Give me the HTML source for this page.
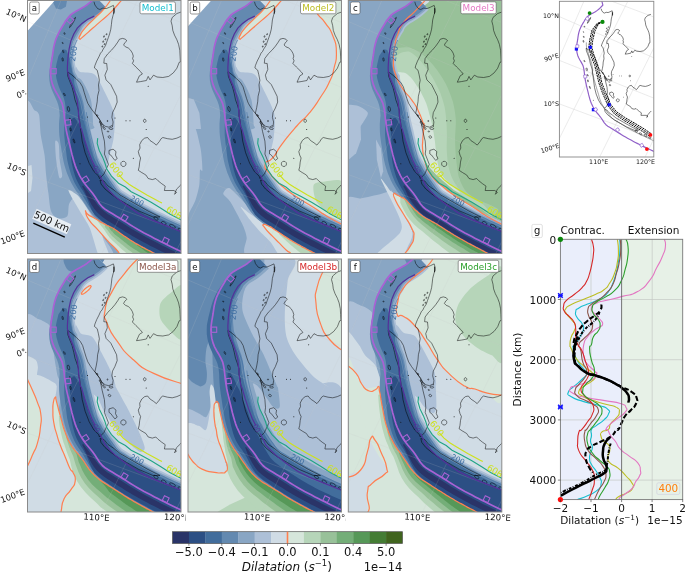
<!DOCTYPE html><html><head><meta charset="utf-8"><title>Dilatation models</title>
<style>html,body{margin:0;padding:0;background:#fff}svg{display:block}text{font-family:"DejaVu Sans","Liberation Sans",sans-serif}</style></head><body>
<svg width="685" height="573" viewBox="0 0 685 573">
<rect width="685" height="573" fill="#fff"/>
<defs><clipPath id="pc"><rect x="0" y="0" width="153.5" height="253.0"/></clipPath></defs>
<g transform="translate(27.5 0.5)"><g clip-path="url(#pc)">
<path d="M-2.0 -2.0 L155.5 -2.0 L155.5 255.0 L-2.0 255.0Z" fill="#d0dce5"/>
<path d="M48.2 67.4 C48.3 63.4 50.1 70.6 52.7 71.5 C55.2 72.4 63.9 71.1 67.4 74.2 C70.9 77.3 76.1 89.4 78.7 94.5 C81.3 99.7 85.5 108.2 86.6 112.6 C87.8 117.1 87.2 125.9 87.3 127.6 C87.4 129.3 87.5 124.0 87.3 125.5 C87.1 127.0 86.6 135.2 85.9 139.1 C85.3 143.0 83.1 151.1 82.1 154.9 C81.1 158.7 80.1 166.2 78.7 167.4 C77.3 168.6 73.4 166.5 71.9 164.0 C70.4 161.4 69.5 153.2 67.4 148.1 C65.3 143.1 58.2 132.5 56.1 126.2 C54.0 120.0 52.6 109.2 51.5 101.3 C50.5 93.5 48.0 71.4 48.2 67.4Z" fill="#adc0d7"/>
<path d="M-115.8 -187.3 L-117.2 -186.0 L-110.4 -192.5 L-103.5 -198.4 L-93.9 -205.9 L-84.1 -212.6 L-82.0 -214.0 L-91.4 -208.2 L-110.3 -195.1 L-134.5 -174.8 L-157.9 -150.3 L-174.4 -129.0 L-184.4 -113.8 L-192.6 -99.9 L-199.5 -87.0 L-207.1 -71.1 L-215.2 -51.2 L-222.5 -29.0 L-227.4 -9.6 L-230.1 3.8 L-231.3 11.2 L-232.7 19.4 L-234.3 31.6 L-235.9 47.7 L-236.8 70.7 L-235.1 102.4 L-229.7 135.5 L-221.8 164.5 L-211.5 191.6 L-202.8 209.9 L-199.8 215.5 L-203.5 207.8 L-210.6 190.4 L-217.1 168.7 L-220.3 153.7 L-221.1 148.5 L-220.8 150.8 L-219.8 158.4 L-218.4 168.1 L-216.3 179.8 L-214.4 189.0 L-212.9 195.4 L-211.5 201.4 L-210.4 206.1 L-209.1 211.6 L-207.2 219.2 L-205.0 227.2 L-201.6 239.0 L-196.3 254.4 L-191.3 267.4 L-185.4 280.9 L-177.0 297.7 L-169.5 311.0 L-161.0 324.4 L-149.6 340.5 L-143.8 347.9 L-143.5 348.3 L-142.9 349.1 L-144.0 347.6 L-140.4 352.7 L-126.6 370.4 L-107.5 391.1 L-86.1 410.3 L-62.8 427.5 L-49.3 435.9 L-46.8 437.5 L-44.3 439.0 L-41.7 440.6 L-39.2 442.2 L-34.7 445.0 L-28.1 449.0 L-21.5 452.9 L-14.9 456.7 L-8.1 460.5 L-2.3 463.7 L2.6 466.2 L7.4 468.7 L12.3 471.2 L17.5 473.8 L22.1 476.1 L26.0 478.1 L30.0 480.0 L34.6 482.2 L39.5 484.6 L44.3 486.8 L48.4 488.7 L51.4 490.1 L54.5 491.5 L165.3 245.3 L163.7 244.6 L162.0 243.8 L158.6 242.2 L155.1 240.6 L151.6 238.9 L148.1 237.2 L144.6 235.5 L141.3 233.9 L138.0 232.3 L134.8 230.6 L131.5 229.0 L128.2 227.2 L124.8 225.4 L121.4 223.6 L118.0 221.7 L114.6 219.8 L111.2 217.7 L107.8 215.7 L104.4 213.5 L100.8 211.3 L97.3 209.1 L93.7 206.9 L90.2 204.7 L87.0 202.9 L84.5 201.0 L82.2 198.9 L80.0 196.6 L77.9 193.8 L75.5 190.3 L72.8 186.7 L70.3 183.3 L67.8 180.2 L65.6 177.5 L63.9 175.1 L62.4 172.6 L60.9 170.1 L59.6 167.5 L58.4 164.6 L57.2 161.6 L56.1 158.5 L55.1 154.9 L54.1 151.1 L53.1 147.2 L52.1 143.1 L51.2 139.1 L50.3 135.2 L49.5 131.6 L48.7 128.0 L48.1 124.6 L47.6 121.0 L47.1 117.3 L46.6 113.2 L46.0 108.9 L45.1 104.3 L43.6 99.5 L41.8 95.1 L39.8 91.0 L37.8 87.4 L36.1 83.9 L34.8 80.6 L33.9 77.2 L33.4 74.0 L33.2 70.7 L33.4 67.1 L33.8 63.6 L34.2 60.0 L34.9 56.2 L35.5 52.4 L36.2 48.9 L37.0 45.6 L38.2 42.2 L39.6 38.7 L41.2 35.3 L43.0 32.0 L44.7 29.0 L46.5 26.4 L48.0 24.3 L49.7 22.5 L51.6 20.9 L54.3 19.1 L57.6 17.1 L61.4 14.9 L65.1 12.3 L68.8 9.4 L72.1 6.5 L73.7 4.9 L75.1 3.6Z" fill="#89a6c4"/>
<path d="M23.9 -1.6 L39.8 -1.6 L38.4 6.3 L33.4 9.0 L28.5 8.1Z" fill="#6389b0"/>
<path d="M-1.8 109.0 C-0.6 89.3 5.3 109.3 7.1 110.0 C8.8 110.7 10.7 111.2 11.6 114.5 C12.4 117.8 12.6 129.3 13.3 134.7 C14.1 140.0 16.4 149.8 17.1 154.8 C17.8 159.8 17.9 167.4 18.4 172.4 C18.9 177.5 20.2 187.5 20.9 192.6 C21.6 197.6 22.2 206.8 23.4 210.2 C24.6 213.5 27.5 217.0 29.7 217.7 C31.9 218.5 38.2 217.7 39.8 215.7 C41.4 213.8 40.4 205.7 41.8 203.1 C43.1 200.5 46.8 194.7 49.8 196.3 C52.9 197.9 61.6 210.0 64.9 215.2 C68.3 220.4 72.7 229.6 75.0 235.3 C77.4 241.1 92.8 255.0 82.6 258.0 C72.3 261.0 9.5 277.9 -1.8 258.0 C-13.0 238.1 -2.9 128.7 -1.8 109.0Z" fill="#adc0d7"/>
<path d="M27.7 141.0 C28.0 138.8 30.6 141.0 31.2 143.5 C31.8 146.0 31.8 155.6 32.2 159.8 C32.7 164.0 34.8 172.7 34.7 174.9 C34.7 177.2 32.5 179.0 31.7 177.0 C30.9 174.9 29.2 164.6 28.7 159.8 C28.2 155.0 27.4 143.1 27.7 141.0Z" fill="#adc0d7"/>
<path d="M0.5 165.4 L4.0 164.4 L5.0 177.5 L3.5 190.5 L0.5 192.6Z" fill="#d0dce5"/>
<path d="M41.0 189.5 C41.5 188.8 47.5 192.3 49.8 194.6 C52.2 196.8 56.6 203.3 58.6 206.4 C60.7 209.5 63.6 214.7 65.4 217.7 C67.3 220.8 71.0 226.0 72.5 229.1 C73.9 232.1 74.9 236.5 76.3 240.4 C77.6 244.2 83.1 255.7 82.6 258.0 C82.1 260.4 75.2 262.0 72.5 258.0 C69.8 254.0 64.9 233.8 62.4 227.8 C59.9 221.8 55.8 216.4 53.6 212.7 C51.4 209.0 47.7 203.2 46.1 200.1 C44.4 197.0 40.5 190.3 41.0 189.5Z" fill="#d0dce5"/>
<path d="M71.5 0.0 L70.2 1.4 L68.8 2.8 L65.6 5.6 L62.2 8.2 L58.7 10.6 L55.0 12.8 L51.6 14.9 L48.6 16.9 L46.3 18.9 L44.2 21.0 L42.4 23.5 L40.5 26.3 L38.6 29.5 L36.8 33.0 L35.0 36.6 L33.5 40.4 L32.2 44.2 L31.3 47.9 L30.6 51.5 L30.0 55.4 L29.3 59.2 L28.8 63.0 L28.4 66.8 L28.2 70.7 L28.4 74.5 L29.0 78.3 L30.1 82.2 L31.5 85.9 L33.3 89.6 L35.3 93.3 L37.3 97.2 L38.9 101.2 L40.2 105.5 L41.0 109.7 L41.6 113.8 L42.1 117.9 L42.6 121.7 L43.2 125.4 L43.8 129.0 L44.6 132.6 L45.4 136.3 L46.3 140.2 L47.3 144.3 L48.3 148.4 L49.3 152.4 L50.3 156.3 L51.4 159.9 L52.5 163.3 L53.8 166.5 L55.1 169.6 L56.5 172.4 L58.1 175.2 L59.8 177.9 L61.6 180.5 L63.9 183.3 L66.3 186.4 L68.8 189.7 L71.4 193.2 L73.8 196.7 L76.2 199.8 L78.7 202.5 L81.4 204.9 L84.3 207.0 L87.6 209.0 L91.1 211.2 L94.6 213.3 L98.2 215.5 L101.7 217.7 L105.2 219.9 L108.7 222.0 L112.1 224.1 L115.6 226.1 L119.0 228.0 L122.5 229.8 L125.9 231.6 L129.2 233.4 L132.5 235.1 L135.8 236.7 L139.1 238.3 L142.4 240.0 L145.9 241.7 L149.4 243.4 L153.0 245.1 L156.4 246.7 L159.9 248.3 L161.6 249.1 L163.2 249.8 L172.3 229.7 L170.8 229.0 L169.2 228.3 L165.8 226.7 L162.4 225.2 L158.9 223.7 L155.4 222.1 L151.9 220.6 L148.5 219.1 L145.3 217.6 L142.2 216.2 L138.9 214.7 L135.6 213.1 L132.2 211.5 L128.9 209.9 L125.6 208.2 L122.4 206.5 L119.1 204.7 L115.8 202.9 L112.3 200.8 L108.6 198.7 L104.9 196.6 L101.4 194.3 L97.8 192.1 L95.3 190.5 L94.0 189.4 L92.8 188.2 L91.7 186.8 L90.3 184.7 L88.1 181.3 L85.2 177.3 L82.8 173.6 L80.4 170.2 L78.6 167.7 L77.6 166.0 L76.7 164.1 L75.4 162.3 L74.4 160.6 L73.2 158.5 L72.1 156.1 L71.1 153.8 L70.1 150.8 L69.1 147.2 L68.2 143.5 L67.3 139.5 L66.3 135.5 L65.5 131.8 L64.7 128.2 L63.9 125.1 L63.2 122.1 L62.5 118.9 L61.8 115.4 L61.1 111.3 L60.3 106.4 L59.2 100.8 L57.4 94.6 L55.1 89.0 L53.4 84.0 L52.1 80.1 L51.6 77.2 L51.6 75.1 L50.5 73.6 L49.7 72.3 L49.0 70.7 L48.5 68.2 L47.8 65.2 L47.2 61.9 L46.8 58.2 L46.4 54.4 L46.8 51.3 L47.2 48.5 L47.9 45.7 L48.8 42.8 L50.1 39.8 L51.6 36.8 L53.0 34.2 L54.4 31.9 L55.4 30.5 L55.8 29.1 L56.6 27.6 L58.5 25.6 L61.3 23.2 L65.2 20.9 L69.5 18.2 L73.6 15.2 L77.3 12.1 L79.1 10.3 L80.4 8.9Z" fill="#adc0d7"/>
<path d="M71.5 0.0 L70.2 1.4 L68.8 2.8 L65.6 5.6 L62.2 8.2 L58.7 10.6 L55.0 12.8 L51.6 14.9 L48.6 16.9 L46.3 18.9 L44.2 21.0 L42.4 23.5 L40.5 26.3 L38.6 29.5 L36.8 33.0 L35.0 36.6 L33.5 40.4 L32.2 44.2 L31.3 47.9 L30.6 51.5 L30.0 55.4 L29.3 59.2 L28.8 63.0 L28.4 66.8 L28.2 70.7 L28.4 74.5 L29.0 78.3 L30.1 82.2 L31.5 85.9 L33.3 89.6 L35.3 93.3 L37.3 97.2 L38.9 101.2 L40.2 105.5 L41.0 109.7 L41.6 113.8 L42.1 117.9 L42.6 121.7 L43.2 125.4 L43.8 129.0 L44.6 132.6 L45.4 136.3 L46.3 140.2 L47.3 144.3 L48.3 148.4 L49.3 152.4 L50.3 156.3 L51.4 159.9 L52.5 163.3 L53.8 166.5 L55.1 169.6 L56.5 172.4 L58.1 175.2 L59.8 177.9 L61.6 180.5 L63.9 183.3 L66.3 186.4 L68.8 189.7 L71.4 193.2 L73.8 196.7 L76.2 199.8 L78.7 202.5 L81.4 204.9 L84.3 207.0 L87.6 209.0 L91.1 211.2 L94.6 213.3 L98.2 215.5 L101.7 217.7 L105.2 219.9 L108.7 222.0 L112.1 224.1 L115.6 226.1 L119.0 228.0 L122.5 229.8 L125.9 231.6 L129.2 233.4 L132.5 235.1 L135.8 236.7 L139.1 238.3 L142.4 240.0 L145.9 241.7 L149.4 243.4 L153.0 245.1 L156.4 246.7 L159.9 248.3 L161.6 249.1 L163.2 249.8 L171.5 231.3 L170.0 230.6 L168.4 229.9 L165.0 228.3 L161.6 226.8 L158.1 225.3 L154.6 223.8 L151.1 222.2 L147.7 220.7 L144.5 219.2 L141.4 217.8 L138.1 216.3 L134.8 214.7 L131.4 213.1 L128.0 211.4 L124.8 209.8 L121.5 208.1 L118.2 206.3 L114.8 204.4 L111.3 202.4 L107.6 200.3 L104.0 198.2 L100.4 195.9 L96.9 193.6 L94.3 192.0 L92.9 190.8 L91.6 189.5 L90.3 187.9 L88.8 185.8 L86.6 182.3 L83.8 178.4 L81.4 174.7 L79.0 171.3 L77.2 168.8 L76.1 167.0 L75.1 165.1 L73.8 163.1 L72.7 161.4 L71.6 159.1 L70.4 156.8 L69.4 154.3 L68.3 151.3 L67.4 147.7 L66.5 143.9 L65.5 139.9 L64.6 135.9 L63.7 132.2 L62.9 128.6 L62.1 125.4 L61.4 122.4 L60.7 119.2 L60.0 115.6 L59.3 111.5 L58.6 106.7 L57.5 101.2 L55.7 95.2 L53.4 89.8 L51.8 84.8 L50.5 80.9 L49.9 77.9 L49.8 75.7 L48.8 74.0 L47.9 72.5 L47.2 70.7 L46.7 68.1 L46.1 65.0 L45.5 61.7 L45.1 57.9 L44.7 54.1 L45.0 50.9 L45.5 48.0 L46.2 45.1 L47.2 42.0 L48.5 39.0 L50.0 35.9 L51.5 33.2 L52.9 30.9 L54.0 29.3 L54.6 27.8 L55.6 26.2 L57.5 24.1 L60.4 21.6 L64.3 19.4 L68.4 16.8 L72.4 13.8 L76.1 10.8 L77.8 9.0 L79.2 7.7Z" fill="#89a6c4"/>
<path d="M33.9 77.2 C32.4 78.1 34.5 79.7 34.8 80.6 C35.1 81.5 35.7 83.0 36.1 83.9 C36.5 84.8 37.3 86.4 37.8 87.4 C38.3 88.3 39.2 90.0 39.8 91.0 C40.3 92.1 41.3 94.0 41.8 95.1 C42.3 96.2 43.2 98.3 43.6 99.5 C44.1 100.8 44.8 103.0 45.1 104.3 C45.4 105.5 45.7 107.7 46.0 108.9 C46.2 110.0 46.4 112.1 46.6 113.2 C46.7 114.3 46.9 116.2 47.1 117.3 C47.2 118.3 47.4 120.0 47.6 121.0 C47.7 122.0 47.9 123.7 48.1 124.6 C48.2 125.5 48.5 127.1 48.7 128.0 C48.9 129.0 47.1 131.6 49.5 131.6 C51.8 131.5 63.9 128.8 66.1 127.9 C68.2 127.0 65.8 125.5 65.7 124.7 C65.6 123.9 65.6 122.6 65.5 121.7 C65.5 120.9 65.4 119.4 65.4 118.5 C65.3 117.6 65.2 116.0 65.2 115.0 C65.1 114.0 65.0 112.0 64.9 110.8 C64.8 109.5 64.6 107.2 64.4 105.7 C64.3 104.3 63.9 101.4 63.5 99.7 C63.1 98.1 61.9 94.9 61.3 93.2 C60.6 91.6 59.3 88.8 58.6 87.4 C57.9 86.0 56.6 83.7 55.9 82.6 C55.3 81.5 54.5 79.9 53.8 79.2 C53.2 78.5 51.8 77.8 51.1 77.4 C50.4 77.0 49.4 76.4 48.8 76.0 C48.2 75.6 48.6 74.3 46.6 74.4 C44.6 74.6 35.5 76.4 33.9 77.2Z" fill="#89a6c4"/>
<path d="M68.0 -3.5 L66.7 -2.2 L65.4 -0.9 L62.4 1.7 L59.2 4.2 L56.0 6.4 L52.5 8.5 L48.9 10.7 L45.6 12.9 L42.8 15.2 L40.4 17.8 L38.3 20.6 L36.2 23.7 L34.2 27.1 L32.3 30.7 L30.4 34.6 L28.8 38.7 L27.4 42.8 L26.4 46.8 L25.7 50.6 L24.8 54.5 L24.0 58.4 L23.2 62.3 L22.6 66.4 L21.9 70.7 L21.6 75.2 L21.9 79.9 L22.7 84.6 L24.2 89.1 L26.1 93.3 L27.9 97.2 L29.5 100.7 L30.7 104.2 L31.5 107.6 L31.9 111.2 L32.2 115.1 L31.8 119.2 L31.5 123.3 L31.5 127.3 L31.6 131.4 L31.9 135.4 L32.4 139.3 L33.0 143.4 L33.7 147.5 L34.3 151.8 L35.1 156.1 L35.9 160.3 L36.9 164.5 L38.1 168.6 L39.4 172.4 L40.9 176.1 L42.6 179.9 L44.4 183.4 L46.3 186.8 L48.6 190.4 L50.9 193.5 L53.0 196.6 L55.2 199.9 L57.4 203.2 L59.7 207.0 L62.6 211.2 L66.1 215.3 L69.9 219.0 L74.1 222.3 L78.0 224.9 L81.3 227.2 L84.7 229.5 L88.1 231.7 L91.5 233.9 L95.1 236.2 L98.7 238.5 L102.4 240.7 L106.1 242.9 L109.7 245.0 L113.3 246.9 L116.8 248.9 L120.3 250.7 L123.7 252.5 L127.0 254.3 L130.4 256.0 L133.8 257.7 L137.2 259.5 L140.8 261.3 L144.4 263.1 L148.0 264.8 L151.5 266.5 L153.3 267.3 L155.0 268.1 L170.8 233.0 L169.3 232.3 L167.7 231.5 L164.3 230.0 L160.8 228.5 L157.3 226.9 L153.8 225.4 L150.3 223.8 L146.9 222.3 L143.7 220.8 L140.5 219.4 L137.3 217.8 L133.9 216.3 L130.5 214.7 L127.2 213.0 L123.9 211.3 L120.6 209.6 L117.2 207.8 L113.9 205.9 L110.4 203.9 L106.7 201.8 L103.0 199.7 L99.5 197.4 L95.9 195.1 L93.3 193.5 L91.8 192.2 L90.3 190.8 L88.9 189.1 L87.4 186.8 L85.1 183.4 L82.4 179.4 L79.9 175.8 L77.6 172.4 L75.7 169.8 L74.6 168.0 L73.6 166.0 L72.2 164.0 L71.1 162.1 L69.9 159.8 L68.7 157.4 L67.7 154.9 L66.6 151.8 L65.6 148.1 L64.7 144.4 L63.8 140.3 L62.8 136.3 L62.0 132.6 L61.2 129.0 L60.3 125.8 L59.6 122.7 L59.0 119.4 L58.2 115.9 L57.5 111.8 L56.8 107.0 L55.7 101.6 L54.0 95.8 L51.8 90.5 L50.2 85.6 L48.9 81.7 L48.3 78.7 L48.1 76.2 L47.0 74.3 L46.1 72.7 L45.4 70.7 L45.0 68.0 L44.3 64.8 L43.7 61.4 L43.3 57.6 L42.9 53.8 L43.3 50.5 L43.8 47.5 L44.5 44.5 L45.5 41.3 L46.9 38.1 L48.4 35.0 L50.0 32.2 L51.5 29.9 L52.6 28.1 L53.3 26.5 L54.5 24.7 L56.5 22.6 L59.4 20.1 L63.3 17.9 L67.4 15.3 L71.3 12.4 L74.9 9.4 L76.6 7.7 L77.9 6.4Z" fill="#6389b0"/>
<path d="M35.6 48.8 L33.2 52.0 L30.9 55.5 L30.0 59.3 L29.1 63.0 L28.4 66.8 L28.2 70.7 L28.4 74.5 L29.0 78.3 L30.1 82.2 L31.3 86.0 L32.9 89.9 L34.7 93.7 L36.3 97.6 L37.4 101.8 L38.0 106.0 L38.2 110.2 L38.2 114.3 L37.5 118.5 L36.9 122.5 L36.7 126.4 L36.7 130.4 L36.7 134.3 L37.1 138.2 L37.5 142.3 L38.0 146.5 L38.6 150.8 L39.1 155.0 L39.7 159.2 L40.6 163.3 L41.6 167.3 L42.7 171.0 L43.9 174.7 L45.4 178.4 L46.9 181.9 L48.7 185.2 L50.9 188.7 L53.1 191.8 L55.1 195.0 L57.2 198.4 L59.3 201.9 L61.5 205.7 L64.3 209.9 L67.5 213.9 L71.1 217.5 L75.1 220.9 L78.9 223.5 L82.2 225.8 L85.5 228.2 L88.9 230.4 L92.3 232.6 L95.9 234.9 L99.5 237.2 L103.2 239.4 L106.8 241.6 L110.4 243.6 L114.0 245.6 L117.5 247.5 L121.0 249.4 L124.3 251.2 L127.7 252.9 L131.0 254.7 L134.4 256.4 L137.9 258.2 L141.5 260.0 L145.1 261.7 L148.6 263.5 L152.1 265.1 L153.9 265.9 L155.6 266.7 L170.0 234.8 L168.4 234.1 L166.8 233.3 L163.4 231.8 L160.0 230.3 L156.5 228.7 L152.9 227.2 L149.5 225.6 L146.1 224.1 L142.8 222.6 L139.6 221.2 L136.4 219.6 L133.0 218.1 L129.6 216.4 L126.2 214.8 L122.9 213.1 L119.5 211.3 L116.2 209.5 L112.8 207.6 L109.3 205.6 L105.6 203.5 L102.0 201.4 L98.4 199.1 L94.9 196.9 L92.2 195.1 L90.5 193.7 L88.9 192.2 L87.4 190.4 L85.8 188.0 L83.5 184.5 L80.8 180.6 L78.4 177.1 L76.0 173.7 L74.1 171.1 L73.0 169.1 L71.9 167.0 L70.4 165.0 L69.2 163.0 L68.0 160.6 L66.7 158.1 L65.6 155.5 L64.5 152.3 L63.5 148.7 L62.5 144.9 L61.5 140.9 L60.5 136.9 L59.6 133.1 L58.7 129.5 L57.8 126.3 L57.0 123.1 L56.2 119.8 L55.4 116.2 L54.5 112.1 L53.7 107.6 L52.6 102.4 L50.8 97.0 L48.6 92.0 L47.6 87.0 L46.8 82.8 L46.6 79.4 L47.0 76.6 L45.9 74.6 L45.1 72.8 L44.5 70.7 L44.2 67.9 L43.2 64.7 L42.4 61.2 L41.8 57.4 L40.4 53.3 L39.0 49.6Z" fill="#426d9c"/>
<path d="M58.2 210.9 C58.4 211.7 59.8 216.9 61.5 219.4 C63.2 221.9 68.4 227.1 70.9 229.9 C73.4 232.7 77.9 237.9 80.2 240.4 C82.5 242.9 86.8 246.8 88.4 248.5 C90.0 250.2 91.2 252.2 91.9 253.2 C92.6 254.2 85.0 254.2 93.5 256.0 C102.0 257.8 147.6 265.4 155.6 266.7 C163.7 268.0 154.4 266.1 153.9 265.9 C153.4 265.7 152.8 265.4 152.1 265.1 C151.4 264.8 149.6 263.9 148.6 263.5 C147.7 263.0 146.0 262.3 145.0 261.8 C144.1 261.3 142.4 260.5 141.4 260.0 C140.4 259.6 138.8 258.8 137.8 258.3 C136.9 257.8 135.2 257.0 134.3 256.6 C133.4 256.1 131.8 255.4 130.9 254.9 C130.0 254.5 128.4 253.7 127.5 253.2 C126.6 252.8 125.1 252.0 124.2 251.5 C123.3 251.1 121.7 250.2 120.8 249.8 C119.8 249.3 118.2 248.4 117.3 247.9 C116.4 247.5 114.7 246.6 113.8 246.1 C112.8 245.6 111.1 244.7 110.2 244.1 C109.2 243.6 107.5 242.6 106.6 242.0 C105.6 241.4 103.9 240.3 103.0 239.7 C102.0 239.1 100.4 238.0 99.4 237.3 C98.5 236.7 96.8 235.5 95.9 234.9 C95.0 234.3 93.3 233.1 92.4 232.5 C91.5 231.8 90.0 230.7 89.1 230.1 C88.2 229.5 86.7 228.3 85.7 227.8 C84.8 227.2 83.0 226.5 82.1 226.0 C81.1 225.5 79.5 224.7 78.4 224.2 C77.4 223.7 75.4 222.8 74.2 222.1 C73.1 221.5 71.0 220.0 69.7 219.2 C68.4 218.5 66.1 217.3 64.8 216.6 C63.5 215.8 60.7 214.3 59.9 213.5 C59.0 212.8 58.0 210.1 58.2 210.9Z" fill="#d6e6db"/>
<path d="M69.4 219.6 C69.8 220.3 71.9 223.2 72.7 224.3 C73.6 225.5 75.2 227.3 75.9 228.3 C76.7 229.3 77.8 231.0 78.4 231.9 C79.1 232.9 80.2 234.6 80.9 235.6 C81.6 236.5 82.9 238.0 83.7 238.8 C84.5 239.6 85.9 240.9 86.7 241.6 C87.5 242.4 89.0 243.8 89.8 244.6 C90.7 245.4 92.3 246.9 93.2 247.7 C94.1 248.5 95.7 249.8 96.6 250.6 C97.5 251.4 99.1 252.8 100.0 253.6 C100.9 254.3 102.6 255.5 103.6 256.2 C104.5 256.9 106.2 257.9 107.1 258.6 C108.1 259.2 109.6 260.2 110.6 260.8 C111.5 261.4 113.0 262.4 113.9 263.0 C114.8 263.5 116.3 264.6 117.2 265.2 C118.1 265.8 119.6 266.8 120.5 267.3 C121.4 267.9 122.9 268.9 123.8 269.5 C124.6 270.0 126.1 271.0 127.0 271.6 C127.9 272.1 129.4 273.1 130.3 273.7 C131.2 274.3 132.8 275.3 133.8 275.9 C134.7 276.5 136.4 277.5 137.3 278.1 C138.3 278.7 139.9 279.7 140.8 280.2 C141.7 280.7 143.6 281.5 144.3 281.9 C145.0 282.2 145.7 282.5 146.2 282.8 C146.7 283.0 146.8 285.7 148.0 283.6 C149.3 281.4 154.8 269.1 155.6 266.7 C156.4 264.4 154.4 266.1 153.9 265.9 C153.4 265.7 152.8 265.4 152.1 265.1 C151.4 264.8 149.6 263.9 148.6 263.5 C147.7 263.0 146.0 262.3 145.0 261.8 C144.1 261.3 142.4 260.5 141.4 260.0 C140.4 259.6 138.8 258.8 137.8 258.3 C136.9 257.8 135.2 257.0 134.3 256.6 C133.4 256.1 131.8 255.4 130.9 254.9 C130.0 254.5 128.4 253.7 127.5 253.2 C126.6 252.8 125.1 252.0 124.2 251.5 C123.3 251.1 121.7 250.2 120.8 249.8 C119.8 249.3 118.2 248.4 117.3 247.9 C116.4 247.5 114.7 246.6 113.8 246.1 C112.8 245.6 111.1 244.7 110.2 244.1 C109.2 243.6 107.5 242.6 106.6 242.0 C105.6 241.4 103.9 240.3 103.0 239.7 C102.0 239.1 100.4 238.0 99.4 237.3 C98.5 236.7 96.8 235.5 95.9 234.9 C95.0 234.3 93.3 233.1 92.4 232.5 C91.5 231.8 90.0 230.7 89.1 230.1 C88.2 229.5 86.7 228.3 85.7 227.8 C84.8 227.2 83.0 226.5 82.1 226.0 C81.1 225.5 79.5 224.7 78.4 224.2 C77.4 223.7 75.4 222.8 74.2 222.1 C73.1 221.5 70.3 219.6 69.7 219.2 C69.1 218.9 69.0 219.0 69.4 219.6Z" fill="#b6d5b9"/>
<path d="M77.3 226.0 C77.5 226.7 79.2 228.6 79.9 229.5 C80.6 230.5 81.8 232.2 82.5 233.0 C83.2 233.9 84.5 235.4 85.3 236.2 C86.1 236.9 87.6 238.1 88.4 238.9 C89.3 239.6 90.8 241.0 91.7 241.7 C92.5 242.5 94.2 243.8 95.1 244.6 C96.0 245.3 97.6 246.7 98.5 247.4 C99.4 248.1 101.0 249.4 101.9 250.1 C102.9 250.8 104.5 252.0 105.5 252.7 C106.4 253.3 108.1 254.3 109.1 254.9 C110.0 255.5 111.6 256.5 112.5 257.1 C113.4 257.6 115.0 258.6 115.9 259.2 C116.8 259.7 118.3 260.7 119.2 261.3 C120.1 261.9 121.6 262.8 122.5 263.4 C123.4 263.9 124.9 264.9 125.8 265.4 C126.6 265.9 128.1 266.9 129.0 267.4 C129.9 268.0 131.5 268.9 132.4 269.5 C133.3 270.0 134.9 271.0 135.9 271.6 C136.8 272.1 138.5 273.1 139.4 273.7 C140.4 274.2 142.0 275.2 142.9 275.7 C143.8 276.2 145.7 277.0 146.4 277.3 C147.1 277.7 147.8 278.0 148.3 278.2 C148.8 278.4 149.1 280.6 150.1 279.0 C151.1 277.5 155.1 268.5 155.6 266.7 C156.1 265.0 154.4 266.1 153.9 265.9 C153.4 265.7 152.8 265.4 152.1 265.1 C151.4 264.8 149.6 263.9 148.6 263.5 C147.7 263.0 146.0 262.3 145.0 261.8 C144.1 261.3 142.4 260.5 141.4 260.0 C140.4 259.6 138.8 258.8 137.8 258.3 C136.9 257.8 135.2 257.0 134.3 256.6 C133.4 256.1 131.8 255.4 130.9 254.9 C130.0 254.5 128.4 253.7 127.5 253.2 C126.6 252.8 125.1 252.0 124.2 251.5 C123.3 251.1 121.7 250.2 120.8 249.8 C119.8 249.3 118.2 248.4 117.3 247.9 C116.4 247.5 114.7 246.6 113.8 246.1 C112.8 245.6 111.1 244.7 110.2 244.1 C109.2 243.6 107.5 242.6 106.6 242.0 C105.6 241.4 103.9 240.3 103.0 239.7 C102.0 239.1 100.4 238.0 99.4 237.3 C98.5 236.7 96.8 235.5 95.9 234.9 C95.0 234.3 93.3 233.1 92.4 232.5 C91.5 231.8 90.0 230.7 89.1 230.1 C88.2 229.5 86.7 228.3 85.7 227.8 C84.8 227.2 83.0 226.5 82.1 226.0 C81.1 225.5 79.0 224.2 78.4 224.2 C77.8 224.2 77.1 225.3 77.3 226.0Z" fill="#98c199"/>
<path d="M81.5 227.0 C81.7 227.6 83.3 229.6 84.1 230.5 C84.8 231.4 86.1 232.8 86.9 233.5 C87.8 234.3 89.3 235.4 90.1 236.1 C91.0 236.8 92.6 238.1 93.5 238.8 C94.4 239.5 96.0 240.8 96.9 241.5 C97.8 242.2 99.5 243.5 100.4 244.2 C101.3 244.9 102.9 246.1 103.9 246.7 C104.8 247.4 106.5 248.5 107.4 249.1 C108.4 249.7 110.1 250.7 111.0 251.3 C111.9 251.9 113.5 252.8 114.4 253.4 C115.4 253.9 116.9 254.9 117.8 255.4 C118.7 255.9 120.3 256.9 121.2 257.4 C122.1 257.9 123.6 258.9 124.5 259.4 C125.3 259.9 126.9 260.8 127.8 261.3 C128.6 261.8 130.2 262.7 131.1 263.3 C132.0 263.8 133.5 264.7 134.4 265.2 C135.4 265.7 137.0 266.7 138.0 267.2 C138.9 267.8 140.6 268.7 141.5 269.2 C142.5 269.8 144.1 270.7 145.0 271.2 C145.9 271.7 147.8 272.5 148.5 272.8 C149.2 273.1 149.9 273.4 150.4 273.7 C150.8 273.9 151.4 275.4 152.1 274.5 C152.8 273.5 155.4 267.8 155.6 266.7 C155.9 265.6 154.4 266.1 153.9 265.9 C153.4 265.7 152.8 265.4 152.1 265.1 C151.4 264.8 149.6 263.9 148.6 263.5 C147.7 263.0 146.0 262.3 145.0 261.8 C144.1 261.3 142.4 260.5 141.4 260.0 C140.4 259.6 138.8 258.8 137.8 258.3 C136.9 257.8 135.2 257.0 134.3 256.6 C133.4 256.1 131.8 255.4 130.9 254.9 C130.0 254.5 128.4 253.7 127.5 253.2 C126.6 252.8 125.1 252.0 124.2 251.5 C123.3 251.1 121.7 250.2 120.8 249.8 C119.8 249.3 118.2 248.4 117.3 247.9 C116.4 247.5 114.7 246.6 113.8 246.1 C112.8 245.6 111.1 244.7 110.2 244.1 C109.2 243.6 107.5 242.6 106.6 242.0 C105.6 241.4 103.9 240.3 103.0 239.7 C102.0 239.1 100.4 238.0 99.4 237.3 C98.5 236.7 96.8 235.5 95.9 234.9 C95.0 234.3 93.3 233.1 92.4 232.5 C91.5 231.8 90.0 230.7 89.1 230.1 C88.2 229.5 86.7 228.3 85.7 227.8 C84.8 227.2 82.6 226.1 82.1 226.0 C81.5 225.9 81.2 226.4 81.5 227.0Z" fill="#74ae78"/>
<path d="M109.7 244.9 C110.1 245.3 112.2 246.7 113.1 247.3 C114.0 248.0 115.5 249.1 116.4 249.7 C117.2 250.3 118.7 251.5 119.6 252.0 C120.5 252.6 122.0 253.5 122.9 254.0 C123.8 254.5 125.3 255.5 126.2 256.0 C127.1 256.5 128.6 257.4 129.5 257.9 C130.3 258.4 131.9 259.3 132.8 259.8 C133.7 260.3 135.2 261.2 136.2 261.7 C137.1 262.2 138.7 263.1 139.7 263.7 C140.6 264.2 142.3 265.1 143.2 265.6 C144.2 266.2 145.8 267.1 146.7 267.6 C147.6 268.0 149.5 268.9 150.2 269.2 C150.9 269.5 151.5 269.8 152.0 270.0 C152.5 270.2 153.3 271.3 153.8 270.8 C154.3 270.4 155.6 267.4 155.6 266.7 C155.6 266.1 154.4 266.1 153.9 265.9 C153.4 265.7 152.8 265.4 152.1 265.1 C151.4 264.8 149.6 263.9 148.6 263.5 C147.7 263.0 146.0 262.3 145.0 261.8 C144.1 261.3 142.4 260.5 141.4 260.0 C140.4 259.6 138.8 258.8 137.8 258.3 C136.9 257.8 135.2 257.0 134.3 256.6 C133.4 256.1 131.8 255.4 130.9 254.9 C130.0 254.5 128.4 253.7 127.5 253.2 C126.6 252.8 125.1 252.0 124.2 251.5 C123.3 251.1 121.7 250.2 120.8 249.8 C119.8 249.3 118.2 248.4 117.3 247.9 C116.4 247.5 114.7 246.6 113.8 246.1 C112.8 245.6 110.7 244.3 110.2 244.1 C109.6 244.0 109.4 244.5 109.7 244.9Z" fill="#569858"/>
<path d="M45.1 117.5 L43.6 121.6 L42.8 125.4 L42.5 129.3 L42.6 133.0 L42.8 136.9 L43.0 141.0 L43.1 145.3 L43.2 149.6 L43.4 153.9 L43.6 158.2 L44.2 162.2 L45.0 166.1 L45.9 169.7 L46.9 173.3 L48.1 176.9 L49.5 180.3 L51.2 183.6 L53.1 187.0 L55.2 190.1 L57.2 193.4 L59.2 196.9 L60.7 200.8 L62.3 205.1 L64.4 209.7 L67.1 214.2 L70.9 217.8 L74.9 221.0 L78.8 223.6 L82.2 225.8 L85.6 228.0 L89.0 230.2 L92.5 232.4 L96.0 234.7 L99.7 236.9 L103.3 239.1 L107.0 241.2 L110.6 243.3 L114.2 245.2 L117.7 247.1 L121.2 248.9 L124.6 250.7 L128.0 252.4 L131.3 254.0 L134.7 255.7 L138.2 257.4 L141.8 259.2 L145.5 260.9 L149.0 262.6 L152.5 264.2 L154.3 265.0 L156.0 265.8 L168.6 238.0 L167.0 237.3 L165.3 236.5 L161.9 234.9 L158.5 233.4 L154.9 231.9 L151.4 230.3 L147.9 228.8 L144.5 227.2 L141.3 225.8 L138.0 224.3 L134.7 222.7 L131.4 221.1 L128.0 219.5 L124.5 217.8 L121.2 216.1 L117.8 214.4 L114.4 212.5 L111.0 210.6 L107.4 208.6 L103.8 206.5 L100.1 204.4 L96.6 202.1 L93.1 199.9 L90.2 198.2 L88.2 196.6 L86.3 194.8 L84.5 192.8 L82.6 190.3 L80.3 186.8 L77.6 183.0 L75.3 179.4 L73.1 176.0 L71.2 173.3 L70.0 171.1 L68.8 168.8 L67.4 166.6 L66.1 164.5 L64.8 161.9 L63.5 159.3 L62.3 156.5 L61.2 153.3 L60.0 149.6 L58.9 145.8 L57.8 141.8 L56.6 137.8 L55.5 134.0 L54.3 130.5 L53.3 127.2 L51.8 124.0 L49.8 120.7 L47.1 117.3Z" fill="#2c4f84"/>
<path d="M54.6 185.8 L56.4 189.2 L58.0 192.8 L59.6 196.6 L61.8 200.1 L63.9 203.9 L66.5 207.9 L69.6 211.7 L73.1 215.1 L77.0 218.0 L80.7 220.4 L84.1 222.6 L87.6 224.8 L91.0 227.0 L94.5 229.1 L98.1 231.4 L101.7 233.6 L105.3 235.7 L108.9 237.8 L112.5 239.8 L116.1 241.7 L119.6 243.6 L123.0 245.4 L126.4 247.1 L129.8 248.8 L133.1 250.5 L136.5 252.1 L140.0 253.8 L143.6 255.6 L147.2 257.3 L150.7 259.0 L154.2 260.6 L156.0 261.4 L157.7 262.2 L159.9 257.1 L158.3 256.4 L156.5 255.6 L153.1 254.0 L149.5 252.3 L146.0 250.6 L142.4 248.8 L139.0 247.1 L135.6 245.4 L132.3 243.8 L129.0 242.1 L125.6 240.3 L122.2 238.6 L118.8 236.7 L115.3 234.8 L111.7 232.8 L108.2 230.8 L104.7 228.7 L101.1 226.5 L97.6 224.2 L94.1 222.0 L90.6 219.8 L87.1 217.7 L83.6 215.6 L80.0 213.4 L76.6 210.8 L73.4 207.9 L70.4 204.7 L67.7 201.1 L65.3 197.6 L62.8 194.2 L60.4 191.0 L58.0 187.9 L55.7 185.0Z" fill="#2a3468"/>
<path d="M83.7 -1.2 C81.2 0.1 78.6 6.0 76.4 8.6 C74.3 11.1 69.7 15.3 67.4 17.6 C65.0 20.0 60.7 24.1 58.8 26.2 C56.9 28.3 54.3 31.8 53.4 33.4 C52.5 35.1 51.6 38.1 52.0 38.4 C52.4 38.7 54.3 37.1 56.1 35.7 C57.8 34.3 62.7 29.9 65.1 27.8 C67.5 25.7 71.8 22.0 74.2 19.9 C76.6 17.8 81.1 14.0 83.2 11.9 C85.3 9.9 88.4 6.2 90.0 4.5 C91.6 2.7 95.8 -0.4 95.0 -1.2 C94.2 -1.9 86.2 -2.5 83.7 -1.2Z" fill="#d6e6db"/>
<path d="M0.0 0.0 L27.3 0.0 L0.0 30.5Z" fill="#fff"/>
<g stroke="#c8c8c8" stroke-width="0.5" opacity="0.32"><line x1="0.0" y1="21.0" x2="153.5" y2="87.0"/><line x1="0.0" y1="97.0" x2="153.5" y2="158.0"/><line x1="0.0" y1="174.0" x2="153.5" y2="231.0"/><line x1="96.0" y1="-0.5" x2="153.5" y2="22.0"/><line x1="0.0" y1="79.5" x2="33.7" y2="-0.5"/><line x1="0.0" y1="224.5" x2="110.2" y2="-0.5"/><line x1="74.2" y1="253.0" x2="153.5" y2="94.0"/><line x1="147.5" y1="253.0" x2="153.5" y2="241.0"/></g>
<path d="M93.5 256.0 C93.0 255.1 93.6 255.7 91.9 253.2 C90.2 250.7 92.3 252.8 88.4 248.5 C84.5 244.2 86.0 246.6 80.2 240.4 C74.4 234.2 77.1 236.9 70.9 229.9 C64.7 222.9 65.7 225.7 61.5 219.4 C57.3 213.1 58.7 212.9 58.2 210.9 C57.7 208.9 57.7 211.7 59.9 213.5 C62.1 215.4 61.5 214.7 64.8 216.6 C68.1 218.5 66.6 217.4 69.7 219.2 C72.8 221.1 71.3 220.5 74.2 222.1 C77.1 223.8 75.8 222.9 78.4 224.2 C81.0 225.5 79.6 224.8 82.1 226.0 C84.5 227.2 83.4 226.4 85.7 227.8 C88.1 229.2 86.8 228.6 89.1 230.1 C91.3 231.7 90.2 230.9 92.4 232.5 C94.7 234.1 93.6 233.3 95.9 234.9 C98.2 236.5 97.1 235.7 99.4 237.3 C101.8 238.9 100.6 238.1 103.0 239.7 C105.4 241.2 104.2 240.5 106.6 242.0 C108.9 243.5 107.8 242.8 110.2 244.1 C112.6 245.5 111.4 244.8 113.8 246.1 C116.2 247.3 115.0 246.7 117.3 247.9 C119.6 249.2 118.5 248.6 120.8 249.8 C123.1 250.9 121.9 250.4 124.2 251.5 C126.4 252.7 125.3 252.1 127.5 253.2 C129.8 254.4 128.7 253.8 130.9 254.9 C133.2 256.0 132.0 255.5 134.3 256.6 C136.6 257.7 135.5 257.1 137.8 258.3 C140.2 259.5 139.0 258.9 141.4 260.0 C143.8 261.2 142.6 260.6 145.0 261.8 C147.4 262.9 146.3 262.4 148.6 263.5 C151.0 264.6 150.3 264.3 152.1 265.1 C153.9 265.9 152.7 265.4 153.9 265.9 C155.1 266.5 155.0 266.5 155.6 266.7" fill="none" stroke="#ff7f50" stroke-width="1.2" stroke-linejoin="round"/>
<path d="M83.7 -1.2 C81.3 2.1 81.9 2.3 76.4 8.6 C71.0 14.8 73.3 11.7 67.4 17.6 C61.5 23.5 63.5 20.9 58.8 26.2 C54.1 31.5 55.6 29.4 53.4 33.4 C51.1 37.5 51.1 37.7 52.0 38.4 C52.9 39.2 51.7 39.3 56.1 35.7 C60.4 32.2 59.1 33.1 65.1 27.8 C71.2 22.5 68.1 25.1 74.2 19.9 C80.2 14.6 77.9 17.1 83.2 11.9 C88.5 6.8 86.1 8.9 90.0 4.5 C93.9 0.1 93.3 0.7 95.0 -1.2" fill="none" stroke="#ff7f50" stroke-width="1.2" stroke-linejoin="round"/>
<path d="M49.5 39.5 L48.1 42.4 L46.9 45.4 L46.0 48.1 L45.4 51.0 L44.8 54.1 L44.2 57.8 L43.6 61.4 L43.2 64.7 L42.9 67.8 L42.7 70.7 L42.7 73.0 L43.0 75.2 L43.6 77.7 L44.5 80.3 L45.9 83.2 L47.8 86.8 L50.0 91.3 L52.2 96.5 L54.0 102.1 L55.1 107.3 L55.8 112.0 L56.4 116.1 L57.0 119.7 L57.5 123.1 L58.1 126.2 L58.9 129.5 L59.8 133.1 L60.7 136.8 L61.7 140.8 L62.7 144.8 L63.7 148.6 L64.8 152.3 L65.5 155.5 L66.3 158.3 L67.2 161.0 L68.1 163.5 L69.0 165.7 L70.1 168.0 L71.3 170.2 L72.5 172.3 L74.4 174.9 L76.8 178.3 L79.2 181.8 L82.0 185.6 L84.5 189.0 L86.3 191.3 L88.1 193.0 L89.9 194.5 L91.7 195.8 L94.6 197.4 L98.2 199.5 L101.8 201.7 L105.4 203.8 L109.0 206.0 L112.5 208.1 L115.8 210.1 L119.2 212.0 L122.5 213.8 L125.8 215.6 L129.1 217.3 L132.5 219.0 L135.8 220.7 L139.1 222.2 L142.3 223.8 L145.5 225.3 L148.9 226.8 L152.3 228.4 L155.8 230.0 L159.3 231.6 L162.8 233.1 L166.2 234.7" fill="none" stroke="#3f6fa3" stroke-width="0.6"/><path d="M58.8 111.6 L59.4 115.7 L59.9 119.3 L60.5 122.6 L61.1 125.6 L61.8 128.9 L62.7 132.4 L63.6 136.1 L64.6 140.1 L65.6 144.1 L66.6 147.9 L67.7 151.5 L68.4 154.6 L69.1 157.2 L69.9 159.8 L70.8 162.3 L71.6 164.3 L72.7 166.5 L73.8 168.6 L74.9 170.5 L76.8 173.0 L79.2 176.5 L81.6 180.0 L84.5 183.8 L86.9 187.2 L88.6 189.3 L90.2 190.9 L91.8 192.2 L93.4 193.3 L96.1 194.9 L99.7 197.0 L103.4 199.1 L107.0 201.3 L110.6 203.5 L114.1 205.6 L117.4 207.5 L120.7 209.4 L124.0 211.2 L127.2 212.9 L130.5 214.7 L133.9 216.4 L137.2 218.0 L140.4 219.6 L143.6 221.1 L146.8 222.6 L150.2 224.1 L153.7 225.7 L157.1 227.3 L160.6 228.9 L164.1 230.4 L167.5 232.0" fill="none" stroke="#3f6fa3" stroke-width="0.5"/><g fill="none" stroke="#000" stroke-width="0.5" stroke-linejoin="round"><path d="M66.5 1.3 L67.4 4.5 L70.1 8.1 L72.4 9.0 L75.3 7.6 L78.7 8.1 L82.1 6.7 L85.9 4.9 L86.9 8.6 L86.2 13.1 L86.2 7.7 L86.8 11.2 L85.6 14.7 L84.4 19.4 L83.9 24.1 L83.3 28.7 L82.1 33.4 L80.9 36.9 L79.2 41.6 L78.0 45.1 L75.7 48.6 L74.5 51.0 L73.0 52.7 L71.5 56.1 L69.2 60.6 L67.4 65.1 L66.9 67.4 L69.7 69.7 L70.8 74.2 L71.9 79.8 L71.0 84.4 L71.5 90.0 L70.1 95.7 L69.7 101.3 L68.7 107.0 L67.4 112.6 L69.7 116.0 L72.4 119.4 L74.2 122.8 L77.6 125.8 L81.4 126.7 L84.4 125.1 L85.0 126.2 L85.6 121.5 L84.4 116.8 L85.0 112.1 L87.4 107.5 L89.7 101.6 L89.1 95.8 L86.2 89.9 L83.3 84.1 L78.6 79.4 L77.4 74.7 L79.8 68.9 L79.2 63.0 L76.3 62.7 L76.8 58.0 L80.3 53.3 L83.9 49.8 L87.4 45.7 L90.3 41.6 L92.0 38.7 L95.0 37.9 L97.9 38.7 L99.3 40.4 L97.3 42.2 L96.1 44.5 L97.9 46.3 L100.8 47.5 L103.2 49.8 L104.9 52.7 L105.8 55.6 L105.1 58.0 L106.1 60.3 L104.9 63.0 L108.4 66.5 L113.1 71.2 L114.9 73.5 L111.9 75.3 L109.0 81.7 L113.1 81.1 L118.9 80.0 L120.7 75.9 L122.5 79.4 L126.0 74.7 L129.5 76.5 L135.3 77.0 L141.2 75.9 L145.8 72.4 L149.4 67.7 L151.7 61.8 L152.9 61.5 L152.6 55.6 L152.3 49.8 L151.1 43.9 L149.4 39.3 L147.0 34.6 L145.3 29.9 L144.7 25.2 L143.5 20.6 L144.7 17.0 L149.4 13.0 L154.5 11.2"/><path d="M39.9 71.2 L40.4 75.9 L42.2 80.6 L44.5 86.4 L46.3 93.4 L47.5 99.3 L49.2 103.9 L51.0 109.8 L51.0 115.6 L52.1 120.3 L53.0 127.7 L54.7 140.6 L57.6 152.2 L61.7 162.8 L66.4 171.0 L71.1 175.6 L72.0 178.0 L72.5 177.5 L76.4 173.5 L78.1 169.8 L81.0 163.9 L78.5 157.5 L76.9 153.5 L77.5 148.7 L76.9 140.6 L74.6 131.2 L72.3 119.5 L69.7 115.6 L66.2 111.5 L63.2 107.5 L60.3 102.8 L58.6 98.1 L56.8 92.2 L55.1 86.4 L52.7 82.3 L48.6 78.2 L43.9 74.1 L39.9 71.2"/><path d="M81.5 149.9 L85.6 148.7 L88.5 151.1 L88.0 154.6 L89.7 158.1 L87.4 159.9 L85.0 156.9 L83.3 154.6 L81.5 153.4 L81.5 149.9"/><path d="M98.5 163.4 L98.2 164.7 L97.2 165.7 L95.9 166.0 L94.6 165.7 L93.6 164.7 L93.3 163.4 L93.6 162.1 L94.6 161.1 L95.9 160.8 L97.2 161.1 L98.2 162.1 L98.5 163.4"/><path d="M154.5 135.3 L149.4 137.6 L144.7 138.8 L140.0 138.2 L135.3 137.0 L133.6 138.2 L131.8 141.1 L128.9 144.6 L126.0 142.3 L122.5 140.0 L120.1 137.0 L117.2 137.6 L114.3 140.0 L112.2 144.1 L112.5 147.6 L110.8 151.1 L111.7 154.6 L113.1 157.5 L112.2 161.6 L111.7 166.3 L110.8 169.8 L114.3 172.1 L118.4 174.5 L120.7 178.0 L124.8 179.1 L128.3 178.0 L130.6 180.3 L134.2 183.2 L137.7 185.6 L136.9 190.0 L146.5 190.0 L149.0 191.9 L147.1 193.8 L149.0 188.7 L152.9 184.9 L155.0 182.3"/><path d="M72.5 179.5 L76.5 180.5 L80.5 185.5 L86.5 189.5 L92.5 194.5 L99.5 198.5 L106.5 202.5 L113.5 206.5 L120.5 210.5 L126.5 213.5 L132.5 216.5 L125.5 216.5 L118.5 213.5 L111.5 210.5 L104.5 206.5 L97.5 202.5 L90.5 198.5 L83.5 193.5 L77.5 188.5 L73.5 183.5 L72.5 179.5"/><path d="M130.6 219.2 L130.0 219.6 L129.0 219.6 L127.9 219.1 L126.9 218.4 L126.4 217.6 L126.4 216.8 L127.0 216.4 L128.0 216.4 L129.1 216.9 L130.1 217.6 L130.6 218.4 L130.6 219.2"/><path d="M138.6 223.9 L137.9 224.4 L136.9 224.4 L135.6 223.9 L134.6 223.1 L134.0 222.2 L134.0 221.5 L134.7 221.0 L135.7 221.0 L137.0 221.5 L138.0 222.3 L138.6 223.2 L138.6 223.9"/><path d="M147.8 227.3 L147.1 227.7 L145.8 227.6 L144.3 227.0 L143.0 226.1 L142.2 225.1 L142.2 224.3 L142.9 223.9 L144.2 224.0 L145.7 224.6 L147.0 225.5 L147.8 226.5 L147.8 227.3"/><path d="M154.4 230.4 L153.9 230.7 L153.0 230.7 L151.9 230.4 L151.0 229.7 L150.5 228.9 L150.6 228.2 L151.1 227.9 L152.0 227.9 L153.1 228.2 L154.0 228.9 L154.5 229.7 L154.4 230.4"/><path d="M37.6 95.4 L37.3 95.4 L36.8 94.9 L36.4 94.3 L36.1 93.5 L36.0 92.9 L36.2 92.6 L36.5 92.6 L37.0 93.1 L37.4 93.7 L37.7 94.5 L37.8 95.1 L37.6 95.4"/><path d="M41.6 111.0 L41.0 110.8 L40.4 110.0 L39.9 108.7 L39.8 107.4 L40.0 106.4 L40.4 106.0 L41.0 106.2 L41.6 107.0 L42.1 108.3 L42.2 109.6 L42.0 110.6 L41.6 111.0"/><path d="M43.4 120.6 L43.0 120.5 L42.6 120.0 L42.2 119.3 L42.0 118.5 L42.0 117.9 L42.2 117.6 L42.6 117.7 L43.0 118.2 L43.4 118.9 L43.6 119.7 L43.6 120.3 L43.4 120.6"/><path d="M43.5 130.6 L43.1 130.5 L42.7 129.9 L42.4 129.1 L42.3 128.2 L42.3 127.5 L42.5 127.2 L42.9 127.3 L43.3 127.9 L43.6 128.7 L43.7 129.6 L43.7 130.3 L43.5 130.6"/><path d="M47.2 142.6 L46.8 142.4 L46.4 141.7 L45.9 140.7 L45.7 139.6 L45.6 138.8 L45.8 138.4 L46.2 138.6 L46.6 139.3 L47.1 140.3 L47.3 141.4 L47.4 142.2 L47.2 142.6"/><path d="M48.0 16.8 L47.9 17.7 L47.0 19.7 L45.6 22.3 L44.0 24.9 L42.7 26.7 L42.0 27.2 L42.1 26.3 L43.0 24.3 L44.4 21.7 L46.0 19.1 L47.3 17.3 L48.0 16.8"/><path d="M37.5 33.8 L37.3 33.9 L36.9 33.7 L36.6 33.3 L36.4 32.8 L36.3 32.4 L36.5 32.2 L36.7 32.1 L37.1 32.3 L37.4 32.7 L37.6 33.2 L37.7 33.6 L37.5 33.8"/><path d="M35.6 43.1 L35.4 43.1 L35.1 43.0 L34.9 42.7 L34.7 42.4 L34.7 42.1 L34.8 41.9 L35.0 41.9 L35.3 42.0 L35.5 42.3 L35.7 42.6 L35.7 42.9 L35.6 43.1"/><path d="M36.1 52.3 L35.8 52.2 L35.5 51.8 L35.2 51.1 L35.1 50.4 L35.1 49.9 L35.3 49.7 L35.6 49.8 L35.9 50.2 L36.2 50.9 L36.3 51.6 L36.3 52.1 L36.1 52.3"/><path d="M35.5 60.8 L35.2 60.6 L34.8 60.0 L34.6 59.1 L34.5 58.2 L34.6 57.5 L34.9 57.2 L35.2 57.4 L35.6 58.0 L35.8 58.9 L35.9 59.8 L35.8 60.5 L35.5 60.8"/><path d="M118.5 120.3 L118.3 121.1 L117.8 121.7 L117.2 121.9 L116.5 121.7 L116.1 121.1 L115.9 120.3 L116.1 119.5 L116.5 118.9 L117.2 118.7 L117.8 118.9 L118.3 119.5 L118.5 120.3"/><path d="M74.0 123.6 L73.5 123.6 L73.0 123.4 L72.4 122.8 L72.0 122.1 L71.8 121.5 L72.0 121.0 L72.5 121.0 L73.0 121.2 L73.6 121.8 L74.0 122.5 L74.2 123.1 L74.0 123.6"/><path d="M75.7 126.3 L75.3 126.4 L74.7 126.2 L74.1 125.7 L73.7 125.0 L73.6 124.4 L73.9 123.9 L74.3 123.8 L74.9 124.0 L75.5 124.5 L75.9 125.2 L76.0 125.8 L75.7 126.3"/><path d="M77.7 128.8 L77.3 128.9 L76.7 128.8 L76.1 128.4 L75.7 127.8 L75.6 127.2 L75.7 126.8 L76.1 126.7 L76.7 126.8 L77.3 127.2 L77.7 127.8 L77.8 128.4 L77.7 128.8"/><path d="M85.4 128.3 L85.1 128.7 L84.4 129.0 L83.4 129.0 L82.5 128.8 L81.8 128.4 L81.6 127.9 L81.9 127.5 L82.6 127.2 L83.6 127.2 L84.5 127.4 L85.2 127.8 L85.4 128.3"/><path d="M83.2 137.2 L82.8 137.6 L82.2 137.7 L81.5 137.5 L80.9 137.0 L80.7 136.4 L80.8 135.8 L81.2 135.4 L81.8 135.3 L82.5 135.5 L83.1 136.0 L83.3 136.6 L83.2 137.2"/><path d="M70.3 115.7 L69.9 115.8 L69.6 115.7 L69.2 115.4 L69.0 115.0 L69.0 114.6 L69.1 114.3 L69.5 114.2 L69.8 114.3 L70.2 114.6 L70.4 115.0 L70.4 115.4 L70.3 115.7"/><path d="M76.8 35.2 L77.0 35.4 L77.0 35.7 L76.9 36.2 L76.7 36.6 L76.4 36.8 L76.2 36.8 L76.0 36.6 L76.0 36.3 L76.1 35.8 L76.3 35.4 L76.6 35.2 L76.8 35.2"/><path d="M78.3 38.1 L78.4 38.2 L78.5 38.6 L78.4 38.9 L78.2 39.3 L77.9 39.5 L77.7 39.5 L77.6 39.4 L77.5 39.0 L77.6 38.7 L77.8 38.3 L78.1 38.1 L78.3 38.1"/><path d="M76.0 40.3 L76.2 40.5 L76.2 40.8 L76.1 41.3 L75.9 41.7 L75.6 41.9 L75.4 41.9 L75.2 41.7 L75.2 41.4 L75.3 40.9 L75.5 40.5 L75.8 40.3 L76.0 40.3"/><path d="M77.4 43.0 L77.5 43.2 L77.5 43.5 L77.5 43.8 L77.3 44.2 L77.1 44.3 L76.8 44.4 L76.7 44.2 L76.7 43.9 L76.7 43.6 L76.9 43.2 L77.1 43.1 L77.4 43.0"/><path d="M79.4 33.1 L79.5 33.3 L79.5 33.6 L79.5 33.9 L79.3 34.3 L79.1 34.4 L78.8 34.5 L78.7 34.3 L78.7 34.0 L78.7 33.7 L78.9 33.3 L79.1 33.2 L79.4 33.1"/><path d="M75.1 45.3 L75.2 45.5 L75.2 45.8 L75.2 46.1 L75.0 46.5 L74.8 46.6 L74.5 46.7 L74.4 46.5 L74.4 46.2 L74.4 45.9 L74.6 45.5 L74.8 45.4 L75.1 45.3"/><path d="M81.3 131.2 L81.1 131.4 L80.8 131.5 L80.4 131.5 L80.0 131.3 L79.8 131.0 L79.7 130.8 L79.9 130.6 L80.2 130.5 L80.6 130.5 L81.0 130.7 L81.2 131.0 L81.3 131.2"/><path d="M80.6 120.5 L80.5 120.8 L80.3 120.9 L80.0 121.0 L79.7 120.9 L79.5 120.8 L79.4 120.5 L79.5 120.2 L79.7 120.1 L80.0 120.0 L80.3 120.1 L80.5 120.2 L80.6 120.5"/></g><g fill="#111"><circle cx="120.7" cy="85.8" r="0.5"/><circle cx="98.5" cy="120.3" r="0.5"/><circle cx="102.5" cy="120.3" r="0.5"/><circle cx="105.8" cy="157.7" r="0.5"/><circle cx="118.7" cy="128.9" r="0.5"/><circle cx="52.5" cy="163.3" r="0.5"/><circle cx="60.0" cy="116.5" r="0.5"/><circle cx="87.5" cy="117.5" r="0.5"/></g><path d="M70.2 137.6 L69.7 142.9 L71.7 149.9 L75.2 156.9 L77.5 162.8 L79.3 168.6 L84.0 175.6 L91.0 182.7 L97.9 186.5 L103.7 191.2 L113.1 195.9 L123.6 201.7 L133.0 207.5 L142.3 213.4 L154.5 219.8" fill="none" stroke="#21a585" stroke-width="1.1"/><path d="M91.0 173.9 L95.7 179.1 L101.5 183.8 L105.9 186.6 L119.4 194.5 L131.9 201.3 L134.5 202.5" fill="none" stroke="#cde11d" stroke-width="1.2"/><path d="M150.0 213.8 L154.5 216.0" fill="none" stroke="#cde11d" stroke-width="1.2"/><path d="M66.8 15.6 L60.3 18.8 L54.5 22.9 L49.8 27.6 L46.3 33.4 L43.4 40.4 L41.6 48.6 L40.4 58.0 L39.9 66.2 L39.9 70.0 L41.6 77.0 L45.1 85.2 L48.0 93.4 L49.8 100.4 L50.6 108.6 L51.5 118.0 L52.7 126.2 L54.1 128.9 L57.1 139.4 L60.6 149.9 L64.1 159.3 L67.6 166.3" fill="none" stroke="#54309a" stroke-width="1.2"/><path d="M72.3 174.5 L78.0 186.5 L87.4 195.9 L97.9 204.0 L109.6 212.2 L121.3 218.1 L135.3 223.9 L154.5 231.5" fill="none" stroke="#54309a" stroke-width="1.2"/><text x="0" y="0" font-size="8.2" fill="#3f6fa3" transform="translate(48.6 53.5) rotate(-82)" text-anchor="middle">200</text><text x="0" y="0" font-size="7.5" fill="#3f6fa3" transform="translate(108.3 202.6) rotate(28)" text-anchor="middle">200</text><text x="0" y="0" font-size="6.5" fill="#54309a" transform="translate(66.8 170.3) rotate(60)" text-anchor="middle">00</text><text x="0" y="0" font-size="8.8" fill="#cde11d" transform="translate(86.2 171.2) rotate(52)" text-anchor="middle">600</text><text x="0" y="0" font-size="8.8" fill="#cde11d" transform="translate(145 214.6) rotate(32)" text-anchor="middle">600</text><path d="M69.5 -5.0 L68.0 -3.5 L65.2 -0.7 L62.6 1.9 L59.7 4.2 L56.2 6.6 L52.3 8.7 L48.6 10.7 L45.4 12.7 L42.5 15.0 L40.2 17.7 L38.1 20.5 L36.4 23.5 L34.4 26.8 L32.2 30.5 L30.2 34.6 L28.4 38.7 L27.2 42.8 L26.2 46.9 L25.6 50.8 L25.1 54.5 L24.5 58.2 L23.8 62.2 L23.2 66.5 L22.9 70.6 L23.2 74.9 L23.8 79.4 L25.0 83.9 L26.7 88.1 L28.8 92.0 L31.1 95.8 L33.0 99.3 L34.6 102.8 L35.5 106.5 L36.2 110.4 L36.7 114.5 L37.1 118.6 L37.6 122.5 L38.2 126.3 L38.8 129.9 L39.6 133.6 L40.5 137.4 L41.4 141.3 L42.4 145.3 L43.4 149.5 L44.4 153.8 L45.5 157.8 L46.6 161.6 L47.7 165.1 L49.0 168.5 L50.5 171.7 L52.0 174.9 L53.7 177.9 L55.5 180.7 L57.5 183.5 L59.7 186.3 L62.2 189.2 L64.9 192.5 L67.4 196.0 L69.8 199.7 L72.1 203.3 L74.9 206.5 L78.0 209.1 L81.5 211.2 L85.0 213.3 L88.5 215.4 L92.0 217.5 L95.5 219.7 L99.0 221.9 L102.6 224.2 L106.1 226.4 L109.6 228.5 L113.1 230.5 L116.6 232.4 L120.1 234.2 L123.6 236.1 L127.0 237.9 L130.3 239.6 L133.5 241.2 L136.8 242.8 L140.1 244.5 L143.6 246.2 L147.2 247.9 L150.9 249.7 L154.4 251.3 L157.8 252.9 L161.2 254.4 L162.8 255.2" fill="none" stroke="#a862d4" stroke-width="1.7" stroke-linejoin="round"/><g fill="none" stroke="#a862d4" stroke-width="1.1"><rect x="0.3" y="-2.6" width="5.2" height="5.2" transform="translate(40.4 17.8) rotate(40.3)"/><rect x="0.3" y="-2.6" width="5.2" height="5.2" transform="translate(23.2 70.7) rotate(-0.0)"/><rect x="0.3" y="-2.6" width="5.2" height="5.2" transform="translate(37.7 122.4) rotate(-8.0)"/><rect x="0.3" y="-2.6" width="5.2" height="5.2" transform="translate(55.6 180.7) rotate(-33.6)"/><rect x="0.3" y="-2.6" width="5.2" height="5.2" transform="translate(95.5 219.7) rotate(-58.1)"/><rect x="0.3" y="-2.6" width="5.2" height="5.2" transform="translate(136.9 242.8) rotate(-63.8)"/></g>
</g>
<rect x="0" y="0" width="153.5" height="253.0" fill="none" stroke="#8a8a8a" stroke-width="1"/>
<rect x="2.2" y="1.5" width="9.5" height="12" rx="1.6" fill="#fff" stroke="#444" stroke-width="0.55"/>
<text x="7" y="10.6" font-size="8.6" text-anchor="middle" fill="#111">a</text>
<rect x="112.5" y="1.3" width="35.4" height="12" rx="1.6" fill="#fff" stroke="#555" stroke-width="0.6"/>
<text x="130.3" y="10.5" font-size="8.8" text-anchor="middle" fill="#17becf">Model1</text>
</g>
<g transform="translate(188.0 0.5)"><g clip-path="url(#pc)">
<path d="M-2.0 -2.0 L155.5 -2.0 L155.5 255.0 L-2.0 255.0Z" fill="#d0dce5"/>
<path d="M125.7 -1.6 C121.7 0.5 126.5 7.6 128.0 10.8 C129.5 14.0 134.8 18.8 137.0 22.1 C139.3 25.4 143.5 31.8 145.0 35.7 C146.5 39.6 148.2 47.3 148.4 51.5 C148.5 55.8 147.0 63.5 146.1 67.4 C145.2 71.3 143.4 77.0 141.6 81.0 C139.8 84.9 135.2 92.6 132.5 96.8 C129.8 101.0 124.4 108.8 121.2 112.6 C118.0 116.5 112.4 121.4 108.8 125.5 C105.1 129.6 97.2 139.4 94.0 143.6 C90.9 147.8 87.3 154.5 85.0 157.2 C82.7 159.9 77.4 161.7 77.1 164.0 C76.8 166.2 80.5 171.3 82.7 174.2 C85.0 177.0 90.7 182.6 94.0 185.5 C97.4 188.3 103.4 192.8 107.6 195.7 C111.8 198.5 121.5 204.3 125.7 207.0 C129.9 209.7 135.4 213.7 139.3 216.0 C143.2 218.3 152.6 236.3 155.1 224.4 C157.7 212.5 158.1 157.1 158.5 126.5 C158.9 95.9 162.9 12.1 158.5 -5.0 C154.1 -22.1 129.8 -3.7 125.7 -1.6Z" fill="#d6e6db"/>
<path d="M125.7 184.3 C126.9 181.8 133.1 181.2 137.0 180.9 C141.0 180.6 152.7 177.3 155.1 182.1 C157.6 186.8 157.3 212.5 155.1 216.5 C153.0 220.4 142.9 213.7 139.3 211.5 C135.7 209.3 129.8 203.8 128.0 200.2 C126.2 196.6 124.5 186.9 125.7 184.3Z" fill="#b6d5b9"/>
<path d="M47.7 67.4 C47.8 63.4 49.6 70.6 52.2 71.5 C54.7 72.4 63.4 71.1 66.9 74.2 C70.4 77.3 75.6 89.4 78.2 94.5 C80.8 99.7 85.0 108.2 86.1 112.6 C87.3 117.1 86.7 125.9 86.8 127.6 C86.9 129.3 87.0 124.0 86.8 125.5 C86.6 127.0 86.1 135.2 85.4 139.1 C84.8 143.0 82.6 151.1 81.6 154.9 C80.6 158.7 79.6 166.2 78.2 167.4 C76.8 168.6 72.9 166.5 71.4 164.0 C69.9 161.4 69.0 153.2 66.9 148.1 C64.8 143.1 57.7 132.5 55.6 126.2 C53.5 120.0 52.1 109.2 51.0 101.3 C50.0 93.5 47.5 71.4 47.7 67.4Z" fill="#adc0d7"/>
<path d="M-115.8 -187.3 L-117.2 -186.0 L-110.4 -192.5 L-103.5 -198.4 L-93.9 -205.9 L-84.1 -212.6 L-82.0 -214.0 L-91.4 -208.2 L-110.3 -195.1 L-134.5 -174.8 L-157.9 -150.3 L-174.4 -129.0 L-184.4 -113.8 L-192.6 -99.9 L-199.5 -87.0 L-207.1 -71.1 L-215.2 -51.2 L-222.5 -29.0 L-227.4 -9.6 L-230.1 3.8 L-231.3 11.2 L-232.7 19.4 L-234.3 31.6 L-235.9 47.7 L-236.8 70.7 L-235.1 102.4 L-229.7 135.5 L-221.8 164.5 L-211.5 191.6 L-202.8 209.9 L-199.8 215.5 L-203.5 207.8 L-210.6 190.4 L-217.1 168.7 L-220.3 153.7 L-221.1 148.5 L-220.8 150.8 L-219.8 158.4 L-218.4 168.1 L-216.3 179.8 L-214.4 189.0 L-212.9 195.4 L-211.5 201.4 L-210.4 206.1 L-209.1 211.6 L-207.2 219.2 L-205.0 227.2 L-201.6 239.0 L-196.3 254.4 L-191.3 267.4 L-185.4 280.9 L-177.0 297.7 L-169.5 311.0 L-161.0 324.4 L-149.6 340.5 L-143.8 347.9 L-143.5 348.3 L-142.9 349.1 L-144.0 347.6 L-140.4 352.7 L-126.6 370.4 L-107.5 391.1 L-86.1 410.3 L-62.8 427.5 L-49.3 435.9 L-46.8 437.5 L-44.3 439.0 L-41.7 440.6 L-39.2 442.2 L-34.7 445.0 L-28.1 449.0 L-21.5 452.9 L-14.9 456.7 L-8.1 460.5 L-2.3 463.7 L2.6 466.2 L7.4 468.7 L12.3 471.2 L17.5 473.8 L22.1 476.1 L26.0 478.1 L30.0 480.0 L34.6 482.2 L39.5 484.6 L44.3 486.8 L48.4 488.7 L51.4 490.1 L54.5 491.5 L165.3 245.3 L163.7 244.6 L162.0 243.8 L158.6 242.2 L155.1 240.6 L151.6 238.9 L148.1 237.2 L144.6 235.5 L141.3 233.9 L138.0 232.3 L134.8 230.6 L131.5 229.0 L128.2 227.2 L124.8 225.4 L121.4 223.6 L118.0 221.7 L114.6 219.8 L111.2 217.7 L107.8 215.7 L104.4 213.5 L100.8 211.3 L97.3 209.1 L93.7 206.9 L90.2 204.7 L87.0 202.9 L84.5 201.0 L82.2 198.9 L80.0 196.6 L77.9 193.8 L75.5 190.3 L72.8 186.7 L70.3 183.3 L67.8 180.2 L65.6 177.5 L63.9 175.1 L62.4 172.6 L60.9 170.1 L59.6 167.5 L58.4 164.6 L57.2 161.6 L56.1 158.5 L55.1 154.9 L54.1 151.1 L53.1 147.2 L52.1 143.1 L51.2 139.1 L50.3 135.2 L49.5 131.6 L48.7 128.0 L48.1 124.6 L47.6 121.0 L47.1 117.3 L46.6 113.2 L46.0 108.9 L45.1 104.3 L43.6 99.5 L41.8 95.1 L39.8 91.0 L37.8 87.4 L36.1 83.9 L34.8 80.6 L33.9 77.2 L33.4 74.0 L33.2 70.7 L33.4 67.1 L33.8 63.6 L34.2 60.0 L34.9 56.2 L35.5 52.4 L36.2 48.9 L37.0 45.6 L38.2 42.2 L39.6 38.7 L41.2 35.3 L43.0 32.0 L44.7 29.0 L46.5 26.4 L48.0 24.3 L49.7 22.5 L51.6 20.9 L54.3 19.1 L57.6 17.1 L61.4 14.9 L65.1 12.3 L68.8 9.4 L72.1 6.5 L73.7 4.9 L75.1 3.6Z" fill="#89a6c4"/>
<path d="M-2.1 96.8 L5.8 99.1 L11.4 112.6 L13.0 128.5 L-2.1 128.5Z" fill="#adc0d7"/>
<path d="M-2.1 124.4 C-1.0 111.7 4.3 121.2 6.2 124.4 C8.2 127.5 11.5 142.1 12.6 148.1 C13.7 154.2 14.5 166.8 14.4 169.6 C14.3 172.5 12.4 167.5 12.0 169.5 C11.6 171.5 11.9 180.5 11.3 184.5 C10.7 188.5 8.8 196.0 7.5 199.6 C6.2 203.2 2.8 209.0 1.5 211.6 C0.2 214.2 -1.8 230.8 -2.3 219.1 C-2.7 207.5 -3.3 137.0 -2.1 124.4Z" fill="#adc0d7"/>
<path d="M35.3 193.6 C34.8 191.9 37.1 189.6 37.9 188.7 C38.7 187.9 40.2 187.1 41.4 187.5 C42.5 188.0 43.9 189.4 46.6 192.1 C49.3 194.7 56.8 202.5 61.7 207.1 C66.5 211.7 77.1 221.2 82.7 226.6 C88.3 232.1 101.0 243.9 103.8 247.7 C106.6 251.5 109.8 254.2 103.8 255.2 C97.7 256.2 64.7 257.6 58.7 255.2 C52.6 252.8 59.1 241.0 58.7 237.2 C58.2 233.4 56.8 229.7 55.6 226.6 C54.4 223.6 51.4 218.0 49.6 214.6 C47.8 211.2 44.0 203.9 42.1 201.1 C40.2 198.3 35.9 195.2 35.3 193.6Z" fill="#adc0d7"/>
<path d="M52.6 206.3 C52.6 205.5 58.9 211.0 61.7 213.1 C64.5 215.2 70.9 219.5 73.7 222.1 C76.5 224.7 79.9 229.4 82.7 232.7 C85.5 235.9 91.9 243.4 94.7 246.2 C97.5 249.0 104.2 252.6 103.8 253.7 C103.4 254.8 94.5 256.1 91.7 254.5 C88.9 252.9 85.5 245.0 82.7 241.7 C79.9 238.4 73.5 232.7 70.7 229.7 C67.9 226.6 64.1 222.2 61.7 219.1 C59.3 216.0 52.6 207.1 52.6 206.3Z" fill="#d0dce5"/>
<path d="M71.5 0.0 L70.2 1.4 L68.8 2.8 L65.6 5.6 L62.2 8.2 L58.7 10.6 L55.0 12.8 L51.6 14.9 L48.6 16.9 L46.3 18.9 L44.2 21.0 L42.4 23.5 L40.5 26.3 L38.6 29.5 L36.8 33.0 L35.0 36.6 L33.5 40.4 L32.2 44.2 L31.3 47.9 L30.6 51.5 L30.0 55.4 L29.3 59.2 L28.8 63.0 L28.4 66.8 L28.2 70.7 L28.4 74.5 L29.0 78.3 L30.1 82.2 L31.5 85.9 L33.3 89.6 L35.3 93.3 L37.3 97.2 L38.9 101.2 L40.2 105.5 L41.0 109.7 L41.6 113.8 L42.1 117.9 L42.6 121.7 L43.2 125.4 L43.8 129.0 L44.6 132.6 L45.4 136.3 L46.3 140.2 L47.3 144.3 L48.3 148.4 L49.3 152.4 L50.3 156.3 L51.4 159.9 L52.5 163.3 L53.8 166.5 L55.1 169.6 L56.5 172.4 L58.1 175.2 L59.8 177.9 L61.6 180.5 L63.9 183.3 L66.3 186.4 L68.8 189.7 L71.4 193.2 L73.8 196.7 L76.2 199.8 L78.7 202.5 L81.4 204.9 L84.3 207.0 L87.6 209.0 L91.1 211.2 L94.6 213.3 L98.2 215.5 L101.7 217.7 L105.2 219.9 L108.7 222.0 L112.1 224.1 L115.6 226.1 L119.0 228.0 L122.5 229.8 L125.9 231.6 L129.2 233.4 L132.5 235.1 L135.8 236.7 L139.1 238.3 L142.4 240.0 L145.9 241.7 L149.4 243.4 L153.0 245.1 L156.4 246.7 L159.9 248.3 L161.6 249.1 L163.2 249.8 L172.3 229.7 L170.8 229.0 L169.2 228.3 L165.8 226.7 L162.4 225.2 L158.9 223.7 L155.4 222.1 L151.9 220.6 L148.5 219.1 L145.3 217.6 L142.2 216.2 L138.9 214.7 L135.6 213.1 L132.2 211.5 L128.9 209.9 L125.6 208.2 L122.4 206.5 L119.1 204.7 L115.8 202.9 L112.3 200.8 L108.6 198.7 L104.9 196.6 L101.4 194.3 L97.8 192.1 L95.3 190.5 L94.0 189.4 L92.8 188.2 L91.7 186.8 L90.3 184.7 L88.1 181.3 L85.2 177.3 L82.8 173.6 L80.4 170.2 L78.6 167.7 L77.6 166.0 L76.7 164.1 L75.4 162.3 L74.4 160.6 L73.2 158.5 L72.1 156.1 L71.1 153.8 L70.1 150.8 L69.1 147.2 L68.2 143.5 L67.3 139.5 L66.3 135.5 L65.5 131.8 L64.7 128.2 L63.9 125.1 L63.2 122.1 L62.5 118.9 L61.8 115.4 L61.1 111.3 L60.3 106.4 L59.2 100.8 L57.4 94.6 L55.1 89.0 L53.4 84.0 L52.1 80.1 L51.6 77.2 L51.6 75.1 L50.5 73.6 L49.7 72.3 L49.0 70.7 L48.5 68.2 L47.8 65.2 L47.2 61.9 L46.8 58.2 L46.4 54.4 L46.8 51.3 L47.2 48.5 L47.9 45.7 L48.8 42.8 L50.1 39.8 L51.6 36.8 L53.0 34.2 L54.4 31.9 L55.4 30.5 L55.8 29.1 L56.6 27.6 L58.5 25.6 L61.3 23.2 L65.2 20.9 L69.5 18.2 L73.6 15.2 L77.3 12.1 L79.1 10.3 L80.4 8.9Z" fill="#adc0d7"/>
<path d="M71.5 0.0 L70.2 1.4 L68.8 2.8 L65.6 5.6 L62.2 8.2 L58.7 10.6 L55.0 12.8 L51.6 14.9 L48.6 16.9 L46.3 18.9 L44.2 21.0 L42.4 23.5 L40.5 26.3 L38.6 29.5 L36.8 33.0 L35.0 36.6 L33.5 40.4 L32.2 44.2 L31.3 47.9 L30.6 51.5 L30.0 55.4 L29.3 59.2 L28.8 63.0 L28.4 66.8 L28.2 70.7 L28.4 74.5 L29.0 78.3 L30.1 82.2 L31.5 85.9 L33.3 89.6 L35.3 93.3 L37.3 97.2 L38.9 101.2 L40.2 105.5 L41.0 109.7 L41.6 113.8 L42.1 117.9 L42.6 121.7 L43.2 125.4 L43.8 129.0 L44.6 132.6 L45.4 136.3 L46.3 140.2 L47.3 144.3 L48.3 148.4 L49.3 152.4 L50.3 156.3 L51.4 159.9 L52.5 163.3 L53.8 166.5 L55.1 169.6 L56.5 172.4 L58.1 175.2 L59.8 177.9 L61.6 180.5 L63.9 183.3 L66.3 186.4 L68.8 189.7 L71.4 193.2 L73.8 196.7 L76.2 199.8 L78.7 202.5 L81.4 204.9 L84.3 207.0 L87.6 209.0 L91.1 211.2 L94.6 213.3 L98.2 215.5 L101.7 217.7 L105.2 219.9 L108.7 222.0 L112.1 224.1 L115.6 226.1 L119.0 228.0 L122.5 229.8 L125.9 231.6 L129.2 233.4 L132.5 235.1 L135.8 236.7 L139.1 238.3 L142.4 240.0 L145.9 241.7 L149.4 243.4 L153.0 245.1 L156.4 246.7 L159.9 248.3 L161.6 249.1 L163.2 249.8 L171.5 231.3 L170.0 230.6 L168.4 229.9 L165.0 228.3 L161.6 226.8 L158.1 225.3 L154.6 223.8 L151.1 222.2 L147.7 220.7 L144.5 219.2 L141.4 217.8 L138.1 216.3 L134.8 214.7 L131.4 213.1 L128.0 211.4 L124.8 209.8 L121.5 208.1 L118.2 206.3 L114.8 204.4 L111.3 202.4 L107.6 200.3 L104.0 198.2 L100.4 195.9 L96.9 193.6 L94.3 192.0 L92.9 190.8 L91.6 189.5 L90.3 187.9 L88.8 185.8 L86.6 182.3 L83.8 178.4 L81.4 174.7 L79.0 171.3 L77.2 168.8 L76.1 167.0 L75.1 165.1 L73.8 163.1 L72.7 161.4 L71.6 159.1 L70.4 156.8 L69.4 154.3 L68.3 151.3 L67.4 147.7 L66.5 143.9 L65.5 139.9 L64.6 135.9 L63.7 132.2 L62.9 128.6 L62.1 125.4 L61.4 122.4 L60.7 119.2 L60.0 115.6 L59.3 111.5 L58.6 106.7 L57.5 101.2 L55.7 95.2 L53.4 89.8 L51.8 84.8 L50.5 80.9 L49.9 77.9 L49.8 75.7 L48.8 74.0 L47.9 72.5 L47.2 70.7 L46.7 68.1 L46.1 65.0 L45.5 61.7 L45.1 57.9 L44.7 54.1 L45.0 50.9 L45.5 48.0 L46.2 45.1 L47.2 42.0 L48.5 39.0 L50.0 35.9 L51.5 33.2 L52.9 30.9 L54.0 29.3 L54.6 27.8 L55.6 26.2 L57.5 24.1 L60.4 21.6 L64.3 19.4 L68.4 16.8 L72.4 13.8 L76.1 10.8 L77.8 9.0 L79.2 7.7Z" fill="#89a6c4"/>
<path d="M33.9 77.2 C32.4 78.1 34.5 79.7 34.8 80.6 C35.1 81.5 35.7 83.0 36.1 83.9 C36.5 84.8 37.3 86.4 37.8 87.4 C38.3 88.3 39.2 90.0 39.8 91.0 C40.3 92.1 41.3 94.0 41.8 95.1 C42.3 96.2 43.2 98.3 43.6 99.5 C44.1 100.8 44.8 103.0 45.1 104.3 C45.4 105.5 45.7 107.7 46.0 108.9 C46.2 110.0 46.4 112.1 46.6 113.2 C46.7 114.3 46.9 116.2 47.1 117.3 C47.2 118.3 47.4 120.0 47.6 121.0 C47.7 122.0 47.9 123.7 48.1 124.6 C48.2 125.5 48.5 127.1 48.7 128.0 C48.9 129.0 47.1 131.6 49.5 131.6 C51.8 131.5 63.9 128.8 66.1 127.9 C68.2 127.0 65.8 125.5 65.7 124.7 C65.6 123.9 65.6 122.6 65.5 121.7 C65.5 120.9 65.4 119.4 65.4 118.5 C65.3 117.6 65.2 116.0 65.2 115.0 C65.1 114.0 65.0 112.0 64.9 110.8 C64.8 109.5 64.6 107.2 64.4 105.7 C64.3 104.3 63.9 101.4 63.5 99.7 C63.1 98.1 61.9 94.9 61.3 93.2 C60.6 91.6 59.3 88.8 58.6 87.4 C57.9 86.0 56.6 83.7 55.9 82.6 C55.3 81.5 54.5 79.9 53.8 79.2 C53.2 78.5 51.8 77.8 51.1 77.4 C50.4 77.0 49.4 76.4 48.8 76.0 C48.2 75.6 48.6 74.3 46.6 74.4 C44.6 74.6 35.5 76.4 33.9 77.2Z" fill="#89a6c4"/>
<path d="M68.0 -3.5 L66.7 -2.2 L65.4 -0.9 L62.4 1.7 L59.2 4.2 L56.0 6.4 L52.5 8.5 L48.9 10.7 L45.6 12.9 L42.8 15.2 L40.4 17.8 L38.3 20.6 L36.2 23.7 L34.2 27.1 L32.3 30.7 L30.4 34.6 L28.8 38.7 L27.4 42.8 L26.4 46.8 L25.7 50.6 L24.8 54.5 L24.0 58.4 L23.2 62.3 L22.6 66.4 L21.9 70.7 L21.6 75.2 L21.9 79.9 L22.7 84.6 L24.2 89.1 L26.1 93.3 L27.9 97.2 L29.5 100.7 L30.7 104.2 L31.5 107.6 L31.9 111.2 L32.2 115.1 L31.8 119.2 L31.5 123.3 L31.5 127.3 L31.6 131.4 L31.9 135.4 L32.4 139.3 L33.0 143.4 L33.7 147.5 L34.3 151.8 L35.1 156.1 L35.9 160.3 L36.9 164.5 L38.1 168.6 L39.4 172.4 L40.9 176.1 L42.6 179.9 L44.4 183.4 L46.3 186.8 L48.6 190.4 L50.9 193.5 L53.0 196.6 L55.2 199.9 L57.4 203.2 L59.7 207.0 L62.6 211.2 L66.1 215.3 L69.9 219.0 L74.1 222.3 L78.0 224.9 L81.3 227.2 L84.7 229.5 L88.1 231.7 L91.5 233.9 L95.1 236.2 L98.7 238.5 L102.4 240.7 L106.1 242.9 L109.7 245.0 L113.3 246.9 L116.8 248.9 L120.3 250.7 L123.7 252.5 L127.0 254.3 L130.4 256.0 L133.8 257.7 L137.2 259.5 L140.8 261.3 L144.4 263.1 L148.0 264.8 L151.5 266.5 L153.3 267.3 L155.0 268.1 L170.8 233.0 L169.3 232.3 L167.7 231.5 L164.3 230.0 L160.8 228.5 L157.3 226.9 L153.8 225.4 L150.3 223.8 L146.9 222.3 L143.7 220.8 L140.5 219.4 L137.3 217.8 L133.9 216.3 L130.5 214.7 L127.2 213.0 L123.9 211.3 L120.6 209.6 L117.2 207.8 L113.9 205.9 L110.4 203.9 L106.7 201.8 L103.0 199.7 L99.5 197.4 L95.9 195.1 L93.3 193.5 L91.8 192.2 L90.3 190.8 L88.9 189.1 L87.4 186.8 L85.1 183.4 L82.4 179.4 L79.9 175.8 L77.6 172.4 L75.7 169.8 L74.6 168.0 L73.6 166.0 L72.2 164.0 L71.1 162.1 L69.9 159.8 L68.7 157.4 L67.7 154.9 L66.6 151.8 L65.6 148.1 L64.7 144.4 L63.8 140.3 L62.8 136.3 L62.0 132.6 L61.2 129.0 L60.3 125.8 L59.6 122.7 L59.0 119.4 L58.2 115.9 L57.5 111.8 L56.8 107.0 L55.7 101.6 L54.0 95.8 L51.8 90.5 L50.2 85.6 L48.9 81.7 L48.3 78.7 L48.1 76.2 L47.0 74.3 L46.1 72.7 L45.4 70.7 L45.0 68.0 L44.3 64.8 L43.7 61.4 L43.3 57.6 L42.9 53.8 L43.3 50.5 L43.8 47.5 L44.5 44.5 L45.5 41.3 L46.9 38.1 L48.4 35.0 L50.0 32.2 L51.5 29.9 L52.6 28.1 L53.3 26.5 L54.5 24.7 L56.5 22.6 L59.4 20.1 L63.3 17.9 L67.4 15.3 L71.3 12.4 L74.9 9.4 L76.6 7.7 L77.9 6.4Z" fill="#6389b0"/>
<path d="M35.6 48.8 L33.2 52.0 L30.9 55.5 L30.0 59.3 L29.1 63.0 L28.4 66.8 L28.2 70.7 L28.4 74.5 L29.0 78.3 L30.1 82.2 L31.3 86.0 L32.9 89.9 L34.7 93.7 L36.3 97.6 L37.4 101.8 L38.0 106.0 L38.2 110.2 L38.2 114.3 L37.5 118.5 L36.9 122.5 L36.7 126.4 L36.7 130.4 L36.7 134.3 L37.1 138.2 L37.5 142.3 L38.0 146.5 L38.6 150.8 L39.1 155.0 L39.7 159.2 L40.6 163.3 L41.6 167.3 L42.7 171.0 L43.9 174.7 L45.4 178.4 L46.9 181.9 L48.7 185.2 L50.9 188.7 L53.1 191.8 L55.1 195.0 L57.2 198.4 L59.3 201.9 L61.5 205.7 L64.3 209.9 L67.5 213.9 L71.1 217.5 L75.1 220.9 L78.9 223.5 L82.2 225.8 L85.5 228.2 L88.9 230.4 L92.3 232.6 L95.9 234.9 L99.5 237.2 L103.2 239.4 L106.8 241.6 L110.4 243.6 L114.0 245.6 L117.5 247.5 L121.0 249.4 L124.3 251.2 L127.7 252.9 L131.0 254.7 L134.4 256.4 L137.9 258.2 L141.5 260.0 L145.1 261.7 L148.6 263.5 L152.1 265.1 L153.9 265.9 L155.6 266.7 L170.0 234.8 L168.4 234.1 L166.8 233.3 L163.4 231.8 L160.0 230.3 L156.5 228.7 L152.9 227.2 L149.5 225.6 L146.1 224.1 L142.8 222.6 L139.6 221.2 L136.4 219.6 L133.0 218.1 L129.6 216.4 L126.2 214.8 L122.9 213.1 L119.5 211.3 L116.2 209.5 L112.8 207.6 L109.3 205.6 L105.6 203.5 L102.0 201.4 L98.4 199.1 L94.9 196.9 L92.2 195.1 L90.5 193.7 L88.9 192.2 L87.4 190.4 L85.8 188.0 L83.5 184.5 L80.8 180.6 L78.4 177.1 L76.0 173.7 L74.1 171.1 L73.0 169.1 L71.9 167.0 L70.4 165.0 L69.2 163.0 L68.0 160.6 L66.7 158.1 L65.6 155.5 L64.5 152.3 L63.5 148.7 L62.5 144.9 L61.5 140.9 L60.5 136.9 L59.6 133.1 L58.7 129.5 L57.8 126.3 L57.0 123.1 L56.2 119.8 L55.4 116.2 L54.5 112.1 L53.7 107.6 L52.6 102.4 L50.8 97.0 L48.6 92.0 L47.6 87.0 L46.8 82.8 L46.6 79.4 L47.0 76.6 L45.9 74.6 L45.1 72.8 L44.5 70.7 L44.2 67.9 L43.2 64.7 L42.4 61.2 L41.8 57.4 L40.4 53.3 L39.0 49.6Z" fill="#426d9c"/>
<path d="M75.6 224.0 C75.0 224.3 76.2 226.5 77.4 228.1 C78.6 229.7 82.5 233.8 84.4 235.7 C86.3 237.6 89.5 240.8 91.4 242.7 C93.3 244.6 96.9 248.4 98.4 249.7 C99.9 251.0 101.8 251.9 102.5 252.7 C103.2 253.5 96.9 254.1 104.0 256.0 C111.1 257.9 149.0 265.4 155.6 266.7 C162.3 268.0 154.4 266.1 153.9 265.9 C153.4 265.7 152.8 265.4 152.1 265.1 C151.4 264.8 149.6 263.9 148.6 263.5 C147.7 263.0 146.0 262.3 145.0 261.8 C144.1 261.3 142.4 260.5 141.4 260.0 C140.4 259.6 138.8 258.8 137.8 258.3 C136.9 257.8 135.2 257.0 134.3 256.6 C133.4 256.1 131.8 255.4 130.9 254.9 C130.0 254.5 128.4 253.7 127.5 253.2 C126.6 252.8 125.1 252.0 124.2 251.5 C123.3 251.1 121.7 250.2 120.8 249.8 C119.8 249.3 118.2 248.4 117.3 247.9 C116.4 247.5 114.7 246.6 113.8 246.1 C112.8 245.6 111.1 244.7 110.2 244.1 C109.2 243.6 107.5 242.6 106.5 242.0 C105.6 241.5 103.9 240.4 102.9 239.8 C102.0 239.2 100.3 238.2 99.3 237.5 C98.3 236.9 96.7 235.8 95.7 235.2 C94.8 234.6 93.1 233.5 92.2 232.8 C91.3 232.2 89.7 231.2 88.8 230.6 C87.9 230.0 86.3 228.9 85.4 228.3 C84.5 227.8 83.3 226.7 82.0 226.1 C80.7 225.6 76.2 223.7 75.6 224.0Z" fill="#d6e6db"/>
<path d="M91.4 234.1 C91.7 234.7 93.7 236.3 94.5 237.1 C95.4 237.9 96.9 239.2 97.8 240.0 C98.7 240.8 100.2 242.1 101.1 242.9 C102.0 243.7 103.5 245.0 104.4 245.7 C105.3 246.5 106.9 247.8 107.8 248.5 C108.6 249.3 110.2 250.5 111.0 251.3 C111.9 252.0 113.3 253.2 114.2 253.9 C115.0 254.6 116.4 255.8 117.3 256.5 C118.1 257.1 119.7 258.1 120.5 258.7 C121.4 259.3 122.9 260.3 123.7 260.9 C124.6 261.5 126.1 262.5 126.9 263.0 C127.8 263.6 129.3 264.6 130.1 265.2 C131.0 265.7 132.5 266.7 133.4 267.3 C134.3 267.9 135.9 268.9 136.8 269.5 C137.8 270.1 139.4 271.2 140.3 271.7 C141.3 272.3 142.8 273.4 143.7 273.9 C144.7 274.4 146.5 275.2 147.3 275.5 C148.0 275.9 148.6 276.2 149.1 276.4 C149.6 276.6 150.0 278.5 150.9 277.2 C151.8 275.9 155.2 268.2 155.6 266.7 C156.0 265.2 154.4 266.1 153.9 265.9 C153.4 265.7 152.8 265.4 152.1 265.1 C151.4 264.8 149.6 263.9 148.6 263.5 C147.7 263.0 146.0 262.3 145.0 261.8 C144.1 261.3 142.4 260.5 141.4 260.0 C140.4 259.6 138.8 258.8 137.8 258.3 C136.9 257.8 135.2 257.0 134.3 256.6 C133.4 256.1 131.8 255.4 130.9 254.9 C130.0 254.5 128.4 253.7 127.5 253.2 C126.6 252.8 125.1 252.0 124.2 251.5 C123.3 251.1 121.7 250.2 120.8 249.8 C119.8 249.3 118.2 248.4 117.3 247.9 C116.4 247.5 114.7 246.6 113.8 246.1 C112.8 245.6 111.1 244.7 110.2 244.1 C109.2 243.6 107.5 242.6 106.5 242.0 C105.6 241.5 103.9 240.4 102.9 239.8 C102.0 239.2 100.3 238.2 99.3 237.5 C98.3 236.9 96.7 235.8 95.7 235.2 C94.8 234.6 92.8 233.0 92.2 232.8 C91.6 232.7 91.1 233.6 91.4 234.1Z" fill="#b6d5b9"/>
<path d="M120.5 250.3 C120.9 250.6 122.8 251.9 123.7 252.5 C124.5 253.0 126.0 254.1 126.9 254.6 C127.7 255.2 129.2 256.2 130.0 256.7 C130.9 257.3 132.3 258.3 133.2 258.9 C134.1 259.4 135.6 260.4 136.5 261.0 C137.4 261.6 139.0 262.6 139.9 263.2 C140.8 263.8 142.4 264.8 143.3 265.4 C144.2 266.0 145.8 267.1 146.7 267.6 C147.6 268.1 149.5 268.9 150.2 269.2 C150.9 269.5 151.5 269.8 152.0 270.0 C152.5 270.2 153.3 271.3 153.8 270.8 C154.3 270.4 155.6 267.4 155.6 266.7 C155.6 266.1 154.4 266.1 153.9 265.9 C153.4 265.7 152.8 265.4 152.1 265.1 C151.4 264.8 149.6 263.9 148.6 263.5 C147.7 263.0 146.0 262.3 145.0 261.8 C144.1 261.3 142.4 260.5 141.4 260.0 C140.4 259.6 138.8 258.8 137.8 258.3 C136.9 257.8 135.2 257.0 134.3 256.6 C133.4 256.1 131.8 255.4 130.9 254.9 C130.0 254.5 128.4 253.7 127.5 253.2 C126.6 252.8 125.1 252.0 124.2 251.5 C123.3 251.1 121.3 249.9 120.8 249.8 C120.3 249.6 120.1 249.9 120.5 250.3Z" fill="#98c199"/>
<path d="M45.1 117.5 L43.6 121.6 L42.8 125.4 L42.5 129.3 L42.6 133.0 L42.8 136.9 L43.0 141.0 L43.1 145.3 L43.2 149.6 L43.4 153.9 L43.6 158.2 L44.2 162.2 L45.0 166.1 L45.9 169.7 L46.9 173.3 L48.1 176.9 L49.5 180.3 L51.2 183.6 L53.1 187.0 L55.2 190.1 L57.2 193.4 L59.2 196.9 L60.7 200.8 L62.3 205.1 L64.4 209.7 L67.1 214.2 L70.9 217.8 L74.9 221.0 L78.8 223.6 L82.2 225.8 L85.6 228.0 L89.0 230.2 L92.5 232.4 L96.0 234.7 L99.7 236.9 L103.3 239.1 L107.0 241.2 L110.6 243.3 L114.2 245.2 L117.7 247.1 L121.2 248.9 L124.6 250.7 L128.0 252.4 L131.3 254.0 L134.7 255.7 L138.2 257.4 L141.8 259.2 L145.5 260.9 L149.0 262.6 L152.5 264.2 L154.3 265.0 L156.0 265.8 L168.6 238.0 L167.0 237.3 L165.3 236.5 L161.9 234.9 L158.5 233.4 L154.9 231.9 L151.4 230.3 L147.9 228.8 L144.5 227.2 L141.3 225.8 L138.0 224.3 L134.7 222.7 L131.4 221.1 L128.0 219.5 L124.5 217.8 L121.2 216.1 L117.8 214.4 L114.4 212.5 L111.0 210.6 L107.4 208.6 L103.8 206.5 L100.1 204.4 L96.6 202.1 L93.1 199.9 L90.2 198.2 L88.2 196.6 L86.3 194.8 L84.5 192.8 L82.6 190.3 L80.3 186.8 L77.6 183.0 L75.3 179.4 L73.1 176.0 L71.2 173.3 L70.0 171.1 L68.8 168.8 L67.4 166.6 L66.1 164.5 L64.8 161.9 L63.5 159.3 L62.3 156.5 L61.2 153.3 L60.0 149.6 L58.9 145.8 L57.8 141.8 L56.6 137.8 L55.5 134.0 L54.3 130.5 L53.3 127.2 L51.8 124.0 L49.8 120.7 L47.1 117.3Z" fill="#2c4f84"/>
<path d="M54.6 185.8 L56.4 189.2 L58.0 192.8 L59.6 196.6 L61.8 200.1 L63.9 203.9 L66.5 207.9 L69.6 211.7 L73.1 215.1 L77.0 218.0 L80.7 220.4 L84.1 222.6 L87.6 224.8 L91.0 227.0 L94.5 229.1 L98.1 231.4 L101.7 233.6 L105.3 235.7 L108.9 237.8 L112.5 239.8 L116.1 241.7 L119.6 243.6 L123.0 245.4 L126.4 247.1 L129.8 248.8 L133.1 250.5 L136.5 252.1 L140.0 253.8 L143.6 255.6 L147.2 257.3 L150.7 259.0 L154.2 260.6 L156.0 261.4 L157.7 262.2 L159.9 257.1 L158.3 256.4 L156.5 255.6 L153.1 254.0 L149.5 252.3 L146.0 250.6 L142.4 248.8 L139.0 247.1 L135.6 245.4 L132.3 243.8 L129.0 242.1 L125.6 240.3 L122.2 238.6 L118.8 236.7 L115.3 234.8 L111.7 232.8 L108.2 230.8 L104.7 228.7 L101.1 226.5 L97.6 224.2 L94.1 222.0 L90.6 219.8 L87.1 217.7 L83.6 215.6 L80.0 213.4 L76.6 210.8 L73.4 207.9 L70.4 204.7 L67.7 201.1 L65.3 197.6 L62.8 194.2 L60.4 191.0 L58.0 187.9 L55.7 185.0Z" fill="#2a3468"/>
<path d="M83.2 -1.2 C80.7 0.1 78.1 6.0 75.9 8.6 C73.8 11.1 69.2 15.3 66.9 17.6 C64.5 20.0 60.2 24.1 58.3 26.2 C56.4 28.3 53.8 31.8 52.9 33.4 C52.0 35.1 51.1 38.1 51.5 38.4 C51.9 38.7 53.8 37.1 55.6 35.7 C57.3 34.3 62.2 29.9 64.6 27.8 C67.0 25.7 71.3 22.0 73.7 19.9 C76.1 17.8 80.6 14.0 82.7 11.9 C84.8 9.9 87.9 6.2 89.5 4.5 C91.1 2.7 95.3 -0.4 94.5 -1.2 C93.7 -1.9 85.7 -2.5 83.2 -1.2Z" fill="#d6e6db"/>
<path d="M0.0 0.0 L23.2 0.0 L0.0 25.8Z" fill="#fff"/>
<g stroke="#c8c8c8" stroke-width="0.5" opacity="0.32"><line x1="0.0" y1="21.0" x2="153.5" y2="87.0"/><line x1="0.0" y1="97.0" x2="153.5" y2="158.0"/><line x1="0.0" y1="174.0" x2="153.5" y2="231.0"/><line x1="96.0" y1="-0.5" x2="153.5" y2="22.0"/><line x1="0.0" y1="79.5" x2="33.7" y2="-0.5"/><line x1="0.0" y1="224.5" x2="110.2" y2="-0.5"/><line x1="74.2" y1="253.0" x2="153.5" y2="94.0"/><line x1="147.5" y1="253.0" x2="153.5" y2="241.0"/></g>
<path d="M125.7 -1.6 C126.5 2.5 124.2 2.9 128.0 10.8 C131.8 18.7 131.4 13.8 137.0 22.1 C142.7 30.4 141.2 25.9 145.0 35.7 C148.7 45.5 148.0 41.0 148.4 51.5 C148.7 62.1 148.4 57.6 146.1 67.4 C143.8 77.2 146.1 71.2 141.6 81.0 C137.0 90.8 139.3 86.2 132.5 96.8 C125.7 107.4 129.1 103.1 121.2 112.6 C113.3 122.2 117.8 115.2 108.8 125.5 C99.7 135.8 102.0 133.0 94.0 143.6 C86.1 154.2 90.6 150.4 85.0 157.2 C79.3 164.0 77.8 158.3 77.1 164.0 C76.3 169.6 77.1 167.0 82.7 174.2 C88.4 181.3 85.7 178.3 94.0 185.5 C102.3 192.6 97.1 188.5 107.6 195.7 C118.2 202.8 115.2 200.2 125.7 207.0 C136.3 213.8 129.5 210.2 139.3 216.0 C149.1 221.8 149.9 221.6 155.1 224.4" fill="none" stroke="#ff7f50" stroke-width="1.2" stroke-linejoin="round"/>
<path d="M104.0 256.0 C103.5 254.9 104.4 254.8 102.5 252.7 C100.6 250.6 102.1 253.0 98.4 249.7 C94.7 246.4 96.1 247.4 91.4 242.7 C86.7 238.0 89.1 240.6 84.4 235.7 C79.7 230.8 80.3 232.0 77.4 228.1 C74.5 224.2 74.1 224.7 75.6 224.0 C77.1 223.3 78.7 224.7 82.0 226.1 C85.2 227.6 83.1 226.9 85.4 228.3 C87.7 229.8 86.5 229.1 88.8 230.6 C91.1 232.1 89.9 231.3 92.2 232.8 C94.5 234.4 93.3 233.6 95.7 235.2 C98.1 236.8 96.9 236.0 99.3 237.5 C101.7 239.1 100.5 238.3 102.9 239.8 C105.3 241.3 104.1 240.6 106.5 242.0 C108.9 243.5 107.8 242.8 110.2 244.1 C112.6 245.5 111.4 244.8 113.8 246.1 C116.2 247.3 115.0 246.7 117.3 247.9 C119.6 249.2 118.5 248.6 120.8 249.8 C123.1 250.9 121.9 250.4 124.2 251.5 C126.4 252.7 125.3 252.1 127.5 253.2 C129.8 254.4 128.7 253.8 130.9 254.9 C133.2 256.0 132.0 255.5 134.3 256.6 C136.6 257.7 135.5 257.1 137.8 258.3 C140.2 259.5 139.0 258.9 141.4 260.0 C143.8 261.2 142.6 260.6 145.0 261.8 C147.4 262.9 146.3 262.4 148.6 263.5 C151.0 264.6 150.3 264.3 152.1 265.1 C153.9 265.9 152.7 265.4 153.9 265.9 C155.1 266.5 155.0 266.5 155.6 266.7" fill="none" stroke="#ff7f50" stroke-width="1.2" stroke-linejoin="round"/>
<path d="M83.2 -1.2 C80.8 2.1 81.4 2.3 75.9 8.6 C70.5 14.8 72.8 11.7 66.9 17.6 C61.0 23.5 63.0 20.9 58.3 26.2 C53.6 31.5 55.1 29.4 52.9 33.4 C50.6 37.5 50.6 37.7 51.5 38.4 C52.4 39.2 51.2 39.3 55.6 35.7 C59.9 32.2 58.6 33.1 64.6 27.8 C70.7 22.5 67.6 25.1 73.7 19.9 C79.7 14.6 77.4 17.1 82.7 11.9 C88.0 6.8 85.6 8.9 89.5 4.5 C93.4 0.1 92.8 0.7 94.5 -1.2" fill="none" stroke="#ff7f50" stroke-width="1.2" stroke-linejoin="round"/>
<path d="M49.5 39.5 L48.1 42.4 L46.9 45.4 L46.0 48.1 L45.4 51.0 L44.8 54.1 L44.2 57.8 L43.6 61.4 L43.2 64.7 L42.9 67.8 L42.7 70.7 L42.7 73.0 L43.0 75.2 L43.6 77.7 L44.5 80.3 L45.9 83.2 L47.8 86.8 L50.0 91.3 L52.2 96.5 L54.0 102.1 L55.1 107.3 L55.8 112.0 L56.4 116.1 L57.0 119.7 L57.5 123.1 L58.1 126.2 L58.9 129.5 L59.8 133.1 L60.7 136.8 L61.7 140.8 L62.7 144.8 L63.7 148.6 L64.8 152.3 L65.5 155.5 L66.3 158.3 L67.2 161.0 L68.1 163.5 L69.0 165.7 L70.1 168.0 L71.3 170.2 L72.5 172.3 L74.4 174.9 L76.8 178.3 L79.2 181.8 L82.0 185.6 L84.5 189.0 L86.3 191.3 L88.1 193.0 L89.9 194.5 L91.7 195.8 L94.6 197.4 L98.2 199.5 L101.8 201.7 L105.4 203.8 L109.0 206.0 L112.5 208.1 L115.8 210.1 L119.2 212.0 L122.5 213.8 L125.8 215.6 L129.1 217.3 L132.5 219.0 L135.8 220.7 L139.1 222.2 L142.3 223.8 L145.5 225.3 L148.9 226.8 L152.3 228.4 L155.8 230.0 L159.3 231.6 L162.8 233.1 L166.2 234.7" fill="none" stroke="#3f6fa3" stroke-width="0.6"/><path d="M58.8 111.6 L59.4 115.7 L59.9 119.3 L60.5 122.6 L61.1 125.6 L61.8 128.9 L62.7 132.4 L63.6 136.1 L64.6 140.1 L65.6 144.1 L66.6 147.9 L67.7 151.5 L68.4 154.6 L69.1 157.2 L69.9 159.8 L70.8 162.3 L71.6 164.3 L72.7 166.5 L73.8 168.6 L74.9 170.5 L76.8 173.0 L79.2 176.5 L81.6 180.0 L84.5 183.8 L86.9 187.2 L88.6 189.3 L90.2 190.9 L91.8 192.2 L93.4 193.3 L96.1 194.9 L99.7 197.0 L103.4 199.1 L107.0 201.3 L110.6 203.5 L114.1 205.6 L117.4 207.5 L120.7 209.4 L124.0 211.2 L127.2 212.9 L130.5 214.7 L133.9 216.4 L137.2 218.0 L140.4 219.6 L143.6 221.1 L146.8 222.6 L150.2 224.1 L153.7 225.7 L157.1 227.3 L160.6 228.9 L164.1 230.4 L167.5 232.0" fill="none" stroke="#3f6fa3" stroke-width="0.5"/><g fill="none" stroke="#000" stroke-width="0.5" stroke-linejoin="round"><path d="M66.5 1.3 L67.4 4.5 L70.1 8.1 L72.4 9.0 L75.3 7.6 L78.7 8.1 L82.1 6.7 L85.9 4.9 L86.9 8.6 L86.2 13.1 L86.2 7.7 L86.8 11.2 L85.6 14.7 L84.4 19.4 L83.9 24.1 L83.3 28.7 L82.1 33.4 L80.9 36.9 L79.2 41.6 L78.0 45.1 L75.7 48.6 L74.5 51.0 L73.0 52.7 L71.5 56.1 L69.2 60.6 L67.4 65.1 L66.9 67.4 L69.7 69.7 L70.8 74.2 L71.9 79.8 L71.0 84.4 L71.5 90.0 L70.1 95.7 L69.7 101.3 L68.7 107.0 L67.4 112.6 L69.7 116.0 L72.4 119.4 L74.2 122.8 L77.6 125.8 L81.4 126.7 L84.4 125.1 L85.0 126.2 L85.6 121.5 L84.4 116.8 L85.0 112.1 L87.4 107.5 L89.7 101.6 L89.1 95.8 L86.2 89.9 L83.3 84.1 L78.6 79.4 L77.4 74.7 L79.8 68.9 L79.2 63.0 L76.3 62.7 L76.8 58.0 L80.3 53.3 L83.9 49.8 L87.4 45.7 L90.3 41.6 L92.0 38.7 L95.0 37.9 L97.9 38.7 L99.3 40.4 L97.3 42.2 L96.1 44.5 L97.9 46.3 L100.8 47.5 L103.2 49.8 L104.9 52.7 L105.8 55.6 L105.1 58.0 L106.1 60.3 L104.9 63.0 L108.4 66.5 L113.1 71.2 L114.9 73.5 L111.9 75.3 L109.0 81.7 L113.1 81.1 L118.9 80.0 L120.7 75.9 L122.5 79.4 L126.0 74.7 L129.5 76.5 L135.3 77.0 L141.2 75.9 L145.8 72.4 L149.4 67.7 L151.7 61.8 L152.9 61.5 L152.6 55.6 L152.3 49.8 L151.1 43.9 L149.4 39.3 L147.0 34.6 L145.3 29.9 L144.7 25.2 L143.5 20.6 L144.7 17.0 L149.4 13.0 L154.5 11.2"/><path d="M39.9 71.2 L40.4 75.9 L42.2 80.6 L44.5 86.4 L46.3 93.4 L47.5 99.3 L49.2 103.9 L51.0 109.8 L51.0 115.6 L52.1 120.3 L53.0 127.7 L54.7 140.6 L57.6 152.2 L61.7 162.8 L66.4 171.0 L71.1 175.6 L72.0 178.0 L72.5 177.5 L76.4 173.5 L78.1 169.8 L81.0 163.9 L78.5 157.5 L76.9 153.5 L77.5 148.7 L76.9 140.6 L74.6 131.2 L72.3 119.5 L69.7 115.6 L66.2 111.5 L63.2 107.5 L60.3 102.8 L58.6 98.1 L56.8 92.2 L55.1 86.4 L52.7 82.3 L48.6 78.2 L43.9 74.1 L39.9 71.2"/><path d="M81.5 149.9 L85.6 148.7 L88.5 151.1 L88.0 154.6 L89.7 158.1 L87.4 159.9 L85.0 156.9 L83.3 154.6 L81.5 153.4 L81.5 149.9"/><path d="M98.5 163.4 L98.2 164.7 L97.2 165.7 L95.9 166.0 L94.6 165.7 L93.6 164.7 L93.3 163.4 L93.6 162.1 L94.6 161.1 L95.9 160.8 L97.2 161.1 L98.2 162.1 L98.5 163.4"/><path d="M154.5 135.3 L149.4 137.6 L144.7 138.8 L140.0 138.2 L135.3 137.0 L133.6 138.2 L131.8 141.1 L128.9 144.6 L126.0 142.3 L122.5 140.0 L120.1 137.0 L117.2 137.6 L114.3 140.0 L112.2 144.1 L112.5 147.6 L110.8 151.1 L111.7 154.6 L113.1 157.5 L112.2 161.6 L111.7 166.3 L110.8 169.8 L114.3 172.1 L118.4 174.5 L120.7 178.0 L124.8 179.1 L128.3 178.0 L130.6 180.3 L134.2 183.2 L137.7 185.6 L136.9 190.0 L146.5 190.0 L149.0 191.9 L147.1 193.8 L149.0 188.7 L152.9 184.9 L155.0 182.3"/><path d="M72.5 179.5 L76.5 180.5 L80.5 185.5 L86.5 189.5 L92.5 194.5 L99.5 198.5 L106.5 202.5 L113.5 206.5 L120.5 210.5 L126.5 213.5 L132.5 216.5 L125.5 216.5 L118.5 213.5 L111.5 210.5 L104.5 206.5 L97.5 202.5 L90.5 198.5 L83.5 193.5 L77.5 188.5 L73.5 183.5 L72.5 179.5"/><path d="M130.6 219.2 L130.0 219.6 L129.0 219.6 L127.9 219.1 L126.9 218.4 L126.4 217.6 L126.4 216.8 L127.0 216.4 L128.0 216.4 L129.1 216.9 L130.1 217.6 L130.6 218.4 L130.6 219.2"/><path d="M138.6 223.9 L137.9 224.4 L136.9 224.4 L135.6 223.9 L134.6 223.1 L134.0 222.2 L134.0 221.5 L134.7 221.0 L135.7 221.0 L137.0 221.5 L138.0 222.3 L138.6 223.2 L138.6 223.9"/><path d="M147.8 227.3 L147.1 227.7 L145.8 227.6 L144.3 227.0 L143.0 226.1 L142.2 225.1 L142.2 224.3 L142.9 223.9 L144.2 224.0 L145.7 224.6 L147.0 225.5 L147.8 226.5 L147.8 227.3"/><path d="M154.4 230.4 L153.9 230.7 L153.0 230.7 L151.9 230.4 L151.0 229.7 L150.5 228.9 L150.6 228.2 L151.1 227.9 L152.0 227.9 L153.1 228.2 L154.0 228.9 L154.5 229.7 L154.4 230.4"/><path d="M37.6 95.4 L37.3 95.4 L36.8 94.9 L36.4 94.3 L36.1 93.5 L36.0 92.9 L36.2 92.6 L36.5 92.6 L37.0 93.1 L37.4 93.7 L37.7 94.5 L37.8 95.1 L37.6 95.4"/><path d="M41.6 111.0 L41.0 110.8 L40.4 110.0 L39.9 108.7 L39.8 107.4 L40.0 106.4 L40.4 106.0 L41.0 106.2 L41.6 107.0 L42.1 108.3 L42.2 109.6 L42.0 110.6 L41.6 111.0"/><path d="M43.4 120.6 L43.0 120.5 L42.6 120.0 L42.2 119.3 L42.0 118.5 L42.0 117.9 L42.2 117.6 L42.6 117.7 L43.0 118.2 L43.4 118.9 L43.6 119.7 L43.6 120.3 L43.4 120.6"/><path d="M43.5 130.6 L43.1 130.5 L42.7 129.9 L42.4 129.1 L42.3 128.2 L42.3 127.5 L42.5 127.2 L42.9 127.3 L43.3 127.9 L43.6 128.7 L43.7 129.6 L43.7 130.3 L43.5 130.6"/><path d="M47.2 142.6 L46.8 142.4 L46.4 141.7 L45.9 140.7 L45.7 139.6 L45.6 138.8 L45.8 138.4 L46.2 138.6 L46.6 139.3 L47.1 140.3 L47.3 141.4 L47.4 142.2 L47.2 142.6"/><path d="M48.0 16.8 L47.9 17.7 L47.0 19.7 L45.6 22.3 L44.0 24.9 L42.7 26.7 L42.0 27.2 L42.1 26.3 L43.0 24.3 L44.4 21.7 L46.0 19.1 L47.3 17.3 L48.0 16.8"/><path d="M37.5 33.8 L37.3 33.9 L36.9 33.7 L36.6 33.3 L36.4 32.8 L36.3 32.4 L36.5 32.2 L36.7 32.1 L37.1 32.3 L37.4 32.7 L37.6 33.2 L37.7 33.6 L37.5 33.8"/><path d="M35.6 43.1 L35.4 43.1 L35.1 43.0 L34.9 42.7 L34.7 42.4 L34.7 42.1 L34.8 41.9 L35.0 41.9 L35.3 42.0 L35.5 42.3 L35.7 42.6 L35.7 42.9 L35.6 43.1"/><path d="M36.1 52.3 L35.8 52.2 L35.5 51.8 L35.2 51.1 L35.1 50.4 L35.1 49.9 L35.3 49.7 L35.6 49.8 L35.9 50.2 L36.2 50.9 L36.3 51.6 L36.3 52.1 L36.1 52.3"/><path d="M35.5 60.8 L35.2 60.6 L34.8 60.0 L34.6 59.1 L34.5 58.2 L34.6 57.5 L34.9 57.2 L35.2 57.4 L35.6 58.0 L35.8 58.9 L35.9 59.8 L35.8 60.5 L35.5 60.8"/><path d="M118.5 120.3 L118.3 121.1 L117.8 121.7 L117.2 121.9 L116.5 121.7 L116.1 121.1 L115.9 120.3 L116.1 119.5 L116.5 118.9 L117.2 118.7 L117.8 118.9 L118.3 119.5 L118.5 120.3"/><path d="M74.0 123.6 L73.5 123.6 L73.0 123.4 L72.4 122.8 L72.0 122.1 L71.8 121.5 L72.0 121.0 L72.5 121.0 L73.0 121.2 L73.6 121.8 L74.0 122.5 L74.2 123.1 L74.0 123.6"/><path d="M75.7 126.3 L75.3 126.4 L74.7 126.2 L74.1 125.7 L73.7 125.0 L73.6 124.4 L73.9 123.9 L74.3 123.8 L74.9 124.0 L75.5 124.5 L75.9 125.2 L76.0 125.8 L75.7 126.3"/><path d="M77.7 128.8 L77.3 128.9 L76.7 128.8 L76.1 128.4 L75.7 127.8 L75.6 127.2 L75.7 126.8 L76.1 126.7 L76.7 126.8 L77.3 127.2 L77.7 127.8 L77.8 128.4 L77.7 128.8"/><path d="M85.4 128.3 L85.1 128.7 L84.4 129.0 L83.4 129.0 L82.5 128.8 L81.8 128.4 L81.6 127.9 L81.9 127.5 L82.6 127.2 L83.6 127.2 L84.5 127.4 L85.2 127.8 L85.4 128.3"/><path d="M83.2 137.2 L82.8 137.6 L82.2 137.7 L81.5 137.5 L80.9 137.0 L80.7 136.4 L80.8 135.8 L81.2 135.4 L81.8 135.3 L82.5 135.5 L83.1 136.0 L83.3 136.6 L83.2 137.2"/><path d="M70.3 115.7 L69.9 115.8 L69.6 115.7 L69.2 115.4 L69.0 115.0 L69.0 114.6 L69.1 114.3 L69.5 114.2 L69.8 114.3 L70.2 114.6 L70.4 115.0 L70.4 115.4 L70.3 115.7"/><path d="M76.8 35.2 L77.0 35.4 L77.0 35.7 L76.9 36.2 L76.7 36.6 L76.4 36.8 L76.2 36.8 L76.0 36.6 L76.0 36.3 L76.1 35.8 L76.3 35.4 L76.6 35.2 L76.8 35.2"/><path d="M78.3 38.1 L78.4 38.2 L78.5 38.6 L78.4 38.9 L78.2 39.3 L77.9 39.5 L77.7 39.5 L77.6 39.4 L77.5 39.0 L77.6 38.7 L77.8 38.3 L78.1 38.1 L78.3 38.1"/><path d="M76.0 40.3 L76.2 40.5 L76.2 40.8 L76.1 41.3 L75.9 41.7 L75.6 41.9 L75.4 41.9 L75.2 41.7 L75.2 41.4 L75.3 40.9 L75.5 40.5 L75.8 40.3 L76.0 40.3"/><path d="M77.4 43.0 L77.5 43.2 L77.5 43.5 L77.5 43.8 L77.3 44.2 L77.1 44.3 L76.8 44.4 L76.7 44.2 L76.7 43.9 L76.7 43.6 L76.9 43.2 L77.1 43.1 L77.4 43.0"/><path d="M79.4 33.1 L79.5 33.3 L79.5 33.6 L79.5 33.9 L79.3 34.3 L79.1 34.4 L78.8 34.5 L78.7 34.3 L78.7 34.0 L78.7 33.7 L78.9 33.3 L79.1 33.2 L79.4 33.1"/><path d="M75.1 45.3 L75.2 45.5 L75.2 45.8 L75.2 46.1 L75.0 46.5 L74.8 46.6 L74.5 46.7 L74.4 46.5 L74.4 46.2 L74.4 45.9 L74.6 45.5 L74.8 45.4 L75.1 45.3"/><path d="M81.3 131.2 L81.1 131.4 L80.8 131.5 L80.4 131.5 L80.0 131.3 L79.8 131.0 L79.7 130.8 L79.9 130.6 L80.2 130.5 L80.6 130.5 L81.0 130.7 L81.2 131.0 L81.3 131.2"/><path d="M80.6 120.5 L80.5 120.8 L80.3 120.9 L80.0 121.0 L79.7 120.9 L79.5 120.8 L79.4 120.5 L79.5 120.2 L79.7 120.1 L80.0 120.0 L80.3 120.1 L80.5 120.2 L80.6 120.5"/></g><g fill="#111"><circle cx="120.7" cy="85.8" r="0.5"/><circle cx="98.5" cy="120.3" r="0.5"/><circle cx="102.5" cy="120.3" r="0.5"/><circle cx="105.8" cy="157.7" r="0.5"/><circle cx="118.7" cy="128.9" r="0.5"/><circle cx="52.5" cy="163.3" r="0.5"/><circle cx="60.0" cy="116.5" r="0.5"/><circle cx="87.5" cy="117.5" r="0.5"/></g><path d="M70.2 137.6 L69.7 142.9 L71.7 149.9 L75.2 156.9 L77.5 162.8 L79.3 168.6 L84.0 175.6 L91.0 182.7 L97.9 186.5 L103.7 191.2 L113.1 195.9 L123.6 201.7 L133.0 207.5 L142.3 213.4 L154.5 219.8" fill="none" stroke="#21a585" stroke-width="1.1"/><path d="M91.0 173.9 L95.7 179.1 L101.5 183.8 L105.9 186.6 L119.4 194.5 L131.9 201.3 L134.5 202.5" fill="none" stroke="#cde11d" stroke-width="1.2"/><path d="M150.0 213.8 L154.5 216.0" fill="none" stroke="#cde11d" stroke-width="1.2"/><path d="M66.8 15.6 L60.3 18.8 L54.5 22.9 L49.8 27.6 L46.3 33.4 L43.4 40.4 L41.6 48.6 L40.4 58.0 L39.9 66.2 L39.9 70.0 L41.6 77.0 L45.1 85.2 L48.0 93.4 L49.8 100.4 L50.6 108.6 L51.5 118.0 L52.7 126.2 L54.1 128.9 L57.1 139.4 L60.6 149.9 L64.1 159.3 L67.6 166.3" fill="none" stroke="#54309a" stroke-width="1.2"/><path d="M72.3 174.5 L78.0 186.5 L87.4 195.9 L97.9 204.0 L109.6 212.2 L121.3 218.1 L135.3 223.9 L154.5 231.5" fill="none" stroke="#54309a" stroke-width="1.2"/><text x="0" y="0" font-size="8.2" fill="#3f6fa3" transform="translate(48.6 53.5) rotate(-82)" text-anchor="middle">200</text><text x="0" y="0" font-size="7.5" fill="#3f6fa3" transform="translate(108.3 202.6) rotate(28)" text-anchor="middle">200</text><text x="0" y="0" font-size="6.5" fill="#54309a" transform="translate(66.8 170.3) rotate(60)" text-anchor="middle">00</text><text x="0" y="0" font-size="8.8" fill="#cde11d" transform="translate(86.2 171.2) rotate(52)" text-anchor="middle">600</text><text x="0" y="0" font-size="8.8" fill="#cde11d" transform="translate(145 214.6) rotate(32)" text-anchor="middle">600</text><path d="M69.5 -5.0 L68.0 -3.5 L65.2 -0.7 L62.6 1.9 L59.7 4.2 L56.2 6.6 L52.3 8.7 L48.6 10.7 L45.4 12.7 L42.5 15.0 L40.2 17.7 L38.1 20.5 L36.4 23.5 L34.4 26.8 L32.2 30.5 L30.2 34.6 L28.4 38.7 L27.2 42.8 L26.2 46.9 L25.6 50.8 L25.1 54.5 L24.5 58.2 L23.8 62.2 L23.2 66.5 L22.9 70.6 L23.2 74.9 L23.8 79.4 L25.0 83.9 L26.7 88.1 L28.8 92.0 L31.1 95.8 L33.0 99.3 L34.6 102.8 L35.5 106.5 L36.2 110.4 L36.7 114.5 L37.1 118.6 L37.6 122.5 L38.2 126.3 L38.8 129.9 L39.6 133.6 L40.5 137.4 L41.4 141.3 L42.4 145.3 L43.4 149.5 L44.4 153.8 L45.5 157.8 L46.6 161.6 L47.7 165.1 L49.0 168.5 L50.5 171.7 L52.0 174.9 L53.7 177.9 L55.5 180.7 L57.5 183.5 L59.7 186.3 L62.2 189.2 L64.9 192.5 L67.4 196.0 L69.8 199.7 L72.1 203.3 L74.9 206.5 L78.0 209.1 L81.5 211.2 L85.0 213.3 L88.5 215.4 L92.0 217.5 L95.5 219.7 L99.0 221.9 L102.6 224.2 L106.1 226.4 L109.6 228.5 L113.1 230.5 L116.6 232.4 L120.1 234.2 L123.6 236.1 L127.0 237.9 L130.3 239.6 L133.5 241.2 L136.8 242.8 L140.1 244.5 L143.6 246.2 L147.2 247.9 L150.9 249.7 L154.4 251.3 L157.8 252.9 L161.2 254.4 L162.8 255.2" fill="none" stroke="#a862d4" stroke-width="1.7" stroke-linejoin="round"/><g fill="none" stroke="#a862d4" stroke-width="1.1"><rect x="0.3" y="-2.6" width="5.2" height="5.2" transform="translate(40.4 17.8) rotate(40.3)"/><rect x="0.3" y="-2.6" width="5.2" height="5.2" transform="translate(23.2 70.7) rotate(-0.0)"/><rect x="0.3" y="-2.6" width="5.2" height="5.2" transform="translate(37.7 122.4) rotate(-8.0)"/><rect x="0.3" y="-2.6" width="5.2" height="5.2" transform="translate(55.6 180.7) rotate(-33.6)"/><rect x="0.3" y="-2.6" width="5.2" height="5.2" transform="translate(95.5 219.7) rotate(-58.1)"/><rect x="0.3" y="-2.6" width="5.2" height="5.2" transform="translate(136.9 242.8) rotate(-63.8)"/></g>
</g>
<rect x="0" y="0" width="153.5" height="253.0" fill="none" stroke="#8a8a8a" stroke-width="1"/>
<rect x="2.2" y="1.5" width="9.5" height="12" rx="1.6" fill="#fff" stroke="#444" stroke-width="0.55"/>
<text x="7" y="10.6" font-size="8.6" text-anchor="middle" fill="#111">b</text>
<rect x="112.5" y="1.3" width="35.4" height="12" rx="1.6" fill="#fff" stroke="#555" stroke-width="0.6"/>
<text x="130.3" y="10.5" font-size="8.8" text-anchor="middle" fill="#bcbd22">Model2</text>
</g>
<g transform="translate(348.3 0.5)"><g clip-path="url(#pc)">
<path d="M-2.0 -2.0 L155.5 -2.0 L155.5 255.0 L-2.0 255.0Z" fill="#98c199"/>
<path d="M44.0 50.0 C44.6 50.4 45.5 48.2 47.7 47.8 C49.9 47.4 57.1 46.2 60.5 46.9 C63.9 47.6 70.0 50.7 73.4 53.3 C76.8 55.9 83.0 62.3 86.2 66.2 C89.4 70.1 94.8 78.1 97.2 82.7 C99.6 87.3 103.1 96.2 104.5 101.0 C105.9 105.8 107.2 114.0 107.5 119.0 C107.8 124.0 106.8 133.5 106.8 138.7 C106.8 143.9 107.3 152.8 107.8 157.9 C108.3 163.0 109.4 172.7 110.7 177.1 C112.0 181.5 115.2 187.8 117.4 190.6 C119.6 193.4 124.2 196.5 127.0 198.2 C129.8 199.9 135.4 201.6 138.5 203.0 C141.6 204.4 149.3 207.3 150.0 209.0 C150.7 210.7 146.8 216.9 143.5 216.0 C140.3 215.1 130.6 206.1 125.4 202.4 C120.3 198.8 109.9 192.5 105.1 188.9 C100.2 185.2 92.8 178.9 89.2 175.3 C85.6 171.7 80.0 165.9 77.9 161.7 C75.8 157.5 74.0 148.2 73.4 143.6 C72.8 139.1 75.8 134.1 73.4 127.6 C71.0 121.0 59.2 102.6 55.3 94.5 C51.4 86.5 45.6 74.0 44.0 67.4 C42.3 60.8 42.8 47.1 42.8 44.8 C42.8 42.4 43.4 49.6 44.0 50.0Z" fill="#a7cba9"/>
<path d="M46.0 56.0 C47.3 57.0 50.4 53.1 52.3 52.4 C54.2 51.7 58.4 50.6 60.5 51.1 C62.6 51.6 65.8 54.2 67.9 56.1 C70.0 58.0 73.9 62.4 76.1 65.2 C78.3 68.0 82.3 73.7 84.4 77.2 C86.5 80.7 90.1 87.9 91.7 91.8 C93.3 95.7 95.4 102.6 96.3 106.5 C97.2 110.4 97.8 117.4 98.1 121.1 C98.4 124.8 98.5 130.6 98.6 134.5 C98.7 138.4 98.3 145.9 98.5 150.0 C98.7 154.1 99.3 161.3 100.0 165.0 C100.7 168.7 102.5 174.8 104.0 178.0 C105.5 181.2 108.9 186.6 111.0 189.0 C113.1 191.4 116.8 194.0 120.0 196.0 C123.2 198.0 131.9 201.3 135.0 204.0 C138.1 206.7 144.8 216.2 143.5 216.0 C142.3 215.8 130.6 206.1 125.4 202.4 C120.3 198.8 109.9 192.5 105.1 188.9 C100.2 185.2 92.8 178.9 89.2 175.3 C85.6 171.7 80.0 165.9 77.9 161.7 C75.8 157.5 74.0 148.2 73.4 143.6 C72.8 139.1 75.8 134.1 73.4 127.6 C71.0 121.0 59.2 102.6 55.3 94.5 C51.4 86.5 45.6 74.0 44.0 67.4 C42.3 60.8 42.6 46.3 42.8 44.8 C43.1 43.2 44.7 55.0 46.0 56.0Z" fill="#b6d5b9"/>
<path d="M46.0 72.0 C46.8 75.6 47.1 71.6 48.6 71.7 C50.1 71.8 54.8 71.6 56.9 72.6 C59.0 73.6 62.3 76.7 64.2 79.0 C66.1 81.3 69.7 86.8 71.5 90.0 C73.3 93.2 76.6 99.4 77.9 102.8 C79.2 106.2 80.8 112.6 81.6 115.6 C82.4 118.6 83.3 121.7 84.0 125.0 C84.7 128.3 85.9 135.6 86.5 140.0 C87.1 144.4 87.9 153.7 88.6 158.0 C89.3 162.3 90.5 168.8 92.0 172.0 C93.5 175.2 97.3 179.3 100.0 182.0 C102.7 184.7 111.3 191.1 112.0 192.0 C112.7 192.9 108.1 191.1 105.1 188.9 C102.0 186.6 92.8 178.9 89.2 175.3 C85.6 171.7 80.0 165.9 77.9 161.7 C75.8 157.5 74.0 148.2 73.4 143.6 C72.8 139.1 75.8 134.1 73.4 127.6 C71.0 121.0 59.2 102.6 55.3 94.5 C51.4 86.5 45.6 74.0 44.0 67.4 C42.3 60.8 42.6 44.1 42.8 44.8 C43.1 45.4 45.2 68.4 46.0 72.0Z" fill="#d6e6db"/>
<path d="M78.4 -1.6 C87.9 0.5 69.7 7.6 66.6 10.8 C63.5 14.0 57.5 19.1 55.3 22.1 C53.0 25.1 50.8 30.4 49.6 33.4 C48.5 36.5 47.3 41.1 46.7 44.8 C46.1 48.4 45.0 56.7 45.1 60.6 C45.2 64.5 46.1 70.6 47.4 74.2 C48.6 77.8 52.0 84.4 54.1 87.8 C56.3 91.1 61.1 96.1 63.2 99.1 C65.3 102.1 68.5 107.4 70.0 110.4 C71.5 113.4 73.8 119.7 74.5 121.7 C75.3 123.7 75.6 123.2 75.6 125.5 C75.6 127.8 74.7 135.8 74.5 139.1 C74.4 142.4 74.2 147.4 74.5 150.4 C74.8 153.4 75.7 158.5 76.8 161.7 C77.8 164.9 80.2 171.0 82.4 174.2 C84.7 177.3 90.4 182.6 93.7 185.5 C97.1 188.3 103.1 192.8 107.3 195.7 C111.5 198.5 121.2 204.3 125.4 207.0 C129.6 209.7 135.1 213.7 139.0 216.0 C142.9 218.3 152.2 218.8 154.8 224.4 C157.4 230.0 179.8 253.5 158.5 258.0 C137.2 262.5 16.8 293.1 -5.0 258.0 C-26.8 222.9 -16.1 29.6 -5.0 -5.0 C6.1 -39.6 68.8 -3.7 78.4 -1.6Z" fill="#d0dce5"/>
<path d="M-115.8 -187.3 L-117.2 -186.0 L-110.4 -192.5 L-103.5 -198.4 L-93.9 -205.9 L-84.1 -212.6 L-82.0 -214.0 L-91.4 -208.2 L-110.3 -195.1 L-134.5 -174.8 L-157.9 -150.3 L-174.4 -129.0 L-184.4 -113.8 L-192.6 -99.9 L-199.5 -87.0 L-207.1 -71.1 L-215.2 -51.2 L-222.5 -29.0 L-227.4 -9.6 L-230.1 3.8 L-231.3 11.2 L-232.7 19.4 L-234.3 31.6 L-235.9 47.7 L-236.8 70.7 L-235.1 102.4 L-229.7 135.5 L-221.8 164.5 L-211.5 191.6 L-202.8 209.9 L-199.8 215.5 L-203.5 207.8 L-210.6 190.4 L-217.1 168.7 L-220.3 153.7 L-221.1 148.5 L-220.8 150.8 L-219.8 158.4 L-218.4 168.1 L-216.3 179.8 L-214.4 189.0 L-212.9 195.4 L-211.5 201.4 L-210.4 206.1 L-209.1 211.6 L-207.2 219.2 L-205.0 227.2 L-201.6 239.0 L-196.3 254.4 L-191.3 267.4 L-185.4 280.9 L-177.0 297.7 L-169.5 311.0 L-161.0 324.4 L-149.6 340.5 L-143.8 347.9 L-143.5 348.3 L-142.9 349.1 L-144.0 347.6 L-140.4 352.7 L-126.6 370.4 L-107.5 391.1 L-86.1 410.3 L-62.8 427.5 L-49.3 435.9 L-46.8 437.5 L-44.3 439.0 L-41.7 440.6 L-39.2 442.2 L-34.7 445.0 L-28.1 449.0 L-21.5 452.9 L-14.9 456.7 L-8.1 460.5 L-2.3 463.7 L2.6 466.2 L7.4 468.7 L12.3 471.2 L17.5 473.8 L22.1 476.1 L26.0 478.1 L30.0 480.0 L34.6 482.2 L39.5 484.6 L44.3 486.8 L48.4 488.7 L51.4 490.1 L54.5 491.5 L165.3 245.3 L163.7 244.6 L162.0 243.8 L158.6 242.2 L155.1 240.6 L151.6 238.9 L148.1 237.2 L144.6 235.5 L141.3 233.9 L138.0 232.3 L134.8 230.6 L131.5 229.0 L128.2 227.2 L124.8 225.4 L121.4 223.6 L118.0 221.7 L114.6 219.8 L111.2 217.7 L107.8 215.7 L104.4 213.5 L100.8 211.3 L97.3 209.1 L93.7 206.9 L90.2 204.7 L87.0 202.9 L84.5 201.0 L82.2 198.9 L80.0 196.6 L77.9 193.8 L75.5 190.3 L72.8 186.7 L70.3 183.3 L67.8 180.2 L65.6 177.5 L63.9 175.1 L62.4 172.6 L60.9 170.1 L59.6 167.5 L58.4 164.6 L57.2 161.6 L56.1 158.5 L55.1 154.9 L54.1 151.1 L53.1 147.2 L52.1 143.1 L51.2 139.1 L50.3 135.2 L49.5 131.6 L48.7 128.0 L48.1 124.6 L47.6 121.0 L47.1 117.3 L46.6 113.2 L46.0 108.9 L45.1 104.3 L43.6 99.5 L41.8 95.1 L39.8 91.0 L37.8 87.4 L36.1 83.9 L34.8 80.6 L33.9 77.2 L33.4 74.0 L33.2 70.7 L33.4 67.1 L33.8 63.6 L34.2 60.0 L34.9 56.2 L35.5 52.4 L36.2 48.9 L37.0 45.6 L38.2 42.2 L39.6 38.7 L41.2 35.3 L43.0 32.0 L44.7 29.0 L46.5 26.4 L48.0 24.3 L49.7 22.5 L51.6 20.9 L54.3 19.1 L57.6 17.1 L61.4 14.9 L65.1 12.3 L68.8 9.4 L72.1 6.5 L73.7 4.9 L75.1 3.6Z" fill="#89a6c4"/>
<path d="M-2.4 105.9 C-0.8 102.8 7.1 104.6 10.0 105.4 C12.9 106.3 18.9 110.0 19.5 112.2 C20.2 114.4 16.4 119.5 15.0 121.7 C13.6 123.9 11.2 127.6 8.9 128.5 C6.6 129.4 -0.9 131.5 -2.4 128.5 C-3.9 125.5 -4.1 108.9 -2.4 105.9Z" fill="#adc0d7"/>
<path d="M-2.4 125.5 L12.3 125.5 L12.7 139.1 L7.8 152.7 L-2.4 161.7Z" fill="#adc0d7"/>
<path d="M27.7 139.1 L32.6 148.1 L34.9 170.8 L32.6 177.5 L28.6 159.4Z" fill="#adc0d7"/>
<path d="M-2.4 200.2 C-0.5 192.6 7.6 198.8 12.3 197.9 C17.0 197.0 28.7 194.3 32.6 193.4 C36.6 192.5 40.0 191.1 41.7 191.1 C43.4 191.1 42.1 187.7 45.1 193.4 C48.1 199.1 63.0 226.0 64.3 234.1 C65.7 242.3 64.2 251.8 55.3 254.5 C46.4 257.2 5.3 261.7 -2.4 254.5 C-10.1 247.2 -4.4 207.7 -2.4 200.2Z" fill="#adc0d7"/>
<path d="M32.6 178.7 C31.4 175.2 40.0 188.0 41.7 190.0 C43.4 192.0 43.7 190.2 45.5 193.4 C47.4 196.6 52.8 208.6 55.3 213.8 C57.8 218.9 63.7 227.6 64.3 231.9 C64.9 236.1 61.3 242.4 59.8 245.4 C58.3 248.5 57.2 253.3 53.0 254.5 C48.8 255.7 28.3 257.5 28.1 254.5 C28.0 251.5 48.9 237.0 51.9 231.9 C54.9 226.7 53.3 223.1 50.7 216.0 C48.2 208.9 33.9 182.1 32.6 178.7Z" fill="#d0dce5"/>
<path d="M71.5 0.0 L70.2 1.4 L68.8 2.8 L65.6 5.6 L62.2 8.2 L58.7 10.6 L55.0 12.8 L51.6 14.9 L48.6 16.9 L46.3 18.9 L44.2 21.0 L42.4 23.5 L40.5 26.3 L38.6 29.5 L36.8 33.0 L35.0 36.6 L33.5 40.4 L32.2 44.2 L31.3 47.9 L30.6 51.5 L30.0 55.4 L29.3 59.2 L28.8 63.0 L28.4 66.8 L28.2 70.7 L28.4 74.5 L29.0 78.3 L30.1 82.2 L31.5 85.9 L33.3 89.6 L35.3 93.3 L37.3 97.2 L38.9 101.2 L40.2 105.5 L41.0 109.7 L41.6 113.8 L42.1 117.9 L42.6 121.7 L43.2 125.4 L43.8 129.0 L44.6 132.6 L45.4 136.3 L46.3 140.2 L47.3 144.3 L48.3 148.4 L49.3 152.4 L50.3 156.3 L51.4 159.9 L52.5 163.3 L53.8 166.5 L55.1 169.6 L56.5 172.4 L58.1 175.2 L59.8 177.9 L61.6 180.5 L63.9 183.3 L66.3 186.4 L68.8 189.7 L71.4 193.2 L73.8 196.7 L76.2 199.8 L78.7 202.5 L81.4 204.9 L84.3 207.0 L87.6 209.0 L91.1 211.2 L94.6 213.3 L98.2 215.5 L101.7 217.7 L105.2 219.9 L108.7 222.0 L112.1 224.1 L115.6 226.1 L119.0 228.0 L122.5 229.8 L125.9 231.6 L129.2 233.4 L132.5 235.1 L135.8 236.7 L139.1 238.3 L142.4 240.0 L145.9 241.7 L149.4 243.4 L153.0 245.1 L156.4 246.7 L159.9 248.3 L161.6 249.1 L163.2 249.8 L172.3 229.7 L170.8 229.0 L169.2 228.3 L165.8 226.7 L162.4 225.2 L158.9 223.7 L155.4 222.1 L151.9 220.6 L148.5 219.1 L145.3 217.6 L142.2 216.2 L138.9 214.7 L135.6 213.1 L132.2 211.5 L128.9 209.9 L125.6 208.2 L122.4 206.5 L119.1 204.7 L115.8 202.9 L112.3 200.8 L108.6 198.7 L104.9 196.6 L101.4 194.3 L97.8 192.1 L95.3 190.5 L94.0 189.4 L92.8 188.2 L91.7 186.8 L90.3 184.7 L88.1 181.3 L85.2 177.3 L82.8 173.6 L80.4 170.2 L78.6 167.7 L77.6 166.0 L76.7 164.1 L75.4 162.3 L74.4 160.6 L73.2 158.5 L72.1 156.1 L71.1 153.8 L70.1 150.8 L69.1 147.2 L68.2 143.5 L67.3 139.5 L66.3 135.5 L65.5 131.8 L64.7 128.2 L63.9 125.1 L63.2 122.1 L62.5 118.9 L61.8 115.4 L61.1 111.3 L60.3 106.4 L59.2 100.8 L57.4 94.6 L55.1 89.0 L53.4 84.0 L52.1 80.1 L51.6 77.2 L51.6 75.1 L50.5 73.6 L49.7 72.3 L49.0 70.7 L48.5 68.2 L47.8 65.2 L47.2 61.9 L46.8 58.2 L46.4 54.4 L46.8 51.3 L47.2 48.5 L47.9 45.7 L48.8 42.8 L50.1 39.8 L51.6 36.8 L53.0 34.2 L54.4 31.9 L55.4 30.5 L55.8 29.1 L56.6 27.6 L58.5 25.6 L61.3 23.2 L65.2 20.9 L69.5 18.2 L73.6 15.2 L77.3 12.1 L79.1 10.3 L80.4 8.9Z" fill="#adc0d7"/>
<path d="M71.5 0.0 L70.2 1.4 L68.8 2.8 L65.6 5.6 L62.2 8.2 L58.7 10.6 L55.0 12.8 L51.6 14.9 L48.6 16.9 L46.3 18.9 L44.2 21.0 L42.4 23.5 L40.5 26.3 L38.6 29.5 L36.8 33.0 L35.0 36.6 L33.5 40.4 L32.2 44.2 L31.3 47.9 L30.6 51.5 L30.0 55.4 L29.3 59.2 L28.8 63.0 L28.4 66.8 L28.2 70.7 L28.4 74.5 L29.0 78.3 L30.1 82.2 L31.5 85.9 L33.3 89.6 L35.3 93.3 L37.3 97.2 L38.9 101.2 L40.2 105.5 L41.0 109.7 L41.6 113.8 L42.1 117.9 L42.6 121.7 L43.2 125.4 L43.8 129.0 L44.6 132.6 L45.4 136.3 L46.3 140.2 L47.3 144.3 L48.3 148.4 L49.3 152.4 L50.3 156.3 L51.4 159.9 L52.5 163.3 L53.8 166.5 L55.1 169.6 L56.5 172.4 L58.1 175.2 L59.8 177.9 L61.6 180.5 L63.9 183.3 L66.3 186.4 L68.8 189.7 L71.4 193.2 L73.8 196.7 L76.2 199.8 L78.7 202.5 L81.4 204.9 L84.3 207.0 L87.6 209.0 L91.1 211.2 L94.6 213.3 L98.2 215.5 L101.7 217.7 L105.2 219.9 L108.7 222.0 L112.1 224.1 L115.6 226.1 L119.0 228.0 L122.5 229.8 L125.9 231.6 L129.2 233.4 L132.5 235.1 L135.8 236.7 L139.1 238.3 L142.4 240.0 L145.9 241.7 L149.4 243.4 L153.0 245.1 L156.4 246.7 L159.9 248.3 L161.6 249.1 L163.2 249.8 L171.5 231.3 L170.0 230.6 L168.4 229.9 L165.0 228.3 L161.6 226.8 L158.1 225.3 L154.6 223.8 L151.1 222.2 L147.7 220.7 L144.5 219.2 L141.4 217.8 L138.1 216.3 L134.8 214.7 L131.4 213.1 L128.0 211.4 L124.8 209.8 L121.5 208.1 L118.2 206.3 L114.8 204.4 L111.3 202.4 L107.6 200.3 L104.0 198.2 L100.4 195.9 L96.9 193.6 L94.3 192.0 L92.9 190.8 L91.6 189.5 L90.3 187.9 L88.8 185.8 L86.6 182.3 L83.8 178.4 L81.4 174.7 L79.0 171.3 L77.2 168.8 L76.1 167.0 L75.1 165.1 L73.8 163.1 L72.7 161.4 L71.6 159.1 L70.4 156.8 L69.4 154.3 L68.3 151.3 L67.4 147.7 L66.5 143.9 L65.5 139.9 L64.6 135.9 L63.7 132.2 L62.9 128.6 L62.1 125.4 L61.4 122.4 L60.7 119.2 L60.0 115.6 L59.3 111.5 L58.6 106.7 L57.5 101.2 L55.7 95.2 L53.4 89.8 L51.8 84.8 L50.5 80.9 L49.9 77.9 L49.8 75.7 L48.8 74.0 L47.9 72.5 L47.2 70.7 L46.7 68.1 L46.1 65.0 L45.5 61.7 L45.1 57.9 L44.7 54.1 L45.0 50.9 L45.5 48.0 L46.2 45.1 L47.2 42.0 L48.5 39.0 L50.0 35.9 L51.5 33.2 L52.9 30.9 L54.0 29.3 L54.6 27.8 L55.6 26.2 L57.5 24.1 L60.4 21.6 L64.3 19.4 L68.4 16.8 L72.4 13.8 L76.1 10.8 L77.8 9.0 L79.2 7.7Z" fill="#89a6c4"/>
<path d="M68.0 -3.5 L66.7 -2.2 L65.4 -0.9 L62.4 1.7 L59.2 4.2 L56.0 6.4 L52.5 8.5 L48.9 10.7 L45.6 12.9 L42.8 15.2 L40.4 17.8 L38.3 20.6 L36.2 23.7 L34.2 27.1 L32.3 30.7 L30.4 34.6 L28.8 38.7 L27.4 42.8 L26.4 46.8 L25.7 50.6 L24.8 54.5 L24.0 58.4 L23.2 62.3 L22.6 66.4 L21.9 70.7 L21.6 75.2 L21.9 79.9 L22.7 84.6 L24.2 89.1 L26.1 93.3 L27.9 97.2 L29.5 100.7 L30.7 104.2 L31.5 107.6 L31.9 111.2 L32.2 115.1 L31.8 119.2 L31.5 123.3 L31.5 127.3 L31.6 131.4 L31.9 135.4 L32.4 139.3 L33.0 143.4 L33.7 147.5 L34.3 151.8 L35.1 156.1 L35.9 160.3 L36.9 164.5 L38.1 168.6 L39.4 172.4 L40.9 176.1 L42.6 179.9 L44.4 183.4 L46.3 186.8 L48.6 190.4 L50.9 193.5 L53.0 196.6 L55.2 199.9 L57.4 203.2 L59.7 207.0 L62.6 211.2 L66.1 215.3 L69.9 219.0 L74.1 222.3 L78.0 224.9 L81.3 227.2 L84.7 229.5 L88.1 231.7 L91.5 233.9 L95.1 236.2 L98.7 238.5 L102.4 240.7 L106.1 242.9 L109.7 245.0 L113.3 246.9 L116.8 248.9 L120.3 250.7 L123.7 252.5 L127.0 254.3 L130.4 256.0 L133.8 257.7 L137.2 259.5 L140.8 261.3 L144.4 263.1 L148.0 264.8 L151.5 266.5 L153.3 267.3 L155.0 268.1 L170.8 233.0 L169.3 232.3 L167.7 231.5 L164.3 230.0 L160.8 228.5 L157.3 226.9 L153.8 225.4 L150.3 223.8 L146.9 222.3 L143.7 220.8 L140.5 219.4 L137.3 217.8 L133.9 216.3 L130.5 214.7 L127.2 213.0 L123.9 211.3 L120.6 209.6 L117.2 207.8 L113.9 205.9 L110.4 203.9 L106.7 201.8 L103.0 199.7 L99.5 197.4 L95.9 195.1 L93.3 193.5 L91.8 192.2 L90.3 190.8 L88.9 189.1 L87.4 186.8 L85.1 183.4 L82.4 179.4 L79.9 175.8 L77.6 172.4 L75.7 169.8 L74.6 168.0 L73.6 166.0 L72.2 164.0 L71.1 162.1 L69.9 159.8 L68.7 157.4 L67.7 154.9 L66.6 151.8 L65.6 148.1 L64.7 144.4 L63.8 140.3 L62.8 136.3 L62.0 132.6 L61.2 129.0 L60.3 125.8 L59.6 122.7 L59.0 119.4 L58.2 115.9 L57.5 111.8 L56.8 107.0 L55.7 101.6 L54.0 95.8 L51.8 90.5 L50.2 85.6 L48.9 81.7 L48.3 78.7 L48.1 76.2 L47.0 74.3 L46.1 72.7 L45.4 70.7 L45.0 68.0 L44.3 64.8 L43.7 61.4 L43.3 57.6 L42.9 53.8 L43.3 50.5 L43.8 47.5 L44.5 44.5 L45.5 41.3 L46.9 38.1 L48.4 35.0 L50.0 32.2 L51.5 29.9 L52.6 28.1 L53.3 26.5 L54.5 24.7 L56.5 22.6 L59.4 20.1 L63.3 17.9 L67.4 15.3 L71.3 12.4 L74.9 9.4 L76.6 7.7 L77.9 6.4Z" fill="#6389b0"/>
<path d="M35.6 48.8 L33.2 52.0 L30.9 55.5 L30.0 59.3 L29.1 63.0 L28.4 66.8 L28.2 70.7 L28.4 74.5 L29.0 78.3 L30.1 82.2 L31.3 86.0 L32.9 89.9 L34.7 93.7 L36.3 97.6 L37.4 101.8 L38.0 106.0 L38.2 110.2 L38.2 114.3 L37.5 118.5 L36.9 122.5 L36.7 126.4 L36.7 130.4 L36.7 134.3 L37.1 138.2 L37.5 142.3 L38.0 146.5 L38.6 150.8 L39.1 155.0 L39.7 159.2 L40.6 163.3 L41.6 167.3 L42.7 171.0 L43.9 174.7 L45.4 178.4 L46.9 181.9 L48.7 185.2 L50.9 188.7 L53.1 191.8 L55.1 195.0 L57.2 198.4 L59.3 201.9 L61.5 205.7 L64.3 209.9 L67.5 213.9 L71.1 217.5 L75.1 220.9 L78.9 223.5 L82.2 225.8 L85.5 228.2 L88.9 230.4 L92.3 232.6 L95.9 234.9 L99.5 237.2 L103.2 239.4 L106.8 241.6 L110.4 243.6 L114.0 245.6 L117.5 247.5 L121.0 249.4 L124.3 251.2 L127.7 252.9 L131.0 254.7 L134.4 256.4 L137.9 258.2 L141.5 260.0 L145.1 261.7 L148.6 263.5 L152.1 265.1 L153.9 265.9 L155.6 266.7 L170.0 234.8 L168.4 234.1 L166.8 233.3 L163.4 231.8 L160.0 230.3 L156.5 228.7 L152.9 227.2 L149.5 225.6 L146.1 224.1 L142.8 222.6 L139.6 221.2 L136.4 219.6 L133.0 218.1 L129.6 216.4 L126.2 214.8 L122.9 213.1 L119.5 211.3 L116.2 209.5 L112.8 207.6 L109.3 205.6 L105.6 203.5 L102.0 201.4 L98.4 199.1 L94.9 196.9 L92.2 195.1 L90.5 193.7 L88.9 192.2 L87.4 190.4 L85.8 188.0 L83.5 184.5 L80.8 180.6 L78.4 177.1 L76.0 173.7 L74.1 171.1 L73.0 169.1 L71.9 167.0 L70.4 165.0 L69.2 163.0 L68.0 160.6 L66.7 158.1 L65.6 155.5 L64.5 152.3 L63.5 148.7 L62.5 144.9 L61.5 140.9 L60.5 136.9 L59.6 133.1 L58.7 129.5 L57.8 126.3 L57.0 123.1 L56.2 119.8 L55.4 116.2 L54.5 112.1 L53.7 107.6 L52.6 102.4 L50.8 97.0 L48.6 92.0 L47.6 87.0 L46.8 82.8 L46.6 79.4 L47.0 76.6 L45.9 74.6 L45.1 72.8 L44.5 70.7 L44.2 67.9 L43.2 64.7 L42.4 61.2 L41.8 57.4 L40.4 53.3 L39.0 49.6Z" fill="#426d9c"/>
<path d="M55.3 254.5 C55.5 252.8 60.7 247.9 62.1 245.4 C63.4 243.0 65.3 238.8 65.5 236.4 C65.6 234.0 64.6 230.4 63.2 227.3 C61.8 224.3 57.4 217.4 55.3 213.8 C53.2 210.1 48.7 202.9 47.4 200.2 C46.1 197.5 45.3 194.1 45.5 193.4 C45.8 192.7 48.3 194.4 49.3 194.8 C50.3 195.3 52.0 196.1 53.0 196.7 C54.0 197.2 55.9 198.0 56.8 198.7 C57.7 199.4 58.9 200.8 59.6 201.6 C60.4 202.5 61.7 204.0 62.5 204.9 C63.4 205.9 64.9 207.6 65.9 208.5 C66.8 209.4 68.6 210.9 69.6 211.7 C70.6 212.6 72.3 214.1 73.3 214.8 C74.3 215.6 76.2 216.9 77.3 217.5 C78.3 218.2 80.2 219.1 81.2 219.6 C82.2 220.2 83.8 221.1 84.8 221.6 C85.7 222.1 87.4 223.0 88.3 223.5 C89.3 224.1 90.9 225.1 91.8 225.7 C92.7 226.3 94.3 227.4 95.3 228.0 C96.2 228.6 97.8 229.6 98.8 230.2 C99.7 230.8 101.4 231.9 102.4 232.5 C103.3 233.1 105.0 234.1 105.9 234.7 C106.9 235.2 108.6 236.2 109.5 236.8 C110.5 237.3 112.1 238.3 113.1 238.8 C114.0 239.3 115.7 240.3 116.6 240.8 C117.6 241.3 119.2 242.2 120.1 242.7 C121.0 243.2 122.6 244.0 123.5 244.5 C124.4 245.0 126.0 245.8 126.8 246.3 C127.7 246.8 129.3 247.6 130.1 248.0 C131.0 248.5 132.6 249.3 133.5 249.7 C134.4 250.2 135.9 251.0 136.8 251.5 C137.7 251.9 139.4 252.7 140.3 253.2 C141.2 253.7 142.9 254.5 143.8 255.0 C144.8 255.5 146.5 256.3 147.4 256.8 C148.4 257.2 150.0 258.1 150.9 258.5 C151.9 258.9 153.7 259.8 154.4 260.1 C155.1 260.4 155.7 260.7 156.2 260.9 C156.6 261.1 157.6 262.1 157.9 261.7 C158.2 261.3 171.6 258.5 158.5 258.0 C145.4 257.5 73.8 258.5 60.0 258.0 C46.2 257.5 55.0 256.2 55.3 254.5Z" fill="#d6e6db"/>
<path d="M52.0 197.4 L52.0 202.3 L53.7 205.9 L55.7 209.9 L58.4 214.8 L61.8 219.6 L65.8 224.0 L70.3 228.0 L74.3 231.1 L77.4 233.7 L80.5 236.3 L83.6 238.9 L86.8 241.4 L90.2 244.1 L93.7 246.9 L97.2 249.6 L100.8 252.2 L104.4 254.7 L107.9 257.2 L111.2 259.5 L114.5 261.8 L117.8 263.9 L121.2 266.0 L124.4 268.1 L127.7 270.1 L131.1 272.1 L134.6 274.3 L138.1 276.4 L141.6 278.4 L145.2 280.1 L147.0 280.9 L148.9 281.8 L157.9 261.7 L156.2 260.9 L154.4 260.1 L150.9 258.5 L147.4 256.8 L143.8 255.0 L140.3 253.2 L136.8 251.5 L133.5 249.7 L130.1 248.0 L126.8 246.3 L123.5 244.5 L120.1 242.7 L116.6 240.8 L113.1 238.8 L109.5 236.8 L105.9 234.7 L102.4 232.5 L98.8 230.2 L95.3 228.0 L91.8 225.7 L88.3 223.5 L84.8 221.6 L81.2 219.6 L77.3 217.5 L73.3 214.8 L69.6 211.7 L65.9 208.5 L62.5 204.9 L59.6 201.6 L56.8 198.7 L53.0 196.7Z" fill="#b6d5b9"/>
<path d="M56.0 199.3 L57.8 202.9 L59.7 207.0 L62.2 211.5 L65.4 216.0 L69.0 220.1 L73.1 223.8 L76.8 226.8 L80.0 229.4 L83.1 232.1 L86.4 234.4 L89.7 236.8 L93.1 239.4 L96.7 241.9 L100.3 244.4 L103.8 246.8 L107.4 249.1 L111.0 251.4 L114.4 253.5 L117.7 255.6 L121.1 257.6 L124.4 259.5 L127.7 261.5 L131.0 263.4 L134.4 265.3 L137.9 267.3 L141.5 269.3 L145.0 271.2 L148.5 272.8 L150.4 273.7 L152.1 274.5 L157.9 261.7 L156.2 260.9 L154.4 260.1 L150.9 258.5 L147.4 256.8 L143.8 255.0 L140.3 253.2 L136.8 251.5 L133.5 249.7 L130.1 248.0 L126.8 246.3 L123.5 244.5 L120.1 242.7 L116.6 240.8 L113.1 238.8 L109.5 236.8 L105.9 234.7 L102.4 232.5 L98.8 230.2 L95.3 228.0 L91.8 225.7 L88.3 223.5 L84.8 221.6 L81.2 219.6 L77.3 217.5 L73.3 214.8 L69.6 211.7 L65.9 208.5 L62.5 204.9 L59.6 201.6 L56.8 198.7Z" fill="#98c199"/>
<path d="M62.1 205.2 C62.4 205.9 63.8 208.5 64.5 209.6 C65.2 210.8 66.6 212.8 67.5 213.9 C68.3 215.0 70.0 216.7 71.0 217.6 C72.0 218.6 73.9 220.2 75.0 221.0 C76.0 221.8 77.8 223.1 78.7 223.7 C79.6 224.4 81.1 225.5 81.9 226.2 C82.8 226.8 84.3 228.0 85.2 228.6 C86.1 229.3 87.7 230.3 88.6 231.0 C89.5 231.6 91.0 232.7 91.9 233.3 C92.8 233.9 94.4 235.1 95.4 235.7 C96.3 236.4 98.0 237.5 99.0 238.1 C99.9 238.8 101.6 239.9 102.5 240.5 C103.5 241.1 105.2 242.2 106.1 242.8 C107.1 243.4 108.7 244.4 109.7 245.0 C110.6 245.6 112.3 246.6 113.2 247.1 C114.2 247.7 115.8 248.6 116.7 249.2 C117.6 249.7 119.1 250.6 120.0 251.2 C120.9 251.7 122.5 252.5 123.4 253.0 C124.3 253.5 125.9 254.4 126.7 254.8 C127.6 255.3 129.2 256.2 130.1 256.6 C131.0 257.1 132.5 257.9 133.4 258.4 C134.3 258.9 135.9 259.7 136.9 260.2 C137.8 260.7 139.5 261.6 140.4 262.1 C141.4 262.6 143.1 263.5 144.0 263.9 C145.0 264.4 146.6 265.3 147.6 265.7 C148.5 266.2 150.3 267.0 151.0 267.4 C151.7 267.7 152.4 268.0 152.8 268.2 C153.3 268.4 153.9 269.9 154.6 269.0 C155.3 268.1 157.7 262.8 157.9 261.7 C158.1 260.6 156.6 261.1 156.2 260.9 C155.7 260.7 155.1 260.4 154.4 260.1 C153.7 259.8 151.9 258.9 150.9 258.5 C150.0 258.1 148.4 257.2 147.4 256.8 C146.5 256.3 144.8 255.5 143.8 255.0 C142.9 254.5 141.2 253.7 140.3 253.2 C139.4 252.7 137.7 251.9 136.8 251.5 C135.9 251.0 134.4 250.2 133.5 249.7 C132.6 249.3 131.0 248.5 130.1 248.0 C129.3 247.6 127.7 246.8 126.8 246.3 C126.0 245.8 124.4 245.0 123.5 244.5 C122.6 244.0 121.0 243.2 120.1 242.7 C119.2 242.2 117.6 241.3 116.6 240.8 C115.7 240.3 114.0 239.3 113.1 238.8 C112.1 238.3 110.5 237.3 109.5 236.8 C108.6 236.2 106.9 235.2 105.9 234.7 C105.0 234.1 103.3 233.1 102.4 232.5 C101.4 231.9 99.7 230.8 98.8 230.2 C97.8 229.6 96.2 228.6 95.3 228.0 C94.3 227.4 92.7 226.3 91.8 225.7 C90.9 225.1 89.3 224.1 88.3 223.5 C87.4 223.0 85.7 222.1 84.8 221.6 C83.8 221.1 82.2 220.2 81.2 219.6 C80.2 219.1 78.3 218.2 77.3 217.5 C76.2 216.9 74.3 215.6 73.3 214.8 C72.3 214.1 70.6 212.6 69.6 211.7 C68.6 210.9 66.8 209.4 65.9 208.5 C64.9 207.6 63.0 205.4 62.5 204.9 C62.0 204.5 61.9 204.6 62.1 205.2Z" fill="#74ae78"/>
<path d="M80.7 220.4 C81.1 220.9 83.0 222.3 83.9 223.0 C84.7 223.7 86.2 225.0 87.0 225.7 C87.9 226.3 89.5 227.4 90.4 228.0 C91.3 228.6 92.9 229.7 93.8 230.3 C94.7 231.0 96.3 232.1 97.2 232.7 C98.2 233.4 99.8 234.5 100.8 235.1 C101.7 235.8 103.3 236.9 104.3 237.5 C105.2 238.1 106.9 239.1 107.8 239.7 C108.8 240.3 110.4 241.4 111.4 241.9 C112.3 242.5 114.0 243.5 114.9 244.0 C115.8 244.6 117.4 245.5 118.3 246.1 C119.2 246.6 120.8 247.5 121.6 248.0 C122.5 248.5 124.1 249.4 125.0 249.8 C125.9 250.3 127.5 251.1 128.4 251.6 C129.2 252.1 130.8 252.9 131.7 253.3 C132.6 253.8 134.2 254.6 135.1 255.0 C136.0 255.5 137.6 256.3 138.5 256.8 C139.5 257.3 141.1 258.1 142.1 258.6 C143.1 259.1 144.8 259.9 145.7 260.4 C146.7 260.9 148.3 261.7 149.2 262.1 C150.2 262.6 152.0 263.4 152.7 263.7 C153.4 264.1 154.0 264.4 154.5 264.6 C155.0 264.8 155.8 265.7 156.2 265.3 C156.7 265.0 157.9 262.3 157.9 261.7 C157.9 261.1 156.6 261.1 156.2 260.9 C155.7 260.7 155.1 260.4 154.4 260.1 C153.7 259.8 151.9 258.9 150.9 258.5 C150.0 258.1 148.4 257.2 147.4 256.8 C146.5 256.3 144.8 255.5 143.8 255.0 C142.9 254.5 141.2 253.7 140.3 253.2 C139.4 252.7 137.7 251.9 136.8 251.5 C135.9 251.0 134.4 250.2 133.5 249.7 C132.6 249.3 131.0 248.5 130.1 248.0 C129.3 247.6 127.7 246.8 126.8 246.3 C126.0 245.8 124.4 245.0 123.5 244.5 C122.6 244.0 121.0 243.2 120.1 242.7 C119.2 242.2 117.6 241.3 116.6 240.8 C115.7 240.3 114.0 239.3 113.1 238.8 C112.1 238.3 110.5 237.3 109.5 236.8 C108.6 236.2 106.9 235.2 105.9 234.7 C105.0 234.1 103.3 233.1 102.4 232.5 C101.4 231.9 99.7 230.8 98.8 230.2 C97.8 229.6 96.2 228.6 95.3 228.0 C94.3 227.4 92.7 226.3 91.8 225.7 C90.9 225.1 89.3 224.1 88.3 223.5 C87.4 223.0 85.7 222.1 84.8 221.6 C83.8 221.1 81.7 219.8 81.2 219.6 C80.6 219.5 80.4 220.0 80.7 220.4Z" fill="#569858"/>
<path d="M45.1 117.5 L43.6 121.6 L42.8 125.4 L42.5 129.3 L42.6 133.0 L42.8 136.9 L43.0 141.0 L43.1 145.3 L43.2 149.6 L43.4 153.9 L43.6 158.2 L44.2 162.2 L45.0 166.1 L45.9 169.7 L46.9 173.3 L48.1 176.9 L49.5 180.3 L51.0 183.7 L52.9 187.2 L54.9 190.4 L56.6 193.9 L58.4 197.5 L61.1 200.6 L63.7 204.1 L66.8 207.7 L70.3 211.0 L73.9 214.1 L77.7 216.9 L81.5 219.0 L85.1 221.1 L88.6 223.1 L92.1 225.3 L95.5 227.5 L99.1 229.8 L102.6 232.1 L106.2 234.2 L109.7 236.3 L113.3 238.4 L116.9 240.3 L120.3 242.2 L123.7 244.0 L127.1 245.8 L130.4 247.6 L133.7 249.3 L137.1 251.0 L140.5 252.8 L144.1 254.5 L147.6 256.3 L151.2 258.0 L154.6 259.7 L156.4 260.5 L158.1 261.2 L168.6 238.0 L167.0 237.3 L165.3 236.5 L161.9 234.9 L158.5 233.4 L154.9 231.9 L151.4 230.3 L147.9 228.8 L144.5 227.2 L141.3 225.8 L138.0 224.3 L134.7 222.7 L131.4 221.1 L128.0 219.5 L124.5 217.8 L121.2 216.1 L117.8 214.4 L114.4 212.5 L111.0 210.6 L107.4 208.6 L103.8 206.5 L100.1 204.4 L96.6 202.1 L93.1 199.9 L90.2 198.2 L88.2 196.6 L86.3 194.8 L84.5 192.8 L82.6 190.3 L80.3 186.8 L77.6 183.0 L75.3 179.4 L73.1 176.0 L71.2 173.3 L70.0 171.1 L68.8 168.8 L67.4 166.6 L66.1 164.5 L64.8 161.9 L63.5 159.3 L62.3 156.5 L61.2 153.3 L60.0 149.6 L58.9 145.8 L57.8 141.8 L56.6 137.8 L55.5 134.0 L54.3 130.5 L53.3 127.2 L51.8 124.0 L49.8 120.7 L47.1 117.3Z" fill="#2c4f84"/>
<path d="M55.0 185.5 L56.8 188.9 L58.4 192.5 L60.0 196.3 L62.4 199.7 L64.7 203.3 L67.5 207.1 L70.6 210.7 L74.2 213.7 L78.0 216.4 L81.8 218.6 L85.3 220.6 L88.9 222.7 L92.3 224.9 L95.8 227.1 L99.3 229.4 L102.9 231.6 L106.4 233.8 L110.0 235.9 L113.6 237.9 L117.1 239.9 L120.5 241.8 L123.9 243.6 L127.3 245.4 L130.6 247.1 L133.9 248.8 L137.3 250.6 L140.7 252.3 L144.3 254.1 L147.8 255.9 L151.4 257.6 L154.8 259.2 L156.6 260.0 L158.3 260.8 L160.1 256.7 L158.5 255.9 L156.7 255.1 L153.3 253.5 L149.8 251.8 L146.2 250.1 L142.6 248.4 L139.2 246.7 L135.8 245.0 L132.5 243.3 L129.2 241.6 L125.9 239.9 L122.5 238.1 L119.0 236.3 L115.5 234.4 L112.0 232.4 L108.5 230.3 L104.9 228.2 L101.4 226.0 L97.9 223.8 L94.4 221.6 L90.9 219.4 L87.4 217.3 L83.9 215.1 L80.3 213.0 L76.9 210.4 L73.7 207.5 L70.8 204.3 L68.1 200.9 L65.7 197.3 L63.2 193.9 L60.7 190.7 L58.4 187.6 L56.1 184.7Z" fill="#2a3468"/>
<g stroke="#c8c8c8" stroke-width="0.5" opacity="0.32"><line x1="0.0" y1="21.0" x2="153.5" y2="87.0"/><line x1="0.0" y1="97.0" x2="153.5" y2="158.0"/><line x1="0.0" y1="174.0" x2="153.5" y2="231.0"/><line x1="96.0" y1="-0.5" x2="153.5" y2="22.0"/><line x1="0.0" y1="79.5" x2="33.7" y2="-0.5"/><line x1="0.0" y1="224.5" x2="110.2" y2="-0.5"/><line x1="74.2" y1="253.0" x2="153.5" y2="94.0"/><line x1="147.5" y1="253.0" x2="153.5" y2="241.0"/></g>
<path d="M78.4 -1.6 C74.4 2.5 74.3 2.9 66.6 10.8 C58.9 18.7 60.9 14.6 55.3 22.1 C49.6 29.7 52.5 25.9 49.6 33.4 C46.8 41.0 48.2 35.7 46.7 44.8 C45.2 53.8 44.9 50.8 45.1 60.6 C45.3 70.4 44.3 65.1 47.4 74.2 C50.4 83.2 48.9 79.5 54.1 87.8 C59.4 96.1 57.9 91.5 63.2 99.1 C68.5 106.6 66.2 102.8 70.0 110.4 C73.8 117.9 72.6 116.7 74.5 121.7 C76.4 126.7 75.6 119.7 75.6 125.5 C75.6 131.3 74.9 130.8 74.5 139.1 C74.1 147.4 73.8 142.8 74.5 150.4 C75.3 157.9 74.1 153.8 76.8 161.7 C79.4 169.6 76.8 166.2 82.4 174.2 C88.1 182.1 85.4 178.3 93.7 185.5 C102.0 192.6 96.8 188.5 107.3 195.7 C117.9 202.8 114.9 200.2 125.4 207.0 C136.0 213.8 129.2 210.2 139.0 216.0 C148.8 221.8 149.6 221.6 154.8 224.4" fill="none" stroke="#ff7f50" stroke-width="1.2" stroke-linejoin="round"/>
<path d="M55.3 254.5 C57.5 251.5 58.7 251.5 62.1 245.4 C65.5 239.4 65.1 242.4 65.5 236.4 C65.8 230.4 66.6 234.9 63.2 227.3 C59.8 219.8 60.6 222.8 55.3 213.8 C50.0 204.7 50.6 207.0 47.4 200.2 C44.1 193.4 44.9 195.2 45.5 193.4 C46.2 191.6 46.8 193.8 49.3 194.8 C51.8 195.9 50.5 195.4 53.0 196.7 C55.5 197.9 54.6 197.0 56.8 198.7 C59.0 200.4 57.7 199.5 59.6 201.6 C61.5 203.7 60.4 202.7 62.5 204.9 C64.6 207.2 63.5 206.2 65.9 208.5 C68.2 210.8 67.1 209.6 69.6 211.7 C72.0 213.9 70.7 212.9 73.3 214.8 C75.9 216.8 74.7 215.9 77.3 217.5 C79.9 219.1 78.7 218.3 81.2 219.6 C83.7 221.0 82.4 220.3 84.8 221.6 C87.1 222.9 86.0 222.1 88.3 223.5 C90.7 224.9 89.5 224.3 91.8 225.7 C94.1 227.2 92.9 226.5 95.3 228.0 C97.6 229.5 96.4 228.7 98.8 230.2 C101.2 231.7 100.0 231.0 102.4 232.5 C104.7 234.0 103.6 233.2 105.9 234.7 C108.3 236.1 107.1 235.4 109.5 236.8 C111.9 238.2 110.7 237.5 113.1 238.8 C115.4 240.1 114.3 239.5 116.6 240.8 C119.0 242.1 117.8 241.4 120.1 242.7 C122.4 243.9 121.2 243.3 123.5 244.5 C125.7 245.7 124.6 245.1 126.8 246.3 C129.1 247.5 127.9 246.9 130.1 248.0 C132.4 249.2 131.2 248.6 133.5 249.7 C135.7 250.9 134.6 250.3 136.8 251.5 C139.1 252.6 138.0 252.0 140.3 253.2 C142.6 254.4 141.5 253.8 143.8 255.0 C146.2 256.2 145.1 255.6 147.4 256.8 C149.8 257.9 148.6 257.4 150.9 258.5 C153.3 259.6 152.7 259.3 154.4 260.1 C156.2 260.9 155.0 260.4 156.2 260.9 C157.3 261.5 157.3 261.4 157.9 261.7" fill="none" stroke="#ff7f50" stroke-width="1.2" stroke-linejoin="round"/>
<path d="M49.5 39.5 L48.1 42.4 L46.9 45.4 L46.0 48.1 L45.4 51.0 L44.8 54.1 L44.2 57.8 L43.6 61.4 L43.2 64.7 L42.9 67.8 L42.7 70.7 L42.7 73.0 L43.0 75.2 L43.6 77.7 L44.5 80.3 L45.9 83.2 L47.8 86.8 L50.0 91.3 L52.2 96.5 L54.0 102.1 L55.1 107.3 L55.8 112.0 L56.4 116.1 L57.0 119.7 L57.5 123.1 L58.1 126.2 L58.9 129.5 L59.8 133.1 L60.7 136.8 L61.7 140.8 L62.7 144.8 L63.7 148.6 L64.8 152.3 L65.5 155.5 L66.3 158.3 L67.2 161.0 L68.1 163.5 L69.0 165.7 L70.1 168.0 L71.3 170.2 L72.5 172.3 L74.4 174.9 L76.8 178.3 L79.2 181.8 L82.0 185.6 L84.5 189.0 L86.3 191.3 L88.1 193.0 L89.9 194.5 L91.7 195.8 L94.6 197.4 L98.2 199.5 L101.8 201.7 L105.4 203.8 L109.0 206.0 L112.5 208.1 L115.8 210.1 L119.2 212.0 L122.5 213.8 L125.8 215.6 L129.1 217.3 L132.5 219.0 L135.8 220.7 L139.1 222.2 L142.3 223.8 L145.5 225.3 L148.9 226.8 L152.3 228.4 L155.8 230.0 L159.3 231.6 L162.8 233.1 L166.2 234.7" fill="none" stroke="#3f6fa3" stroke-width="0.6"/><path d="M58.8 111.6 L59.4 115.7 L59.9 119.3 L60.5 122.6 L61.1 125.6 L61.8 128.9 L62.7 132.4 L63.6 136.1 L64.6 140.1 L65.6 144.1 L66.6 147.9 L67.7 151.5 L68.4 154.6 L69.1 157.2 L69.9 159.8 L70.8 162.3 L71.6 164.3 L72.7 166.5 L73.8 168.6 L74.9 170.5 L76.8 173.0 L79.2 176.5 L81.6 180.0 L84.5 183.8 L86.9 187.2 L88.6 189.3 L90.2 190.9 L91.8 192.2 L93.4 193.3 L96.1 194.9 L99.7 197.0 L103.4 199.1 L107.0 201.3 L110.6 203.5 L114.1 205.6 L117.4 207.5 L120.7 209.4 L124.0 211.2 L127.2 212.9 L130.5 214.7 L133.9 216.4 L137.2 218.0 L140.4 219.6 L143.6 221.1 L146.8 222.6 L150.2 224.1 L153.7 225.7 L157.1 227.3 L160.6 228.9 L164.1 230.4 L167.5 232.0" fill="none" stroke="#3f6fa3" stroke-width="0.5"/><g fill="none" stroke="#000" stroke-width="0.5" stroke-linejoin="round"><path d="M66.5 1.3 L67.4 4.5 L70.1 8.1 L72.4 9.0 L75.3 7.6 L78.7 8.1 L82.1 6.7 L85.9 4.9 L86.9 8.6 L86.2 13.1 L86.2 7.7 L86.8 11.2 L85.6 14.7 L84.4 19.4 L83.9 24.1 L83.3 28.7 L82.1 33.4 L80.9 36.9 L79.2 41.6 L78.0 45.1 L75.7 48.6 L74.5 51.0 L73.0 52.7 L71.5 56.1 L69.2 60.6 L67.4 65.1 L66.9 67.4 L69.7 69.7 L70.8 74.2 L71.9 79.8 L71.0 84.4 L71.5 90.0 L70.1 95.7 L69.7 101.3 L68.7 107.0 L67.4 112.6 L69.7 116.0 L72.4 119.4 L74.2 122.8 L77.6 125.8 L81.4 126.7 L84.4 125.1 L85.0 126.2 L85.6 121.5 L84.4 116.8 L85.0 112.1 L87.4 107.5 L89.7 101.6 L89.1 95.8 L86.2 89.9 L83.3 84.1 L78.6 79.4 L77.4 74.7 L79.8 68.9 L79.2 63.0 L76.3 62.7 L76.8 58.0 L80.3 53.3 L83.9 49.8 L87.4 45.7 L90.3 41.6 L92.0 38.7 L95.0 37.9 L97.9 38.7 L99.3 40.4 L97.3 42.2 L96.1 44.5 L97.9 46.3 L100.8 47.5 L103.2 49.8 L104.9 52.7 L105.8 55.6 L105.1 58.0 L106.1 60.3 L104.9 63.0 L108.4 66.5 L113.1 71.2 L114.9 73.5 L111.9 75.3 L109.0 81.7 L113.1 81.1 L118.9 80.0 L120.7 75.9 L122.5 79.4 L126.0 74.7 L129.5 76.5 L135.3 77.0 L141.2 75.9 L145.8 72.4 L149.4 67.7 L151.7 61.8 L152.9 61.5 L152.6 55.6 L152.3 49.8 L151.1 43.9 L149.4 39.3 L147.0 34.6 L145.3 29.9 L144.7 25.2 L143.5 20.6 L144.7 17.0 L149.4 13.0 L154.5 11.2"/><path d="M39.9 71.2 L40.4 75.9 L42.2 80.6 L44.5 86.4 L46.3 93.4 L47.5 99.3 L49.2 103.9 L51.0 109.8 L51.0 115.6 L52.1 120.3 L53.0 127.7 L54.7 140.6 L57.6 152.2 L61.7 162.8 L66.4 171.0 L71.1 175.6 L72.0 178.0 L72.5 177.5 L76.4 173.5 L78.1 169.8 L81.0 163.9 L78.5 157.5 L76.9 153.5 L77.5 148.7 L76.9 140.6 L74.6 131.2 L72.3 119.5 L69.7 115.6 L66.2 111.5 L63.2 107.5 L60.3 102.8 L58.6 98.1 L56.8 92.2 L55.1 86.4 L52.7 82.3 L48.6 78.2 L43.9 74.1 L39.9 71.2"/><path d="M81.5 149.9 L85.6 148.7 L88.5 151.1 L88.0 154.6 L89.7 158.1 L87.4 159.9 L85.0 156.9 L83.3 154.6 L81.5 153.4 L81.5 149.9"/><path d="M98.5 163.4 L98.2 164.7 L97.2 165.7 L95.9 166.0 L94.6 165.7 L93.6 164.7 L93.3 163.4 L93.6 162.1 L94.6 161.1 L95.9 160.8 L97.2 161.1 L98.2 162.1 L98.5 163.4"/><path d="M154.5 135.3 L149.4 137.6 L144.7 138.8 L140.0 138.2 L135.3 137.0 L133.6 138.2 L131.8 141.1 L128.9 144.6 L126.0 142.3 L122.5 140.0 L120.1 137.0 L117.2 137.6 L114.3 140.0 L112.2 144.1 L112.5 147.6 L110.8 151.1 L111.7 154.6 L113.1 157.5 L112.2 161.6 L111.7 166.3 L110.8 169.8 L114.3 172.1 L118.4 174.5 L120.7 178.0 L124.8 179.1 L128.3 178.0 L130.6 180.3 L134.2 183.2 L137.7 185.6 L136.9 190.0 L146.5 190.0 L149.0 191.9 L147.1 193.8 L149.0 188.7 L152.9 184.9 L155.0 182.3"/><path d="M72.5 179.5 L76.5 180.5 L80.5 185.5 L86.5 189.5 L92.5 194.5 L99.5 198.5 L106.5 202.5 L113.5 206.5 L120.5 210.5 L126.5 213.5 L132.5 216.5 L125.5 216.5 L118.5 213.5 L111.5 210.5 L104.5 206.5 L97.5 202.5 L90.5 198.5 L83.5 193.5 L77.5 188.5 L73.5 183.5 L72.5 179.5"/><path d="M130.6 219.2 L130.0 219.6 L129.0 219.6 L127.9 219.1 L126.9 218.4 L126.4 217.6 L126.4 216.8 L127.0 216.4 L128.0 216.4 L129.1 216.9 L130.1 217.6 L130.6 218.4 L130.6 219.2"/><path d="M138.6 223.9 L137.9 224.4 L136.9 224.4 L135.6 223.9 L134.6 223.1 L134.0 222.2 L134.0 221.5 L134.7 221.0 L135.7 221.0 L137.0 221.5 L138.0 222.3 L138.6 223.2 L138.6 223.9"/><path d="M147.8 227.3 L147.1 227.7 L145.8 227.6 L144.3 227.0 L143.0 226.1 L142.2 225.1 L142.2 224.3 L142.9 223.9 L144.2 224.0 L145.7 224.6 L147.0 225.5 L147.8 226.5 L147.8 227.3"/><path d="M154.4 230.4 L153.9 230.7 L153.0 230.7 L151.9 230.4 L151.0 229.7 L150.5 228.9 L150.6 228.2 L151.1 227.9 L152.0 227.9 L153.1 228.2 L154.0 228.9 L154.5 229.7 L154.4 230.4"/><path d="M37.6 95.4 L37.3 95.4 L36.8 94.9 L36.4 94.3 L36.1 93.5 L36.0 92.9 L36.2 92.6 L36.5 92.6 L37.0 93.1 L37.4 93.7 L37.7 94.5 L37.8 95.1 L37.6 95.4"/><path d="M41.6 111.0 L41.0 110.8 L40.4 110.0 L39.9 108.7 L39.8 107.4 L40.0 106.4 L40.4 106.0 L41.0 106.2 L41.6 107.0 L42.1 108.3 L42.2 109.6 L42.0 110.6 L41.6 111.0"/><path d="M43.4 120.6 L43.0 120.5 L42.6 120.0 L42.2 119.3 L42.0 118.5 L42.0 117.9 L42.2 117.6 L42.6 117.7 L43.0 118.2 L43.4 118.9 L43.6 119.7 L43.6 120.3 L43.4 120.6"/><path d="M43.5 130.6 L43.1 130.5 L42.7 129.9 L42.4 129.1 L42.3 128.2 L42.3 127.5 L42.5 127.2 L42.9 127.3 L43.3 127.9 L43.6 128.7 L43.7 129.6 L43.7 130.3 L43.5 130.6"/><path d="M47.2 142.6 L46.8 142.4 L46.4 141.7 L45.9 140.7 L45.7 139.6 L45.6 138.8 L45.8 138.4 L46.2 138.6 L46.6 139.3 L47.1 140.3 L47.3 141.4 L47.4 142.2 L47.2 142.6"/><path d="M48.0 16.8 L47.9 17.7 L47.0 19.7 L45.6 22.3 L44.0 24.9 L42.7 26.7 L42.0 27.2 L42.1 26.3 L43.0 24.3 L44.4 21.7 L46.0 19.1 L47.3 17.3 L48.0 16.8"/><path d="M37.5 33.8 L37.3 33.9 L36.9 33.7 L36.6 33.3 L36.4 32.8 L36.3 32.4 L36.5 32.2 L36.7 32.1 L37.1 32.3 L37.4 32.7 L37.6 33.2 L37.7 33.6 L37.5 33.8"/><path d="M35.6 43.1 L35.4 43.1 L35.1 43.0 L34.9 42.7 L34.7 42.4 L34.7 42.1 L34.8 41.9 L35.0 41.9 L35.3 42.0 L35.5 42.3 L35.7 42.6 L35.7 42.9 L35.6 43.1"/><path d="M36.1 52.3 L35.8 52.2 L35.5 51.8 L35.2 51.1 L35.1 50.4 L35.1 49.9 L35.3 49.7 L35.6 49.8 L35.9 50.2 L36.2 50.9 L36.3 51.6 L36.3 52.1 L36.1 52.3"/><path d="M35.5 60.8 L35.2 60.6 L34.8 60.0 L34.6 59.1 L34.5 58.2 L34.6 57.5 L34.9 57.2 L35.2 57.4 L35.6 58.0 L35.8 58.9 L35.9 59.8 L35.8 60.5 L35.5 60.8"/><path d="M118.5 120.3 L118.3 121.1 L117.8 121.7 L117.2 121.9 L116.5 121.7 L116.1 121.1 L115.9 120.3 L116.1 119.5 L116.5 118.9 L117.2 118.7 L117.8 118.9 L118.3 119.5 L118.5 120.3"/><path d="M74.0 123.6 L73.5 123.6 L73.0 123.4 L72.4 122.8 L72.0 122.1 L71.8 121.5 L72.0 121.0 L72.5 121.0 L73.0 121.2 L73.6 121.8 L74.0 122.5 L74.2 123.1 L74.0 123.6"/><path d="M75.7 126.3 L75.3 126.4 L74.7 126.2 L74.1 125.7 L73.7 125.0 L73.6 124.4 L73.9 123.9 L74.3 123.8 L74.9 124.0 L75.5 124.5 L75.9 125.2 L76.0 125.8 L75.7 126.3"/><path d="M77.7 128.8 L77.3 128.9 L76.7 128.8 L76.1 128.4 L75.7 127.8 L75.6 127.2 L75.7 126.8 L76.1 126.7 L76.7 126.8 L77.3 127.2 L77.7 127.8 L77.8 128.4 L77.7 128.8"/><path d="M85.4 128.3 L85.1 128.7 L84.4 129.0 L83.4 129.0 L82.5 128.8 L81.8 128.4 L81.6 127.9 L81.9 127.5 L82.6 127.2 L83.6 127.2 L84.5 127.4 L85.2 127.8 L85.4 128.3"/><path d="M83.2 137.2 L82.8 137.6 L82.2 137.7 L81.5 137.5 L80.9 137.0 L80.7 136.4 L80.8 135.8 L81.2 135.4 L81.8 135.3 L82.5 135.5 L83.1 136.0 L83.3 136.6 L83.2 137.2"/><path d="M70.3 115.7 L69.9 115.8 L69.6 115.7 L69.2 115.4 L69.0 115.0 L69.0 114.6 L69.1 114.3 L69.5 114.2 L69.8 114.3 L70.2 114.6 L70.4 115.0 L70.4 115.4 L70.3 115.7"/><path d="M76.8 35.2 L77.0 35.4 L77.0 35.7 L76.9 36.2 L76.7 36.6 L76.4 36.8 L76.2 36.8 L76.0 36.6 L76.0 36.3 L76.1 35.8 L76.3 35.4 L76.6 35.2 L76.8 35.2"/><path d="M78.3 38.1 L78.4 38.2 L78.5 38.6 L78.4 38.9 L78.2 39.3 L77.9 39.5 L77.7 39.5 L77.6 39.4 L77.5 39.0 L77.6 38.7 L77.8 38.3 L78.1 38.1 L78.3 38.1"/><path d="M76.0 40.3 L76.2 40.5 L76.2 40.8 L76.1 41.3 L75.9 41.7 L75.6 41.9 L75.4 41.9 L75.2 41.7 L75.2 41.4 L75.3 40.9 L75.5 40.5 L75.8 40.3 L76.0 40.3"/><path d="M77.4 43.0 L77.5 43.2 L77.5 43.5 L77.5 43.8 L77.3 44.2 L77.1 44.3 L76.8 44.4 L76.7 44.2 L76.7 43.9 L76.7 43.6 L76.9 43.2 L77.1 43.1 L77.4 43.0"/><path d="M79.4 33.1 L79.5 33.3 L79.5 33.6 L79.5 33.9 L79.3 34.3 L79.1 34.4 L78.8 34.5 L78.7 34.3 L78.7 34.0 L78.7 33.7 L78.9 33.3 L79.1 33.2 L79.4 33.1"/><path d="M75.1 45.3 L75.2 45.5 L75.2 45.8 L75.2 46.1 L75.0 46.5 L74.8 46.6 L74.5 46.7 L74.4 46.5 L74.4 46.2 L74.4 45.9 L74.6 45.5 L74.8 45.4 L75.1 45.3"/><path d="M81.3 131.2 L81.1 131.4 L80.8 131.5 L80.4 131.5 L80.0 131.3 L79.8 131.0 L79.7 130.8 L79.9 130.6 L80.2 130.5 L80.6 130.5 L81.0 130.7 L81.2 131.0 L81.3 131.2"/><path d="M80.6 120.5 L80.5 120.8 L80.3 120.9 L80.0 121.0 L79.7 120.9 L79.5 120.8 L79.4 120.5 L79.5 120.2 L79.7 120.1 L80.0 120.0 L80.3 120.1 L80.5 120.2 L80.6 120.5"/></g><g fill="#111"><circle cx="120.7" cy="85.8" r="0.5"/><circle cx="98.5" cy="120.3" r="0.5"/><circle cx="102.5" cy="120.3" r="0.5"/><circle cx="105.8" cy="157.7" r="0.5"/><circle cx="118.7" cy="128.9" r="0.5"/><circle cx="52.5" cy="163.3" r="0.5"/><circle cx="60.0" cy="116.5" r="0.5"/><circle cx="87.5" cy="117.5" r="0.5"/></g><path d="M70.2 137.6 L69.7 142.9 L71.7 149.9 L75.2 156.9 L77.5 162.8 L79.3 168.6 L84.0 175.6 L91.0 182.7 L97.9 186.5 L103.7 191.2 L113.1 195.9 L123.6 201.7 L133.0 207.5 L142.3 213.4 L154.5 219.8" fill="none" stroke="#21a585" stroke-width="1.1"/><path d="M91.0 173.9 L95.7 179.1 L101.5 183.8 L105.9 186.6 L119.4 194.5 L131.9 201.3 L134.5 202.5" fill="none" stroke="#cde11d" stroke-width="1.2"/><path d="M150.0 213.8 L154.5 216.0" fill="none" stroke="#cde11d" stroke-width="1.2"/><path d="M66.8 15.6 L60.3 18.8 L54.5 22.9 L49.8 27.6 L46.3 33.4 L43.4 40.4 L41.6 48.6 L40.4 58.0 L39.9 66.2 L39.9 70.0 L41.6 77.0 L45.1 85.2 L48.0 93.4 L49.8 100.4 L50.6 108.6 L51.5 118.0 L52.7 126.2 L54.1 128.9 L57.1 139.4 L60.6 149.9 L64.1 159.3 L67.6 166.3" fill="none" stroke="#54309a" stroke-width="1.2"/><path d="M72.3 174.5 L78.0 186.5 L87.4 195.9 L97.9 204.0 L109.6 212.2 L121.3 218.1 L135.3 223.9 L154.5 231.5" fill="none" stroke="#54309a" stroke-width="1.2"/><text x="0" y="0" font-size="8.2" fill="#3f6fa3" transform="translate(48.6 53.5) rotate(-82)" text-anchor="middle">200</text><text x="0" y="0" font-size="7.5" fill="#3f6fa3" transform="translate(108.3 202.6) rotate(28)" text-anchor="middle">200</text><text x="0" y="0" font-size="6.5" fill="#54309a" transform="translate(66.8 170.3) rotate(60)" text-anchor="middle">00</text><text x="0" y="0" font-size="8.8" fill="#cde11d" transform="translate(86.2 171.2) rotate(52)" text-anchor="middle">600</text><text x="0" y="0" font-size="8.8" fill="#cde11d" transform="translate(145 214.6) rotate(32)" text-anchor="middle">600</text><path d="M69.5 -5.0 L68.0 -3.5 L65.2 -0.7 L62.6 1.9 L59.7 4.2 L56.2 6.6 L52.3 8.7 L48.6 10.7 L45.4 12.7 L42.5 15.0 L40.2 17.7 L38.1 20.5 L36.4 23.5 L34.4 26.8 L32.2 30.5 L30.2 34.6 L28.4 38.7 L27.2 42.8 L26.2 46.9 L25.6 50.8 L25.1 54.5 L24.5 58.2 L23.8 62.2 L23.2 66.5 L22.9 70.6 L23.2 74.9 L23.8 79.4 L25.0 83.9 L26.7 88.1 L28.8 92.0 L31.1 95.8 L33.0 99.3 L34.6 102.8 L35.5 106.5 L36.2 110.4 L36.7 114.5 L37.1 118.6 L37.6 122.5 L38.2 126.3 L38.8 129.9 L39.6 133.6 L40.5 137.4 L41.4 141.3 L42.4 145.3 L43.4 149.5 L44.4 153.8 L45.5 157.8 L46.6 161.6 L47.7 165.1 L49.0 168.5 L50.5 171.7 L52.0 174.9 L53.7 177.9 L55.5 180.7 L57.5 183.5 L59.7 186.3 L62.2 189.2 L64.9 192.5 L67.4 196.0 L69.8 199.7 L72.1 203.3 L74.9 206.5 L78.0 209.1 L81.5 211.2 L85.0 213.3 L88.5 215.4 L92.0 217.5 L95.5 219.7 L99.0 221.9 L102.6 224.2 L106.1 226.4 L109.6 228.5 L113.1 230.5 L116.6 232.4 L120.1 234.2 L123.6 236.1 L127.0 237.9 L130.3 239.6 L133.5 241.2 L136.8 242.8 L140.1 244.5 L143.6 246.2 L147.2 247.9 L150.9 249.7 L154.4 251.3 L157.8 252.9 L161.2 254.4 L162.8 255.2" fill="none" stroke="#a862d4" stroke-width="1.7" stroke-linejoin="round"/><g fill="none" stroke="#a862d4" stroke-width="1.1"><rect x="0.3" y="-2.6" width="5.2" height="5.2" transform="translate(40.4 17.8) rotate(40.3)"/><rect x="0.3" y="-2.6" width="5.2" height="5.2" transform="translate(23.2 70.7) rotate(-0.0)"/><rect x="0.3" y="-2.6" width="5.2" height="5.2" transform="translate(37.7 122.4) rotate(-8.0)"/><rect x="0.3" y="-2.6" width="5.2" height="5.2" transform="translate(55.6 180.7) rotate(-33.6)"/><rect x="0.3" y="-2.6" width="5.2" height="5.2" transform="translate(95.5 219.7) rotate(-58.1)"/><rect x="0.3" y="-2.6" width="5.2" height="5.2" transform="translate(136.9 242.8) rotate(-63.8)"/></g>
</g>
<rect x="0" y="0" width="153.5" height="253.0" fill="none" stroke="#8a8a8a" stroke-width="1"/>
<rect x="2.2" y="1.5" width="9.5" height="12" rx="1.6" fill="#fff" stroke="#444" stroke-width="0.55"/>
<text x="7" y="10.6" font-size="8.6" text-anchor="middle" fill="#111">c</text>
<rect x="112.5" y="1.3" width="35.4" height="12" rx="1.6" fill="#fff" stroke="#555" stroke-width="0.6"/>
<text x="130.3" y="10.5" font-size="8.8" text-anchor="middle" fill="#e377c2">Model3</text>
</g>
<g transform="translate(27.5 259.0)"><g clip-path="url(#pc)">
<path d="M-2.0 -2.0 L155.5 -2.0 L155.5 255.0 L-2.0 255.0Z" fill="#d0dce5"/>
<path d="M112.0 -2.1 C103.7 0.5 100.5 10.2 96.8 14.8 C93.1 19.5 86.9 28.1 84.4 32.9 C81.8 37.8 78.2 46.8 77.6 51.0 C77.0 55.3 78.2 60.4 79.8 64.6 C81.5 68.8 86.5 77.9 90.0 82.7 C93.5 87.6 101.0 96.6 105.9 100.8 C110.7 105.1 119.6 111.2 126.2 114.4 C132.9 117.6 151.3 123.4 155.6 125.0 C159.9 126.7 158.1 143.8 158.5 126.5 C158.9 109.2 164.7 12.2 158.5 -5.0 C152.3 -22.2 120.2 -4.8 112.0 -2.1Z" fill="#d6e6db"/>
<path d="M144.3 32.9 C147.3 30.8 154.1 21.9 155.6 28.0 C157.2 34.1 157.2 72.6 155.6 78.7 C154.1 84.8 147.3 76.2 144.3 73.7 C141.3 71.2 134.5 64.0 133.0 60.1 C131.5 56.2 131.5 47.9 133.0 44.3 C134.5 40.6 141.3 35.1 144.3 32.9Z" fill="#b6d5b9"/>
<path d="M48.2 66.9 C48.5 63.4 51.5 73.3 53.8 74.8 C56.1 76.3 62.4 75.6 65.1 78.2 C67.8 80.8 71.8 89.5 74.2 94.0 C76.6 98.6 81.4 107.7 83.2 112.1 C85.1 116.6 87.8 125.4 88.2 127.1 C88.7 128.8 85.2 122.3 86.6 125.0 C88.1 127.7 95.9 141.6 99.1 147.6 C102.2 153.7 108.0 164.8 110.4 170.3 C112.8 175.7 116.9 185.3 117.2 188.4 C117.5 191.4 114.5 193.2 112.6 192.9 C110.8 192.6 106.0 188.2 103.6 186.1 C101.2 184.0 97.0 179.8 94.5 177.0 C92.1 174.3 87.9 169.1 85.5 165.7 C83.1 162.4 78.6 155.8 76.4 152.2 C74.3 148.5 72.4 142.1 69.7 138.6 C66.9 135.1 58.5 130.8 56.1 125.7 C53.7 120.7 52.6 108.7 51.5 100.8 C50.5 93.0 47.9 70.4 48.2 66.9Z" fill="#adc0d7"/>
<path d="M-115.8 -187.3 L-117.2 -186.0 L-110.4 -192.5 L-103.5 -198.4 L-93.9 -205.9 L-84.1 -212.6 L-82.0 -214.0 L-91.4 -208.2 L-110.3 -195.1 L-134.5 -174.8 L-157.9 -150.3 L-174.4 -129.0 L-184.4 -113.8 L-192.6 -99.9 L-199.5 -87.0 L-207.1 -71.1 L-215.2 -51.2 L-222.5 -29.0 L-227.4 -9.6 L-230.1 3.8 L-231.3 11.2 L-232.7 19.4 L-234.3 31.6 L-235.9 47.7 L-236.8 70.7 L-235.1 102.4 L-229.7 135.5 L-221.8 164.5 L-211.5 191.6 L-202.8 209.9 L-199.8 215.5 L-203.5 207.8 L-210.6 190.4 L-217.1 168.7 L-220.3 153.7 L-221.1 148.5 L-220.8 150.8 L-219.8 158.4 L-218.4 168.1 L-216.3 179.8 L-214.4 189.0 L-212.9 195.4 L-211.5 201.4 L-210.4 206.1 L-209.1 211.6 L-207.2 219.2 L-205.0 227.2 L-201.6 239.0 L-196.3 254.4 L-191.3 267.4 L-185.4 280.9 L-177.0 297.7 L-169.5 311.0 L-161.0 324.4 L-149.6 340.5 L-143.8 347.9 L-143.5 348.3 L-142.9 349.1 L-144.0 347.6 L-140.4 352.7 L-126.6 370.4 L-107.5 391.1 L-86.1 410.3 L-62.8 427.5 L-49.3 435.9 L-46.8 437.5 L-44.3 439.0 L-41.7 440.6 L-39.2 442.2 L-34.7 445.0 L-28.1 449.0 L-21.5 452.9 L-14.9 456.7 L-8.1 460.5 L-2.3 463.7 L2.6 466.2 L7.4 468.7 L12.3 471.2 L17.5 473.8 L22.1 476.1 L26.0 478.1 L30.0 480.0 L34.6 482.2 L39.5 484.6 L44.3 486.8 L48.4 488.7 L51.4 490.1 L54.5 491.5 L165.3 245.3 L163.7 244.6 L162.0 243.8 L158.6 242.2 L155.1 240.6 L151.6 238.9 L148.1 237.2 L144.6 235.5 L141.3 233.9 L138.0 232.3 L134.8 230.6 L131.5 229.0 L128.2 227.2 L124.8 225.4 L121.4 223.6 L118.0 221.7 L114.6 219.8 L111.2 217.7 L107.8 215.7 L104.4 213.5 L100.8 211.3 L97.3 209.1 L93.7 206.9 L90.2 204.7 L87.0 202.9 L84.5 201.0 L82.2 198.9 L80.0 196.6 L77.9 193.8 L75.5 190.3 L72.8 186.7 L70.3 183.3 L67.8 180.2 L65.6 177.5 L63.9 175.1 L62.4 172.6 L60.9 170.1 L59.6 167.5 L58.4 164.6 L57.2 161.6 L56.1 158.5 L55.1 154.9 L54.1 151.1 L53.1 147.2 L52.1 143.1 L51.2 139.1 L50.3 135.2 L49.5 131.6 L48.7 128.0 L48.1 124.6 L47.6 121.0 L47.1 117.3 L46.6 113.2 L46.0 108.9 L45.1 104.3 L43.6 99.5 L41.8 95.1 L39.8 91.0 L37.8 87.4 L36.1 83.9 L34.8 80.6 L33.9 77.2 L33.4 74.0 L33.2 70.7 L33.4 67.1 L33.8 63.6 L34.2 60.0 L34.9 56.2 L35.5 52.4 L36.2 48.9 L37.0 45.6 L38.2 42.2 L39.6 38.7 L41.2 35.3 L43.0 32.0 L44.7 29.0 L46.5 26.4 L48.0 24.3 L49.7 22.5 L51.6 20.9 L54.3 19.1 L57.6 17.1 L61.4 14.9 L65.1 12.3 L68.8 9.4 L72.1 6.5 L73.7 4.9 L75.1 3.6Z" fill="#89a6c4"/>
<path d="M38.0 -2.1 C42.7 -3.8 70.7 -3.2 75.3 -2.1 C79.9 -1.1 74.3 4.4 72.4 5.8 C70.5 7.1 64.3 7.1 61.1 8.1 C57.8 9.0 51.0 12.7 48.2 13.0 C45.3 13.3 41.1 12.3 39.8 10.3 C38.4 8.3 33.2 -0.5 38.0 -2.1Z" fill="#6389b0"/>
<path d="M-1.6 59.0 C0.0 49.9 7.6 59.1 10.8 60.1 C14.0 61.1 20.3 64.3 22.1 66.4 C24.0 68.5 24.3 72.3 24.8 75.9 C25.4 79.6 25.5 88.6 26.2 94.0 C26.9 99.5 29.1 112.1 30.0 116.7 C31.0 121.2 37.7 126.5 33.4 128.0 C29.2 129.5 3.0 137.2 -1.6 128.0 C-6.3 118.8 -3.3 68.0 -1.6 59.0Z" fill="#adc0d7"/>
<path d="M-1.6 123.9 L35.7 123.9 L33.4 138.6 L31.2 149.9 L-1.6 152.2Z" fill="#adc0d7"/>
<path d="M-1.6 98.6 C-0.3 94.9 6.5 99.6 8.1 100.8 C9.7 102.1 10.2 106.0 10.4 108.1 C10.6 110.2 9.0 114.9 9.7 116.7 C10.4 118.5 13.2 120.1 15.8 121.7 C18.4 123.2 31.2 127.1 28.9 128.0 C26.6 128.8 2.4 131.9 -1.6 128.0 C-5.7 124.1 -2.9 102.2 -1.6 98.6Z" fill="#d0dce5"/>
<path d="M-1.6 123.9 C2.2 106.4 23.2 122.1 27.1 123.9 C31.1 125.7 28.1 134.3 28.0 137.4 C27.9 140.6 26.1 143.9 26.2 147.6 C26.3 151.4 27.4 161.2 28.5 165.7 C29.5 170.3 32.1 177.0 33.9 181.6 C35.6 186.1 39.8 195.2 41.6 199.7 C43.4 204.2 46.6 212.2 47.5 215.5 C48.4 218.8 48.7 221.9 48.4 224.6 C48.0 227.3 46.1 231.8 44.8 235.9 C43.4 240.0 44.2 252.6 38.0 255.1 C31.8 257.7 3.6 272.6 -1.6 255.1 C-6.9 237.6 -5.5 141.4 -1.6 123.9Z" fill="#d0dce5"/>
<path d="M-2.0 116.0 C-0.9 108.2 -0.5 119.4 0.5 121.5 C1.5 123.6 4.0 129.2 5.3 132.1 C6.6 135.0 8.9 140.5 10.0 143.6 C11.1 146.7 12.9 151.8 13.3 155.1 C13.7 158.4 13.3 164.7 12.9 168.5 C12.5 172.3 11.0 180.2 10.0 183.8 C9.0 187.4 6.6 192.4 5.3 195.3 C4.0 198.2 1.5 203.9 0.5 205.9 C-0.5 207.9 -0.9 213.5 -2.0 210.0 C-3.1 206.5 -8.0 192.5 -8.0 180.0 C-8.0 167.5 -3.1 123.8 -2.0 116.0Z" fill="#d6e6db"/>
<path d="M71.5 0.0 L70.2 1.4 L68.8 2.8 L65.6 5.6 L62.2 8.2 L58.7 10.6 L55.0 12.8 L51.6 14.9 L48.6 16.9 L46.3 18.9 L44.2 21.0 L42.4 23.5 L40.5 26.3 L38.6 29.5 L36.8 33.0 L35.0 36.6 L33.5 40.4 L32.2 44.2 L31.3 47.9 L30.6 51.5 L30.0 55.4 L29.3 59.2 L28.8 63.0 L28.4 66.8 L28.2 70.7 L28.4 74.5 L29.0 78.3 L30.1 82.2 L31.5 85.9 L33.3 89.6 L35.3 93.3 L37.3 97.2 L38.9 101.2 L40.2 105.5 L41.0 109.7 L41.6 113.8 L42.1 117.9 L42.6 121.7 L43.2 125.4 L43.8 129.0 L44.6 132.6 L45.4 136.3 L46.3 140.2 L47.3 144.3 L48.3 148.4 L49.3 152.4 L50.3 156.3 L51.4 159.9 L52.5 163.3 L53.8 166.5 L55.1 169.6 L56.5 172.4 L58.1 175.2 L59.8 177.9 L61.6 180.5 L63.9 183.3 L66.3 186.4 L68.8 189.7 L71.4 193.2 L73.8 196.7 L76.2 199.8 L78.7 202.5 L81.4 204.9 L84.3 207.0 L87.6 209.0 L91.1 211.2 L94.6 213.3 L98.2 215.5 L101.7 217.7 L105.2 219.9 L108.7 222.0 L112.1 224.1 L115.6 226.1 L119.0 228.0 L122.5 229.8 L125.9 231.6 L129.2 233.4 L132.5 235.1 L135.8 236.7 L139.1 238.3 L142.4 240.0 L145.9 241.7 L149.4 243.4 L153.0 245.1 L156.4 246.7 L159.9 248.3 L161.6 249.1 L163.2 249.8 L172.3 229.7 L170.8 229.0 L169.2 228.3 L165.8 226.7 L162.4 225.2 L158.9 223.7 L155.4 222.1 L151.9 220.6 L148.5 219.1 L145.3 217.6 L142.2 216.2 L138.9 214.7 L135.6 213.1 L132.2 211.5 L128.9 209.9 L125.6 208.2 L122.4 206.5 L119.1 204.7 L115.8 202.9 L112.3 200.8 L108.6 198.7 L104.9 196.6 L101.4 194.3 L97.8 192.1 L95.3 190.5 L94.0 189.4 L92.8 188.2 L91.7 186.8 L90.3 184.7 L88.1 181.3 L85.2 177.3 L82.8 173.6 L80.4 170.2 L78.6 167.7 L77.6 166.0 L76.7 164.1 L75.4 162.3 L74.4 160.6 L73.2 158.5 L72.1 156.1 L71.1 153.8 L70.1 150.8 L69.1 147.2 L68.2 143.5 L67.3 139.5 L66.3 135.5 L65.5 131.8 L64.7 128.2 L63.9 125.1 L63.2 122.1 L62.5 118.9 L61.8 115.4 L61.1 111.3 L60.3 106.4 L59.2 100.8 L57.4 94.6 L55.1 89.0 L53.4 84.0 L52.1 80.1 L51.6 77.2 L51.6 75.1 L50.5 73.6 L49.7 72.3 L49.0 70.7 L48.5 68.2 L47.8 65.2 L47.2 61.9 L46.8 58.2 L46.4 54.4 L46.8 51.3 L47.2 48.5 L47.9 45.7 L48.8 42.8 L50.1 39.8 L51.6 36.8 L53.0 34.2 L54.4 31.9 L55.4 30.5 L55.8 29.1 L56.6 27.6 L58.5 25.6 L61.3 23.2 L65.2 20.9 L69.5 18.2 L73.6 15.2 L77.3 12.1 L79.1 10.3 L80.4 8.9Z" fill="#adc0d7"/>
<path d="M71.5 0.0 L70.2 1.4 L68.8 2.8 L65.6 5.6 L62.2 8.2 L58.7 10.6 L55.0 12.8 L51.6 14.9 L48.6 16.9 L46.3 18.9 L44.2 21.0 L42.4 23.5 L40.5 26.3 L38.6 29.5 L36.8 33.0 L35.0 36.6 L33.5 40.4 L32.2 44.2 L31.3 47.9 L30.6 51.5 L30.0 55.4 L29.3 59.2 L28.8 63.0 L28.4 66.8 L28.2 70.7 L28.4 74.5 L29.0 78.3 L30.1 82.2 L31.5 85.9 L33.3 89.6 L35.3 93.3 L37.3 97.2 L38.9 101.2 L40.2 105.5 L41.0 109.7 L41.6 113.8 L42.1 117.9 L42.6 121.7 L43.2 125.4 L43.8 129.0 L44.6 132.6 L45.4 136.3 L46.3 140.2 L47.3 144.3 L48.3 148.4 L49.3 152.4 L50.3 156.3 L51.4 159.9 L52.5 163.3 L53.8 166.5 L55.1 169.6 L56.5 172.4 L58.1 175.2 L59.8 177.9 L61.6 180.5 L63.9 183.3 L66.3 186.4 L68.8 189.7 L71.4 193.2 L73.8 196.7 L76.2 199.8 L78.7 202.5 L81.4 204.9 L84.3 207.0 L87.6 209.0 L91.1 211.2 L94.6 213.3 L98.2 215.5 L101.7 217.7 L105.2 219.9 L108.7 222.0 L112.1 224.1 L115.6 226.1 L119.0 228.0 L122.5 229.8 L125.9 231.6 L129.2 233.4 L132.5 235.1 L135.8 236.7 L139.1 238.3 L142.4 240.0 L145.9 241.7 L149.4 243.4 L153.0 245.1 L156.4 246.7 L159.9 248.3 L161.6 249.1 L163.2 249.8 L171.5 231.3 L170.0 230.6 L168.4 229.9 L165.0 228.3 L161.6 226.8 L158.1 225.3 L154.6 223.8 L151.1 222.2 L147.7 220.7 L144.5 219.2 L141.4 217.8 L138.1 216.3 L134.8 214.7 L131.4 213.1 L128.0 211.4 L124.8 209.8 L121.5 208.1 L118.2 206.3 L114.8 204.4 L111.3 202.4 L107.6 200.3 L104.0 198.2 L100.4 195.9 L96.9 193.6 L94.3 192.0 L92.9 190.8 L91.6 189.5 L90.3 187.9 L88.8 185.8 L86.6 182.3 L83.8 178.4 L81.4 174.7 L79.0 171.3 L77.2 168.8 L76.1 167.0 L75.1 165.1 L73.8 163.1 L72.7 161.4 L71.6 159.1 L70.4 156.8 L69.4 154.3 L68.3 151.3 L67.4 147.7 L66.5 143.9 L65.5 139.9 L64.6 135.9 L63.7 132.2 L62.9 128.6 L62.1 125.4 L61.4 122.4 L60.7 119.2 L60.0 115.6 L59.3 111.5 L58.6 106.7 L57.5 101.2 L55.7 95.2 L53.4 89.8 L51.8 84.8 L50.5 80.9 L49.9 77.9 L49.8 75.7 L48.8 74.0 L47.9 72.5 L47.2 70.7 L46.7 68.1 L46.1 65.0 L45.5 61.7 L45.1 57.9 L44.7 54.1 L45.0 50.9 L45.5 48.0 L46.2 45.1 L47.2 42.0 L48.5 39.0 L50.0 35.9 L51.5 33.2 L52.9 30.9 L54.0 29.3 L54.6 27.8 L55.6 26.2 L57.5 24.1 L60.4 21.6 L64.3 19.4 L68.4 16.8 L72.4 13.8 L76.1 10.8 L77.8 9.0 L79.2 7.7Z" fill="#89a6c4"/>
<path d="M68.0 -3.5 L66.7 -2.2 L65.4 -0.9 L62.4 1.7 L59.2 4.2 L56.0 6.4 L52.5 8.5 L48.9 10.7 L45.6 12.9 L42.8 15.2 L40.4 17.8 L38.3 20.6 L36.2 23.7 L34.2 27.1 L32.3 30.7 L30.4 34.6 L28.8 38.7 L27.4 42.8 L26.4 46.8 L25.7 50.6 L24.8 54.5 L24.0 58.4 L23.2 62.3 L22.6 66.4 L21.9 70.7 L21.6 75.2 L21.9 79.9 L22.7 84.6 L24.2 89.1 L26.1 93.3 L27.9 97.2 L29.5 100.7 L30.7 104.2 L31.5 107.6 L31.9 111.2 L32.2 115.1 L31.8 119.2 L31.5 123.3 L31.5 127.3 L31.6 131.4 L31.9 135.4 L32.4 139.3 L33.0 143.4 L33.7 147.5 L34.3 151.8 L35.1 156.1 L35.9 160.3 L36.9 164.5 L38.1 168.6 L39.4 172.4 L40.9 176.1 L42.6 179.9 L44.4 183.4 L46.3 186.8 L48.6 190.4 L50.9 193.5 L53.0 196.6 L55.2 199.9 L57.4 203.2 L59.7 207.0 L62.6 211.2 L66.1 215.3 L69.9 219.0 L74.1 222.3 L78.0 224.9 L81.3 227.2 L84.7 229.5 L88.1 231.7 L91.5 233.9 L95.1 236.2 L98.7 238.5 L102.4 240.7 L106.1 242.9 L109.7 245.0 L113.3 246.9 L116.8 248.9 L120.3 250.7 L123.7 252.5 L127.0 254.3 L130.4 256.0 L133.8 257.7 L137.2 259.5 L140.8 261.3 L144.4 263.1 L148.0 264.8 L151.5 266.5 L153.3 267.3 L155.0 268.1 L170.8 233.0 L169.3 232.3 L167.7 231.5 L164.3 230.0 L160.8 228.5 L157.3 226.9 L153.8 225.4 L150.3 223.8 L146.9 222.3 L143.7 220.8 L140.5 219.4 L137.3 217.8 L133.9 216.3 L130.5 214.7 L127.2 213.0 L123.9 211.3 L120.6 209.6 L117.2 207.8 L113.9 205.9 L110.4 203.9 L106.7 201.8 L103.0 199.7 L99.5 197.4 L95.9 195.1 L93.3 193.5 L91.8 192.2 L90.3 190.8 L88.9 189.1 L87.4 186.8 L85.1 183.4 L82.4 179.4 L79.9 175.8 L77.6 172.4 L75.7 169.8 L74.6 168.0 L73.6 166.0 L72.2 164.0 L71.1 162.1 L69.9 159.8 L68.7 157.4 L67.7 154.9 L66.6 151.8 L65.6 148.1 L64.7 144.4 L63.8 140.3 L62.8 136.3 L62.0 132.6 L61.2 129.0 L60.3 125.8 L59.6 122.7 L59.0 119.4 L58.2 115.9 L57.5 111.8 L56.8 107.0 L55.7 101.6 L54.0 95.8 L51.8 90.5 L50.2 85.6 L48.9 81.7 L48.3 78.7 L48.1 76.2 L47.0 74.3 L46.1 72.7 L45.4 70.7 L45.0 68.0 L44.3 64.8 L43.7 61.4 L43.3 57.6 L42.9 53.8 L43.3 50.5 L43.8 47.5 L44.5 44.5 L45.5 41.3 L46.9 38.1 L48.4 35.0 L50.0 32.2 L51.5 29.9 L52.6 28.1 L53.3 26.5 L54.5 24.7 L56.5 22.6 L59.4 20.1 L63.3 17.9 L67.4 15.3 L71.3 12.4 L74.9 9.4 L76.6 7.7 L77.9 6.4Z" fill="#6389b0"/>
<path d="M35.6 48.8 L33.2 52.0 L30.9 55.5 L30.0 59.3 L29.1 63.0 L28.4 66.8 L28.2 70.7 L28.4 74.5 L29.0 78.3 L30.1 82.2 L31.3 86.0 L32.9 89.9 L34.7 93.7 L36.3 97.6 L37.4 101.8 L38.0 106.0 L38.2 110.2 L38.2 114.3 L37.5 118.5 L36.9 122.5 L36.7 126.4 L36.7 130.4 L36.7 134.3 L37.1 138.2 L37.5 142.3 L38.0 146.5 L38.6 150.8 L39.1 155.0 L39.7 159.2 L40.6 163.3 L41.6 167.3 L42.7 171.0 L43.9 174.7 L45.4 178.4 L46.9 181.9 L48.7 185.2 L50.9 188.7 L53.1 191.8 L55.1 195.0 L57.2 198.4 L59.3 201.9 L61.5 205.7 L64.3 209.9 L67.5 213.9 L71.1 217.5 L75.1 220.9 L78.9 223.5 L82.2 225.8 L85.5 228.2 L88.9 230.4 L92.3 232.6 L95.9 234.9 L99.5 237.2 L103.2 239.4 L106.8 241.6 L110.4 243.6 L114.0 245.6 L117.5 247.5 L121.0 249.4 L124.3 251.2 L127.7 252.9 L131.0 254.7 L134.4 256.4 L137.9 258.2 L141.5 260.0 L145.1 261.7 L148.6 263.5 L152.1 265.1 L153.9 265.9 L155.6 266.7 L170.0 234.8 L168.4 234.1 L166.8 233.3 L163.4 231.8 L160.0 230.3 L156.5 228.7 L152.9 227.2 L149.5 225.6 L146.1 224.1 L142.8 222.6 L139.6 221.2 L136.4 219.6 L133.0 218.1 L129.6 216.4 L126.2 214.8 L122.9 213.1 L119.5 211.3 L116.2 209.5 L112.8 207.6 L109.3 205.6 L105.6 203.5 L102.0 201.4 L98.4 199.1 L94.9 196.9 L92.2 195.1 L90.5 193.7 L88.9 192.2 L87.4 190.4 L85.8 188.0 L83.5 184.5 L80.8 180.6 L78.4 177.1 L76.0 173.7 L74.1 171.1 L73.0 169.1 L71.9 167.0 L70.4 165.0 L69.2 163.0 L68.0 160.6 L66.7 158.1 L65.6 155.5 L64.5 152.3 L63.5 148.7 L62.5 144.9 L61.5 140.9 L60.5 136.9 L59.6 133.1 L58.7 129.5 L57.8 126.3 L57.0 123.1 L56.2 119.8 L55.4 116.2 L54.5 112.1 L53.7 107.6 L52.6 102.4 L50.8 97.0 L48.6 92.0 L47.6 87.0 L46.8 82.8 L46.6 79.4 L47.0 76.6 L45.9 74.6 L45.1 72.8 L44.5 70.7 L44.2 67.9 L43.2 64.7 L42.4 61.2 L41.8 57.4 L40.4 53.3 L39.0 49.6Z" fill="#426d9c"/>
<path d="M33.4 256.0 L33.8 251.3 L36.7 239.6 L43.3 230.9 L47.7 222.1 L45.5 213.5 L42.6 209.7 L37.8 198.2 L33.0 186.7 L29.2 175.2 L26.3 163.7 L25.4 152.2 L26.0 142.6 L27.9 138.2 L28.4 140.2 L29.4 144.2 L30.5 148.3 L31.6 152.5 L32.7 156.7 L33.9 160.8 L35.0 165.1 L36.2 169.3 L37.6 173.1 L39.1 177.0 L40.8 180.9 L42.7 184.4 L44.8 187.8 L47.4 191.3 L50.0 194.3 L52.3 197.2 L54.8 200.2 L57.1 203.5 L59.5 207.2 L62.5 211.3 L66.1 215.3 L70.0 218.9 L74.2 222.2 L78.1 224.7 L81.5 226.9 L84.9 229.1 L88.4 231.3 L91.8 233.5 L95.4 235.8 L99.0 238.0 L102.7 240.3 L106.3 242.4 L110.0 244.5 L113.6 246.5 L117.1 248.4 L120.5 250.3 L123.9 252.1 L127.2 253.8 L130.6 255.6 L134.0 257.3 L137.4 259.1 L141.0 260.9 L144.6 262.6 L148.2 264.4 L151.7 266.0 L153.5 266.8 L155.2 267.6 L158.5 258.0 L30.0 258.0Z" fill="#d6e6db"/>
<path d="M31.4 157.0 L31.5 161.5 L32.0 166.0 L32.8 170.5 L33.7 174.8 L34.7 179.0 L36.0 183.4 L37.5 187.5 L38.8 191.8 L40.6 196.4 L42.3 200.4 L43.1 204.3 L44.0 208.3 L45.2 212.0 L46.8 216.4 L49.6 222.2 L53.4 228.1 L58.0 233.6 L63.2 238.7 L67.4 242.4 L70.3 245.3 L73.1 248.2 L76.4 250.6 L79.6 252.9 L83.1 255.5 L86.9 258.2 L90.7 260.8 L94.5 263.3 L98.3 265.8 L102.0 268.1 L105.5 270.3 L109.0 272.5 L112.5 274.4 L116.0 276.3 L119.5 278.2 L122.9 280.0 L126.4 281.8 L130.0 283.7 L133.8 285.6 L137.4 287.5 L140.9 289.1 L142.9 290.0 L144.8 290.9 L155.2 267.6 L153.5 266.8 L151.7 266.0 L148.2 264.4 L144.6 262.6 L141.0 260.9 L137.4 259.1 L134.0 257.3 L130.6 255.6 L127.2 253.8 L123.9 252.1 L120.5 250.3 L117.1 248.4 L113.6 246.5 L110.0 244.5 L106.3 242.4 L102.7 240.3 L99.0 238.0 L95.4 235.8 L91.8 233.5 L88.4 231.3 L84.9 229.1 L81.5 226.9 L78.1 224.7 L74.2 222.2 L70.0 218.9 L66.1 215.3 L62.5 211.3 L59.5 207.2 L57.1 203.5 L54.8 200.2 L52.3 197.2 L50.0 194.3 L47.4 191.3 L44.8 187.8 L42.7 184.4 L40.8 180.9 L39.1 177.0 L37.6 173.1 L36.2 169.3 L35.0 165.1 L33.9 160.8 L32.7 156.7Z" fill="#b6d5b9"/>
<path d="M37.6 173.1 L38.4 177.3 L39.6 181.5 L40.9 185.4 L42.3 189.5 L44.1 193.8 L45.8 197.6 L46.9 201.4 L48.0 205.3 L49.4 209.0 L51.0 213.3 L53.7 218.7 L57.3 224.2 L61.5 229.2 L66.4 233.9 L70.4 237.4 L73.4 240.3 L76.3 243.1 L79.5 245.5 L82.8 247.9 L86.3 250.4 L90.0 253.0 L93.7 255.6 L97.4 258.1 L101.2 260.5 L104.9 262.8 L108.3 265.0 L111.8 267.1 L115.2 269.1 L118.7 271.0 L122.1 272.8 L125.5 274.6 L129.0 276.4 L132.6 278.3 L136.3 280.2 L139.9 282.1 L143.5 283.7 L145.4 284.6 L147.2 285.4 L155.2 267.6 L153.5 266.8 L151.7 266.0 L148.2 264.4 L144.6 262.6 L141.0 260.9 L137.4 259.1 L134.0 257.3 L130.6 255.6 L127.2 253.8 L123.9 252.1 L120.5 250.3 L117.1 248.4 L113.6 246.5 L110.0 244.5 L106.3 242.4 L102.7 240.3 L99.0 238.0 L95.4 235.8 L91.8 233.5 L88.4 231.3 L84.9 229.1 L81.5 226.9 L78.1 224.7 L74.2 222.2 L70.0 218.9 L66.1 215.3 L62.5 211.3 L59.5 207.2 L57.1 203.5 L54.8 200.2 L52.3 197.2 L50.0 194.3 L47.4 191.3 L44.8 187.8 L42.7 184.4 L40.8 180.9 L39.1 177.0 L37.6 173.1Z" fill="#98c199"/>
<path d="M47.3 191.4 L49.0 195.1 L50.1 198.9 L51.2 202.9 L52.8 206.6 L54.5 210.8 L57.2 215.8 L60.6 220.8 L64.6 225.4 L69.2 229.7 L73.1 233.0 L76.1 235.7 L79.2 238.4 L82.4 240.8 L85.6 243.3 L89.1 245.9 L92.7 248.5 L96.3 251.1 L100.0 253.6 L103.7 256.0 L107.3 258.3 L110.7 260.5 L114.1 262.7 L117.5 264.6 L120.9 266.5 L124.3 268.3 L127.7 270.1 L131.2 271.9 L134.8 273.8 L138.5 275.7 L142.1 277.5 L145.6 279.2 L147.4 280.0 L149.3 280.8 L155.2 267.6 L153.5 266.8 L151.7 266.0 L148.2 264.4 L144.6 262.6 L141.0 260.9 L137.4 259.1 L134.0 257.3 L130.6 255.6 L127.2 253.8 L123.9 252.1 L120.5 250.3 L117.1 248.4 L113.6 246.5 L110.0 244.5 L106.3 242.4 L102.7 240.3 L99.0 238.0 L95.4 235.8 L91.8 233.5 L88.4 231.3 L84.9 229.1 L81.5 226.9 L78.1 224.7 L74.2 222.2 L70.0 218.9 L66.1 215.3 L62.5 211.3 L59.5 207.2 L57.1 203.5 L54.8 200.2 L52.3 197.2 L50.0 194.3 L47.4 191.3Z" fill="#74ae78"/>
<path d="M73.8 222.8 C74.1 223.4 76.2 225.6 77.0 226.5 C77.8 227.5 79.0 229.0 79.7 229.9 C80.4 230.8 81.5 232.6 82.3 233.3 C83.1 234.1 84.7 235.1 85.6 235.8 C86.4 236.4 87.9 237.5 88.8 238.2 C89.7 238.9 91.3 240.1 92.2 240.8 C93.2 241.5 94.9 242.7 95.8 243.4 C96.8 244.0 98.4 245.2 99.4 245.9 C100.3 246.5 102.0 247.7 103.0 248.3 C103.9 249.0 105.6 250.1 106.6 250.7 C107.5 251.4 109.2 252.4 110.1 253.0 C111.0 253.6 112.6 254.7 113.5 255.2 C114.4 255.8 115.9 256.8 116.8 257.4 C117.7 257.9 119.3 258.8 120.2 259.3 C121.1 259.8 122.7 260.6 123.6 261.1 C124.5 261.6 126.1 262.4 127.0 262.9 C127.9 263.4 129.4 264.2 130.4 264.7 C131.3 265.2 132.9 266.0 133.8 266.5 C134.7 267.0 136.4 267.9 137.4 268.4 C138.4 268.9 140.1 269.8 141.0 270.3 C142.0 270.8 143.6 271.6 144.6 272.1 C145.5 272.5 147.4 273.4 148.1 273.7 C148.8 274.0 149.5 274.3 149.9 274.6 C150.4 274.8 151.0 276.3 151.7 275.4 C152.4 274.4 155.0 268.8 155.2 267.6 C155.4 266.5 153.9 267.1 153.5 266.8 C153.0 266.6 152.4 266.3 151.7 266.0 C151.0 265.7 149.1 264.8 148.2 264.4 C147.3 263.9 145.6 263.1 144.6 262.6 C143.7 262.2 142.0 261.3 141.0 260.9 C140.1 260.4 138.4 259.5 137.4 259.1 C136.5 258.6 134.9 257.8 134.0 257.3 C133.1 256.8 131.5 256.0 130.6 255.6 C129.7 255.1 128.1 254.3 127.2 253.8 C126.3 253.4 124.8 252.6 123.9 252.1 C123.0 251.6 121.4 250.8 120.5 250.3 C119.6 249.8 118.0 248.9 117.1 248.4 C116.1 247.9 114.5 247.0 113.6 246.5 C112.6 246.0 110.9 245.1 110.0 244.5 C109.0 244.0 107.3 243.0 106.3 242.4 C105.3 241.9 103.6 240.9 102.7 240.3 C101.7 239.7 100.0 238.6 99.0 238.0 C98.0 237.4 96.3 236.4 95.4 235.8 C94.4 235.1 92.7 234.1 91.8 233.5 C90.9 232.9 89.3 231.8 88.4 231.3 C87.5 230.7 85.8 229.7 84.9 229.1 C84.0 228.5 82.4 227.5 81.5 226.9 C80.6 226.3 79.1 225.3 78.1 224.7 C77.2 224.1 74.8 222.4 74.2 222.2 C73.6 221.9 73.4 222.2 73.8 222.8Z" fill="#569858"/>
<path d="M45.1 117.5 L43.6 121.6 L42.8 125.4 L42.5 129.3 L42.6 133.0 L42.8 136.9 L43.0 141.0 L43.1 145.3 L43.2 149.6 L43.4 153.9 L43.6 158.2 L44.2 162.2 L45.0 166.1 L45.9 169.7 L46.9 173.3 L48.1 176.9 L49.5 180.3 L51.2 183.6 L53.1 187.0 L55.2 190.1 L57.2 193.4 L59.2 196.9 L60.7 200.8 L62.3 205.1 L64.4 209.7 L67.1 214.2 L70.9 217.8 L74.9 221.0 L78.8 223.6 L82.2 225.8 L85.6 228.0 L89.0 230.2 L92.5 232.4 L96.0 234.7 L99.7 236.9 L103.3 239.1 L107.0 241.2 L110.6 243.3 L114.2 245.2 L117.7 247.1 L121.2 248.9 L124.6 250.7 L128.0 252.4 L131.3 254.0 L134.7 255.7 L138.2 257.4 L141.8 259.2 L145.5 260.9 L149.0 262.6 L152.5 264.2 L154.3 265.0 L156.0 265.8 L168.6 238.0 L167.0 237.3 L165.3 236.5 L161.9 234.9 L158.5 233.4 L154.9 231.9 L151.4 230.3 L147.9 228.8 L144.5 227.2 L141.3 225.8 L138.0 224.3 L134.7 222.7 L131.4 221.1 L128.0 219.5 L124.5 217.8 L121.2 216.1 L117.8 214.4 L114.4 212.5 L111.0 210.6 L107.4 208.6 L103.8 206.5 L100.1 204.4 L96.6 202.1 L93.1 199.9 L90.2 198.2 L88.2 196.6 L86.3 194.8 L84.5 192.8 L82.6 190.3 L80.3 186.8 L77.6 183.0 L75.3 179.4 L73.1 176.0 L71.2 173.3 L70.0 171.1 L68.8 168.8 L67.4 166.6 L66.1 164.5 L64.8 161.9 L63.5 159.3 L62.3 156.5 L61.2 153.3 L60.0 149.6 L58.9 145.8 L57.8 141.8 L56.6 137.8 L55.5 134.0 L54.3 130.5 L53.3 127.2 L51.8 124.0 L49.8 120.7 L47.1 117.3Z" fill="#2c4f84"/>
<path d="M54.6 185.8 L56.4 189.2 L58.0 192.8 L59.6 196.6 L61.8 200.1 L63.9 203.9 L66.5 207.9 L69.6 211.7 L73.1 215.1 L77.0 218.0 L80.7 220.4 L84.1 222.6 L87.6 224.8 L91.0 227.0 L94.5 229.1 L98.1 231.4 L101.7 233.6 L105.3 235.7 L108.9 237.8 L112.5 239.8 L116.1 241.7 L119.6 243.6 L123.0 245.4 L126.4 247.1 L129.8 248.8 L133.1 250.5 L136.5 252.1 L140.0 253.8 L143.6 255.6 L147.2 257.3 L150.7 259.0 L154.2 260.6 L156.0 261.4 L157.7 262.2 L159.9 257.1 L158.3 256.4 L156.5 255.6 L153.1 254.0 L149.5 252.3 L146.0 250.6 L142.4 248.8 L139.0 247.1 L135.6 245.4 L132.3 243.8 L129.0 242.1 L125.6 240.3 L122.2 238.6 L118.8 236.7 L115.3 234.8 L111.7 232.8 L108.2 230.8 L104.7 228.7 L101.1 226.5 L97.6 224.2 L94.1 222.0 L90.6 219.8 L87.1 217.7 L83.6 215.6 L80.0 213.4 L76.6 210.8 L73.4 207.9 L70.4 204.7 L67.7 201.1 L65.3 197.6 L62.8 194.2 L60.4 191.0 L58.0 187.9 L55.7 185.0Z" fill="#2a3468"/>
<path d="M63.6 26.7 C63.6 26.8 63.7 27.0 63.7 27.2 C63.6 27.3 63.5 27.7 63.4 27.9 C63.3 28.1 63.1 28.5 62.9 28.8 C62.7 29.1 62.3 29.6 62.1 29.9 C61.8 30.1 61.3 30.7 61.0 31.0 C60.7 31.3 60.2 31.8 59.8 32.1 C59.5 32.4 58.9 32.9 58.6 33.1 C58.2 33.4 57.6 33.8 57.3 34.0 C57.0 34.2 56.4 34.6 56.2 34.7 C55.9 34.8 55.4 35.0 55.2 35.1 C55.0 35.2 54.6 35.3 54.5 35.3 C54.3 35.2 54.1 35.2 54.0 35.1 C54.0 35.0 53.9 34.8 53.9 34.6 C53.9 34.5 54.0 34.1 54.1 33.9 C54.2 33.7 54.5 33.3 54.7 33.0 C54.9 32.8 55.3 32.3 55.5 32.0 C55.8 31.7 56.2 31.1 56.5 30.8 C56.8 30.5 57.4 30.0 57.7 29.7 C58.1 29.4 58.7 28.9 59.0 28.7 C59.3 28.4 59.9 28.0 60.3 27.8 C60.6 27.6 61.1 27.3 61.4 27.1 C61.7 27.0 62.2 26.8 62.4 26.7 C62.6 26.6 63.0 26.6 63.1 26.6 C63.3 26.6 63.5 26.7 63.6 26.7 C63.6 26.8 63.5 26.7 63.6 26.7Z" fill="#d6e6db"/>
<g stroke="#c8c8c8" stroke-width="0.5" opacity="0.32"><line x1="0.0" y1="21.0" x2="153.5" y2="87.0"/><line x1="0.0" y1="97.0" x2="153.5" y2="158.0"/><line x1="0.0" y1="174.0" x2="153.5" y2="231.0"/><line x1="96.0" y1="-0.5" x2="153.5" y2="22.0"/><line x1="0.0" y1="79.5" x2="33.7" y2="-0.5"/><line x1="0.0" y1="224.5" x2="110.2" y2="-0.5"/><line x1="74.2" y1="253.0" x2="153.5" y2="94.0"/><line x1="147.5" y1="253.0" x2="153.5" y2="241.0"/></g>
<path d="M112.0 -2.1 C106.9 3.5 106.0 3.1 96.8 14.8 C87.6 26.5 90.8 20.9 84.4 32.9 C77.9 45.0 79.1 40.5 77.6 51.0 C76.1 61.6 75.7 54.1 79.8 64.6 C84.0 75.2 81.3 70.7 90.0 82.7 C98.7 94.8 93.8 90.3 105.9 100.8 C117.9 111.4 109.6 106.3 126.2 114.4 C142.8 122.5 145.8 121.5 155.6 125.0" fill="none" stroke="#ff7f50" stroke-width="1.2" stroke-linejoin="round"/>
<path d="M-2.0 116.0 C-1.2 117.8 -1.9 116.1 0.5 121.5 C2.9 126.9 2.1 124.7 5.3 132.1 C8.5 139.5 7.3 135.9 10.0 143.6 C12.7 151.3 12.3 146.8 13.3 155.1 C14.3 163.4 14.0 158.9 12.9 168.5 C11.8 178.1 12.5 174.9 10.0 183.8 C7.5 192.7 8.5 187.9 5.3 195.3 C2.1 202.7 2.9 201.0 0.5 205.9 C-1.9 210.8 -1.2 208.6 -2.0 210.0" fill="none" stroke="#ff7f50" stroke-width="1.2" stroke-linejoin="round"/>
<path d="M33.4 256.0 C33.5 254.4 32.7 256.8 33.8 251.3 C34.9 245.8 33.5 246.4 36.7 239.6 C39.9 232.8 39.6 236.7 43.3 230.9 C47.0 225.1 47.0 227.9 47.7 222.1 C48.4 216.3 47.2 217.6 45.5 213.5 C43.8 209.4 45.2 214.8 42.6 209.7 C40.0 204.6 41.0 205.9 37.8 198.2 C34.6 190.5 35.9 194.4 33.0 186.7 C30.1 179.0 31.4 182.9 29.2 175.2 C27.0 167.5 27.6 171.4 26.3 163.7 C25.0 156.0 25.5 159.2 25.4 152.2 C25.3 145.2 25.2 147.3 26.0 142.6 C26.8 137.9 27.1 139.0 27.9 138.2 C28.7 137.4 27.9 138.2 28.4 140.2 C28.9 142.2 28.7 141.5 29.4 144.2 C30.1 146.9 29.8 145.6 30.5 148.3 C31.2 151.1 30.8 149.7 31.6 152.5 C32.3 155.3 31.9 153.9 32.7 156.7 C33.5 159.5 33.2 158.0 33.9 160.8 C34.7 163.6 34.2 162.3 35.0 165.1 C35.8 167.9 35.4 166.6 36.2 169.3 C37.1 172.0 36.6 170.6 37.6 173.1 C38.5 175.7 38.0 174.4 39.1 177.0 C40.1 179.6 39.6 178.4 40.8 180.9 C42.0 183.3 41.3 182.1 42.7 184.4 C44.0 186.7 43.3 185.5 44.8 187.8 C46.4 190.1 45.7 189.1 47.4 191.3 C49.1 193.4 48.3 192.4 50.0 194.3 C51.6 196.3 50.7 195.2 52.3 197.2 C54.0 199.1 53.2 198.1 54.8 200.2 C56.4 202.3 55.5 201.1 57.1 203.5 C58.6 205.8 57.7 204.5 59.5 207.2 C61.3 209.8 60.3 208.6 62.5 211.3 C64.7 214.0 63.6 212.8 66.1 215.3 C68.5 217.9 67.2 216.6 70.0 218.9 C72.7 221.2 71.4 220.3 74.2 222.2 C76.9 224.1 75.7 223.1 78.1 224.7 C80.6 226.3 79.3 225.4 81.5 226.9 C83.8 228.3 82.7 227.6 84.9 229.1 C87.2 230.5 86.1 229.8 88.4 231.3 C90.7 232.7 89.5 232.0 91.8 233.5 C94.1 235.0 93.0 234.2 95.4 235.8 C97.8 237.3 96.6 236.5 99.0 238.0 C101.4 239.6 100.2 238.8 102.7 240.3 C105.1 241.7 103.9 241.0 106.3 242.4 C108.7 243.8 107.5 243.2 110.0 244.5 C112.4 245.9 111.2 245.2 113.6 246.5 C115.9 247.8 114.7 247.2 117.1 248.4 C119.4 249.7 118.2 249.0 120.5 250.3 C122.8 251.5 121.6 250.9 123.9 252.1 C126.1 253.3 125.0 252.7 127.2 253.8 C129.5 255.0 128.3 254.4 130.6 255.6 C132.8 256.7 131.7 256.1 134.0 257.3 C136.3 258.5 135.1 257.9 137.4 259.1 C139.8 260.2 138.6 259.7 141.0 260.9 C143.4 262.1 142.2 261.5 144.6 262.6 C147.0 263.8 145.8 263.3 148.2 264.4 C150.5 265.5 149.9 265.2 151.7 266.0 C153.4 266.8 152.3 266.3 153.5 266.8 C154.7 267.4 154.6 267.4 155.2 267.6" fill="none" stroke="#ff7f50" stroke-width="1.2" stroke-linejoin="round"/>
<path d="M63.6 26.7 C63.6 26.9 63.7 26.8 63.7 27.2 C63.6 27.6 63.7 27.3 63.4 27.9 C63.2 28.4 63.4 28.1 62.9 28.8 C62.4 29.5 62.7 29.1 62.1 29.9 C61.5 30.6 61.8 30.2 61.0 31.0 C60.3 31.7 60.7 31.4 59.8 32.1 C59.0 32.8 59.4 32.5 58.6 33.1 C57.7 33.8 58.1 33.5 57.3 34.0 C56.5 34.5 56.9 34.3 56.2 34.7 C55.5 35.1 55.8 34.9 55.2 35.1 C54.6 35.3 54.8 35.3 54.5 35.3 C54.1 35.2 54.2 35.3 54.0 35.1 C53.8 34.9 53.9 35.0 53.9 34.6 C54.0 34.3 53.9 34.5 54.1 33.9 C54.4 33.4 54.2 33.7 54.7 33.0 C55.1 32.4 54.9 32.7 55.5 32.0 C56.1 31.2 55.8 31.6 56.5 30.8 C57.3 30.1 56.9 30.4 57.7 29.7 C58.6 29.0 58.2 29.3 59.0 28.7 C59.9 28.0 59.5 28.3 60.3 27.8 C61.1 27.3 60.7 27.5 61.4 27.1 C62.1 26.7 61.8 26.9 62.4 26.7 C63.0 26.5 62.7 26.6 63.1 26.6 C63.5 26.6 63.4 26.7 63.6 26.7" fill="none" stroke="#ff7f50" stroke-width="1.2" stroke-linejoin="round"/>
<path d="M49.5 39.5 L48.1 42.4 L46.9 45.4 L46.0 48.1 L45.4 51.0 L44.8 54.1 L44.2 57.8 L43.6 61.4 L43.2 64.7 L42.9 67.8 L42.7 70.7 L42.7 73.0 L43.0 75.2 L43.6 77.7 L44.5 80.3 L45.9 83.2 L47.8 86.8 L50.0 91.3 L52.2 96.5 L54.0 102.1 L55.1 107.3 L55.8 112.0 L56.4 116.1 L57.0 119.7 L57.5 123.1 L58.1 126.2 L58.9 129.5 L59.8 133.1 L60.7 136.8 L61.7 140.8 L62.7 144.8 L63.7 148.6 L64.8 152.3 L65.5 155.5 L66.3 158.3 L67.2 161.0 L68.1 163.5 L69.0 165.7 L70.1 168.0 L71.3 170.2 L72.5 172.3 L74.4 174.9 L76.8 178.3 L79.2 181.8 L82.0 185.6 L84.5 189.0 L86.3 191.3 L88.1 193.0 L89.9 194.5 L91.7 195.8 L94.6 197.4 L98.2 199.5 L101.8 201.7 L105.4 203.8 L109.0 206.0 L112.5 208.1 L115.8 210.1 L119.2 212.0 L122.5 213.8 L125.8 215.6 L129.1 217.3 L132.5 219.0 L135.8 220.7 L139.1 222.2 L142.3 223.8 L145.5 225.3 L148.9 226.8 L152.3 228.4 L155.8 230.0 L159.3 231.6 L162.8 233.1 L166.2 234.7" fill="none" stroke="#3f6fa3" stroke-width="0.6"/><path d="M58.8 111.6 L59.4 115.7 L59.9 119.3 L60.5 122.6 L61.1 125.6 L61.8 128.9 L62.7 132.4 L63.6 136.1 L64.6 140.1 L65.6 144.1 L66.6 147.9 L67.7 151.5 L68.4 154.6 L69.1 157.2 L69.9 159.8 L70.8 162.3 L71.6 164.3 L72.7 166.5 L73.8 168.6 L74.9 170.5 L76.8 173.0 L79.2 176.5 L81.6 180.0 L84.5 183.8 L86.9 187.2 L88.6 189.3 L90.2 190.9 L91.8 192.2 L93.4 193.3 L96.1 194.9 L99.7 197.0 L103.4 199.1 L107.0 201.3 L110.6 203.5 L114.1 205.6 L117.4 207.5 L120.7 209.4 L124.0 211.2 L127.2 212.9 L130.5 214.7 L133.9 216.4 L137.2 218.0 L140.4 219.6 L143.6 221.1 L146.8 222.6 L150.2 224.1 L153.7 225.7 L157.1 227.3 L160.6 228.9 L164.1 230.4 L167.5 232.0" fill="none" stroke="#3f6fa3" stroke-width="0.5"/><g fill="none" stroke="#000" stroke-width="0.5" stroke-linejoin="round"><path d="M66.5 1.3 L67.4 4.5 L70.1 8.1 L72.4 9.0 L75.3 7.6 L78.7 8.1 L82.1 6.7 L85.9 4.9 L86.9 8.6 L86.2 13.1 L86.2 7.7 L86.8 11.2 L85.6 14.7 L84.4 19.4 L83.9 24.1 L83.3 28.7 L82.1 33.4 L80.9 36.9 L79.2 41.6 L78.0 45.1 L75.7 48.6 L74.5 51.0 L73.0 52.7 L71.5 56.1 L69.2 60.6 L67.4 65.1 L66.9 67.4 L69.7 69.7 L70.8 74.2 L71.9 79.8 L71.0 84.4 L71.5 90.0 L70.1 95.7 L69.7 101.3 L68.7 107.0 L67.4 112.6 L69.7 116.0 L72.4 119.4 L74.2 122.8 L77.6 125.8 L81.4 126.7 L84.4 125.1 L85.0 126.2 L85.6 121.5 L84.4 116.8 L85.0 112.1 L87.4 107.5 L89.7 101.6 L89.1 95.8 L86.2 89.9 L83.3 84.1 L78.6 79.4 L77.4 74.7 L79.8 68.9 L79.2 63.0 L76.3 62.7 L76.8 58.0 L80.3 53.3 L83.9 49.8 L87.4 45.7 L90.3 41.6 L92.0 38.7 L95.0 37.9 L97.9 38.7 L99.3 40.4 L97.3 42.2 L96.1 44.5 L97.9 46.3 L100.8 47.5 L103.2 49.8 L104.9 52.7 L105.8 55.6 L105.1 58.0 L106.1 60.3 L104.9 63.0 L108.4 66.5 L113.1 71.2 L114.9 73.5 L111.9 75.3 L109.0 81.7 L113.1 81.1 L118.9 80.0 L120.7 75.9 L122.5 79.4 L126.0 74.7 L129.5 76.5 L135.3 77.0 L141.2 75.9 L145.8 72.4 L149.4 67.7 L151.7 61.8 L152.9 61.5 L152.6 55.6 L152.3 49.8 L151.1 43.9 L149.4 39.3 L147.0 34.6 L145.3 29.9 L144.7 25.2 L143.5 20.6 L144.7 17.0 L149.4 13.0 L154.5 11.2"/><path d="M39.9 71.2 L40.4 75.9 L42.2 80.6 L44.5 86.4 L46.3 93.4 L47.5 99.3 L49.2 103.9 L51.0 109.8 L51.0 115.6 L52.1 120.3 L53.0 127.7 L54.7 140.6 L57.6 152.2 L61.7 162.8 L66.4 171.0 L71.1 175.6 L72.0 178.0 L72.5 177.5 L76.4 173.5 L78.1 169.8 L81.0 163.9 L78.5 157.5 L76.9 153.5 L77.5 148.7 L76.9 140.6 L74.6 131.2 L72.3 119.5 L69.7 115.6 L66.2 111.5 L63.2 107.5 L60.3 102.8 L58.6 98.1 L56.8 92.2 L55.1 86.4 L52.7 82.3 L48.6 78.2 L43.9 74.1 L39.9 71.2"/><path d="M81.5 149.9 L85.6 148.7 L88.5 151.1 L88.0 154.6 L89.7 158.1 L87.4 159.9 L85.0 156.9 L83.3 154.6 L81.5 153.4 L81.5 149.9"/><path d="M98.5 163.4 L98.2 164.7 L97.2 165.7 L95.9 166.0 L94.6 165.7 L93.6 164.7 L93.3 163.4 L93.6 162.1 L94.6 161.1 L95.9 160.8 L97.2 161.1 L98.2 162.1 L98.5 163.4"/><path d="M154.5 135.3 L149.4 137.6 L144.7 138.8 L140.0 138.2 L135.3 137.0 L133.6 138.2 L131.8 141.1 L128.9 144.6 L126.0 142.3 L122.5 140.0 L120.1 137.0 L117.2 137.6 L114.3 140.0 L112.2 144.1 L112.5 147.6 L110.8 151.1 L111.7 154.6 L113.1 157.5 L112.2 161.6 L111.7 166.3 L110.8 169.8 L114.3 172.1 L118.4 174.5 L120.7 178.0 L124.8 179.1 L128.3 178.0 L130.6 180.3 L134.2 183.2 L137.7 185.6 L136.9 190.0 L146.5 190.0 L149.0 191.9 L147.1 193.8 L149.0 188.7 L152.9 184.9 L155.0 182.3"/><path d="M72.5 179.5 L76.5 180.5 L80.5 185.5 L86.5 189.5 L92.5 194.5 L99.5 198.5 L106.5 202.5 L113.5 206.5 L120.5 210.5 L126.5 213.5 L132.5 216.5 L125.5 216.5 L118.5 213.5 L111.5 210.5 L104.5 206.5 L97.5 202.5 L90.5 198.5 L83.5 193.5 L77.5 188.5 L73.5 183.5 L72.5 179.5"/><path d="M130.6 219.2 L130.0 219.6 L129.0 219.6 L127.9 219.1 L126.9 218.4 L126.4 217.6 L126.4 216.8 L127.0 216.4 L128.0 216.4 L129.1 216.9 L130.1 217.6 L130.6 218.4 L130.6 219.2"/><path d="M138.6 223.9 L137.9 224.4 L136.9 224.4 L135.6 223.9 L134.6 223.1 L134.0 222.2 L134.0 221.5 L134.7 221.0 L135.7 221.0 L137.0 221.5 L138.0 222.3 L138.6 223.2 L138.6 223.9"/><path d="M147.8 227.3 L147.1 227.7 L145.8 227.6 L144.3 227.0 L143.0 226.1 L142.2 225.1 L142.2 224.3 L142.9 223.9 L144.2 224.0 L145.7 224.6 L147.0 225.5 L147.8 226.5 L147.8 227.3"/><path d="M154.4 230.4 L153.9 230.7 L153.0 230.7 L151.9 230.4 L151.0 229.7 L150.5 228.9 L150.6 228.2 L151.1 227.9 L152.0 227.9 L153.1 228.2 L154.0 228.9 L154.5 229.7 L154.4 230.4"/><path d="M37.6 95.4 L37.3 95.4 L36.8 94.9 L36.4 94.3 L36.1 93.5 L36.0 92.9 L36.2 92.6 L36.5 92.6 L37.0 93.1 L37.4 93.7 L37.7 94.5 L37.8 95.1 L37.6 95.4"/><path d="M41.6 111.0 L41.0 110.8 L40.4 110.0 L39.9 108.7 L39.8 107.4 L40.0 106.4 L40.4 106.0 L41.0 106.2 L41.6 107.0 L42.1 108.3 L42.2 109.6 L42.0 110.6 L41.6 111.0"/><path d="M43.4 120.6 L43.0 120.5 L42.6 120.0 L42.2 119.3 L42.0 118.5 L42.0 117.9 L42.2 117.6 L42.6 117.7 L43.0 118.2 L43.4 118.9 L43.6 119.7 L43.6 120.3 L43.4 120.6"/><path d="M43.5 130.6 L43.1 130.5 L42.7 129.9 L42.4 129.1 L42.3 128.2 L42.3 127.5 L42.5 127.2 L42.9 127.3 L43.3 127.9 L43.6 128.7 L43.7 129.6 L43.7 130.3 L43.5 130.6"/><path d="M47.2 142.6 L46.8 142.4 L46.4 141.7 L45.9 140.7 L45.7 139.6 L45.6 138.8 L45.8 138.4 L46.2 138.6 L46.6 139.3 L47.1 140.3 L47.3 141.4 L47.4 142.2 L47.2 142.6"/><path d="M48.0 16.8 L47.9 17.7 L47.0 19.7 L45.6 22.3 L44.0 24.9 L42.7 26.7 L42.0 27.2 L42.1 26.3 L43.0 24.3 L44.4 21.7 L46.0 19.1 L47.3 17.3 L48.0 16.8"/><path d="M37.5 33.8 L37.3 33.9 L36.9 33.7 L36.6 33.3 L36.4 32.8 L36.3 32.4 L36.5 32.2 L36.7 32.1 L37.1 32.3 L37.4 32.7 L37.6 33.2 L37.7 33.6 L37.5 33.8"/><path d="M35.6 43.1 L35.4 43.1 L35.1 43.0 L34.9 42.7 L34.7 42.4 L34.7 42.1 L34.8 41.9 L35.0 41.9 L35.3 42.0 L35.5 42.3 L35.7 42.6 L35.7 42.9 L35.6 43.1"/><path d="M36.1 52.3 L35.8 52.2 L35.5 51.8 L35.2 51.1 L35.1 50.4 L35.1 49.9 L35.3 49.7 L35.6 49.8 L35.9 50.2 L36.2 50.9 L36.3 51.6 L36.3 52.1 L36.1 52.3"/><path d="M35.5 60.8 L35.2 60.6 L34.8 60.0 L34.6 59.1 L34.5 58.2 L34.6 57.5 L34.9 57.2 L35.2 57.4 L35.6 58.0 L35.8 58.9 L35.9 59.8 L35.8 60.5 L35.5 60.8"/><path d="M118.5 120.3 L118.3 121.1 L117.8 121.7 L117.2 121.9 L116.5 121.7 L116.1 121.1 L115.9 120.3 L116.1 119.5 L116.5 118.9 L117.2 118.7 L117.8 118.9 L118.3 119.5 L118.5 120.3"/><path d="M74.0 123.6 L73.5 123.6 L73.0 123.4 L72.4 122.8 L72.0 122.1 L71.8 121.5 L72.0 121.0 L72.5 121.0 L73.0 121.2 L73.6 121.8 L74.0 122.5 L74.2 123.1 L74.0 123.6"/><path d="M75.7 126.3 L75.3 126.4 L74.7 126.2 L74.1 125.7 L73.7 125.0 L73.6 124.4 L73.9 123.9 L74.3 123.8 L74.9 124.0 L75.5 124.5 L75.9 125.2 L76.0 125.8 L75.7 126.3"/><path d="M77.7 128.8 L77.3 128.9 L76.7 128.8 L76.1 128.4 L75.7 127.8 L75.6 127.2 L75.7 126.8 L76.1 126.7 L76.7 126.8 L77.3 127.2 L77.7 127.8 L77.8 128.4 L77.7 128.8"/><path d="M85.4 128.3 L85.1 128.7 L84.4 129.0 L83.4 129.0 L82.5 128.8 L81.8 128.4 L81.6 127.9 L81.9 127.5 L82.6 127.2 L83.6 127.2 L84.5 127.4 L85.2 127.8 L85.4 128.3"/><path d="M83.2 137.2 L82.8 137.6 L82.2 137.7 L81.5 137.5 L80.9 137.0 L80.7 136.4 L80.8 135.8 L81.2 135.4 L81.8 135.3 L82.5 135.5 L83.1 136.0 L83.3 136.6 L83.2 137.2"/><path d="M70.3 115.7 L69.9 115.8 L69.6 115.7 L69.2 115.4 L69.0 115.0 L69.0 114.6 L69.1 114.3 L69.5 114.2 L69.8 114.3 L70.2 114.6 L70.4 115.0 L70.4 115.4 L70.3 115.7"/><path d="M76.8 35.2 L77.0 35.4 L77.0 35.7 L76.9 36.2 L76.7 36.6 L76.4 36.8 L76.2 36.8 L76.0 36.6 L76.0 36.3 L76.1 35.8 L76.3 35.4 L76.6 35.2 L76.8 35.2"/><path d="M78.3 38.1 L78.4 38.2 L78.5 38.6 L78.4 38.9 L78.2 39.3 L77.9 39.5 L77.7 39.5 L77.6 39.4 L77.5 39.0 L77.6 38.7 L77.8 38.3 L78.1 38.1 L78.3 38.1"/><path d="M76.0 40.3 L76.2 40.5 L76.2 40.8 L76.1 41.3 L75.9 41.7 L75.6 41.9 L75.4 41.9 L75.2 41.7 L75.2 41.4 L75.3 40.9 L75.5 40.5 L75.8 40.3 L76.0 40.3"/><path d="M77.4 43.0 L77.5 43.2 L77.5 43.5 L77.5 43.8 L77.3 44.2 L77.1 44.3 L76.8 44.4 L76.7 44.2 L76.7 43.9 L76.7 43.6 L76.9 43.2 L77.1 43.1 L77.4 43.0"/><path d="M79.4 33.1 L79.5 33.3 L79.5 33.6 L79.5 33.9 L79.3 34.3 L79.1 34.4 L78.8 34.5 L78.7 34.3 L78.7 34.0 L78.7 33.7 L78.9 33.3 L79.1 33.2 L79.4 33.1"/><path d="M75.1 45.3 L75.2 45.5 L75.2 45.8 L75.2 46.1 L75.0 46.5 L74.8 46.6 L74.5 46.7 L74.4 46.5 L74.4 46.2 L74.4 45.9 L74.6 45.5 L74.8 45.4 L75.1 45.3"/><path d="M81.3 131.2 L81.1 131.4 L80.8 131.5 L80.4 131.5 L80.0 131.3 L79.8 131.0 L79.7 130.8 L79.9 130.6 L80.2 130.5 L80.6 130.5 L81.0 130.7 L81.2 131.0 L81.3 131.2"/><path d="M80.6 120.5 L80.5 120.8 L80.3 120.9 L80.0 121.0 L79.7 120.9 L79.5 120.8 L79.4 120.5 L79.5 120.2 L79.7 120.1 L80.0 120.0 L80.3 120.1 L80.5 120.2 L80.6 120.5"/></g><g fill="#111"><circle cx="120.7" cy="85.8" r="0.5"/><circle cx="98.5" cy="120.3" r="0.5"/><circle cx="102.5" cy="120.3" r="0.5"/><circle cx="105.8" cy="157.7" r="0.5"/><circle cx="118.7" cy="128.9" r="0.5"/><circle cx="52.5" cy="163.3" r="0.5"/><circle cx="60.0" cy="116.5" r="0.5"/><circle cx="87.5" cy="117.5" r="0.5"/></g><path d="M70.2 137.6 L69.7 142.9 L71.7 149.9 L75.2 156.9 L77.5 162.8 L79.3 168.6 L84.0 175.6 L91.0 182.7 L97.9 186.5 L103.7 191.2 L113.1 195.9 L123.6 201.7 L133.0 207.5 L142.3 213.4 L154.5 219.8" fill="none" stroke="#21a585" stroke-width="1.1"/><path d="M91.0 173.9 L95.7 179.1 L101.5 183.8 L105.9 186.6 L119.4 194.5 L131.9 201.3 L134.5 202.5" fill="none" stroke="#cde11d" stroke-width="1.2"/><path d="M150.0 213.8 L154.5 216.0" fill="none" stroke="#cde11d" stroke-width="1.2"/><path d="M66.8 15.6 L60.3 18.8 L54.5 22.9 L49.8 27.6 L46.3 33.4 L43.4 40.4 L41.6 48.6 L40.4 58.0 L39.9 66.2 L39.9 70.0 L41.6 77.0 L45.1 85.2 L48.0 93.4 L49.8 100.4 L50.6 108.6 L51.5 118.0 L52.7 126.2 L54.1 128.9 L57.1 139.4 L60.6 149.9 L64.1 159.3 L67.6 166.3" fill="none" stroke="#54309a" stroke-width="1.2"/><path d="M72.3 174.5 L78.0 186.5 L87.4 195.9 L97.9 204.0 L109.6 212.2 L121.3 218.1 L135.3 223.9 L154.5 231.5" fill="none" stroke="#54309a" stroke-width="1.2"/><text x="0" y="0" font-size="8.2" fill="#3f6fa3" transform="translate(48.6 53.5) rotate(-82)" text-anchor="middle">200</text><text x="0" y="0" font-size="7.5" fill="#3f6fa3" transform="translate(108.3 202.6) rotate(28)" text-anchor="middle">200</text><text x="0" y="0" font-size="6.5" fill="#54309a" transform="translate(66.8 170.3) rotate(60)" text-anchor="middle">00</text><text x="0" y="0" font-size="8.8" fill="#cde11d" transform="translate(86.2 171.2) rotate(52)" text-anchor="middle">600</text><text x="0" y="0" font-size="8.8" fill="#cde11d" transform="translate(145 214.6) rotate(32)" text-anchor="middle">600</text><path d="M69.5 -5.0 L68.0 -3.5 L65.2 -0.7 L62.6 1.9 L59.7 4.2 L56.2 6.6 L52.3 8.7 L48.6 10.7 L45.4 12.7 L42.5 15.0 L40.2 17.7 L38.1 20.5 L36.4 23.5 L34.4 26.8 L32.2 30.5 L30.2 34.6 L28.4 38.7 L27.2 42.8 L26.2 46.9 L25.6 50.8 L25.1 54.5 L24.5 58.2 L23.8 62.2 L23.2 66.5 L22.9 70.6 L23.2 74.9 L23.8 79.4 L25.0 83.9 L26.7 88.1 L28.8 92.0 L31.1 95.8 L33.0 99.3 L34.6 102.8 L35.5 106.5 L36.2 110.4 L36.7 114.5 L37.1 118.6 L37.6 122.5 L38.2 126.3 L38.8 129.9 L39.6 133.6 L40.5 137.4 L41.4 141.3 L42.4 145.3 L43.4 149.5 L44.4 153.8 L45.5 157.8 L46.6 161.6 L47.7 165.1 L49.0 168.5 L50.5 171.7 L52.0 174.9 L53.7 177.9 L55.5 180.7 L57.5 183.5 L59.7 186.3 L62.2 189.2 L64.9 192.5 L67.4 196.0 L69.8 199.7 L72.1 203.3 L74.9 206.5 L78.0 209.1 L81.5 211.2 L85.0 213.3 L88.5 215.4 L92.0 217.5 L95.5 219.7 L99.0 221.9 L102.6 224.2 L106.1 226.4 L109.6 228.5 L113.1 230.5 L116.6 232.4 L120.1 234.2 L123.6 236.1 L127.0 237.9 L130.3 239.6 L133.5 241.2 L136.8 242.8 L140.1 244.5 L143.6 246.2 L147.2 247.9 L150.9 249.7 L154.4 251.3 L157.8 252.9 L161.2 254.4 L162.8 255.2" fill="none" stroke="#a862d4" stroke-width="1.7" stroke-linejoin="round"/><g fill="none" stroke="#a862d4" stroke-width="1.1"><rect x="0.3" y="-2.6" width="5.2" height="5.2" transform="translate(40.4 17.8) rotate(40.3)"/><rect x="0.3" y="-2.6" width="5.2" height="5.2" transform="translate(23.2 70.7) rotate(-0.0)"/><rect x="0.3" y="-2.6" width="5.2" height="5.2" transform="translate(37.7 122.4) rotate(-8.0)"/><rect x="0.3" y="-2.6" width="5.2" height="5.2" transform="translate(55.6 180.7) rotate(-33.6)"/><rect x="0.3" y="-2.6" width="5.2" height="5.2" transform="translate(95.5 219.7) rotate(-58.1)"/><rect x="0.3" y="-2.6" width="5.2" height="5.2" transform="translate(136.9 242.8) rotate(-63.8)"/></g>
</g>
<rect x="0" y="0" width="153.5" height="253.0" fill="none" stroke="#8a8a8a" stroke-width="1"/>
<rect x="2.2" y="1.5" width="9.5" height="12" rx="1.6" fill="#fff" stroke="#444" stroke-width="0.55"/>
<text x="7" y="10.6" font-size="8.6" text-anchor="middle" fill="#111">d</text>
<rect x="109.9" y="1.3" width="40.5" height="12" rx="1.6" fill="#fff" stroke="#555" stroke-width="0.6"/>
<text x="130.3" y="10.5" font-size="8.8" text-anchor="middle" fill="#8c564b">Model3a</text>
</g>
<g transform="translate(188.0 259.0)"><g clip-path="url(#pc)">
<path d="M-2.0 -2.0 L155.5 -2.0 L155.5 255.0 L-2.0 255.0Z" fill="#d0dce5"/>
<path d="M135.5 11.4 C134.0 14.2 130.1 24.0 129.1 28.4 C128.1 32.8 127.5 39.4 128.0 44.3 C128.4 49.1 130.7 59.8 132.5 64.6 C134.3 69.5 138.5 76.8 141.6 80.5 C144.6 84.1 152.9 87.0 155.1 92.2 C157.4 97.5 158.1 131.2 158.5 120.0 C158.9 108.8 161.0 22.9 158.5 8.0 C156.0 -6.9 143.1 7.5 140.0 8.0 C136.9 8.5 136.9 8.7 135.5 11.4Z" fill="#d6e6db"/>
<path d="M102.0 -2.1 C115.5 1.0 100.4 13.9 99.7 21.6 C99.0 29.3 96.9 48.0 96.8 55.6 C96.6 63.1 97.1 72.8 98.6 78.2 C100.0 83.6 104.2 91.2 107.6 96.3 C111.1 101.4 120.2 112.4 124.6 116.7 C129.0 120.9 139.1 127.0 140.4 128.0 C141.8 128.9 132.8 122.9 134.8 123.9 C136.7 124.8 152.4 117.7 155.1 135.2 C157.9 152.7 176.1 239.1 155.1 255.1 C134.2 271.1 18.8 289.4 -2.1 255.1 C-23.1 220.8 -16.0 32.2 -2.1 -2.1 C11.7 -36.4 88.4 -5.3 102.0 -2.1Z" fill="#adc0d7"/>
<path d="M75.9 -2.1 C77.0 -0.2 76.0 10.0 74.8 12.6 C73.6 15.1 69.3 14.7 66.9 17.1 C64.5 19.5 58.4 26.2 56.7 30.7 C55.0 35.2 53.5 45.3 54.4 51.0 C55.3 56.8 60.8 67.9 63.5 73.7 C66.2 79.4 72.2 88.9 74.8 94.0 C77.4 99.2 80.8 107.6 82.7 112.1 C84.7 116.7 88.6 126.3 89.5 128.0 C90.4 129.7 89.2 122.4 89.5 125.0 C89.8 127.6 92.4 144.6 91.8 147.6 C91.2 150.6 88.3 150.6 85.0 147.6 C81.7 144.6 72.3 127.7 66.9 125.0 C61.5 122.3 48.8 134.8 44.3 127.1 C39.7 119.3 32.9 80.9 32.9 66.9 C32.9 52.8 39.7 30.8 44.3 21.6 C48.8 12.4 62.7 1.0 66.9 -2.1 C71.1 -5.3 74.9 -4.1 75.9 -2.1Z" fill="#89a6c4"/>
<path d="M-115.8 -187.3 L-117.2 -186.0 L-110.4 -192.5 L-103.5 -198.4 L-93.9 -205.9 L-84.1 -212.6 L-82.0 -214.0 L-91.4 -208.2 L-110.3 -195.1 L-134.5 -174.8 L-157.9 -150.3 L-174.4 -129.0 L-184.4 -113.8 L-192.6 -99.9 L-199.5 -87.0 L-207.1 -71.1 L-215.2 -51.2 L-222.5 -29.0 L-227.4 -9.6 L-230.1 3.8 L-231.3 11.2 L-232.7 19.4 L-234.3 31.6 L-235.9 47.7 L-236.8 70.7 L-235.1 102.4 L-229.7 135.5 L-221.8 164.5 L-211.5 191.6 L-202.8 209.9 L-199.8 215.5 L-203.5 207.8 L-210.6 190.4 L-217.1 168.7 L-220.3 153.7 L-221.1 148.5 L-220.8 150.8 L-219.8 158.4 L-218.4 168.1 L-216.3 179.8 L-214.4 189.0 L-212.9 195.4 L-211.5 201.4 L-210.4 206.1 L-209.1 211.6 L-207.2 219.2 L-205.0 227.2 L-201.6 239.0 L-196.3 254.4 L-191.3 267.4 L-185.4 280.9 L-177.0 297.7 L-169.5 311.0 L-161.0 324.4 L-149.6 340.5 L-143.8 347.9 L-143.5 348.3 L-142.9 349.1 L-144.0 347.6 L-140.4 352.7 L-126.6 370.4 L-107.5 391.1 L-86.1 410.3 L-62.8 427.5 L-49.3 435.9 L-46.8 437.5 L-44.3 439.0 L-41.7 440.6 L-39.2 442.2 L-34.7 445.0 L-28.1 449.0 L-21.5 452.9 L-14.9 456.7 L-8.1 460.5 L-2.3 463.7 L2.6 466.2 L7.4 468.7 L12.3 471.2 L17.5 473.8 L22.1 476.1 L26.0 478.1 L30.0 480.0 L34.6 482.2 L39.5 484.6 L44.3 486.8 L48.4 488.7 L51.4 490.1 L54.5 491.5 L165.3 245.3 L163.7 244.6 L162.0 243.8 L158.6 242.2 L155.1 240.6 L151.6 238.9 L148.1 237.2 L144.6 235.5 L141.3 233.9 L138.0 232.3 L134.8 230.6 L131.5 229.0 L128.2 227.2 L124.8 225.4 L121.4 223.6 L118.0 221.7 L114.6 219.8 L111.2 217.7 L107.8 215.7 L104.4 213.5 L100.8 211.3 L97.3 209.1 L93.7 206.9 L90.2 204.7 L87.0 202.9 L84.5 201.0 L82.2 198.9 L80.0 196.6 L77.9 193.8 L75.5 190.3 L72.8 186.7 L70.3 183.3 L67.8 180.2 L65.6 177.5 L63.9 175.1 L62.4 172.6 L60.9 170.1 L59.6 167.5 L58.4 164.6 L57.2 161.6 L56.1 158.5 L55.1 154.9 L54.1 151.1 L53.1 147.2 L52.1 143.1 L51.2 139.1 L50.3 135.2 L49.5 131.6 L48.7 128.0 L48.1 124.6 L47.6 121.0 L47.1 117.3 L46.6 113.2 L46.0 108.9 L45.1 104.3 L43.6 99.5 L41.8 95.1 L39.8 91.0 L37.8 87.4 L36.1 83.9 L34.8 80.6 L33.9 77.2 L33.4 74.0 L33.2 70.7 L33.4 67.1 L33.8 63.6 L34.2 60.0 L34.9 56.2 L35.5 52.4 L36.2 48.9 L37.0 45.6 L38.2 42.2 L39.6 38.7 L41.2 35.3 L43.0 32.0 L44.7 29.0 L46.5 26.4 L48.0 24.3 L49.7 22.5 L51.6 20.9 L54.3 19.1 L57.6 17.1 L61.4 14.9 L65.1 12.3 L68.8 9.4 L72.1 6.5 L73.7 4.9 L75.1 3.6Z" fill="#6389b0"/>
<path d="M-2.0 119.8 C-1.1 116.1 2.8 122.6 4.8 123.6 C6.7 124.6 10.7 127.4 12.4 127.4 C14.2 127.5 16.9 125.8 17.8 124.0 C18.7 122.2 19.0 116.9 18.9 114.0 C18.9 111.2 17.5 105.6 17.4 102.5 C17.3 99.4 17.8 93.6 18.2 91.0 C18.6 88.4 19.8 84.4 20.5 83.3 C21.2 82.3 23.0 82.3 23.5 83.3 C24.1 84.4 24.1 87.4 24.3 91.0 C24.5 94.6 24.7 105.3 24.9 110.2 C25.1 115.0 25.5 122.8 25.9 127.4 C26.2 132.0 27.8 141.9 27.8 144.7 C27.8 147.5 27.1 146.7 25.9 148.5 C24.6 150.4 20.2 157.7 18.2 158.5 C16.1 159.3 13.2 155.7 10.5 154.7 C7.8 153.7 -0.3 155.5 -2.0 150.8 C-3.6 146.2 -2.9 123.4 -2.0 119.8Z" fill="#89a6c4"/>
<path d="M-2.0 150.5 C-0.3 148.0 7.8 153.3 10.5 154.3 C13.2 155.3 16.5 158.9 18.2 158.1 C19.8 157.4 22.1 149.0 23.0 148.5 C23.9 148.0 24.8 151.2 24.9 154.3 C25.0 157.4 27.5 169.1 23.9 171.6 C20.4 174.0 1.5 175.3 -2.0 172.5 C-5.4 169.7 -3.6 152.9 -2.0 150.5Z" fill="#adc0d7"/>
<path d="M-2.0 167.7 C-0.3 159.9 7.8 166.4 10.5 166.8 C13.2 167.1 16.6 173.0 18.2 170.6 C19.8 168.2 21.9 153.5 22.4 148.5 C22.9 143.6 21.6 136.3 21.6 133.2 C21.7 130.1 22.4 126.0 23.0 125.5 C23.5 125.0 25.2 126.8 25.9 129.4 C26.5 131.9 27.7 141.9 27.8 144.7 C27.8 147.5 26.1 147.9 26.0 150.5 C25.9 153.0 26.5 160.3 27.0 163.9 C27.5 167.5 28.7 173.7 29.7 177.3 C30.7 180.9 33.5 187.4 34.5 190.7 C35.5 194.1 36.6 197.6 37.4 202.2 C38.1 206.8 45.5 222.2 40.2 225.3 C35.0 228.3 3.7 232.9 -2.0 225.3 C-7.6 217.6 -3.6 175.5 -2.0 167.7Z" fill="#d0dce5"/>
<path d="M71.5 0.0 L70.2 1.4 L68.8 2.8 L65.6 5.6 L62.2 8.2 L58.7 10.6 L55.0 12.8 L51.6 14.9 L48.6 16.9 L46.3 18.9 L44.2 21.0 L42.4 23.5 L40.5 26.3 L38.6 29.5 L36.8 33.0 L35.0 36.6 L33.5 40.4 L32.2 44.2 L31.3 47.9 L30.6 51.5 L30.0 55.4 L29.3 59.2 L28.8 63.0 L28.4 66.8 L28.2 70.7 L28.4 74.5 L29.0 78.3 L30.1 82.2 L31.5 85.9 L33.3 89.6 L35.3 93.3 L37.3 97.2 L38.9 101.2 L40.2 105.5 L41.0 109.7 L41.6 113.8 L42.1 117.9 L42.6 121.7 L43.2 125.4 L43.8 129.0 L44.6 132.6 L45.4 136.3 L46.3 140.2 L47.3 144.3 L48.3 148.4 L49.3 152.4 L50.3 156.3 L51.4 159.9 L52.5 163.3 L53.8 166.5 L55.1 169.6 L56.5 172.4 L58.1 175.2 L59.8 177.9 L61.6 180.5 L63.9 183.3 L66.3 186.4 L68.8 189.7 L71.4 193.2 L73.8 196.7 L76.2 199.8 L78.7 202.5 L81.4 204.9 L84.3 207.0 L87.6 209.0 L91.1 211.2 L94.6 213.3 L98.2 215.5 L101.7 217.7 L105.2 219.9 L108.7 222.0 L112.1 224.1 L115.6 226.1 L119.0 228.0 L122.5 229.8 L125.9 231.6 L129.2 233.4 L132.5 235.1 L135.8 236.7 L139.1 238.3 L142.4 240.0 L145.9 241.7 L149.4 243.4 L153.0 245.1 L156.4 246.7 L159.9 248.3 L161.6 249.1 L163.2 249.8 L173.1 227.8 L171.6 227.1 L170.1 226.4 L166.7 224.8 L163.3 223.3 L159.8 221.8 L156.3 220.3 L152.8 218.7 L149.5 217.2 L146.3 215.7 L143.1 214.3 L139.9 212.8 L136.6 211.2 L133.3 209.5 L130.0 207.9 L126.8 206.2 L123.6 204.5 L120.3 202.7 L117.1 200.8 L113.6 198.7 L109.9 196.6 L106.3 194.4 L102.7 192.2 L99.0 190.0 L96.6 188.6 L95.4 187.7 L94.3 186.7 L93.2 185.5 L91.8 183.6 L89.5 180.3 L86.5 176.3 L84.3 172.5 L82.0 168.9 L80.4 166.3 L79.7 164.7 L78.9 162.8 L77.7 161.1 L76.7 159.5 L75.7 157.4 L74.6 155.2 L73.7 153.0 L72.7 150.1 L71.5 146.6 L70.3 143.0 L69.1 139.0 L67.9 135.1 L66.8 131.5 L65.8 128.0 L64.9 124.9 L64.1 122.0 L63.4 118.8 L62.5 115.3 L61.7 111.2 L60.4 106.4 L58.9 100.9 L56.5 94.9 L53.8 89.6 L52.1 84.6 L50.9 80.7 L50.3 77.8 L50.2 75.6 L49.4 73.8 L48.7 72.4 L48.3 70.7 L48.0 68.2 L47.7 65.2 L47.5 62.0 L47.5 58.3 L47.5 54.6 L47.9 51.5 L48.3 48.8 L48.9 46.1 L49.8 43.2 L51.1 40.3 L52.5 37.3 L54.0 34.7 L55.3 32.6 L56.2 31.2 L56.5 29.9 L57.3 28.5 L59.1 26.6 L61.9 24.1 L65.8 21.8 L70.0 18.9 L74.0 15.7 L77.7 12.5 L79.5 10.7 L80.9 9.4Z" fill="#89a6c4"/>
<path d="M66.6 -4.9 L65.2 -3.6 L64.0 -2.4 L61.2 0.2 L58.1 2.6 L54.9 4.7 L51.4 6.8 L47.8 9.0 L44.4 11.3 L41.5 13.8 L38.9 16.5 L36.7 19.4 L34.6 22.6 L32.5 26.1 L30.5 29.8 L28.6 33.8 L26.9 38.0 L25.5 42.2 L24.5 46.3 L23.7 50.3 L23.1 54.2 L22.4 58.1 L21.9 62.1 L21.4 66.3 L21.2 70.7 L21.4 75.3 L22.2 79.8 L23.4 84.3 L25.1 88.7 L27.1 92.8 L29.1 96.6 L30.9 100.1 L32.3 103.6 L33.4 107.1 L34.1 110.9 L34.7 114.8 L35.2 118.7 L35.7 122.7 L36.2 126.5 L36.9 130.3 L37.7 134.1 L38.6 137.9 L39.5 141.8 L40.5 145.9 L41.5 150.1 L42.5 154.1 L43.6 158.2 L44.7 162.0 L45.9 165.7 L47.3 169.1 L48.7 172.5 L50.3 175.7 L52.1 178.8 L53.9 181.8 L56.1 184.7 L58.4 187.6 L60.7 190.7 L63.2 193.9 L65.7 197.3 L68.2 200.8 L70.8 204.3 L73.8 207.5 L77.0 210.3 L80.4 212.9 L84.0 215.0 L87.5 217.1 L91.0 219.3 L94.5 221.4 L98.0 223.6 L101.5 225.9 L105.0 228.0 L108.6 230.1 L112.1 232.2 L115.6 234.1 L119.2 236.0 L122.6 237.8 L126.0 239.6 L129.4 241.3 L132.7 243.0 L136.0 244.6 L139.4 246.3 L142.8 248.0 L146.4 249.7 L150.0 251.4 L153.5 253.1 L156.9 254.7 L158.7 255.5 L160.3 256.2 L170.9 232.9 L169.3 232.2 L167.7 231.4 L164.3 229.9 L160.9 228.4 L157.4 226.9 L153.9 225.3 L150.4 223.7 L147.0 222.2 L143.8 220.8 L140.6 219.3 L137.3 217.8 L134.0 216.1 L130.6 214.5 L127.3 212.8 L124.0 211.1 L120.7 209.3 L117.4 207.5 L114.1 205.6 L110.6 203.5 L107.0 201.3 L103.3 199.2 L99.7 197.0 L96.2 194.8 L93.5 193.2 L91.9 192.0 L90.4 190.7 L88.9 189.1 L87.3 186.9 L84.9 183.5 L82.1 179.7 L79.8 175.9 L77.7 172.4 L75.9 169.7 L75.0 167.8 L74.1 165.7 L72.8 163.7 L71.7 161.9 L70.5 159.6 L69.3 157.1 L68.3 154.7 L67.3 151.6 L66.1 148.0 L64.9 144.3 L63.7 140.3 L62.5 136.4 L61.3 132.7 L60.3 129.2 L59.4 126.0 L58.6 122.9 L57.8 119.6 L57.0 116.0 L56.1 111.9 L55.7 107.2 L54.9 101.9 L53.4 96.1 L51.4 90.7 L49.8 85.8 L48.6 81.9 L47.9 78.8 L47.8 76.4 L46.8 74.4 L46.1 72.7 L45.7 70.7 L45.5 68.0 L45.2 64.9 L45.0 61.6 L45.0 57.9 L45.0 54.2 L45.3 51.0 L45.8 48.1 L46.5 45.2 L47.4 42.2 L48.8 39.1 L50.3 36.1 L51.8 33.4 L53.2 31.1 L54.2 29.5 L54.8 28.0 L55.7 26.4 L57.7 24.4 L60.5 21.9 L64.4 19.6 L68.4 16.8 L72.4 13.7 L75.9 10.6 L77.7 8.9 L79.0 7.5Z" fill="#6389b0"/>
<path d="M68.0 -3.5 L66.7 -2.2 L65.4 -0.9 L62.4 1.7 L59.2 4.2 L56.0 6.4 L52.5 8.5 L48.9 10.7 L45.6 12.9 L42.8 15.2 L40.4 17.8 L38.0 20.4 L35.7 23.3 L33.4 26.6 L31.0 30.1 L28.6 33.8 L26.6 37.9 L24.9 42.1 L23.6 46.1 L22.5 50.1 L21.5 53.9 L20.5 57.9 L19.7 61.9 L18.9 66.1 L18.7 70.7 L18.8 75.5 L19.6 80.4 L20.8 85.2 L22.5 89.8 L24.5 94.1 L26.5 97.9 L28.2 101.4 L29.4 104.6 L30.3 107.9 L30.8 111.4 L31.2 115.2 L31.3 119.2 L31.5 123.3 L31.8 127.2 L32.3 131.3 L32.8 135.2 L33.4 139.1 L34.0 143.1 L34.6 147.3 L35.3 151.6 L36.0 155.8 L36.8 160.0 L37.8 164.2 L38.9 168.3 L40.1 172.1 L41.5 175.9 L43.1 179.6 L44.8 183.1 L46.7 186.6 L49.0 190.1 L51.3 193.2 L53.4 196.3 L55.6 199.6 L57.9 202.9 L60.3 206.6 L63.3 210.7 L66.8 214.6 L70.6 218.2 L74.7 221.3 L78.6 223.8 L82.1 226.0 L85.5 228.2 L88.9 230.4 L92.3 232.6 L95.9 234.9 L99.5 237.2 L103.2 239.4 L106.8 241.6 L110.4 243.6 L114.0 245.6 L117.5 247.5 L121.0 249.4 L124.3 251.2 L127.7 252.9 L131.0 254.7 L134.4 256.4 L137.9 258.2 L141.5 260.0 L145.1 261.7 L148.6 263.5 L152.1 265.1 L153.9 265.9 L155.6 266.7 L169.8 235.2 L168.2 234.6 L166.6 233.8 L163.2 232.2 L159.8 230.7 L156.2 229.2 L152.7 227.6 L149.2 226.1 L145.8 224.5 L142.6 223.1 L139.4 221.6 L136.1 220.1 L132.8 218.4 L129.4 216.8 L126.0 215.1 L122.7 213.3 L119.4 211.6 L116.1 209.7 L112.7 207.8 L109.2 205.7 L105.6 203.5 L102.0 201.4 L98.4 199.2 L94.8 197.0 L92.0 195.4 L90.2 194.1 L88.5 192.5 L86.9 190.8 L85.2 188.5 L82.8 185.0 L80.0 181.2 L77.8 177.5 L75.6 174.0 L73.9 171.3 L72.8 169.2 L71.9 167.0 L70.5 164.9 L69.3 163.0 L68.1 160.6 L66.9 158.0 L65.8 155.4 L64.8 152.3 L63.5 148.7 L62.3 144.9 L61.1 141.0 L59.9 137.0 L58.8 133.3 L57.8 129.7 L56.8 126.5 L56.0 123.3 L55.2 119.9 L54.4 116.3 L53.5 112.3 L53.1 107.7 L52.3 102.5 L50.9 96.9 L49.1 91.8 L47.5 87.0 L46.3 83.1 L45.5 79.8 L45.3 77.2 L44.3 74.9 L43.5 72.9 L43.1 70.7 L42.9 67.8 L42.6 64.6 L42.4 61.2 L42.4 57.5 L42.4 53.7 L42.8 50.4 L43.3 47.4 L44.0 44.3 L45.1 41.1 L46.5 37.9 L48.0 34.8 L49.5 32.0 L51.0 29.6 L52.2 27.8 L53.0 26.1 L54.2 24.3 L56.3 22.2 L59.2 19.7 L63.0 17.4 L66.9 14.7 L70.7 11.7 L74.2 8.7 L75.9 7.0 L77.2 5.7Z" fill="#426d9c"/>
<path d="M-2.0 192.0 L0.4 196.0 L2.6 199.6 L7.6 205.4 L14.7 210.4 L24.8 213.2 L33.4 213.9 L37.6 212.8 L39.4 208.2 L36.9 199.6 L33.4 189.6 L29.8 179.6 L28.3 171.0 L26.8 163.9 L25.9 150.5 L27.4 143.7 L30.2 144.0 L31.1 148.2 L32.0 152.4 L32.9 156.6 L33.9 160.8 L35.0 165.1 L36.2 169.3 L37.6 173.1 L39.1 177.0 L40.8 180.9 L42.7 184.4 L44.7 187.9 L47.1 191.5 L49.4 194.7 L51.6 197.7 L53.8 201.0 L56.1 204.1 L58.6 207.8 L61.8 211.9 L65.5 215.9 L69.5 219.5 L73.8 222.7 L77.9 225.1 L81.3 227.2 L84.8 229.3 L88.2 231.5 L91.7 233.6 L95.3 235.9 L98.9 238.2 L102.6 240.4 L106.3 242.5 L109.9 244.5 L113.6 246.5 L117.1 248.4 L120.5 250.2 L124.0 251.9 L127.3 253.7 L130.7 255.3 L134.1 257.0 L137.6 258.7 L141.2 260.5 L144.8 262.2 L148.4 263.9 L151.9 265.6 L153.7 266.4 L155.4 267.2 L158.5 258.0 L-5.0 258.0Z" fill="#d6e6db"/>
<path d="M26.0 255.0 L42.0 245.4 L62.7 236.1 L90.0 255.0Z" fill="#b6d5b9"/>
<path d="M33.5 161.0 L33.7 165.5 L34.2 170.0 L34.8 174.3 L35.1 178.8 L35.8 183.5 L36.6 188.0 L37.3 192.8 L38.5 198.0 L39.6 202.5 L39.4 207.2 L39.2 211.9 L40.5 215.3 L42.3 219.7 L45.6 225.5 L49.9 231.7 L55.0 237.3 L60.6 242.5 L65.2 246.2 L68.1 248.9 L71.0 251.6 L74.2 254.1 L77.4 256.5 L80.8 259.2 L84.6 261.9 L88.4 264.7 L92.2 267.3 L96.1 269.9 L99.8 272.4 L103.3 274.7 L106.7 276.9 L110.2 279.0 L113.7 281.0 L117.1 283.0 L120.5 284.9 L123.9 286.9 L127.5 288.9 L131.2 290.9 L134.9 292.9 L138.4 294.6 L140.4 295.5 L142.3 296.3 L155.4 267.2 L153.7 266.4 L151.9 265.6 L148.4 263.9 L144.8 262.2 L141.2 260.5 L137.6 258.7 L134.1 257.0 L130.7 255.3 L127.3 253.7 L124.0 251.9 L120.5 250.2 L117.1 248.4 L113.6 246.5 L109.9 244.5 L106.3 242.5 L102.6 240.4 L98.9 238.2 L95.3 235.9 L91.7 233.6 L88.2 231.5 L84.8 229.3 L81.3 227.2 L77.9 225.1 L73.8 222.7 L69.5 219.5 L65.5 215.9 L61.8 211.9 L58.6 207.8 L56.1 204.1 L53.8 201.0 L51.6 197.7 L49.4 194.7 L47.1 191.5 L44.7 187.9 L42.7 184.4 L40.8 180.9 L39.1 177.0 L37.6 173.1 L36.2 169.3 L35.0 165.1 L33.9 160.8Z" fill="#b6d5b9"/>
<path d="M37.1 173.3 L37.4 177.8 L38.0 182.4 L38.8 186.7 L40.0 191.0 L41.7 195.6 L43.3 199.6 L44.0 203.6 L44.8 207.7 L46.4 211.1 L48.4 215.2 L51.5 220.6 L55.5 226.0 L60.2 231.0 L65.3 235.5 L69.6 238.8 L72.7 241.4 L75.8 244.0 L79.0 246.3 L82.2 248.7 L85.7 251.3 L89.5 253.9 L93.2 256.5 L97.0 259.0 L100.7 261.4 L104.4 263.7 L107.9 265.9 L111.3 268.0 L114.8 270.0 L118.3 271.8 L121.7 273.7 L125.1 275.5 L128.6 277.3 L132.2 279.2 L135.9 281.1 L139.5 283.0 L143.0 284.6 L145.0 285.5 L146.8 286.3 L155.4 267.2 L153.7 266.4 L151.9 265.6 L148.4 263.9 L144.8 262.2 L141.2 260.5 L137.6 258.7 L134.1 257.0 L130.7 255.3 L127.3 253.7 L124.0 251.9 L120.5 250.2 L117.1 248.4 L113.6 246.5 L109.9 244.5 L106.3 242.5 L102.6 240.4 L98.9 238.2 L95.3 235.9 L91.7 233.6 L88.2 231.5 L84.8 229.3 L81.3 227.2 L77.9 225.1 L73.8 222.7 L69.5 219.5 L65.5 215.9 L61.8 211.9 L58.6 207.8 L56.1 204.1 L53.8 201.0 L51.6 197.7 L49.4 194.7 L47.1 191.5 L44.7 187.9 L42.7 184.4 L40.8 180.9 L39.1 177.0 L37.6 173.1Z" fill="#98c199"/>
<path d="M40.1 181.2 L40.9 185.4 L42.3 189.5 L44.2 193.7 L46.0 197.4 L47.2 201.1 L48.4 205.0 L50.2 208.4 L52.3 212.4 L55.4 217.3 L59.2 222.2 L63.6 226.8 L68.4 230.9 L72.6 233.9 L75.7 236.4 L78.9 238.9 L82.2 241.2 L85.4 243.6 L88.9 246.2 L92.6 248.8 L96.2 251.3 L99.9 253.7 L103.6 256.1 L107.2 258.4 L110.7 260.6 L114.1 262.7 L117.5 264.6 L120.9 266.5 L124.3 268.3 L127.7 270.1 L131.2 271.9 L134.8 273.8 L138.5 275.7 L142.1 277.5 L145.6 279.2 L147.4 280.0 L149.3 280.8 L155.4 267.2 L153.7 266.4 L151.9 265.6 L148.4 263.9 L144.8 262.2 L141.2 260.5 L137.6 258.7 L134.1 257.0 L130.7 255.3 L127.3 253.7 L124.0 251.9 L120.5 250.2 L117.1 248.4 L113.6 246.5 L109.9 244.5 L106.3 242.5 L102.6 240.4 L98.9 238.2 L95.3 235.9 L91.7 233.6 L88.2 231.5 L84.8 229.3 L81.3 227.2 L77.9 225.1 L73.8 222.7 L69.5 219.5 L65.5 215.9 L61.8 211.9 L58.6 207.8 L56.1 204.1 L53.8 201.0 L51.6 197.7 L49.4 194.7 L47.1 191.5 L44.7 187.9 L42.7 184.4 L40.8 180.9Z" fill="#74ae78"/>
<path d="M49.4 194.8 L50.3 198.7 L51.4 202.8 L53.4 206.1 L55.6 210.0 L58.6 214.6 L62.3 219.1 L66.4 223.3 L70.9 227.0 L75.0 229.9 L78.3 232.2 L81.5 234.6 L84.9 236.9 L88.2 239.2 L91.7 241.7 L95.3 244.1 L99.0 246.5 L102.7 248.9 L106.3 251.1 L109.9 253.3 L113.4 255.4 L116.8 257.4 L120.2 259.3 L123.6 261.1 L127.0 262.9 L130.4 264.7 L133.8 266.5 L137.4 268.4 L141.0 270.3 L144.6 272.1 L148.1 273.7 L149.9 274.6 L151.7 275.4 L155.4 267.2 L153.7 266.4 L151.9 265.6 L148.4 263.9 L144.8 262.2 L141.2 260.5 L137.6 258.7 L134.1 257.0 L130.7 255.3 L127.3 253.7 L124.0 251.9 L120.5 250.2 L117.1 248.4 L113.6 246.5 L109.9 244.5 L106.3 242.5 L102.6 240.4 L98.9 238.2 L95.3 235.9 L91.7 233.6 L88.2 231.5 L84.8 229.3 L81.3 227.2 L77.9 225.1 L73.8 222.7 L69.5 219.5 L65.5 215.9 L61.8 211.9 L58.6 207.8 L56.1 204.1 L53.8 201.0 L51.6 197.7 L49.4 194.7Z" fill="#569858"/>
<path d="M39.6 114.1 L39.4 118.2 L39.1 122.2 L39.2 126.0 L39.4 129.9 L39.7 133.7 L39.9 137.6 L40.1 141.7 L40.5 145.9 L40.8 150.2 L41.2 154.5 L41.6 158.7 L42.3 162.8 L43.1 166.7 L44.1 170.5 L45.1 174.2 L46.4 177.9 L47.8 181.3 L49.6 184.6 L51.8 188.0 L54.1 191.0 L56.2 194.2 L58.4 197.5 L60.2 201.2 L62.1 205.2 L64.5 209.6 L67.5 213.9 L71.1 217.5 L75.1 220.9 L78.9 223.5 L82.2 225.8 L85.5 228.2 L88.9 230.4 L92.4 232.6 L95.9 234.8 L99.6 237.1 L103.2 239.3 L106.9 241.4 L110.5 243.5 L114.1 245.4 L117.6 247.3 L121.1 249.2 L124.5 250.9 L127.8 252.7 L131.2 254.4 L134.6 256.1 L138.1 257.8 L141.6 259.6 L145.3 261.3 L148.8 263.0 L152.3 264.6 L154.1 265.5 L155.8 266.3 L164.9 246.2 L163.2 245.5 L161.6 244.7 L158.1 243.1 L154.6 241.6 L151.0 240.0 L147.5 238.4 L144.0 236.9 L140.6 235.3 L137.2 233.8 L134.0 232.3 L130.6 230.7 L127.3 228.9 L123.9 227.1 L120.5 225.2 L117.1 223.3 L113.7 221.3 L110.4 219.2 L107.0 217.1 L103.5 214.8 L100.0 212.6 L96.5 210.3 L93.1 207.9 L89.8 205.4 L86.8 203.3 L84.5 201.1 L82.4 198.8 L80.6 196.1 L78.8 193.1 L76.7 189.4 L74.4 185.5 L72.5 181.6 L70.7 177.8 L69.1 174.9 L68.0 172.4 L67.1 169.8 L65.7 167.5 L64.5 165.2 L63.2 162.6 L62.1 159.8 L61.0 156.9 L60.0 153.6 L58.5 150.0 L57.0 146.2 L55.5 142.3 L54.1 138.4 L52.7 134.7 L51.4 131.1 L49.7 127.9 L48.1 124.6 L46.6 121.2 L44.6 117.6 L42.6 113.7Z" fill="#2c4f84"/>
<path d="M57.2 188.6 L58.6 192.3 L60.0 196.3 L62.1 199.9 L64.1 203.8 L66.6 207.8 L69.6 211.7 L73.1 215.1 L77.0 218.0 L80.7 220.4 L84.1 222.6 L87.6 224.8 L91.0 227.0 L94.5 229.1 L98.1 231.4 L101.7 233.6 L105.3 235.7 L108.9 237.8 L112.5 239.8 L116.1 241.7 L119.6 243.6 L123.0 245.4 L126.4 247.1 L129.8 248.8 L133.1 250.5 L136.5 252.1 L140.0 253.8 L143.6 255.6 L147.2 257.3 L150.7 259.0 L154.2 260.6 L156.0 261.4 L157.7 262.2 L159.9 257.1 L158.3 256.4 L156.5 255.6 L153.1 254.0 L149.5 252.3 L146.0 250.6 L142.4 248.8 L139.0 247.1 L135.6 245.4 L132.3 243.8 L129.0 242.1 L125.6 240.3 L122.2 238.6 L118.8 236.7 L115.3 234.8 L111.7 232.8 L108.2 230.8 L104.7 228.7 L101.1 226.5 L97.6 224.2 L94.1 222.0 L90.6 219.8 L87.1 217.7 L83.6 215.6 L80.0 213.4 L76.6 210.8 L73.4 207.9 L70.4 204.7 L67.7 201.1 L65.3 197.6 L62.8 194.2 L60.4 191.0 L58.0 187.9Z" fill="#2a3468"/>
<g stroke="#c8c8c8" stroke-width="0.5" opacity="0.32"><line x1="0.0" y1="21.0" x2="153.5" y2="87.0"/><line x1="0.0" y1="97.0" x2="153.5" y2="158.0"/><line x1="0.0" y1="174.0" x2="153.5" y2="231.0"/><line x1="96.0" y1="-0.5" x2="153.5" y2="22.0"/><line x1="0.0" y1="79.5" x2="33.7" y2="-0.5"/><line x1="0.0" y1="224.5" x2="110.2" y2="-0.5"/><line x1="74.2" y1="253.0" x2="153.5" y2="94.0"/><line x1="147.5" y1="253.0" x2="153.5" y2="241.0"/></g>
<path d="M135.5 11.4 C133.3 17.1 131.6 17.5 129.1 28.4 C126.6 39.4 126.9 32.2 128.0 44.3 C129.1 56.3 128.0 52.6 132.5 64.6 C137.0 76.7 134.0 71.3 141.6 80.5 C149.1 89.7 150.6 88.3 155.1 92.2" fill="none" stroke="#ff7f50" stroke-width="1.2" stroke-linejoin="round"/>
<path d="M-2.0 192.0 C-1.2 193.3 -1.1 193.5 0.4 196.0 C1.9 198.5 0.2 196.5 2.6 199.6 C5.0 202.7 3.6 201.8 7.6 205.4 C11.6 209.0 9.0 207.8 14.7 210.4 C20.4 213.0 18.6 212.0 24.8 213.2 C31.0 214.4 29.1 214.0 33.4 213.9 C37.7 213.8 35.6 214.7 37.6 212.8 C39.6 210.9 39.6 212.6 39.4 208.2 C39.2 203.8 38.9 205.8 36.9 199.6 C34.9 193.4 35.8 196.3 33.4 189.6 C31.0 182.9 31.5 185.8 29.8 179.6 C28.1 173.4 29.3 176.2 28.3 171.0 C27.3 165.8 27.6 170.7 26.8 163.9 C26.0 157.1 25.7 157.2 25.9 150.5 C26.1 143.8 26.0 145.9 27.4 143.7 C28.8 141.5 29.0 142.6 30.2 144.0 C31.5 145.5 30.5 145.4 31.1 148.2 C31.7 150.9 31.4 149.6 32.0 152.4 C32.6 155.2 32.3 153.8 32.9 156.6 C33.6 159.4 33.3 158.0 33.9 160.8 C34.6 163.6 34.2 162.3 35.0 165.1 C35.8 167.9 35.4 166.6 36.2 169.3 C37.1 172.0 36.6 170.6 37.6 173.1 C38.5 175.7 38.0 174.4 39.1 177.0 C40.1 179.6 39.6 178.4 40.8 180.9 C42.0 183.3 41.4 182.1 42.7 184.4 C43.9 186.8 43.2 185.5 44.7 187.9 C46.1 190.3 45.5 189.3 47.1 191.5 C48.7 193.8 48.0 192.6 49.4 194.7 C50.9 196.8 50.1 195.7 51.6 197.7 C53.0 199.8 52.3 198.8 53.8 201.0 C55.3 203.1 54.5 201.9 56.1 204.1 C57.8 206.4 56.7 205.2 58.6 207.8 C60.5 210.4 59.5 209.2 61.8 211.9 C64.1 214.6 62.9 213.3 65.5 215.9 C68.1 218.4 66.7 217.2 69.5 219.5 C72.3 221.7 71.1 220.8 73.8 222.7 C76.6 224.6 75.4 223.6 77.9 225.1 C80.4 226.6 79.0 225.8 81.3 227.2 C83.6 228.6 82.5 227.9 84.8 229.3 C87.1 230.7 85.9 230.0 88.2 231.5 C90.5 232.9 89.4 232.2 91.7 233.6 C94.0 235.1 92.8 234.4 95.3 235.9 C97.7 237.4 96.5 236.7 98.9 238.2 C101.4 239.6 100.2 238.9 102.6 240.4 C105.1 241.8 103.8 241.1 106.3 242.5 C108.7 243.9 107.5 243.2 109.9 244.5 C112.4 245.9 111.2 245.2 113.6 246.5 C115.9 247.8 114.8 247.1 117.1 248.4 C119.4 249.6 118.3 249.0 120.5 250.2 C122.8 251.4 121.7 250.8 124.0 251.9 C126.2 253.1 125.1 252.5 127.3 253.7 C129.6 254.8 128.4 254.2 130.7 255.3 C133.0 256.5 131.8 255.9 134.1 257.0 C136.4 258.2 135.2 257.6 137.6 258.7 C140.0 259.9 138.8 259.3 141.2 260.5 C143.6 261.7 142.4 261.1 144.8 262.2 C147.2 263.4 146.0 262.8 148.4 263.9 C150.8 265.0 150.1 264.7 151.9 265.6 C153.6 266.4 152.5 265.8 153.7 266.4 C154.9 266.9 154.8 266.9 155.4 267.2" fill="none" stroke="#ff7f50" stroke-width="1.2" stroke-linejoin="round"/>
<path d="M49.5 39.5 L48.1 42.4 L46.9 45.4 L46.0 48.1 L45.4 51.0 L44.8 54.1 L44.2 57.8 L43.6 61.4 L43.2 64.7 L42.9 67.8 L42.7 70.7 L42.7 73.0 L43.0 75.2 L43.6 77.7 L44.5 80.3 L45.9 83.2 L47.8 86.8 L50.0 91.3 L52.2 96.5 L54.0 102.1 L55.1 107.3 L55.8 112.0 L56.4 116.1 L57.0 119.7 L57.5 123.1 L58.1 126.2 L58.9 129.5 L59.8 133.1 L60.7 136.8 L61.7 140.8 L62.7 144.8 L63.7 148.6 L64.8 152.3 L65.5 155.5 L66.3 158.3 L67.2 161.0 L68.1 163.5 L69.0 165.7 L70.1 168.0 L71.3 170.2 L72.5 172.3 L74.4 174.9 L76.8 178.3 L79.2 181.8 L82.0 185.6 L84.5 189.0 L86.3 191.3 L88.1 193.0 L89.9 194.5 L91.7 195.8 L94.6 197.4 L98.2 199.5 L101.8 201.7 L105.4 203.8 L109.0 206.0 L112.5 208.1 L115.8 210.1 L119.2 212.0 L122.5 213.8 L125.8 215.6 L129.1 217.3 L132.5 219.0 L135.8 220.7 L139.1 222.2 L142.3 223.8 L145.5 225.3 L148.9 226.8 L152.3 228.4 L155.8 230.0 L159.3 231.6 L162.8 233.1 L166.2 234.7" fill="none" stroke="#3f6fa3" stroke-width="0.6"/><path d="M58.8 111.6 L59.4 115.7 L59.9 119.3 L60.5 122.6 L61.1 125.6 L61.8 128.9 L62.7 132.4 L63.6 136.1 L64.6 140.1 L65.6 144.1 L66.6 147.9 L67.7 151.5 L68.4 154.6 L69.1 157.2 L69.9 159.8 L70.8 162.3 L71.6 164.3 L72.7 166.5 L73.8 168.6 L74.9 170.5 L76.8 173.0 L79.2 176.5 L81.6 180.0 L84.5 183.8 L86.9 187.2 L88.6 189.3 L90.2 190.9 L91.8 192.2 L93.4 193.3 L96.1 194.9 L99.7 197.0 L103.4 199.1 L107.0 201.3 L110.6 203.5 L114.1 205.6 L117.4 207.5 L120.7 209.4 L124.0 211.2 L127.2 212.9 L130.5 214.7 L133.9 216.4 L137.2 218.0 L140.4 219.6 L143.6 221.1 L146.8 222.6 L150.2 224.1 L153.7 225.7 L157.1 227.3 L160.6 228.9 L164.1 230.4 L167.5 232.0" fill="none" stroke="#3f6fa3" stroke-width="0.5"/><g fill="none" stroke="#000" stroke-width="0.5" stroke-linejoin="round"><path d="M66.5 1.3 L67.4 4.5 L70.1 8.1 L72.4 9.0 L75.3 7.6 L78.7 8.1 L82.1 6.7 L85.9 4.9 L86.9 8.6 L86.2 13.1 L86.2 7.7 L86.8 11.2 L85.6 14.7 L84.4 19.4 L83.9 24.1 L83.3 28.7 L82.1 33.4 L80.9 36.9 L79.2 41.6 L78.0 45.1 L75.7 48.6 L74.5 51.0 L73.0 52.7 L71.5 56.1 L69.2 60.6 L67.4 65.1 L66.9 67.4 L69.7 69.7 L70.8 74.2 L71.9 79.8 L71.0 84.4 L71.5 90.0 L70.1 95.7 L69.7 101.3 L68.7 107.0 L67.4 112.6 L69.7 116.0 L72.4 119.4 L74.2 122.8 L77.6 125.8 L81.4 126.7 L84.4 125.1 L85.0 126.2 L85.6 121.5 L84.4 116.8 L85.0 112.1 L87.4 107.5 L89.7 101.6 L89.1 95.8 L86.2 89.9 L83.3 84.1 L78.6 79.4 L77.4 74.7 L79.8 68.9 L79.2 63.0 L76.3 62.7 L76.8 58.0 L80.3 53.3 L83.9 49.8 L87.4 45.7 L90.3 41.6 L92.0 38.7 L95.0 37.9 L97.9 38.7 L99.3 40.4 L97.3 42.2 L96.1 44.5 L97.9 46.3 L100.8 47.5 L103.2 49.8 L104.9 52.7 L105.8 55.6 L105.1 58.0 L106.1 60.3 L104.9 63.0 L108.4 66.5 L113.1 71.2 L114.9 73.5 L111.9 75.3 L109.0 81.7 L113.1 81.1 L118.9 80.0 L120.7 75.9 L122.5 79.4 L126.0 74.7 L129.5 76.5 L135.3 77.0 L141.2 75.9 L145.8 72.4 L149.4 67.7 L151.7 61.8 L152.9 61.5 L152.6 55.6 L152.3 49.8 L151.1 43.9 L149.4 39.3 L147.0 34.6 L145.3 29.9 L144.7 25.2 L143.5 20.6 L144.7 17.0 L149.4 13.0 L154.5 11.2"/><path d="M39.9 71.2 L40.4 75.9 L42.2 80.6 L44.5 86.4 L46.3 93.4 L47.5 99.3 L49.2 103.9 L51.0 109.8 L51.0 115.6 L52.1 120.3 L53.0 127.7 L54.7 140.6 L57.6 152.2 L61.7 162.8 L66.4 171.0 L71.1 175.6 L72.0 178.0 L72.5 177.5 L76.4 173.5 L78.1 169.8 L81.0 163.9 L78.5 157.5 L76.9 153.5 L77.5 148.7 L76.9 140.6 L74.6 131.2 L72.3 119.5 L69.7 115.6 L66.2 111.5 L63.2 107.5 L60.3 102.8 L58.6 98.1 L56.8 92.2 L55.1 86.4 L52.7 82.3 L48.6 78.2 L43.9 74.1 L39.9 71.2"/><path d="M81.5 149.9 L85.6 148.7 L88.5 151.1 L88.0 154.6 L89.7 158.1 L87.4 159.9 L85.0 156.9 L83.3 154.6 L81.5 153.4 L81.5 149.9"/><path d="M98.5 163.4 L98.2 164.7 L97.2 165.7 L95.9 166.0 L94.6 165.7 L93.6 164.7 L93.3 163.4 L93.6 162.1 L94.6 161.1 L95.9 160.8 L97.2 161.1 L98.2 162.1 L98.5 163.4"/><path d="M154.5 135.3 L149.4 137.6 L144.7 138.8 L140.0 138.2 L135.3 137.0 L133.6 138.2 L131.8 141.1 L128.9 144.6 L126.0 142.3 L122.5 140.0 L120.1 137.0 L117.2 137.6 L114.3 140.0 L112.2 144.1 L112.5 147.6 L110.8 151.1 L111.7 154.6 L113.1 157.5 L112.2 161.6 L111.7 166.3 L110.8 169.8 L114.3 172.1 L118.4 174.5 L120.7 178.0 L124.8 179.1 L128.3 178.0 L130.6 180.3 L134.2 183.2 L137.7 185.6 L136.9 190.0 L146.5 190.0 L149.0 191.9 L147.1 193.8 L149.0 188.7 L152.9 184.9 L155.0 182.3"/><path d="M72.5 179.5 L76.5 180.5 L80.5 185.5 L86.5 189.5 L92.5 194.5 L99.5 198.5 L106.5 202.5 L113.5 206.5 L120.5 210.5 L126.5 213.5 L132.5 216.5 L125.5 216.5 L118.5 213.5 L111.5 210.5 L104.5 206.5 L97.5 202.5 L90.5 198.5 L83.5 193.5 L77.5 188.5 L73.5 183.5 L72.5 179.5"/><path d="M130.6 219.2 L130.0 219.6 L129.0 219.6 L127.9 219.1 L126.9 218.4 L126.4 217.6 L126.4 216.8 L127.0 216.4 L128.0 216.4 L129.1 216.9 L130.1 217.6 L130.6 218.4 L130.6 219.2"/><path d="M138.6 223.9 L137.9 224.4 L136.9 224.4 L135.6 223.9 L134.6 223.1 L134.0 222.2 L134.0 221.5 L134.7 221.0 L135.7 221.0 L137.0 221.5 L138.0 222.3 L138.6 223.2 L138.6 223.9"/><path d="M147.8 227.3 L147.1 227.7 L145.8 227.6 L144.3 227.0 L143.0 226.1 L142.2 225.1 L142.2 224.3 L142.9 223.9 L144.2 224.0 L145.7 224.6 L147.0 225.5 L147.8 226.5 L147.8 227.3"/><path d="M154.4 230.4 L153.9 230.7 L153.0 230.7 L151.9 230.4 L151.0 229.7 L150.5 228.9 L150.6 228.2 L151.1 227.9 L152.0 227.9 L153.1 228.2 L154.0 228.9 L154.5 229.7 L154.4 230.4"/><path d="M37.6 95.4 L37.3 95.4 L36.8 94.9 L36.4 94.3 L36.1 93.5 L36.0 92.9 L36.2 92.6 L36.5 92.6 L37.0 93.1 L37.4 93.7 L37.7 94.5 L37.8 95.1 L37.6 95.4"/><path d="M41.6 111.0 L41.0 110.8 L40.4 110.0 L39.9 108.7 L39.8 107.4 L40.0 106.4 L40.4 106.0 L41.0 106.2 L41.6 107.0 L42.1 108.3 L42.2 109.6 L42.0 110.6 L41.6 111.0"/><path d="M43.4 120.6 L43.0 120.5 L42.6 120.0 L42.2 119.3 L42.0 118.5 L42.0 117.9 L42.2 117.6 L42.6 117.7 L43.0 118.2 L43.4 118.9 L43.6 119.7 L43.6 120.3 L43.4 120.6"/><path d="M43.5 130.6 L43.1 130.5 L42.7 129.9 L42.4 129.1 L42.3 128.2 L42.3 127.5 L42.5 127.2 L42.9 127.3 L43.3 127.9 L43.6 128.7 L43.7 129.6 L43.7 130.3 L43.5 130.6"/><path d="M47.2 142.6 L46.8 142.4 L46.4 141.7 L45.9 140.7 L45.7 139.6 L45.6 138.8 L45.8 138.4 L46.2 138.6 L46.6 139.3 L47.1 140.3 L47.3 141.4 L47.4 142.2 L47.2 142.6"/><path d="M48.0 16.8 L47.9 17.7 L47.0 19.7 L45.6 22.3 L44.0 24.9 L42.7 26.7 L42.0 27.2 L42.1 26.3 L43.0 24.3 L44.4 21.7 L46.0 19.1 L47.3 17.3 L48.0 16.8"/><path d="M37.5 33.8 L37.3 33.9 L36.9 33.7 L36.6 33.3 L36.4 32.8 L36.3 32.4 L36.5 32.2 L36.7 32.1 L37.1 32.3 L37.4 32.7 L37.6 33.2 L37.7 33.6 L37.5 33.8"/><path d="M35.6 43.1 L35.4 43.1 L35.1 43.0 L34.9 42.7 L34.7 42.4 L34.7 42.1 L34.8 41.9 L35.0 41.9 L35.3 42.0 L35.5 42.3 L35.7 42.6 L35.7 42.9 L35.6 43.1"/><path d="M36.1 52.3 L35.8 52.2 L35.5 51.8 L35.2 51.1 L35.1 50.4 L35.1 49.9 L35.3 49.7 L35.6 49.8 L35.9 50.2 L36.2 50.9 L36.3 51.6 L36.3 52.1 L36.1 52.3"/><path d="M35.5 60.8 L35.2 60.6 L34.8 60.0 L34.6 59.1 L34.5 58.2 L34.6 57.5 L34.9 57.2 L35.2 57.4 L35.6 58.0 L35.8 58.9 L35.9 59.8 L35.8 60.5 L35.5 60.8"/><path d="M118.5 120.3 L118.3 121.1 L117.8 121.7 L117.2 121.9 L116.5 121.7 L116.1 121.1 L115.9 120.3 L116.1 119.5 L116.5 118.9 L117.2 118.7 L117.8 118.9 L118.3 119.5 L118.5 120.3"/><path d="M74.0 123.6 L73.5 123.6 L73.0 123.4 L72.4 122.8 L72.0 122.1 L71.8 121.5 L72.0 121.0 L72.5 121.0 L73.0 121.2 L73.6 121.8 L74.0 122.5 L74.2 123.1 L74.0 123.6"/><path d="M75.7 126.3 L75.3 126.4 L74.7 126.2 L74.1 125.7 L73.7 125.0 L73.6 124.4 L73.9 123.9 L74.3 123.8 L74.9 124.0 L75.5 124.5 L75.9 125.2 L76.0 125.8 L75.7 126.3"/><path d="M77.7 128.8 L77.3 128.9 L76.7 128.8 L76.1 128.4 L75.7 127.8 L75.6 127.2 L75.7 126.8 L76.1 126.7 L76.7 126.8 L77.3 127.2 L77.7 127.8 L77.8 128.4 L77.7 128.8"/><path d="M85.4 128.3 L85.1 128.7 L84.4 129.0 L83.4 129.0 L82.5 128.8 L81.8 128.4 L81.6 127.9 L81.9 127.5 L82.6 127.2 L83.6 127.2 L84.5 127.4 L85.2 127.8 L85.4 128.3"/><path d="M83.2 137.2 L82.8 137.6 L82.2 137.7 L81.5 137.5 L80.9 137.0 L80.7 136.4 L80.8 135.8 L81.2 135.4 L81.8 135.3 L82.5 135.5 L83.1 136.0 L83.3 136.6 L83.2 137.2"/><path d="M70.3 115.7 L69.9 115.8 L69.6 115.7 L69.2 115.4 L69.0 115.0 L69.0 114.6 L69.1 114.3 L69.5 114.2 L69.8 114.3 L70.2 114.6 L70.4 115.0 L70.4 115.4 L70.3 115.7"/><path d="M76.8 35.2 L77.0 35.4 L77.0 35.7 L76.9 36.2 L76.7 36.6 L76.4 36.8 L76.2 36.8 L76.0 36.6 L76.0 36.3 L76.1 35.8 L76.3 35.4 L76.6 35.2 L76.8 35.2"/><path d="M78.3 38.1 L78.4 38.2 L78.5 38.6 L78.4 38.9 L78.2 39.3 L77.9 39.5 L77.7 39.5 L77.6 39.4 L77.5 39.0 L77.6 38.7 L77.8 38.3 L78.1 38.1 L78.3 38.1"/><path d="M76.0 40.3 L76.2 40.5 L76.2 40.8 L76.1 41.3 L75.9 41.7 L75.6 41.9 L75.4 41.9 L75.2 41.7 L75.2 41.4 L75.3 40.9 L75.5 40.5 L75.8 40.3 L76.0 40.3"/><path d="M77.4 43.0 L77.5 43.2 L77.5 43.5 L77.5 43.8 L77.3 44.2 L77.1 44.3 L76.8 44.4 L76.7 44.2 L76.7 43.9 L76.7 43.6 L76.9 43.2 L77.1 43.1 L77.4 43.0"/><path d="M79.4 33.1 L79.5 33.3 L79.5 33.6 L79.5 33.9 L79.3 34.3 L79.1 34.4 L78.8 34.5 L78.7 34.3 L78.7 34.0 L78.7 33.7 L78.9 33.3 L79.1 33.2 L79.4 33.1"/><path d="M75.1 45.3 L75.2 45.5 L75.2 45.8 L75.2 46.1 L75.0 46.5 L74.8 46.6 L74.5 46.7 L74.4 46.5 L74.4 46.2 L74.4 45.9 L74.6 45.5 L74.8 45.4 L75.1 45.3"/><path d="M81.3 131.2 L81.1 131.4 L80.8 131.5 L80.4 131.5 L80.0 131.3 L79.8 131.0 L79.7 130.8 L79.9 130.6 L80.2 130.5 L80.6 130.5 L81.0 130.7 L81.2 131.0 L81.3 131.2"/><path d="M80.6 120.5 L80.5 120.8 L80.3 120.9 L80.0 121.0 L79.7 120.9 L79.5 120.8 L79.4 120.5 L79.5 120.2 L79.7 120.1 L80.0 120.0 L80.3 120.1 L80.5 120.2 L80.6 120.5"/></g><g fill="#111"><circle cx="120.7" cy="85.8" r="0.5"/><circle cx="98.5" cy="120.3" r="0.5"/><circle cx="102.5" cy="120.3" r="0.5"/><circle cx="105.8" cy="157.7" r="0.5"/><circle cx="118.7" cy="128.9" r="0.5"/><circle cx="52.5" cy="163.3" r="0.5"/><circle cx="60.0" cy="116.5" r="0.5"/><circle cx="87.5" cy="117.5" r="0.5"/></g><path d="M70.2 137.6 L69.7 142.9 L71.7 149.9 L75.2 156.9 L77.5 162.8 L79.3 168.6 L84.0 175.6 L91.0 182.7 L97.9 186.5 L103.7 191.2 L113.1 195.9 L123.6 201.7 L133.0 207.5 L142.3 213.4 L154.5 219.8" fill="none" stroke="#21a585" stroke-width="1.1"/><path d="M91.0 173.9 L95.7 179.1 L101.5 183.8 L105.9 186.6 L119.4 194.5 L131.9 201.3 L134.5 202.5" fill="none" stroke="#cde11d" stroke-width="1.2"/><path d="M150.0 213.8 L154.5 216.0" fill="none" stroke="#cde11d" stroke-width="1.2"/><path d="M66.8 15.6 L60.3 18.8 L54.5 22.9 L49.8 27.6 L46.3 33.4 L43.4 40.4 L41.6 48.6 L40.4 58.0 L39.9 66.2 L39.9 70.0 L41.6 77.0 L45.1 85.2 L48.0 93.4 L49.8 100.4 L50.6 108.6 L51.5 118.0 L52.7 126.2 L54.1 128.9 L57.1 139.4 L60.6 149.9 L64.1 159.3 L67.6 166.3" fill="none" stroke="#54309a" stroke-width="1.2"/><path d="M72.3 174.5 L78.0 186.5 L87.4 195.9 L97.9 204.0 L109.6 212.2 L121.3 218.1 L135.3 223.9 L154.5 231.5" fill="none" stroke="#54309a" stroke-width="1.2"/><text x="0" y="0" font-size="8.2" fill="#3f6fa3" transform="translate(48.6 53.5) rotate(-82)" text-anchor="middle">200</text><text x="0" y="0" font-size="7.5" fill="#3f6fa3" transform="translate(108.3 202.6) rotate(28)" text-anchor="middle">200</text><text x="0" y="0" font-size="6.5" fill="#54309a" transform="translate(66.8 170.3) rotate(60)" text-anchor="middle">00</text><text x="0" y="0" font-size="8.8" fill="#cde11d" transform="translate(86.2 171.2) rotate(52)" text-anchor="middle">600</text><text x="0" y="0" font-size="8.8" fill="#cde11d" transform="translate(145 214.6) rotate(32)" text-anchor="middle">600</text><path d="M69.5 -5.0 L68.0 -3.5 L65.2 -0.7 L62.6 1.9 L59.7 4.2 L56.2 6.6 L52.3 8.7 L48.6 10.7 L45.4 12.7 L42.5 15.0 L40.2 17.7 L38.1 20.5 L36.4 23.5 L34.4 26.8 L32.2 30.5 L30.2 34.6 L28.4 38.7 L27.2 42.8 L26.2 46.9 L25.6 50.8 L25.1 54.5 L24.5 58.2 L23.8 62.2 L23.2 66.5 L22.9 70.6 L23.2 74.9 L23.8 79.4 L25.0 83.9 L26.7 88.1 L28.8 92.0 L31.1 95.8 L33.0 99.3 L34.6 102.8 L35.5 106.5 L36.2 110.4 L36.7 114.5 L37.1 118.6 L37.6 122.5 L38.2 126.3 L38.8 129.9 L39.6 133.6 L40.5 137.4 L41.4 141.3 L42.4 145.3 L43.4 149.5 L44.4 153.8 L45.5 157.8 L46.6 161.6 L47.7 165.1 L49.0 168.5 L50.5 171.7 L52.0 174.9 L53.7 177.9 L55.5 180.7 L57.5 183.5 L59.7 186.3 L62.2 189.2 L64.9 192.5 L67.4 196.0 L69.8 199.7 L72.1 203.3 L74.9 206.5 L78.0 209.1 L81.5 211.2 L85.0 213.3 L88.5 215.4 L92.0 217.5 L95.5 219.7 L99.0 221.9 L102.6 224.2 L106.1 226.4 L109.6 228.5 L113.1 230.5 L116.6 232.4 L120.1 234.2 L123.6 236.1 L127.0 237.9 L130.3 239.6 L133.5 241.2 L136.8 242.8 L140.1 244.5 L143.6 246.2 L147.2 247.9 L150.9 249.7 L154.4 251.3 L157.8 252.9 L161.2 254.4 L162.8 255.2" fill="none" stroke="#a862d4" stroke-width="1.7" stroke-linejoin="round"/><g fill="none" stroke="#a862d4" stroke-width="1.1"><rect x="0.3" y="-2.6" width="5.2" height="5.2" transform="translate(40.4 17.8) rotate(40.3)"/><rect x="0.3" y="-2.6" width="5.2" height="5.2" transform="translate(23.2 70.7) rotate(-0.0)"/><rect x="0.3" y="-2.6" width="5.2" height="5.2" transform="translate(37.7 122.4) rotate(-8.0)"/><rect x="0.3" y="-2.6" width="5.2" height="5.2" transform="translate(55.6 180.7) rotate(-33.6)"/><rect x="0.3" y="-2.6" width="5.2" height="5.2" transform="translate(95.5 219.7) rotate(-58.1)"/><rect x="0.3" y="-2.6" width="5.2" height="5.2" transform="translate(136.9 242.8) rotate(-63.8)"/></g>
</g>
<rect x="0" y="0" width="153.5" height="253.0" fill="none" stroke="#8a8a8a" stroke-width="1"/>
<rect x="2.2" y="1.5" width="9.5" height="12" rx="1.6" fill="#fff" stroke="#444" stroke-width="0.55"/>
<text x="7" y="10.6" font-size="8.6" text-anchor="middle" fill="#111">e</text>
<rect x="109.9" y="1.3" width="40.5" height="12" rx="1.6" fill="#fff" stroke="#555" stroke-width="0.6"/>
<text x="130.3" y="10.5" font-size="8.8" text-anchor="middle" fill="#d62728">Model3b</text>
</g>
<g transform="translate(348.3 259.0)"><g clip-path="url(#pc)">
<path d="M-2.0 -2.0 L155.5 -2.0 L155.5 255.0 L-2.0 255.0Z" fill="#d0dce5"/>
<path d="M85.8 -2.1 C75.1 -0.4 80.8 5.2 77.9 8.1 C75.0 10.9 67.5 16.3 64.3 19.4 C61.2 22.4 56.1 27.7 54.1 30.7 C52.2 33.7 50.3 38.7 49.6 42.0 C48.9 45.3 48.2 53.5 48.9 55.6 C49.7 57.6 52.9 55.9 55.3 57.4 C57.6 58.9 63.6 63.5 66.6 66.9 C69.6 70.3 74.9 78.2 77.9 82.7 C80.9 87.3 86.2 96.6 89.2 100.8 C92.2 105.1 96.9 110.9 100.5 114.4 C104.2 117.9 112.9 125.0 116.4 127.1 C119.8 129.2 123.5 129.0 126.6 130.0 C129.6 130.9 135.2 133.2 139.0 134.1 C142.8 134.9 152.2 154.9 154.8 136.3 C157.4 117.8 167.7 13.5 158.5 -5.0 C149.3 -23.5 96.6 -3.9 85.8 -2.1Z" fill="#d6e6db"/>
<path d="M154.8 11.4 C152.7 0.4 143.5 14.5 139.0 17.1 C134.5 19.7 124.8 26.8 120.9 30.7 C117.0 34.6 111.4 42.3 109.6 46.5 C107.8 50.7 106.4 58.1 107.3 62.4 C108.2 66.6 113.4 74.6 116.4 78.2 C119.4 81.8 126.3 87.1 130.0 89.5 C133.6 91.9 140.2 94.9 143.5 96.3 C146.8 97.7 153.3 111.0 154.8 99.7 C156.4 88.4 157.0 22.5 154.8 11.4Z" fill="#b6d5b9"/>
<path d="M47.4 66.9 C48.0 63.3 52.7 72.3 55.3 73.7 C57.8 75.0 63.7 74.4 66.6 77.1 C69.5 79.8 74.2 89.4 76.8 94.0 C79.3 98.7 84.3 107.7 85.8 112.1 C87.3 116.6 87.9 125.4 88.1 127.1 C88.3 128.8 87.4 122.3 87.4 125.0 C87.4 127.7 88.4 143.7 88.1 147.6 C87.7 151.6 86.4 154.4 84.7 154.4 C83.0 154.4 77.8 149.7 75.6 147.6 C73.5 145.5 71.6 141.5 68.9 138.6 C66.1 135.7 57.7 130.8 55.3 125.7 C52.9 120.7 51.8 108.7 50.7 100.8 C49.7 93.0 46.8 70.5 47.4 66.9Z" fill="#adc0d7"/>
<path d="M-115.8 -187.3 L-117.2 -186.0 L-110.4 -192.5 L-103.5 -198.4 L-93.9 -205.9 L-84.1 -212.6 L-82.0 -214.0 L-91.4 -208.2 L-110.3 -195.1 L-134.5 -174.8 L-157.9 -150.3 L-174.4 -129.0 L-184.4 -113.8 L-192.6 -99.9 L-199.5 -87.0 L-207.1 -71.1 L-215.2 -51.2 L-222.5 -29.0 L-227.4 -9.6 L-230.1 3.8 L-231.3 11.2 L-232.7 19.4 L-234.3 31.6 L-235.9 47.7 L-236.8 70.7 L-235.1 102.4 L-229.7 135.5 L-221.8 164.5 L-211.5 191.6 L-202.8 209.9 L-199.8 215.5 L-203.5 207.8 L-210.6 190.4 L-217.1 168.7 L-220.3 153.7 L-221.1 148.5 L-220.8 150.8 L-219.8 158.4 L-218.4 168.1 L-216.3 179.8 L-214.4 189.0 L-212.9 195.4 L-211.5 201.4 L-210.4 206.1 L-209.1 211.6 L-207.2 219.2 L-205.0 227.2 L-201.6 239.0 L-196.3 254.4 L-191.3 267.4 L-185.4 280.9 L-177.0 297.7 L-169.5 311.0 L-161.0 324.4 L-149.6 340.5 L-143.8 347.9 L-143.5 348.3 L-142.9 349.1 L-144.0 347.6 L-140.4 352.7 L-126.6 370.4 L-107.5 391.1 L-86.1 410.3 L-62.8 427.5 L-49.3 435.9 L-46.8 437.5 L-44.3 439.0 L-41.7 440.6 L-39.2 442.2 L-34.7 445.0 L-28.1 449.0 L-21.5 452.9 L-14.9 456.7 L-8.1 460.5 L-2.3 463.7 L2.6 466.2 L7.4 468.7 L12.3 471.2 L17.5 473.8 L22.1 476.1 L26.0 478.1 L30.0 480.0 L34.6 482.2 L39.5 484.6 L44.3 486.8 L48.4 488.7 L51.4 490.1 L54.5 491.5 L165.3 245.3 L163.7 244.6 L162.0 243.8 L158.6 242.2 L155.1 240.6 L151.6 238.9 L148.1 237.2 L144.6 235.5 L141.3 233.9 L138.0 232.3 L134.8 230.6 L131.5 229.0 L128.2 227.2 L124.8 225.4 L121.4 223.6 L118.0 221.7 L114.6 219.8 L111.2 217.7 L107.8 215.7 L104.4 213.5 L100.8 211.3 L97.3 209.1 L93.7 206.9 L90.2 204.7 L87.0 202.9 L84.5 201.0 L82.2 198.9 L80.0 196.6 L77.9 193.8 L75.5 190.3 L72.8 186.7 L70.3 183.3 L67.8 180.2 L65.6 177.5 L63.9 175.1 L62.4 172.6 L60.9 170.1 L59.6 167.5 L58.4 164.6 L57.2 161.6 L56.1 158.5 L55.1 154.9 L54.1 151.1 L53.1 147.2 L52.1 143.1 L51.2 139.1 L50.3 135.2 L49.5 131.6 L48.7 128.0 L48.1 124.6 L47.6 121.0 L47.1 117.3 L46.6 113.2 L46.0 108.9 L45.1 104.3 L43.6 99.5 L41.8 95.1 L39.8 91.0 L37.8 87.4 L36.1 83.9 L34.8 80.6 L33.9 77.2 L33.4 74.0 L33.2 70.7 L33.4 67.1 L33.8 63.6 L34.2 60.0 L34.9 56.2 L35.5 52.4 L36.2 48.9 L37.0 45.6 L38.2 42.2 L39.6 38.7 L41.2 35.3 L43.0 32.0 L44.7 29.0 L46.5 26.4 L48.0 24.3 L49.7 22.5 L51.6 20.9 L54.3 19.1 L57.6 17.1 L61.4 14.9 L65.1 12.3 L68.8 9.4 L72.1 6.5 L73.7 4.9 L75.1 3.6Z" fill="#89a6c4"/>
<path d="M55.3 -2.1 L74.5 -2.1 L71.6 5.8 L60.3 8.1Z" fill="#6389b0"/>
<path d="M-2.4 47.7 C-0.5 36.8 8.8 45.8 12.3 46.5 C15.7 47.3 22.0 50.6 23.6 53.3 C25.2 56.0 23.7 62.1 24.0 66.9 C24.3 71.7 25.2 83.5 25.9 89.5 C26.5 95.6 28.3 107.0 29.2 112.1 C30.2 117.3 36.9 125.9 32.6 128.0 C28.4 130.1 2.2 138.7 -2.4 128.0 C-7.1 117.3 -4.4 58.5 -2.4 47.7Z" fill="#adc0d7"/>
<path d="M-2.4 73.7 C-0.8 67.9 7.5 82.0 10.0 85.0 C12.6 88.0 14.5 93.3 16.8 96.3 C19.2 99.3 25.9 103.4 27.7 107.6 C29.5 111.8 34.4 125.3 30.4 128.0 C26.4 130.7 1.9 135.2 -2.4 128.0 C-6.8 120.7 -4.1 79.4 -2.4 73.7Z" fill="#d0dce5"/>
<path d="M-2.4 105.4 C-0.7 86.2 5.6 111.8 7.8 114.4 C9.9 117.0 11.7 122.7 13.4 125.0 C15.1 127.3 18.4 131.0 20.2 131.8 C22.0 132.5 25.6 131.2 27.0 130.7 C28.3 130.1 29.8 127.4 30.3 127.5 C30.9 127.6 30.8 130.4 31.0 131.5 C31.2 132.5 31.7 134.3 31.9 135.4 C32.1 136.4 32.3 138.2 32.5 139.3 C32.7 140.4 33.0 142.3 33.2 143.3 C33.4 144.4 33.7 146.4 33.9 147.5 C34.1 148.6 34.5 150.6 34.7 151.7 C34.9 152.9 35.3 154.8 35.5 156.0 C35.7 157.1 36.1 159.0 36.3 160.2 C36.6 161.3 37.1 163.2 37.4 164.3 C37.7 165.4 38.2 167.4 38.6 168.4 C38.9 169.5 39.5 171.2 39.9 172.2 C40.3 173.2 40.9 174.9 41.3 175.9 C41.7 176.9 42.5 178.7 43.0 179.7 C43.5 180.6 44.3 182.2 44.8 183.1 C45.3 184.1 46.2 185.6 46.7 186.6 C47.3 187.5 48.4 189.2 49.0 190.1 C49.6 191.0 50.7 192.4 51.3 193.2 C51.9 194.1 52.9 195.5 53.4 196.3 C54.0 197.2 55.0 198.7 55.6 199.6 C56.2 200.5 57.3 201.9 57.9 202.9 C58.5 203.8 59.6 205.5 60.3 206.6 C61.0 207.6 62.4 209.6 63.3 210.7 C64.2 211.7 65.8 213.6 66.8 214.6 C67.7 215.6 69.5 217.3 70.6 218.2 C71.6 219.1 73.7 220.6 74.7 221.3 C75.8 222.1 77.7 223.2 78.6 223.8 C79.6 224.5 81.1 225.4 82.1 226.0 C83.0 226.6 84.5 227.6 85.5 228.2 C86.4 228.8 88.0 229.8 88.9 230.4 C89.8 231.0 91.4 232.0 92.4 232.6 C93.3 233.2 95.0 234.2 95.9 234.8 C96.9 235.4 98.6 236.5 99.6 237.1 C100.5 237.7 102.2 238.7 103.2 239.3 C104.2 239.9 105.9 240.9 106.9 241.4 C107.8 242.0 109.6 242.9 110.5 243.5 C111.5 244.0 113.2 244.9 114.1 245.4 C115.1 246.0 116.7 246.8 117.6 247.3 C118.6 247.8 120.2 248.7 121.1 249.2 C122.0 249.6 123.6 250.5 124.5 250.9 C125.4 251.4 126.9 252.2 127.8 252.7 C128.7 253.1 130.3 253.9 131.2 254.4 C132.1 254.8 133.7 255.6 134.6 256.1 C135.5 256.5 137.1 257.3 138.1 257.8 C139.0 258.3 140.7 259.1 141.6 259.6 C142.6 260.0 144.3 260.9 145.3 261.3 C146.2 261.8 147.9 262.6 148.8 263.0 C149.8 263.5 151.6 264.3 152.3 264.6 C153.0 265.0 153.6 265.3 154.1 265.5 C154.6 265.7 155.2 267.3 155.8 266.3 C156.4 265.3 179.9 259.1 158.5 258.0 C137.1 256.9 16.5 278.4 -5.0 258.0 C-26.5 237.6 -4.1 124.5 -2.4 105.4Z" fill="#d6e6db"/>
<path d="M-2.4 218.9 C-0.5 213.0 9.4 214.5 12.3 211.0 C15.1 207.5 17.7 197.1 19.1 192.9 C20.4 188.7 21.4 180.8 22.5 179.3 C23.5 177.8 25.6 179.8 27.0 181.6 C28.3 183.4 31.1 189.3 32.6 192.9 C34.2 196.5 37.8 205.7 38.3 208.7 C38.8 211.7 38.0 213.4 36.0 215.5 C34.1 217.6 25.9 222.2 23.6 224.6 C21.3 227.0 19.8 229.5 19.1 233.6 C18.3 237.7 20.8 252.3 17.9 255.1 C15.1 258.0 0.3 259.9 -2.4 255.1 C-5.1 250.3 -4.4 224.8 -2.4 218.9Z" fill="#d0dce5"/>
<path d="M71.5 0.0 L70.2 1.4 L68.8 2.8 L65.6 5.6 L62.2 8.2 L58.7 10.6 L55.0 12.8 L51.6 14.9 L48.6 16.9 L46.3 18.9 L44.2 21.0 L42.4 23.5 L40.5 26.3 L38.6 29.5 L36.8 33.0 L35.0 36.6 L33.5 40.4 L32.2 44.2 L31.3 47.9 L30.6 51.5 L30.0 55.4 L29.3 59.2 L28.8 63.0 L28.4 66.8 L28.2 70.7 L28.4 74.5 L29.0 78.3 L30.1 82.2 L31.5 85.9 L33.3 89.6 L35.3 93.3 L37.3 97.2 L38.9 101.2 L40.2 105.5 L41.0 109.7 L41.6 113.8 L42.1 117.9 L42.6 121.7 L43.2 125.4 L43.8 129.0 L44.6 132.6 L45.4 136.3 L46.3 140.2 L47.3 144.3 L48.3 148.4 L49.3 152.4 L50.3 156.3 L51.4 159.9 L52.5 163.3 L53.8 166.5 L55.1 169.6 L56.5 172.4 L58.1 175.2 L59.8 177.9 L61.6 180.5 L63.9 183.3 L66.3 186.4 L68.8 189.7 L71.4 193.2 L73.8 196.7 L76.2 199.8 L78.7 202.5 L81.4 204.9 L84.3 207.0 L87.6 209.0 L91.1 211.2 L94.6 213.3 L98.2 215.5 L101.7 217.7 L105.2 219.9 L108.7 222.0 L112.1 224.1 L115.6 226.1 L119.0 228.0 L122.5 229.8 L125.9 231.6 L129.2 233.4 L132.5 235.1 L135.8 236.7 L139.1 238.3 L142.4 240.0 L145.9 241.7 L149.4 243.4 L153.0 245.1 L156.4 246.7 L159.9 248.3 L161.6 249.1 L163.2 249.8 L172.3 229.7 L170.8 229.0 L169.2 228.3 L165.8 226.7 L162.4 225.2 L158.9 223.7 L155.4 222.1 L151.9 220.6 L148.5 219.1 L145.3 217.6 L142.2 216.2 L138.9 214.7 L135.6 213.1 L132.2 211.5 L128.9 209.9 L125.6 208.2 L122.4 206.5 L119.1 204.7 L115.8 202.9 L112.3 200.8 L108.6 198.7 L104.9 196.6 L101.4 194.3 L97.8 192.1 L95.3 190.5 L94.0 189.4 L92.8 188.2 L91.7 186.8 L90.3 184.7 L88.1 181.3 L85.2 177.3 L82.8 173.6 L80.4 170.2 L78.6 167.7 L77.6 166.0 L76.7 164.1 L75.4 162.3 L74.4 160.6 L73.2 158.5 L72.1 156.1 L71.1 153.8 L70.1 150.8 L69.1 147.2 L68.2 143.5 L67.3 139.5 L66.3 135.5 L65.5 131.8 L64.7 128.2 L63.9 125.1 L63.2 122.1 L62.5 118.9 L61.8 115.4 L61.1 111.3 L60.3 106.4 L59.2 100.8 L57.4 94.6 L55.1 89.0 L53.4 84.0 L52.1 80.1 L51.6 77.2 L51.6 75.1 L50.5 73.6 L49.7 72.3 L49.0 70.7 L48.5 68.2 L47.8 65.2 L47.2 61.9 L46.8 58.2 L46.4 54.4 L46.8 51.3 L47.2 48.5 L47.9 45.7 L48.8 42.8 L50.1 39.8 L51.6 36.8 L53.0 34.2 L54.4 31.9 L55.4 30.5 L55.8 29.1 L56.6 27.6 L58.5 25.6 L61.3 23.2 L65.2 20.9 L69.5 18.2 L73.6 15.2 L77.3 12.1 L79.1 10.3 L80.4 8.9Z" fill="#adc0d7"/>
<path d="M71.5 0.0 L70.2 1.4 L68.8 2.8 L65.6 5.6 L62.2 8.2 L58.7 10.6 L55.0 12.8 L51.6 14.9 L48.6 16.9 L46.3 18.9 L44.2 21.0 L42.4 23.5 L40.5 26.3 L38.6 29.5 L36.8 33.0 L35.0 36.6 L33.5 40.4 L32.2 44.2 L31.3 47.9 L30.6 51.5 L30.0 55.4 L29.3 59.2 L28.8 63.0 L28.4 66.8 L28.2 70.7 L28.4 74.5 L29.0 78.3 L30.1 82.2 L31.5 85.9 L33.3 89.6 L35.3 93.3 L37.3 97.2 L38.9 101.2 L40.2 105.5 L41.0 109.7 L41.6 113.8 L42.1 117.9 L42.6 121.7 L43.2 125.4 L43.8 129.0 L44.6 132.6 L45.4 136.3 L46.3 140.2 L47.3 144.3 L48.3 148.4 L49.3 152.4 L50.3 156.3 L51.4 159.9 L52.5 163.3 L53.8 166.5 L55.1 169.6 L56.5 172.4 L58.1 175.2 L59.8 177.9 L61.6 180.5 L63.9 183.3 L66.3 186.4 L68.8 189.7 L71.4 193.2 L73.8 196.7 L76.2 199.8 L78.7 202.5 L81.4 204.9 L84.3 207.0 L87.6 209.0 L91.1 211.2 L94.6 213.3 L98.2 215.5 L101.7 217.7 L105.2 219.9 L108.7 222.0 L112.1 224.1 L115.6 226.1 L119.0 228.0 L122.5 229.8 L125.9 231.6 L129.2 233.4 L132.5 235.1 L135.8 236.7 L139.1 238.3 L142.4 240.0 L145.9 241.7 L149.4 243.4 L153.0 245.1 L156.4 246.7 L159.9 248.3 L161.6 249.1 L163.2 249.8 L171.5 231.3 L170.0 230.6 L168.4 229.9 L165.0 228.3 L161.6 226.8 L158.1 225.3 L154.6 223.8 L151.1 222.2 L147.7 220.7 L144.5 219.2 L141.4 217.8 L138.1 216.3 L134.8 214.7 L131.4 213.1 L128.0 211.4 L124.8 209.8 L121.5 208.1 L118.2 206.3 L114.8 204.4 L111.3 202.4 L107.6 200.3 L104.0 198.2 L100.4 195.9 L96.9 193.6 L94.3 192.0 L92.9 190.8 L91.6 189.5 L90.3 187.9 L88.8 185.8 L86.6 182.3 L83.8 178.4 L81.4 174.7 L79.0 171.3 L77.2 168.8 L76.1 167.0 L75.1 165.1 L73.8 163.1 L72.7 161.4 L71.6 159.1 L70.4 156.8 L69.4 154.3 L68.3 151.3 L67.4 147.7 L66.5 143.9 L65.5 139.9 L64.6 135.9 L63.7 132.2 L62.9 128.6 L62.1 125.4 L61.4 122.4 L60.7 119.2 L60.0 115.6 L59.3 111.5 L58.6 106.7 L57.5 101.2 L55.7 95.2 L53.4 89.8 L51.8 84.8 L50.5 80.9 L49.9 77.9 L49.8 75.7 L48.8 74.0 L47.9 72.5 L47.2 70.7 L46.7 68.1 L46.1 65.0 L45.5 61.7 L45.1 57.9 L44.7 54.1 L45.0 50.9 L45.5 48.0 L46.2 45.1 L47.2 42.0 L48.5 39.0 L50.0 35.9 L51.5 33.2 L52.9 30.9 L54.0 29.3 L54.6 27.8 L55.6 26.2 L57.5 24.1 L60.4 21.6 L64.3 19.4 L68.4 16.8 L72.4 13.8 L76.1 10.8 L77.8 9.0 L79.2 7.7Z" fill="#89a6c4"/>
<path d="M68.0 -3.5 L66.7 -2.2 L65.4 -0.9 L62.4 1.7 L59.2 4.2 L56.0 6.4 L52.5 8.5 L48.9 10.7 L45.6 12.9 L42.8 15.2 L40.4 17.8 L38.3 20.6 L36.2 23.7 L34.2 27.1 L32.3 30.7 L30.4 34.6 L28.8 38.7 L27.4 42.8 L26.4 46.8 L25.7 50.6 L24.8 54.5 L24.0 58.4 L23.2 62.3 L22.6 66.4 L21.9 70.7 L21.6 75.2 L21.9 79.9 L22.7 84.6 L24.2 89.1 L26.1 93.3 L27.9 97.2 L29.5 100.7 L30.7 104.2 L31.5 107.6 L31.9 111.2 L32.2 115.1 L31.8 119.2 L31.5 123.3 L31.5 127.3 L31.6 131.4 L31.9 135.4 L32.4 139.3 L33.0 143.4 L33.7 147.5 L34.3 151.8 L35.1 156.1 L35.9 160.3 L36.9 164.5 L38.1 168.6 L39.4 172.4 L40.9 176.1 L42.6 179.9 L44.4 183.4 L46.3 186.8 L48.6 190.4 L50.9 193.5 L53.0 196.6 L55.2 199.9 L57.4 203.2 L59.7 207.0 L62.6 211.2 L66.1 215.3 L69.9 219.0 L74.1 222.3 L78.0 224.9 L81.3 227.2 L84.7 229.5 L88.1 231.7 L91.5 233.9 L95.1 236.2 L98.7 238.5 L102.4 240.7 L106.1 242.9 L109.7 245.0 L113.3 246.9 L116.8 248.9 L120.3 250.7 L123.7 252.5 L127.0 254.3 L130.4 256.0 L133.8 257.7 L137.2 259.5 L140.8 261.3 L144.4 263.1 L148.0 264.8 L151.5 266.5 L153.3 267.3 L155.0 268.1 L170.8 233.0 L169.3 232.3 L167.7 231.5 L164.3 230.0 L160.8 228.5 L157.3 226.9 L153.8 225.4 L150.3 223.8 L146.9 222.3 L143.7 220.8 L140.5 219.4 L137.3 217.8 L133.9 216.3 L130.5 214.7 L127.2 213.0 L123.9 211.3 L120.6 209.6 L117.2 207.8 L113.9 205.9 L110.4 203.9 L106.7 201.8 L103.0 199.7 L99.5 197.4 L95.9 195.1 L93.3 193.5 L91.8 192.2 L90.3 190.8 L88.9 189.1 L87.4 186.8 L85.1 183.4 L82.4 179.4 L79.9 175.8 L77.6 172.4 L75.7 169.8 L74.6 168.0 L73.6 166.0 L72.2 164.0 L71.1 162.1 L69.9 159.8 L68.7 157.4 L67.7 154.9 L66.6 151.8 L65.6 148.1 L64.7 144.4 L63.8 140.3 L62.8 136.3 L62.0 132.6 L61.2 129.0 L60.3 125.8 L59.6 122.7 L59.0 119.4 L58.2 115.9 L57.5 111.8 L56.8 107.0 L55.7 101.6 L54.0 95.8 L51.8 90.5 L50.2 85.6 L48.9 81.7 L48.3 78.7 L48.1 76.2 L47.0 74.3 L46.1 72.7 L45.4 70.7 L45.0 68.0 L44.3 64.8 L43.7 61.4 L43.3 57.6 L42.9 53.8 L43.3 50.5 L43.8 47.5 L44.5 44.5 L45.5 41.3 L46.9 38.1 L48.4 35.0 L50.0 32.2 L51.5 29.9 L52.6 28.1 L53.3 26.5 L54.5 24.7 L56.5 22.6 L59.4 20.1 L63.3 17.9 L67.4 15.3 L71.3 12.4 L74.9 9.4 L76.6 7.7 L77.9 6.4Z" fill="#6389b0"/>
<path d="M35.6 48.8 L33.2 52.0 L30.9 55.5 L30.0 59.3 L29.1 63.0 L28.4 66.8 L28.2 70.7 L28.4 74.5 L29.0 78.3 L30.1 82.2 L31.3 86.0 L32.9 89.9 L34.7 93.7 L36.3 97.6 L37.4 101.8 L38.0 106.0 L38.2 110.2 L38.2 114.3 L37.5 118.5 L36.9 122.5 L36.7 126.4 L36.7 130.4 L36.7 134.3 L37.1 138.2 L37.5 142.3 L38.0 146.5 L38.6 150.8 L39.1 155.0 L39.7 159.2 L40.6 163.3 L41.6 167.3 L42.7 171.0 L43.9 174.7 L45.4 178.4 L46.9 181.9 L48.7 185.2 L50.9 188.7 L53.1 191.8 L55.1 195.0 L57.2 198.4 L59.3 201.9 L61.5 205.7 L64.3 209.9 L67.5 213.9 L71.1 217.5 L75.1 220.9 L78.9 223.5 L82.2 225.8 L85.5 228.2 L88.9 230.4 L92.3 232.6 L95.9 234.9 L99.5 237.2 L103.2 239.4 L106.8 241.6 L110.4 243.6 L114.0 245.6 L117.5 247.5 L121.0 249.4 L124.3 251.2 L127.7 252.9 L131.0 254.7 L134.4 256.4 L137.9 258.2 L141.5 260.0 L145.1 261.7 L148.6 263.5 L152.1 265.1 L153.9 265.9 L155.6 266.7 L170.0 234.8 L168.4 234.1 L166.8 233.3 L163.4 231.8 L160.0 230.3 L156.5 228.7 L152.9 227.2 L149.5 225.6 L146.1 224.1 L142.8 222.6 L139.6 221.2 L136.4 219.6 L133.0 218.1 L129.6 216.4 L126.2 214.8 L122.9 213.1 L119.5 211.3 L116.2 209.5 L112.8 207.6 L109.3 205.6 L105.6 203.5 L102.0 201.4 L98.4 199.1 L94.9 196.9 L92.2 195.1 L90.5 193.7 L88.9 192.2 L87.4 190.4 L85.8 188.0 L83.5 184.5 L80.8 180.6 L78.4 177.1 L76.0 173.7 L74.1 171.1 L73.0 169.1 L71.9 167.0 L70.4 165.0 L69.2 163.0 L68.0 160.6 L66.7 158.1 L65.6 155.5 L64.5 152.3 L63.5 148.7 L62.5 144.9 L61.5 140.9 L60.5 136.9 L59.6 133.1 L58.7 129.5 L57.8 126.3 L57.0 123.1 L56.2 119.8 L55.4 116.2 L54.5 112.1 L53.7 107.6 L52.6 102.4 L50.8 97.0 L48.6 92.0 L47.6 87.0 L46.8 82.8 L46.6 79.4 L47.0 76.6 L45.9 74.6 L45.1 72.8 L44.5 70.7 L44.2 67.9 L43.2 64.7 L42.4 61.2 L41.8 57.4 L40.4 53.3 L39.0 49.6Z" fill="#426d9c"/>
<path d="M8.6 131.0 L9.4 135.7 L10.4 140.1 L11.3 144.1 L12.3 148.3 L13.2 152.4 L14.3 156.7 L15.4 161.2 L16.6 165.6 L18.0 170.4 L19.6 175.3 L21.4 179.8 L23.3 184.3 L25.7 189.0 L28.1 193.1 L30.6 197.2 L33.7 201.6 L36.4 205.0 L38.6 207.8 L40.8 210.7 L43.0 213.6 L45.5 217.3 L49.4 222.3 L54.1 227.4 L59.3 232.0 L64.9 236.2 L69.5 239.0 L72.9 241.0 L76.3 243.1 L79.7 245.2 L83.1 247.3 L86.7 249.6 L90.6 252.0 L94.5 254.3 L98.3 256.5 L102.2 258.7 L106.0 260.7 L109.6 262.6 L113.1 264.5 L116.7 266.3 L120.2 268.0 L123.6 269.8 L127.1 271.4 L130.6 273.2 L134.2 274.9 L138.0 276.7 L141.6 278.4 L145.2 280.1 L147.0 280.9 L148.9 281.8 L155.8 266.3 L154.1 265.5 L152.3 264.6 L148.8 263.0 L145.3 261.3 L141.6 259.6 L138.1 257.8 L134.6 256.1 L131.2 254.4 L127.8 252.7 L124.5 250.9 L121.1 249.2 L117.6 247.3 L114.1 245.4 L110.5 243.5 L106.9 241.4 L103.2 239.3 L99.6 237.1 L95.9 234.8 L92.4 232.6 L88.9 230.4 L85.5 228.2 L82.1 226.0 L78.6 223.8 L74.7 221.3 L70.6 218.2 L66.8 214.6 L63.3 210.7 L60.3 206.6 L57.9 202.9 L55.6 199.6 L53.4 196.3 L51.3 193.2 L49.0 190.1 L46.7 186.6 L44.8 183.1 L43.0 179.7 L41.3 175.9 L39.9 172.2 L38.6 168.4 L37.4 164.3 L36.3 160.2 L35.5 156.0 L34.7 151.7 L33.9 147.5 L33.2 143.3 L32.5 139.3 L31.9 135.4 L31.0 131.5 L30.3 127.5Z" fill="#d6e6db"/>
<path d="M29.9 135.8 L30.1 139.8 L30.4 144.0 L30.8 148.2 L31.3 152.6 L31.9 156.9 L32.5 161.2 L33.2 165.6 L34.2 170.0 L35.3 174.1 L36.5 178.2 L38.0 182.4 L39.7 186.2 L41.2 190.2 L43.3 194.4 L45.3 198.0 L46.6 201.6 L48.0 205.3 L49.3 209.1 L50.8 213.5 L53.4 218.9 L56.9 224.6 L61.2 229.7 L66.0 234.5 L70.0 238.1 L72.9 241.0 L75.8 244.0 L78.8 246.6 L81.9 249.2 L85.2 252.0 L88.8 254.9 L92.4 257.8 L96.1 260.5 L99.7 263.2 L103.3 265.8 L106.6 268.3 L109.9 270.7 L113.4 272.7 L116.8 274.8 L120.2 276.7 L123.5 278.6 L127.0 280.6 L130.6 282.6 L134.2 284.6 L137.8 286.6 L141.4 288.2 L143.3 289.1 L145.2 290.0 L155.8 266.3 L154.1 265.5 L152.3 264.6 L148.8 263.0 L145.3 261.3 L141.6 259.6 L138.1 257.8 L134.6 256.1 L131.2 254.4 L127.8 252.7 L124.5 250.9 L121.1 249.2 L117.6 247.3 L114.1 245.4 L110.5 243.5 L106.9 241.4 L103.2 239.3 L99.6 237.1 L95.9 234.8 L92.4 232.6 L88.9 230.4 L85.5 228.2 L82.1 226.0 L78.6 223.8 L74.7 221.3 L70.6 218.2 L66.8 214.6 L63.3 210.7 L60.3 206.6 L57.9 202.9 L55.6 199.6 L53.4 196.3 L51.3 193.2 L49.0 190.1 L46.7 186.6 L44.8 183.1 L43.0 179.7 L41.3 175.9 L39.9 172.2 L38.6 168.4 L37.4 164.3 L36.3 160.2 L35.5 156.0 L34.7 151.7 L33.9 147.5 L33.2 143.3 L32.5 139.3 L31.9 135.4Z" fill="#b6d5b9"/>
<path d="M39.0 172.6 L40.0 176.6 L41.2 180.6 L42.7 184.4 L44.2 188.2 L46.2 192.2 L48.2 195.7 L49.7 199.2 L51.2 202.9 L52.7 206.6 L54.4 210.8 L57.1 215.9 L60.4 221.0 L64.5 225.7 L69.0 230.0 L72.9 233.3 L75.9 236.1 L78.9 238.9 L82.0 241.5 L85.1 244.1 L88.4 246.9 L91.9 249.8 L95.5 252.6 L99.0 255.3 L102.6 258.0 L106.1 260.5 L109.4 263.0 L112.7 265.4 L116.1 267.4 L119.5 269.4 L122.8 271.3 L126.2 273.2 L129.6 275.2 L133.2 277.2 L136.8 279.2 L140.4 281.1 L143.9 282.8 L145.8 283.7 L147.6 284.5 L155.8 266.3 L154.1 265.5 L152.3 264.6 L148.8 263.0 L145.3 261.3 L141.6 259.6 L138.1 257.8 L134.6 256.1 L131.2 254.4 L127.8 252.7 L124.5 250.9 L121.1 249.2 L117.6 247.3 L114.1 245.4 L110.5 243.5 L106.9 241.4 L103.2 239.3 L99.6 237.1 L95.9 234.8 L92.4 232.6 L88.9 230.4 L85.5 228.2 L82.1 226.0 L78.6 223.8 L74.7 221.3 L70.6 218.2 L66.8 214.6 L63.3 210.7 L60.3 206.6 L57.9 202.9 L55.6 199.6 L53.4 196.3 L51.3 193.2 L49.0 190.1 L46.7 186.6 L44.8 183.1 L43.0 179.7 L41.3 175.9 L39.9 172.2Z" fill="#98c199"/>
<path d="M50.5 193.8 L52.0 197.4 L53.6 201.1 L55.4 204.7 L57.3 208.8 L59.9 213.5 L63.2 218.2 L67.1 222.4 L71.4 226.3 L75.3 229.4 L78.4 232.0 L81.5 234.6 L84.6 237.2 L87.8 239.9 L91.1 242.7 L94.5 245.5 L98.0 248.3 L101.5 251.0 L105.0 253.6 L108.4 256.1 L111.7 258.5 L115.0 260.9 L118.4 262.9 L121.7 264.9 L125.1 266.8 L128.4 268.7 L131.8 270.7 L135.3 272.7 L138.9 274.7 L142.5 276.6 L146.0 278.3 L147.9 279.1 L149.7 279.9 L155.8 266.3 L154.1 265.5 L152.3 264.6 L148.8 263.0 L145.3 261.3 L141.6 259.6 L138.1 257.8 L134.6 256.1 L131.2 254.4 L127.8 252.7 L124.5 250.9 L121.1 249.2 L117.6 247.3 L114.1 245.4 L110.5 243.5 L106.9 241.4 L103.2 239.3 L99.6 237.1 L95.9 234.8 L92.4 232.6 L88.9 230.4 L85.5 228.2 L82.1 226.0 L78.6 223.8 L74.7 221.3 L70.6 218.2 L66.8 214.6 L63.3 210.7 L60.3 206.6 L57.9 202.9 L55.6 199.6 L53.4 196.3 L51.3 193.2Z" fill="#74ae78"/>
<path d="M66.1 215.3 C66.4 215.9 68.6 218.3 69.6 219.3 C70.6 220.4 72.6 222.1 73.6 223.0 C74.7 223.9 76.4 225.2 77.4 226.0 C78.3 226.7 79.7 227.9 80.5 228.6 C81.3 229.3 82.8 230.5 83.6 231.2 C84.5 231.9 86.0 233.1 86.8 233.8 C87.7 234.4 89.1 235.6 90.0 236.3 C90.9 237.0 92.4 238.3 93.3 239.0 C94.2 239.7 95.9 241.0 96.8 241.7 C97.7 242.4 99.3 243.7 100.3 244.4 C101.2 245.1 102.8 246.3 103.7 247.0 C104.7 247.6 106.3 248.8 107.2 249.5 C108.2 250.1 109.8 251.3 110.7 251.9 C111.6 252.5 113.1 253.6 114.0 254.2 C114.9 254.8 116.4 255.9 117.3 256.5 C118.2 257.0 119.8 257.9 120.7 258.4 C121.6 258.9 123.1 259.8 124.0 260.3 C124.9 260.8 126.4 261.7 127.3 262.2 C128.2 262.7 129.8 263.5 130.7 264.0 C131.6 264.5 133.2 265.4 134.1 265.9 C135.0 266.4 136.7 267.3 137.7 267.8 C138.6 268.4 140.3 269.3 141.3 269.8 C142.2 270.3 143.9 271.2 144.8 271.6 C145.7 272.1 147.6 272.9 148.3 273.3 C149.0 273.6 149.7 273.9 150.1 274.1 C150.6 274.3 151.2 276.0 151.9 274.9 C152.7 273.9 155.5 267.5 155.8 266.3 C156.1 265.0 154.6 265.7 154.1 265.5 C153.6 265.3 153.0 265.0 152.3 264.6 C151.6 264.3 149.8 263.5 148.8 263.0 C147.9 262.6 146.2 261.8 145.3 261.3 C144.3 260.9 142.6 260.0 141.6 259.6 C140.7 259.1 139.0 258.3 138.1 257.8 C137.1 257.3 135.5 256.5 134.6 256.1 C133.7 255.6 132.1 254.8 131.2 254.4 C130.3 253.9 128.7 253.1 127.8 252.7 C126.9 252.2 125.4 251.4 124.5 250.9 C123.6 250.5 122.0 249.6 121.1 249.2 C120.2 248.7 118.6 247.8 117.6 247.3 C116.7 246.8 115.1 246.0 114.1 245.4 C113.2 244.9 111.5 244.0 110.5 243.5 C109.6 242.9 107.8 242.0 106.9 241.4 C105.9 240.9 104.2 239.9 103.2 239.3 C102.2 238.7 100.5 237.7 99.6 237.1 C98.6 236.5 96.9 235.4 95.9 234.8 C95.0 234.2 93.3 233.2 92.4 232.6 C91.4 232.0 89.8 231.0 88.9 230.4 C88.0 229.8 86.4 228.8 85.5 228.2 C84.5 227.6 83.0 226.6 82.1 226.0 C81.1 225.4 79.6 224.5 78.6 223.8 C77.7 223.2 75.8 222.1 74.7 221.3 C73.7 220.6 71.6 219.1 70.6 218.2 C69.5 217.3 67.4 215.0 66.8 214.6 C66.2 214.2 65.7 214.7 66.1 215.3Z" fill="#569858"/>
<path d="M45.1 117.5 L43.6 121.6 L42.8 125.4 L42.5 129.3 L42.6 133.0 L42.8 136.9 L43.0 141.0 L43.1 145.3 L43.2 149.6 L43.4 153.9 L43.6 158.2 L44.2 162.2 L45.0 166.1 L45.9 169.7 L46.9 173.3 L48.1 176.9 L49.5 180.3 L51.2 183.6 L53.1 187.0 L55.2 190.1 L57.2 193.4 L59.2 196.9 L60.9 200.7 L62.7 204.8 L65.0 209.2 L67.8 213.5 L71.4 217.2 L75.3 220.4 L79.1 223.1 L82.4 225.4 L85.7 227.8 L89.2 230.0 L92.6 232.2 L96.1 234.5 L99.8 236.8 L103.4 239.0 L107.0 241.1 L110.7 243.2 L114.3 245.2 L117.8 247.1 L121.2 248.9 L124.6 250.7 L128.0 252.4 L131.3 254.0 L134.7 255.7 L138.2 257.4 L141.8 259.2 L145.5 260.9 L149.0 262.6 L152.5 264.2 L154.3 265.0 L156.0 265.8 L168.6 238.0 L167.0 237.3 L165.3 236.5 L161.9 234.9 L158.5 233.4 L154.9 231.9 L151.4 230.3 L147.9 228.8 L144.5 227.2 L141.3 225.8 L138.0 224.3 L134.7 222.7 L131.4 221.1 L128.0 219.5 L124.5 217.8 L121.2 216.1 L117.8 214.4 L114.4 212.5 L111.0 210.6 L107.4 208.6 L103.8 206.5 L100.1 204.4 L96.6 202.1 L93.1 199.9 L90.2 198.2 L88.2 196.6 L86.3 194.8 L84.5 192.8 L82.6 190.3 L80.3 186.8 L77.6 183.0 L75.3 179.4 L73.1 176.0 L71.2 173.3 L70.0 171.1 L68.8 168.8 L67.4 166.6 L66.1 164.5 L64.8 161.9 L63.5 159.3 L62.3 156.5 L61.2 153.3 L60.0 149.6 L58.9 145.8 L57.8 141.8 L56.6 137.8 L55.5 134.0 L54.3 130.5 L53.3 127.2 L51.8 124.0 L49.8 120.7 L47.1 117.3Z" fill="#2c4f84"/>
<path d="M54.6 185.8 L56.4 189.2 L58.0 192.8 L59.6 196.6 L61.8 200.1 L63.9 203.9 L66.5 207.9 L69.6 211.7 L73.1 215.1 L77.0 218.0 L80.7 220.4 L84.1 222.6 L87.6 224.8 L91.0 227.0 L94.5 229.1 L98.1 231.4 L101.7 233.6 L105.3 235.7 L108.9 237.8 L112.5 239.8 L116.1 241.7 L119.6 243.6 L123.0 245.4 L126.4 247.1 L129.8 248.8 L133.1 250.5 L136.5 252.1 L140.0 253.8 L143.6 255.6 L147.2 257.3 L150.7 259.0 L154.2 260.6 L156.0 261.4 L157.7 262.2 L159.9 257.1 L158.3 256.4 L156.5 255.6 L153.1 254.0 L149.5 252.3 L146.0 250.6 L142.4 248.8 L139.0 247.1 L135.6 245.4 L132.3 243.8 L129.0 242.1 L125.6 240.3 L122.2 238.6 L118.8 236.7 L115.3 234.8 L111.7 232.8 L108.2 230.8 L104.7 228.7 L101.1 226.5 L97.6 224.2 L94.1 222.0 L90.6 219.8 L87.1 217.7 L83.6 215.6 L80.0 213.4 L76.6 210.8 L73.4 207.9 L70.4 204.7 L67.7 201.1 L65.3 197.6 L62.8 194.2 L60.4 191.0 L58.0 187.9 L55.7 185.0Z" fill="#2a3468"/>
<g stroke="#c8c8c8" stroke-width="0.5" opacity="0.32"><line x1="0.0" y1="21.0" x2="153.5" y2="87.0"/><line x1="0.0" y1="97.0" x2="153.5" y2="158.0"/><line x1="0.0" y1="174.0" x2="153.5" y2="231.0"/><line x1="96.0" y1="-0.5" x2="153.5" y2="22.0"/><line x1="0.0" y1="79.5" x2="33.7" y2="-0.5"/><line x1="0.0" y1="224.5" x2="110.2" y2="-0.5"/><line x1="74.2" y1="253.0" x2="153.5" y2="94.0"/><line x1="147.5" y1="253.0" x2="153.5" y2="241.0"/></g>
<path d="M85.8 -2.1 C83.2 1.3 85.1 0.9 77.9 8.1 C70.7 15.2 72.2 11.8 64.3 19.4 C56.4 26.9 59.0 23.1 54.1 30.7 C49.2 38.2 51.4 33.7 49.6 42.0 C47.9 50.3 47.1 50.4 48.9 55.6 C50.8 60.7 49.4 53.6 55.3 57.4 C61.2 61.2 59.0 58.4 66.6 66.9 C74.1 75.3 70.4 71.4 77.9 82.7 C85.4 94.0 81.7 90.3 89.2 100.8 C96.8 111.4 91.5 105.7 100.5 114.4 C109.6 123.2 107.7 121.9 116.4 127.1 C125.0 132.3 119.0 127.7 126.6 130.0 C134.1 132.3 129.6 131.9 139.0 134.1 C148.4 136.2 149.6 135.6 154.8 136.3" fill="none" stroke="#ff7f50" stroke-width="1.2" stroke-linejoin="round"/>
<path d="M-2.4 218.9 C2.5 216.3 5.1 219.7 12.3 211.0 C19.4 202.3 15.7 203.4 19.1 192.9 C22.5 182.3 19.8 183.1 22.5 179.3 C25.1 175.5 23.6 177.0 27.0 181.6 C30.4 186.1 28.9 183.8 32.6 192.9 C36.4 201.9 37.2 201.2 38.3 208.7 C39.4 216.3 40.9 210.2 36.0 215.5 C31.1 220.8 29.2 218.5 23.6 224.6 C17.9 230.6 21.0 223.4 19.1 233.6 C17.2 243.8 25.1 248.0 17.9 255.1 C10.8 262.3 4.4 255.1 -2.4 255.1" fill="none" stroke="#ff7f50" stroke-width="1.2" stroke-linejoin="round"/>
<path d="M-2.4 105.4 C1.0 108.4 2.5 107.9 7.8 114.4 C13.0 121.0 9.3 119.2 13.4 125.0 C17.6 130.8 15.7 129.9 20.2 131.8 C24.7 133.7 23.6 132.1 27.0 130.7 C30.4 129.2 29.0 127.2 30.3 127.5 C31.7 127.8 30.5 128.9 31.0 131.5 C31.6 134.1 31.4 132.8 31.9 135.4 C32.3 138.0 32.0 136.6 32.5 139.3 C32.9 142.0 32.7 140.6 33.2 143.3 C33.6 146.1 33.4 144.7 33.9 147.5 C34.4 150.3 34.1 148.9 34.7 151.7 C35.2 154.6 34.9 153.2 35.5 156.0 C36.0 158.8 35.7 157.4 36.3 160.2 C37.0 162.9 36.6 161.6 37.4 164.3 C38.1 167.1 37.7 165.8 38.6 168.4 C39.4 171.0 39.0 169.7 39.9 172.2 C40.8 174.7 40.3 173.4 41.3 175.9 C42.4 178.4 41.8 177.3 43.0 179.7 C44.2 182.1 43.6 180.8 44.8 183.1 C46.0 185.4 45.3 184.2 46.7 186.6 C48.1 188.9 47.5 187.8 49.0 190.1 C50.5 192.3 49.9 191.1 51.3 193.2 C52.8 195.3 52.0 194.2 53.4 196.3 C54.9 198.4 54.1 197.4 55.6 199.6 C57.1 201.8 56.3 200.5 57.9 202.9 C59.5 205.2 58.5 204.0 60.3 206.6 C62.1 209.2 61.1 208.0 63.3 210.7 C65.4 213.3 64.3 212.1 66.8 214.6 C69.2 217.1 67.9 215.9 70.6 218.2 C73.2 220.4 72.0 219.5 74.7 221.3 C77.4 223.2 76.2 222.3 78.6 223.8 C81.1 225.4 79.8 224.6 82.1 226.0 C84.3 227.5 83.2 226.8 85.5 228.2 C87.7 229.7 86.6 228.9 88.9 230.4 C91.2 231.8 90.0 231.1 92.4 232.6 C94.7 234.1 93.5 233.3 95.9 234.8 C98.3 236.4 97.1 235.6 99.6 237.1 C102.0 238.6 100.8 237.9 103.2 239.3 C105.7 240.7 104.4 240.0 106.9 241.4 C109.3 242.8 108.1 242.1 110.5 243.5 C112.9 244.8 111.8 244.2 114.1 245.4 C116.5 246.7 115.3 246.1 117.6 247.3 C119.9 248.6 118.8 248.0 121.1 249.2 C123.4 250.4 122.2 249.8 124.5 250.9 C126.7 252.1 125.6 251.5 127.8 252.7 C130.1 253.8 128.9 253.2 131.2 254.4 C133.4 255.5 132.3 254.9 134.6 256.1 C136.9 257.2 135.7 256.6 138.1 257.8 C140.4 259.0 139.2 258.4 141.6 259.6 C144.0 260.7 142.9 260.2 145.3 261.3 C147.7 262.5 146.5 261.9 148.8 263.0 C151.2 264.1 150.5 263.8 152.3 264.6 C154.1 265.5 152.9 264.9 154.1 265.5 C155.3 266.0 155.3 266.0 155.8 266.3" fill="none" stroke="#ff7f50" stroke-width="1.2" stroke-linejoin="round"/>
<path d="M49.5 39.5 L48.1 42.4 L46.9 45.4 L46.0 48.1 L45.4 51.0 L44.8 54.1 L44.2 57.8 L43.6 61.4 L43.2 64.7 L42.9 67.8 L42.7 70.7 L42.7 73.0 L43.0 75.2 L43.6 77.7 L44.5 80.3 L45.9 83.2 L47.8 86.8 L50.0 91.3 L52.2 96.5 L54.0 102.1 L55.1 107.3 L55.8 112.0 L56.4 116.1 L57.0 119.7 L57.5 123.1 L58.1 126.2 L58.9 129.5 L59.8 133.1 L60.7 136.8 L61.7 140.8 L62.7 144.8 L63.7 148.6 L64.8 152.3 L65.5 155.5 L66.3 158.3 L67.2 161.0 L68.1 163.5 L69.0 165.7 L70.1 168.0 L71.3 170.2 L72.5 172.3 L74.4 174.9 L76.8 178.3 L79.2 181.8 L82.0 185.6 L84.5 189.0 L86.3 191.3 L88.1 193.0 L89.9 194.5 L91.7 195.8 L94.6 197.4 L98.2 199.5 L101.8 201.7 L105.4 203.8 L109.0 206.0 L112.5 208.1 L115.8 210.1 L119.2 212.0 L122.5 213.8 L125.8 215.6 L129.1 217.3 L132.5 219.0 L135.8 220.7 L139.1 222.2 L142.3 223.8 L145.5 225.3 L148.9 226.8 L152.3 228.4 L155.8 230.0 L159.3 231.6 L162.8 233.1 L166.2 234.7" fill="none" stroke="#3f6fa3" stroke-width="0.6"/><path d="M58.8 111.6 L59.4 115.7 L59.9 119.3 L60.5 122.6 L61.1 125.6 L61.8 128.9 L62.7 132.4 L63.6 136.1 L64.6 140.1 L65.6 144.1 L66.6 147.9 L67.7 151.5 L68.4 154.6 L69.1 157.2 L69.9 159.8 L70.8 162.3 L71.6 164.3 L72.7 166.5 L73.8 168.6 L74.9 170.5 L76.8 173.0 L79.2 176.5 L81.6 180.0 L84.5 183.8 L86.9 187.2 L88.6 189.3 L90.2 190.9 L91.8 192.2 L93.4 193.3 L96.1 194.9 L99.7 197.0 L103.4 199.1 L107.0 201.3 L110.6 203.5 L114.1 205.6 L117.4 207.5 L120.7 209.4 L124.0 211.2 L127.2 212.9 L130.5 214.7 L133.9 216.4 L137.2 218.0 L140.4 219.6 L143.6 221.1 L146.8 222.6 L150.2 224.1 L153.7 225.7 L157.1 227.3 L160.6 228.9 L164.1 230.4 L167.5 232.0" fill="none" stroke="#3f6fa3" stroke-width="0.5"/><g fill="none" stroke="#000" stroke-width="0.5" stroke-linejoin="round"><path d="M66.5 1.3 L67.4 4.5 L70.1 8.1 L72.4 9.0 L75.3 7.6 L78.7 8.1 L82.1 6.7 L85.9 4.9 L86.9 8.6 L86.2 13.1 L86.2 7.7 L86.8 11.2 L85.6 14.7 L84.4 19.4 L83.9 24.1 L83.3 28.7 L82.1 33.4 L80.9 36.9 L79.2 41.6 L78.0 45.1 L75.7 48.6 L74.5 51.0 L73.0 52.7 L71.5 56.1 L69.2 60.6 L67.4 65.1 L66.9 67.4 L69.7 69.7 L70.8 74.2 L71.9 79.8 L71.0 84.4 L71.5 90.0 L70.1 95.7 L69.7 101.3 L68.7 107.0 L67.4 112.6 L69.7 116.0 L72.4 119.4 L74.2 122.8 L77.6 125.8 L81.4 126.7 L84.4 125.1 L85.0 126.2 L85.6 121.5 L84.4 116.8 L85.0 112.1 L87.4 107.5 L89.7 101.6 L89.1 95.8 L86.2 89.9 L83.3 84.1 L78.6 79.4 L77.4 74.7 L79.8 68.9 L79.2 63.0 L76.3 62.7 L76.8 58.0 L80.3 53.3 L83.9 49.8 L87.4 45.7 L90.3 41.6 L92.0 38.7 L95.0 37.9 L97.9 38.7 L99.3 40.4 L97.3 42.2 L96.1 44.5 L97.9 46.3 L100.8 47.5 L103.2 49.8 L104.9 52.7 L105.8 55.6 L105.1 58.0 L106.1 60.3 L104.9 63.0 L108.4 66.5 L113.1 71.2 L114.9 73.5 L111.9 75.3 L109.0 81.7 L113.1 81.1 L118.9 80.0 L120.7 75.9 L122.5 79.4 L126.0 74.7 L129.5 76.5 L135.3 77.0 L141.2 75.9 L145.8 72.4 L149.4 67.7 L151.7 61.8 L152.9 61.5 L152.6 55.6 L152.3 49.8 L151.1 43.9 L149.4 39.3 L147.0 34.6 L145.3 29.9 L144.7 25.2 L143.5 20.6 L144.7 17.0 L149.4 13.0 L154.5 11.2"/><path d="M39.9 71.2 L40.4 75.9 L42.2 80.6 L44.5 86.4 L46.3 93.4 L47.5 99.3 L49.2 103.9 L51.0 109.8 L51.0 115.6 L52.1 120.3 L53.0 127.7 L54.7 140.6 L57.6 152.2 L61.7 162.8 L66.4 171.0 L71.1 175.6 L72.0 178.0 L72.5 177.5 L76.4 173.5 L78.1 169.8 L81.0 163.9 L78.5 157.5 L76.9 153.5 L77.5 148.7 L76.9 140.6 L74.6 131.2 L72.3 119.5 L69.7 115.6 L66.2 111.5 L63.2 107.5 L60.3 102.8 L58.6 98.1 L56.8 92.2 L55.1 86.4 L52.7 82.3 L48.6 78.2 L43.9 74.1 L39.9 71.2"/><path d="M81.5 149.9 L85.6 148.7 L88.5 151.1 L88.0 154.6 L89.7 158.1 L87.4 159.9 L85.0 156.9 L83.3 154.6 L81.5 153.4 L81.5 149.9"/><path d="M98.5 163.4 L98.2 164.7 L97.2 165.7 L95.9 166.0 L94.6 165.7 L93.6 164.7 L93.3 163.4 L93.6 162.1 L94.6 161.1 L95.9 160.8 L97.2 161.1 L98.2 162.1 L98.5 163.4"/><path d="M154.5 135.3 L149.4 137.6 L144.7 138.8 L140.0 138.2 L135.3 137.0 L133.6 138.2 L131.8 141.1 L128.9 144.6 L126.0 142.3 L122.5 140.0 L120.1 137.0 L117.2 137.6 L114.3 140.0 L112.2 144.1 L112.5 147.6 L110.8 151.1 L111.7 154.6 L113.1 157.5 L112.2 161.6 L111.7 166.3 L110.8 169.8 L114.3 172.1 L118.4 174.5 L120.7 178.0 L124.8 179.1 L128.3 178.0 L130.6 180.3 L134.2 183.2 L137.7 185.6 L136.9 190.0 L146.5 190.0 L149.0 191.9 L147.1 193.8 L149.0 188.7 L152.9 184.9 L155.0 182.3"/><path d="M72.5 179.5 L76.5 180.5 L80.5 185.5 L86.5 189.5 L92.5 194.5 L99.5 198.5 L106.5 202.5 L113.5 206.5 L120.5 210.5 L126.5 213.5 L132.5 216.5 L125.5 216.5 L118.5 213.5 L111.5 210.5 L104.5 206.5 L97.5 202.5 L90.5 198.5 L83.5 193.5 L77.5 188.5 L73.5 183.5 L72.5 179.5"/><path d="M130.6 219.2 L130.0 219.6 L129.0 219.6 L127.9 219.1 L126.9 218.4 L126.4 217.6 L126.4 216.8 L127.0 216.4 L128.0 216.4 L129.1 216.9 L130.1 217.6 L130.6 218.4 L130.6 219.2"/><path d="M138.6 223.9 L137.9 224.4 L136.9 224.4 L135.6 223.9 L134.6 223.1 L134.0 222.2 L134.0 221.5 L134.7 221.0 L135.7 221.0 L137.0 221.5 L138.0 222.3 L138.6 223.2 L138.6 223.9"/><path d="M147.8 227.3 L147.1 227.7 L145.8 227.6 L144.3 227.0 L143.0 226.1 L142.2 225.1 L142.2 224.3 L142.9 223.9 L144.2 224.0 L145.7 224.6 L147.0 225.5 L147.8 226.5 L147.8 227.3"/><path d="M154.4 230.4 L153.9 230.7 L153.0 230.7 L151.9 230.4 L151.0 229.7 L150.5 228.9 L150.6 228.2 L151.1 227.9 L152.0 227.9 L153.1 228.2 L154.0 228.9 L154.5 229.7 L154.4 230.4"/><path d="M37.6 95.4 L37.3 95.4 L36.8 94.9 L36.4 94.3 L36.1 93.5 L36.0 92.9 L36.2 92.6 L36.5 92.6 L37.0 93.1 L37.4 93.7 L37.7 94.5 L37.8 95.1 L37.6 95.4"/><path d="M41.6 111.0 L41.0 110.8 L40.4 110.0 L39.9 108.7 L39.8 107.4 L40.0 106.4 L40.4 106.0 L41.0 106.2 L41.6 107.0 L42.1 108.3 L42.2 109.6 L42.0 110.6 L41.6 111.0"/><path d="M43.4 120.6 L43.0 120.5 L42.6 120.0 L42.2 119.3 L42.0 118.5 L42.0 117.9 L42.2 117.6 L42.6 117.7 L43.0 118.2 L43.4 118.9 L43.6 119.7 L43.6 120.3 L43.4 120.6"/><path d="M43.5 130.6 L43.1 130.5 L42.7 129.9 L42.4 129.1 L42.3 128.2 L42.3 127.5 L42.5 127.2 L42.9 127.3 L43.3 127.9 L43.6 128.7 L43.7 129.6 L43.7 130.3 L43.5 130.6"/><path d="M47.2 142.6 L46.8 142.4 L46.4 141.7 L45.9 140.7 L45.7 139.6 L45.6 138.8 L45.8 138.4 L46.2 138.6 L46.6 139.3 L47.1 140.3 L47.3 141.4 L47.4 142.2 L47.2 142.6"/><path d="M48.0 16.8 L47.9 17.7 L47.0 19.7 L45.6 22.3 L44.0 24.9 L42.7 26.7 L42.0 27.2 L42.1 26.3 L43.0 24.3 L44.4 21.7 L46.0 19.1 L47.3 17.3 L48.0 16.8"/><path d="M37.5 33.8 L37.3 33.9 L36.9 33.7 L36.6 33.3 L36.4 32.8 L36.3 32.4 L36.5 32.2 L36.7 32.1 L37.1 32.3 L37.4 32.7 L37.6 33.2 L37.7 33.6 L37.5 33.8"/><path d="M35.6 43.1 L35.4 43.1 L35.1 43.0 L34.9 42.7 L34.7 42.4 L34.7 42.1 L34.8 41.9 L35.0 41.9 L35.3 42.0 L35.5 42.3 L35.7 42.6 L35.7 42.9 L35.6 43.1"/><path d="M36.1 52.3 L35.8 52.2 L35.5 51.8 L35.2 51.1 L35.1 50.4 L35.1 49.9 L35.3 49.7 L35.6 49.8 L35.9 50.2 L36.2 50.9 L36.3 51.6 L36.3 52.1 L36.1 52.3"/><path d="M35.5 60.8 L35.2 60.6 L34.8 60.0 L34.6 59.1 L34.5 58.2 L34.6 57.5 L34.9 57.2 L35.2 57.4 L35.6 58.0 L35.8 58.9 L35.9 59.8 L35.8 60.5 L35.5 60.8"/><path d="M118.5 120.3 L118.3 121.1 L117.8 121.7 L117.2 121.9 L116.5 121.7 L116.1 121.1 L115.9 120.3 L116.1 119.5 L116.5 118.9 L117.2 118.7 L117.8 118.9 L118.3 119.5 L118.5 120.3"/><path d="M74.0 123.6 L73.5 123.6 L73.0 123.4 L72.4 122.8 L72.0 122.1 L71.8 121.5 L72.0 121.0 L72.5 121.0 L73.0 121.2 L73.6 121.8 L74.0 122.5 L74.2 123.1 L74.0 123.6"/><path d="M75.7 126.3 L75.3 126.4 L74.7 126.2 L74.1 125.7 L73.7 125.0 L73.6 124.4 L73.9 123.9 L74.3 123.8 L74.9 124.0 L75.5 124.5 L75.9 125.2 L76.0 125.8 L75.7 126.3"/><path d="M77.7 128.8 L77.3 128.9 L76.7 128.8 L76.1 128.4 L75.7 127.8 L75.6 127.2 L75.7 126.8 L76.1 126.7 L76.7 126.8 L77.3 127.2 L77.7 127.8 L77.8 128.4 L77.7 128.8"/><path d="M85.4 128.3 L85.1 128.7 L84.4 129.0 L83.4 129.0 L82.5 128.8 L81.8 128.4 L81.6 127.9 L81.9 127.5 L82.6 127.2 L83.6 127.2 L84.5 127.4 L85.2 127.8 L85.4 128.3"/><path d="M83.2 137.2 L82.8 137.6 L82.2 137.7 L81.5 137.5 L80.9 137.0 L80.7 136.4 L80.8 135.8 L81.2 135.4 L81.8 135.3 L82.5 135.5 L83.1 136.0 L83.3 136.6 L83.2 137.2"/><path d="M70.3 115.7 L69.9 115.8 L69.6 115.7 L69.2 115.4 L69.0 115.0 L69.0 114.6 L69.1 114.3 L69.5 114.2 L69.8 114.3 L70.2 114.6 L70.4 115.0 L70.4 115.4 L70.3 115.7"/><path d="M76.8 35.2 L77.0 35.4 L77.0 35.7 L76.9 36.2 L76.7 36.6 L76.4 36.8 L76.2 36.8 L76.0 36.6 L76.0 36.3 L76.1 35.8 L76.3 35.4 L76.6 35.2 L76.8 35.2"/><path d="M78.3 38.1 L78.4 38.2 L78.5 38.6 L78.4 38.9 L78.2 39.3 L77.9 39.5 L77.7 39.5 L77.6 39.4 L77.5 39.0 L77.6 38.7 L77.8 38.3 L78.1 38.1 L78.3 38.1"/><path d="M76.0 40.3 L76.2 40.5 L76.2 40.8 L76.1 41.3 L75.9 41.7 L75.6 41.9 L75.4 41.9 L75.2 41.7 L75.2 41.4 L75.3 40.9 L75.5 40.5 L75.8 40.3 L76.0 40.3"/><path d="M77.4 43.0 L77.5 43.2 L77.5 43.5 L77.5 43.8 L77.3 44.2 L77.1 44.3 L76.8 44.4 L76.7 44.2 L76.7 43.9 L76.7 43.6 L76.9 43.2 L77.1 43.1 L77.4 43.0"/><path d="M79.4 33.1 L79.5 33.3 L79.5 33.6 L79.5 33.9 L79.3 34.3 L79.1 34.4 L78.8 34.5 L78.7 34.3 L78.7 34.0 L78.7 33.7 L78.9 33.3 L79.1 33.2 L79.4 33.1"/><path d="M75.1 45.3 L75.2 45.5 L75.2 45.8 L75.2 46.1 L75.0 46.5 L74.8 46.6 L74.5 46.7 L74.4 46.5 L74.4 46.2 L74.4 45.9 L74.6 45.5 L74.8 45.4 L75.1 45.3"/><path d="M81.3 131.2 L81.1 131.4 L80.8 131.5 L80.4 131.5 L80.0 131.3 L79.8 131.0 L79.7 130.8 L79.9 130.6 L80.2 130.5 L80.6 130.5 L81.0 130.7 L81.2 131.0 L81.3 131.2"/><path d="M80.6 120.5 L80.5 120.8 L80.3 120.9 L80.0 121.0 L79.7 120.9 L79.5 120.8 L79.4 120.5 L79.5 120.2 L79.7 120.1 L80.0 120.0 L80.3 120.1 L80.5 120.2 L80.6 120.5"/></g><g fill="#111"><circle cx="120.7" cy="85.8" r="0.5"/><circle cx="98.5" cy="120.3" r="0.5"/><circle cx="102.5" cy="120.3" r="0.5"/><circle cx="105.8" cy="157.7" r="0.5"/><circle cx="118.7" cy="128.9" r="0.5"/><circle cx="52.5" cy="163.3" r="0.5"/><circle cx="60.0" cy="116.5" r="0.5"/><circle cx="87.5" cy="117.5" r="0.5"/></g><path d="M70.2 137.6 L69.7 142.9 L71.7 149.9 L75.2 156.9 L77.5 162.8 L79.3 168.6 L84.0 175.6 L91.0 182.7 L97.9 186.5 L103.7 191.2 L113.1 195.9 L123.6 201.7 L133.0 207.5 L142.3 213.4 L154.5 219.8" fill="none" stroke="#21a585" stroke-width="1.1"/><path d="M91.0 173.9 L95.7 179.1 L101.5 183.8 L105.9 186.6 L119.4 194.5 L131.9 201.3 L134.5 202.5" fill="none" stroke="#cde11d" stroke-width="1.2"/><path d="M150.0 213.8 L154.5 216.0" fill="none" stroke="#cde11d" stroke-width="1.2"/><path d="M66.8 15.6 L60.3 18.8 L54.5 22.9 L49.8 27.6 L46.3 33.4 L43.4 40.4 L41.6 48.6 L40.4 58.0 L39.9 66.2 L39.9 70.0 L41.6 77.0 L45.1 85.2 L48.0 93.4 L49.8 100.4 L50.6 108.6 L51.5 118.0 L52.7 126.2 L54.1 128.9 L57.1 139.4 L60.6 149.9 L64.1 159.3 L67.6 166.3" fill="none" stroke="#54309a" stroke-width="1.2"/><path d="M72.3 174.5 L78.0 186.5 L87.4 195.9 L97.9 204.0 L109.6 212.2 L121.3 218.1 L135.3 223.9 L154.5 231.5" fill="none" stroke="#54309a" stroke-width="1.2"/><text x="0" y="0" font-size="8.2" fill="#3f6fa3" transform="translate(48.6 53.5) rotate(-82)" text-anchor="middle">200</text><text x="0" y="0" font-size="7.5" fill="#3f6fa3" transform="translate(108.3 202.6) rotate(28)" text-anchor="middle">200</text><text x="0" y="0" font-size="6.5" fill="#54309a" transform="translate(66.8 170.3) rotate(60)" text-anchor="middle">00</text><text x="0" y="0" font-size="8.8" fill="#cde11d" transform="translate(86.2 171.2) rotate(52)" text-anchor="middle">600</text><text x="0" y="0" font-size="8.8" fill="#cde11d" transform="translate(145 214.6) rotate(32)" text-anchor="middle">600</text><path d="M69.5 -5.0 L68.0 -3.5 L65.2 -0.7 L62.6 1.9 L59.7 4.2 L56.2 6.6 L52.3 8.7 L48.6 10.7 L45.4 12.7 L42.5 15.0 L40.2 17.7 L38.1 20.5 L36.4 23.5 L34.4 26.8 L32.2 30.5 L30.2 34.6 L28.4 38.7 L27.2 42.8 L26.2 46.9 L25.6 50.8 L25.1 54.5 L24.5 58.2 L23.8 62.2 L23.2 66.5 L22.9 70.6 L23.2 74.9 L23.8 79.4 L25.0 83.9 L26.7 88.1 L28.8 92.0 L31.1 95.8 L33.0 99.3 L34.6 102.8 L35.5 106.5 L36.2 110.4 L36.7 114.5 L37.1 118.6 L37.6 122.5 L38.2 126.3 L38.8 129.9 L39.6 133.6 L40.5 137.4 L41.4 141.3 L42.4 145.3 L43.4 149.5 L44.4 153.8 L45.5 157.8 L46.6 161.6 L47.7 165.1 L49.0 168.5 L50.5 171.7 L52.0 174.9 L53.7 177.9 L55.5 180.7 L57.5 183.5 L59.7 186.3 L62.2 189.2 L64.9 192.5 L67.4 196.0 L69.8 199.7 L72.1 203.3 L74.9 206.5 L78.0 209.1 L81.5 211.2 L85.0 213.3 L88.5 215.4 L92.0 217.5 L95.5 219.7 L99.0 221.9 L102.6 224.2 L106.1 226.4 L109.6 228.5 L113.1 230.5 L116.6 232.4 L120.1 234.2 L123.6 236.1 L127.0 237.9 L130.3 239.6 L133.5 241.2 L136.8 242.8 L140.1 244.5 L143.6 246.2 L147.2 247.9 L150.9 249.7 L154.4 251.3 L157.8 252.9 L161.2 254.4 L162.8 255.2" fill="none" stroke="#a862d4" stroke-width="1.7" stroke-linejoin="round"/><g fill="none" stroke="#a862d4" stroke-width="1.1"><rect x="0.3" y="-2.6" width="5.2" height="5.2" transform="translate(40.4 17.8) rotate(40.3)"/><rect x="0.3" y="-2.6" width="5.2" height="5.2" transform="translate(23.2 70.7) rotate(-0.0)"/><rect x="0.3" y="-2.6" width="5.2" height="5.2" transform="translate(37.7 122.4) rotate(-8.0)"/><rect x="0.3" y="-2.6" width="5.2" height="5.2" transform="translate(55.6 180.7) rotate(-33.6)"/><rect x="0.3" y="-2.6" width="5.2" height="5.2" transform="translate(95.5 219.7) rotate(-58.1)"/><rect x="0.3" y="-2.6" width="5.2" height="5.2" transform="translate(136.9 242.8) rotate(-63.8)"/></g>
</g>
<rect x="0" y="0" width="153.5" height="253.0" fill="none" stroke="#8a8a8a" stroke-width="1"/>
<rect x="2.2" y="1.5" width="9.5" height="12" rx="1.6" fill="#fff" stroke="#444" stroke-width="0.55"/>
<text x="7" y="10.6" font-size="8.6" text-anchor="middle" fill="#111">f</text>
<rect x="109.9" y="1.3" width="40.5" height="12" rx="1.6" fill="#fff" stroke="#555" stroke-width="0.6"/>
<text x="130.3" y="10.5" font-size="8.8" text-anchor="middle" fill="#2ca02c">Model3c</text>
</g>
<text font-size="8.4" fill="#111" text-anchor="middle" transform="translate(16.2 15.3) rotate(24.0)" y="3">10°N</text><text font-size="8.4" fill="#111" text-anchor="middle" transform="translate(15.3 75.5) rotate(-21.0)" y="3">90°E</text><text font-size="8.4" fill="#111" text-anchor="middle" transform="translate(21.2 94.0) rotate(-20.0)" y="3">0°</text><text font-size="8.4" fill="#111" text-anchor="middle" transform="translate(16.7 169.0) rotate(24.0)" y="3">10°S</text><text font-size="8.4" fill="#111" text-anchor="middle" transform="translate(12.6 237.3) rotate(-20.0)" y="3">100°E</text><circle cx="25.8" cy="93.8" r="0.6" fill="#444"/><text font-size="8.4" fill="#111" text-anchor="middle" transform="translate(16.2 273.8) rotate(24.0)" y="3">10°N</text><text font-size="8.4" fill="#111" text-anchor="middle" transform="translate(15.3 334.0) rotate(-21.0)" y="3">90°E</text><text font-size="8.4" fill="#111" text-anchor="middle" transform="translate(21.2 352.5) rotate(-20.0)" y="3">0°</text><text font-size="8.4" fill="#111" text-anchor="middle" transform="translate(16.7 427.5) rotate(24.0)" y="3">10°S</text><text font-size="8.4" fill="#111" text-anchor="middle" transform="translate(12.6 495.8) rotate(-20.0)" y="3">100°E</text><circle cx="25.8" cy="352.3" r="0.6" fill="#444"/><clipPath id="lc1"><rect x="0" y="505" width="185.6" height="30"/></clipPath><clipPath id="lc2"><rect x="0" y="505" width="346" height="30"/></clipPath><text font-size="8.6" fill="#111" text-anchor="middle" transform="translate(96.4 520.3) rotate(3)">110°E</text><g clip-path="url(#lc1)"><text font-size="8.6" fill="#111" transform="translate(163.8 519.7) rotate(3)">120°E</text></g><text font-size="8.6" fill="#111" text-anchor="middle" transform="translate(256.9 520.3) rotate(3)">110°E</text><g clip-path="url(#lc2)"><text font-size="8.6" fill="#111" transform="translate(324.3 519.7) rotate(3)">120°E</text></g><text font-size="8.6" fill="#111" text-anchor="middle" transform="translate(417.2 520.3) rotate(3)">110°E</text><g><text font-size="8.6" fill="#111" transform="translate(484.6 519.7) rotate(3)">120°E</text></g><g transform="translate(51.7 221.6) rotate(24)"><rect x="-19" y="-5.6" width="38" height="11" fill="#fff" opacity="0.72"/><text x="0" y="3.4" font-size="10" text-anchor="middle" fill="#111">500 km</text></g><line x1="33.3" y1="223.2" x2="64.8" y2="237.2" stroke="#000" stroke-width="1.4"/><rect x="172.50" y="531.7" width="16.73" height="11.8" fill="#2a3468"/><rect x="188.93" y="531.7" width="16.73" height="11.8" fill="#2c4f84"/><rect x="205.36" y="531.7" width="16.73" height="11.8" fill="#426d9c"/><rect x="221.79" y="531.7" width="16.73" height="11.8" fill="#6389b0"/><rect x="238.21" y="531.7" width="16.73" height="11.8" fill="#89a6c4"/><rect x="254.64" y="531.7" width="16.73" height="11.8" fill="#adc0d7"/><rect x="271.07" y="531.7" width="16.73" height="11.8" fill="#d0dce5"/><rect x="287.50" y="531.7" width="16.73" height="11.8" fill="#d6e6db"/><rect x="303.93" y="531.7" width="16.73" height="11.8" fill="#b6d5b9"/><rect x="320.36" y="531.7" width="16.73" height="11.8" fill="#98c199"/><rect x="336.79" y="531.7" width="16.73" height="11.8" fill="#74ae78"/><rect x="353.21" y="531.7" width="16.73" height="11.8" fill="#569858"/><rect x="369.64" y="531.7" width="16.73" height="11.8" fill="#447c34"/><rect x="386.07" y="531.7" width="16.43" height="11.8" fill="#40641e"/><rect x="172.5" y="531.7" width="230.0" height="11.8" fill="none" stroke="#555" stroke-width="0.7"/><line x1="287.5" y1="531.7" x2="287.5" y2="543.5" stroke="#ff7f50" stroke-width="1.6"/><line x1="188.9" y1="543.5" x2="188.9" y2="545.8" stroke="#333" stroke-width="0.6"/><text x="188.9" y="556" font-size="11.5" fill="#111" text-anchor="middle">−5.0</text><line x1="221.8" y1="543.5" x2="221.8" y2="545.8" stroke="#333" stroke-width="0.6"/><text x="221.8" y="556" font-size="11.5" fill="#111" text-anchor="middle">−0.4</text><line x1="254.6" y1="543.5" x2="254.6" y2="545.8" stroke="#333" stroke-width="0.6"/><text x="254.6" y="556" font-size="11.5" fill="#111" text-anchor="middle">−0.1</text><line x1="287.5" y1="543.5" x2="287.5" y2="545.8" stroke="#333" stroke-width="0.6"/><text x="287.5" y="556" font-size="11.5" fill="#111" text-anchor="middle">0.0</text><line x1="320.4" y1="543.5" x2="320.4" y2="545.8" stroke="#333" stroke-width="0.6"/><text x="320.4" y="556" font-size="11.5" fill="#111" text-anchor="middle">0.1</text><line x1="353.2" y1="543.5" x2="353.2" y2="545.8" stroke="#333" stroke-width="0.6"/><text x="353.2" y="556" font-size="11.5" fill="#111" text-anchor="middle">0.4</text><line x1="386.1" y1="543.5" x2="386.1" y2="545.8" stroke="#333" stroke-width="0.6"/><text x="386.1" y="556" font-size="11.5" fill="#111" text-anchor="middle">5.0</text><text x="286.8" y="570.6" font-size="12" fill="#111" text-anchor="middle" font-style="oblique">Dilatation <tspan font-style="normal">(</tspan>s<tspan font-size="8.4" dy="-4.4" font-style="normal">−1</tspan><tspan dy="4.4" font-style="normal">)</tspan></text><text x="402.3" y="570.6" font-size="11.5" fill="#111" text-anchor="end">1e−14</text>
<rect x="560.4" y="239.3" width="61.2" height="260.3" fill="#eaeefb"/><rect x="621.6" y="239.3" width="61.1" height="260.3" fill="#e7f1e7"/><line x1="591.0" y1="239.3" x2="591.0" y2="499.6" stroke="#c4c8c4" stroke-width="0.7"/><line x1="652.2" y1="239.3" x2="652.2" y2="499.6" stroke="#c4c8c4" stroke-width="0.7"/><line x1="560.4" y1="299.5" x2="682.7" y2="299.5" stroke="#c4c8c4" stroke-width="0.7"/><line x1="560.4" y1="359.7" x2="682.7" y2="359.7" stroke="#c4c8c4" stroke-width="0.7"/><line x1="560.4" y1="419.9" x2="682.7" y2="419.9" stroke="#c4c8c4" stroke-width="0.7"/><line x1="560.4" y1="480.1" x2="682.7" y2="480.1" stroke="#c4c8c4" stroke-width="0.7"/><clipPath id="gc"><rect x="560.4" y="239.3" width="122.3" height="260.3"/></clipPath><g clip-path="url(#gc)" fill="none" stroke-linejoin="round"><path d="M619.7 239.2 C619.8 242.9 620.3 242.8 619.9 250.4 C619.5 257.9 619.6 254.2 618.4 261.9 C617.1 269.6 618.1 265.7 616.1 273.4 C614.0 281.1 614.3 279.5 612.2 284.9 C610.1 290.4 612.2 286.2 609.7 289.7 C607.3 293.2 609.1 292.0 604.9 295.5 C600.8 299.0 603.0 297.4 597.2 300.3 C591.5 303.2 593.7 301.6 587.6 304.1 C581.6 306.7 583.0 305.4 579.0 308.0 C575.0 310.5 576.4 308.6 575.7 311.8 C575.1 315.0 575.0 313.7 577.1 317.6 C579.1 321.4 579.8 319.5 581.9 323.3 C584.0 327.2 584.1 324.6 583.4 329.1 C582.8 333.6 582.7 331.6 580.0 336.8 C577.2 341.9 577.4 340.4 575.2 344.4 C572.9 348.5 572.6 343.5 573.2 348.8 C573.9 354.1 573.6 353.6 577.1 360.3 C580.6 367.0 580.6 364.5 583.8 369.0 C587.0 373.4 587.3 370.2 586.7 373.8 C586.0 377.3 586.0 375.4 581.9 379.5 C577.7 383.7 578.7 382.1 574.2 386.2 C569.7 390.4 569.4 388.5 568.4 392.0 C567.5 395.5 566.2 393.6 571.3 396.8 C576.4 400.0 574.5 398.7 583.8 401.6 C593.1 404.5 591.2 402.9 599.2 405.4 C607.2 408.0 604.7 406.4 607.8 409.3 C610.9 412.2 609.7 410.6 608.4 414.1 C607.1 417.6 608.0 416.0 604.0 419.8 C599.9 423.7 600.4 422.4 596.3 425.6 C592.1 428.8 593.1 426.1 591.5 429.4 C589.9 432.8 591.8 431.7 591.5 435.7 C591.2 439.7 590.2 437.6 590.5 441.5 C590.8 445.3 592.4 443.4 592.4 447.2 C592.4 451.1 591.5 449.2 590.5 453.0 C589.6 456.8 589.2 454.9 589.6 458.8 C589.9 462.6 589.2 460.4 591.5 464.5 C593.7 468.7 593.4 466.8 596.3 471.2 C599.2 475.7 598.5 473.8 600.1 478.0 C601.7 482.1 601.7 479.9 601.1 483.7 C600.4 487.6 602.4 485.6 598.2 489.5 C594.0 493.3 595.6 491.9 588.6 495.2 C581.6 498.6 580.9 498.2 577.1 499.7" stroke="#17becf" stroke-width="1.1"/><path d="M617.4 239.2 C617.7 242.9 618.4 242.8 618.4 250.4 C618.4 257.9 618.7 254.2 617.4 261.9 C616.1 269.6 617.1 266.4 614.5 273.4 C612.0 280.4 613.2 277.6 609.7 283.0 C606.2 288.4 608.8 285.9 604.0 289.7 C599.2 293.6 602.0 291.3 595.3 294.5 C588.6 297.7 591.5 296.1 583.8 299.3 C576.1 302.5 578.4 300.9 572.3 304.1 C566.2 307.3 567.5 305.7 565.6 308.9 C563.6 312.1 564.6 310.2 566.5 313.7 C568.4 317.2 568.4 315.6 571.3 319.5 C574.2 323.3 574.2 321.4 575.2 325.2 C576.1 329.1 575.5 327.2 574.2 331.0 C572.9 334.8 572.7 332.3 571.3 336.8 C569.9 341.2 570.0 340.4 570.0 344.4 C570.0 348.5 569.3 344.2 571.3 348.8 C573.4 353.5 572.0 352.6 576.1 358.4 C580.3 364.2 578.4 361.3 583.8 366.1 C589.2 370.9 588.6 369.3 592.4 372.8 C596.3 376.3 595.6 373.8 595.3 376.6 C595.0 379.5 595.3 378.2 591.5 381.4 C587.6 384.6 588.0 383.0 583.8 386.2 C579.6 389.4 579.6 387.8 579.0 391.0 C578.4 394.2 577.1 392.6 581.9 395.8 C586.7 399.0 585.1 397.8 593.4 400.6 C601.7 403.5 599.2 402.2 606.8 404.5 C614.5 406.7 612.3 404.8 616.4 407.4 C620.6 409.9 619.3 408.6 619.3 412.2 C619.3 415.7 619.3 414.1 616.4 417.9 C613.6 421.8 613.4 419.8 610.7 423.7 C608.0 427.5 611.3 426.7 608.4 429.4 C605.5 432.2 604.5 429.5 602.0 431.9 C599.6 434.3 600.4 433.5 601.1 436.7 C601.7 439.9 601.4 438.6 604.0 441.5 C606.5 444.4 606.8 442.1 608.8 445.3 C610.7 448.5 610.0 447.2 609.7 451.1 C609.4 454.9 607.8 453.0 607.8 456.8 C607.8 460.7 606.2 458.8 609.7 462.6 C613.2 466.4 612.9 463.9 618.4 468.4 C623.8 472.8 621.6 471.2 626.0 476.0 C630.5 480.8 629.6 478.9 631.8 482.8 C634.0 486.6 634.0 484.4 632.8 487.6 C631.5 490.8 632.4 489.5 628.0 492.4 C623.5 495.2 623.5 493.8 619.3 496.2 C615.2 498.6 616.8 498.5 615.5 499.7" stroke="#bcbd22" stroke-width="1.1"/><path d="M664.4 239.2 C664.8 241.7 666.0 240.9 665.4 246.5 C664.8 252.2 665.4 249.1 662.5 256.1 C659.6 263.2 661.2 259.3 656.8 267.6 C652.3 276.0 655.5 273.1 649.1 281.1 C642.7 289.1 646.5 286.5 637.6 291.6 C628.6 296.8 632.4 293.6 622.2 296.4 C612.0 299.3 615.5 298.0 606.8 300.3 C598.2 302.5 601.4 300.6 596.3 303.2 C591.2 305.7 592.1 304.4 591.5 308.0 C590.8 311.5 591.5 309.9 594.4 313.7 C597.2 317.6 597.4 316.0 600.1 319.5 C602.9 323.0 602.9 321.7 602.6 324.3 C602.3 326.8 602.2 324.9 599.2 327.2 C596.1 329.4 597.2 327.8 593.4 331.0 C589.6 334.2 590.8 332.3 587.6 336.8 C584.4 341.2 585.1 337.9 583.8 344.4 C582.5 351.0 582.5 349.9 583.8 356.5 C585.1 363.1 584.1 359.4 587.6 364.2 C591.2 369.0 591.5 367.4 594.4 370.9 C597.2 374.4 597.6 371.5 596.3 374.7 C595.0 377.9 596.6 377.0 590.5 380.5 C584.4 384.0 584.8 382.7 578.0 385.3 C571.3 387.8 571.6 385.3 570.4 388.2 C569.1 391.0 568.4 390.7 574.2 393.9 C580.0 397.1 577.4 395.5 587.6 397.8 C597.9 400.0 594.0 398.7 604.9 400.6 C615.8 402.6 613.2 401.3 620.3 403.5 C627.3 405.8 624.4 404.5 626.0 407.4 C627.6 410.2 627.6 408.6 625.1 412.2 C622.5 415.7 623.2 414.1 618.4 417.9 C613.6 421.8 614.8 419.8 610.7 423.7 C606.5 427.5 606.8 427.4 605.9 429.4 C604.9 431.5 606.2 427.9 607.8 430.0 C609.4 432.1 608.1 431.9 610.7 435.7 C613.2 439.6 612.3 437.0 615.5 441.5 C618.7 446.0 615.8 444.4 620.3 449.2 C624.8 454.0 623.2 451.4 628.9 455.9 C634.7 460.4 633.7 457.8 637.6 462.6 C641.4 467.4 639.8 465.8 640.4 470.3 C641.1 474.8 641.1 472.2 639.5 476.0 C637.9 479.9 637.9 478.0 635.6 481.8 C633.4 485.6 636.0 483.7 632.8 487.6 C629.6 491.4 630.2 490.1 626.0 493.3 C621.9 496.5 622.5 495.1 620.3 497.2 C618.0 499.3 619.6 498.8 619.3 499.7" stroke="#e377c2" stroke-width="1.1"/><path d="M620.3 239.2 C620.4 242.9 621.0 242.8 620.7 250.4 C620.3 257.9 620.7 254.2 619.3 261.9 C617.9 269.6 618.7 265.7 616.4 273.4 C614.2 281.1 615.8 278.5 612.6 284.9 C609.4 291.3 611.3 287.8 606.8 292.6 C602.4 297.4 604.3 295.5 599.2 299.3 C594.0 303.2 595.2 300.9 591.5 304.1 C587.8 307.3 589.0 305.1 588.0 308.9 C587.1 312.8 587.5 311.5 588.6 315.6 C589.8 319.8 590.2 317.6 591.5 321.4 C592.8 325.2 593.1 323.3 592.4 327.2 C591.8 331.0 592.4 329.1 589.6 332.9 C586.7 336.8 587.3 334.8 583.8 338.7 C580.3 342.5 580.0 340.4 579.0 344.4 C578.0 348.5 579.6 344.8 580.9 350.7 C582.2 356.7 580.9 355.5 582.8 362.2 C584.8 369.0 586.0 365.8 586.7 370.9 C587.3 376.0 587.3 373.1 584.8 377.6 C582.2 382.1 582.2 380.2 579.0 384.3 C575.8 388.5 575.8 386.2 575.2 390.1 C574.5 393.9 573.6 392.3 577.1 395.8 C580.6 399.4 580.3 397.8 585.7 400.6 C591.2 403.5 589.2 401.6 593.4 404.5 C597.6 407.4 597.2 405.4 598.2 409.3 C599.2 413.1 598.8 411.2 596.3 416.0 C593.7 420.8 593.7 419.2 590.5 423.7 C587.3 428.2 588.6 426.7 586.7 429.4 C584.8 432.2 585.4 427.9 584.8 431.9 C584.1 435.9 583.5 435.1 584.8 441.5 C586.0 447.9 584.8 445.3 588.6 451.1 C592.4 456.8 591.5 453.6 596.3 458.8 C601.1 463.9 599.8 461.3 603.0 466.4 C606.2 471.6 605.6 469.0 605.9 474.1 C606.2 479.2 606.2 476.7 604.0 481.8 C601.7 486.9 602.4 483.5 599.2 489.5 C596.0 495.4 596.0 496.3 594.4 499.7" stroke="#8c564b" stroke-width="1.1"/><path d="M591.5 239.2 C592.1 241.7 592.8 241.5 593.4 246.5 C594.0 251.5 593.9 248.4 593.4 254.2 C592.9 260.0 593.1 257.4 591.9 263.8 C590.6 270.2 591.3 267.6 589.6 273.4 C587.8 279.2 589.2 276.3 586.7 281.1 C584.1 285.9 586.0 283.3 581.9 287.8 C577.7 292.3 579.3 290.4 574.2 294.5 C569.1 298.7 570.0 296.4 566.5 300.3 C563.0 304.1 564.3 302.2 563.6 306.0 C563.0 309.9 562.7 308.3 564.6 311.8 C566.5 315.3 566.2 313.1 569.4 316.6 C572.6 320.1 572.1 318.2 574.2 322.4 C576.3 326.5 575.2 324.3 575.7 329.1 C576.2 333.9 575.1 331.6 575.7 336.8 C576.4 341.9 575.6 339.8 577.7 344.4 C579.7 349.1 579.2 344.8 581.9 350.7 C584.6 356.7 583.5 355.2 585.7 362.2 C588.0 369.3 588.0 366.7 588.6 371.8 C589.2 377.0 589.2 373.8 587.6 377.6 C586.0 381.4 586.0 379.5 583.8 383.4 C581.6 387.2 580.9 385.3 580.9 389.1 C580.9 393.0 580.9 391.0 583.8 394.9 C586.7 398.7 586.4 396.8 589.6 400.6 C592.8 404.5 592.4 401.9 593.4 406.4 C594.4 410.9 594.4 409.0 592.4 414.1 C590.5 419.2 591.2 416.6 587.6 421.8 C584.1 426.9 584.8 426.1 581.9 429.4 C579.0 432.8 580.4 427.9 579.0 431.9 C577.6 435.9 577.7 435.1 577.7 441.5 C577.7 447.9 576.3 444.7 579.0 451.1 C581.7 457.5 581.2 454.3 585.7 460.7 C590.2 467.1 589.6 463.9 592.4 470.3 C595.3 476.7 594.4 473.5 594.4 479.9 C594.4 486.3 594.4 482.9 592.4 489.5 C590.5 496.1 589.9 496.3 588.6 499.7" stroke="#d62728" stroke-width="1.1"/><path d="M626.0 239.2 C626.7 241.7 627.5 240.2 628.0 246.5 C628.5 252.8 628.5 250.4 627.6 258.0 C626.6 265.7 627.2 261.9 625.1 269.6 C623.0 277.2 624.8 274.0 621.2 281.1 C617.7 288.1 620.0 285.2 614.5 290.7 C609.1 296.1 611.0 293.6 604.9 297.4 C598.8 301.2 600.4 299.0 596.3 302.2 C592.1 305.4 593.4 303.2 592.4 307.0 C591.5 310.8 591.5 309.6 593.4 313.7 C595.3 317.9 596.0 315.6 598.2 319.5 C600.4 323.3 600.1 321.4 600.1 325.2 C600.1 329.1 600.4 327.2 598.2 331.0 C596.0 334.8 595.6 332.3 593.4 336.8 C591.2 341.2 592.8 340.4 591.5 344.4 C590.2 348.5 589.6 343.5 589.6 348.8 C589.6 354.1 589.9 353.3 591.5 360.3 C593.1 367.4 594.0 364.2 594.4 369.9 C594.7 375.7 595.3 372.8 592.4 377.6 C589.6 382.4 588.9 380.2 585.7 384.3 C582.5 388.5 583.2 386.2 582.8 390.1 C582.5 393.9 581.6 392.3 584.8 395.8 C588.0 399.4 587.6 397.4 592.4 400.6 C597.2 403.8 596.0 401.9 599.2 405.4 C602.4 409.0 602.0 407.0 602.0 411.2 C602.0 415.4 601.7 413.4 599.2 417.9 C596.6 422.4 597.2 420.8 594.4 424.6 C591.5 428.5 592.8 426.4 590.5 429.4 C588.3 432.5 588.6 429.2 587.6 433.8 C586.7 438.5 586.0 437.0 587.6 443.4 C589.2 449.8 588.3 447.2 592.4 453.0 C596.6 458.8 595.3 456.2 600.1 460.7 C604.9 465.2 603.6 462.6 606.8 466.4 C610.0 470.3 609.1 467.7 609.7 472.2 C610.4 476.7 610.4 474.8 608.8 479.9 C607.2 485.0 607.8 482.4 604.9 487.6 C602.0 492.7 602.4 491.2 600.1 495.2 C597.9 499.3 598.8 498.2 598.2 499.7" stroke="#2ca02c" stroke-width="1.1"/><path d="M599.5 311.8 C598.7 313.7 599.4 313.7 596.9 317.6 C594.3 321.4 595.9 319.4 591.9 323.3 C587.8 327.3 588.7 325.0 584.8 329.5 C580.8 334.0 582.6 332.1 580.0 336.8 C577.3 341.4 578.6 340.1 576.7 343.5 C574.8 346.9 575.2 341.6 574.4 346.9 C573.6 352.2 574.3 355.2 574.2 359.4" stroke="#000" stroke-width="2" stroke-dasharray="3 1.4 0.8 1.4"/><path d="M610.7 443.4 C610.0 446.0 609.7 446.0 608.8 451.1 C607.8 456.2 608.4 454.2 607.8 458.8 C607.2 463.4 607.7 461.1 606.8 464.9 C606.0 468.7 608.8 467.1 605.3 470.3 C601.8 473.5 602.8 471.0 596.3 474.5 C589.8 478.0 593.1 476.8 585.7 480.8 C578.4 484.9 581.2 483.3 574.2 486.6 C567.2 489.9 569.2 488.5 564.6 490.8 C560.0 493.2 561.8 492.7 560.4 493.7" stroke="#000" stroke-width="2" stroke-dasharray="3 1.4 0.8 1.4"/><path d="M601.5 304.5 C601.1 306.4 602.5 306.7 600.3 310.3 C598.1 313.9 599.3 311.7 594.9 315.3 C590.6 318.8 591.9 317.1 587.3 321.0 C582.6 325.0 584.7 322.6 581.1 327.2 C577.5 331.8 578.9 330.0 576.5 334.8 C574.1 339.6 574.4 336.9 573.8 341.6 C573.2 346.2 574.5 342.5 574.8 348.8 C575.1 355.1 573.6 354.6 574.8 360.3 C576.0 366.1 574.5 361.9 578.4 366.1 C582.4 370.2 580.7 369.6 586.7 372.8 C592.6 376.0 589.6 373.4 596.3 375.7 C603.0 377.9 600.1 376.6 606.8 379.5 C613.6 382.4 611.0 381.6 616.4 384.3 C621.9 387.0 618.0 385.0 623.2 387.6 C628.3 390.1 627.3 388.6 631.8 392.0 C636.3 395.4 635.3 393.6 636.6 397.8 C637.9 401.9 637.6 400.3 635.6 404.5 C633.7 408.6 634.4 406.4 630.8 410.2 C627.3 414.1 628.3 411.5 625.1 416.0 C621.9 420.5 623.5 419.2 621.2 423.7 C619.0 428.2 620.0 427.4 618.4 429.4 C616.8 431.5 619.0 427.5 616.4 430.0 C613.9 432.4 615.8 432.8 610.7 436.7 C605.6 440.5 607.5 438.3 601.1 441.5 C594.7 444.7 596.3 443.1 591.5 446.3 C586.7 449.5 588.6 447.2 586.7 451.1 C584.8 454.9 585.1 452.7 585.7 457.8 C586.4 462.9 586.2 461.5 588.6 466.4 C591.0 471.4 591.4 470.5 592.8 472.6" stroke="#000" stroke-width="2.1" stroke-dasharray="5 2.4"/><path d="M577.7 336.3 C576.5 340.5 575.4 340.8 574.2 348.8 C573.0 356.8 572.9 354.6 574.2 360.3 C575.5 366.1 573.9 361.9 578.0 366.1 C582.2 370.2 580.6 369.6 586.7 372.8 C592.8 376.0 589.6 373.4 596.3 375.7 C603.0 377.9 600.1 376.6 606.8 379.5 C613.6 382.4 611.3 381.4 616.4 384.3 C621.6 387.2 618.7 385.3 622.2 388.2 C625.7 391.0 624.8 389.8 627.0 393.0 C629.2 396.2 628.5 394.6 628.9 397.8 C629.4 401.0 628.5 401.0 628.3 402.6" stroke="#000" stroke-width="2.5"/><path d="M609.7 437.6 C608.1 439.6 607.2 438.9 604.9 443.4 C602.7 447.9 603.5 446.0 603.0 451.1 C602.5 456.2 602.4 454.3 603.4 458.8 C604.3 463.2 604.9 461.0 605.9 464.5 C606.9 468.0 607.1 466.4 606.5 469.3 C605.8 472.2 607.7 470.3 604.0 473.2 C600.3 476.0 602.0 474.4 595.3 478.0 C588.6 481.5 591.5 479.9 583.8 483.7 C576.1 487.6 580.0 485.5 572.3 489.5 C564.6 493.5 564.6 493.6 560.8 495.6" stroke="#000" stroke-width="2.5"/></g><line x1="621.6" y1="239.3" x2="621.6" y2="499.6" stroke="#666" stroke-width="0.9"/><rect x="560.4" y="239.3" width="122.3" height="260.3" fill="none" stroke="#777" stroke-width="0.9"/><circle cx="560.4" cy="239.3" r="2.6" fill="#0a8a0a"/><circle cx="560.4" cy="499.6" r="2.6" fill="#ff1010"/><g stroke="#1010ff" stroke-width="1.5"><line x1="558.1" y1="293.2" x2="562.7" y2="297.8"/><line x1="558.1" y1="297.8" x2="562.7" y2="293.2"/><line x1="558.0" y1="295.5" x2="562.8" y2="295.5"/></g><g stroke="#1010ff" stroke-width="1.5"><line x1="558.1" y1="404.7" x2="562.7" y2="409.3"/><line x1="558.1" y1="409.3" x2="562.7" y2="404.7"/><line x1="558.0" y1="407.0" x2="562.8" y2="407.0"/></g><line x1="557.9" y1="239.3" x2="560.4" y2="239.3" stroke="#333" stroke-width="0.6"/><text x="556.3" y="243.6" font-size="10.5" fill="#111" text-anchor="end">0</text><line x1="557.9" y1="299.5" x2="560.4" y2="299.5" stroke="#333" stroke-width="0.6"/><text x="556.3" y="303.8" font-size="10.5" fill="#111" text-anchor="end">1000</text><line x1="557.9" y1="359.7" x2="560.4" y2="359.7" stroke="#333" stroke-width="0.6"/><text x="556.3" y="364.0" font-size="10.5" fill="#111" text-anchor="end">2000</text><line x1="557.9" y1="419.9" x2="560.4" y2="419.9" stroke="#333" stroke-width="0.6"/><text x="556.3" y="424.2" font-size="10.5" fill="#111" text-anchor="end">3000</text><line x1="557.9" y1="480.1" x2="560.4" y2="480.1" stroke="#333" stroke-width="0.6"/><text x="556.3" y="484.4" font-size="10.5" fill="#111" text-anchor="end">4000</text><line x1="560.4" y1="499.6" x2="560.4" y2="502.1" stroke="#333" stroke-width="0.6"/><text x="560.4" y="511.6" font-size="10.5" fill="#111" text-anchor="middle">−2</text><line x1="591.0" y1="499.6" x2="591.0" y2="502.1" stroke="#333" stroke-width="0.6"/><text x="591.0" y="511.6" font-size="10.5" fill="#111" text-anchor="middle">−1</text><line x1="621.6" y1="499.6" x2="621.6" y2="502.1" stroke="#333" stroke-width="0.6"/><text x="621.6" y="511.6" font-size="10.5" fill="#111" text-anchor="middle">0</text><line x1="652.1" y1="499.6" x2="652.1" y2="502.1" stroke="#333" stroke-width="0.6"/><text x="652.1" y="511.6" font-size="10.5" fill="#111" text-anchor="middle">1</text><line x1="682.7" y1="499.6" x2="682.7" y2="502.1" stroke="#333" stroke-width="0.6"/><text x="682.7" y="511.6" font-size="10.5" fill="#111" text-anchor="middle">2</text><text x="560.2" y="523.8" font-size="10.5" fill="#111">Dilatation (<tspan font-style="oblique">s</tspan><tspan font-size="7.3" dy="-3.8">−1</tspan><tspan dy="3.8">)</tspan></text><text x="682.6" y="523.8" font-size="10.5" fill="#111" text-anchor="end">1e−15</text><text transform="translate(521.3 369.5) rotate(-90)" font-size="10.5" fill="#111" text-anchor="middle">Distance (km)</text><text x="560.4" y="234.2" font-size="10.5" fill="#111">Contrac.</text><text x="679.4" y="234.2" font-size="10.5" fill="#111" text-anchor="end">Extension</text><rect x="531.9" y="224.4" width="10.4" height="13.2" rx="1.5" fill="#fff" stroke="#ccc" stroke-width="0.6"/><text x="537.1" y="234" font-size="10" fill="#111" text-anchor="middle">g</text><rect x="656.8" y="482.8" width="23" height="11.6" rx="1.5" fill="#e7f1e7" stroke="#ccd" stroke-width="0.6"/><text x="668.3" y="492.3" font-size="10.4" fill="#ff7f0e" text-anchor="middle">400</text>
<rect x="559.4" y="1.3" width="94.4" height="155.7" fill="#fff"/><clipPath id="ic"><rect x="559.4" y="1.3" width="94.4" height="155.7"/></clipPath><g clip-path="url(#ic)"><g stroke="#d6d6d6" stroke-width="0.5"><line x1="559.4" y1="16.6" x2="653.8" y2="57.8"/><line x1="559.4" y1="60.4" x2="653.8" y2="98.1"/><line x1="559.4" y1="103.9" x2="653.8" y2="139.0"/><line x1="559.4" y1="57.8" x2="583.8" y2="1.4"/><line x1="559.4" y1="138.4" x2="627.6" y2="1.7"/><line x1="599.6" y1="157.0" x2="653.8" y2="48.0"/><line x1="645.1" y1="157.0" x2="653.8" y2="139.0"/><line x1="612.0" y1="1.3" x2="653.8" y2="17.0"/></g><g transform="translate(563.6 8.0) scale(0.565)"><g fill="none" stroke="#000" stroke-width="0.9" stroke-linejoin="round"><path d="M66.5 1.3 L67.4 4.5 L70.1 8.1 L72.4 9.0 L75.3 7.6 L78.7 8.1 L82.1 6.7 L85.9 4.9 L86.9 8.6 L86.2 13.1 L86.2 7.7 L86.8 11.2 L85.6 14.7 L84.4 19.4 L83.9 24.1 L83.3 28.7 L82.1 33.4 L80.9 36.9 L79.2 41.6 L78.0 45.1 L75.7 48.6 L74.5 51.0 L73.0 52.7 L71.5 56.1 L69.2 60.6 L67.4 65.1 L66.9 67.4 L69.7 69.7 L70.8 74.2 L71.9 79.8 L71.0 84.4 L71.5 90.0 L70.1 95.7 L69.7 101.3 L68.7 107.0 L67.4 112.6 L69.7 116.0 L72.4 119.4 L74.2 122.8 L77.6 125.8 L81.4 126.7 L84.4 125.1 L85.0 126.2 L85.6 121.5 L84.4 116.8 L85.0 112.1 L87.4 107.5 L89.7 101.6 L89.1 95.8 L86.2 89.9 L83.3 84.1 L78.6 79.4 L77.4 74.7 L79.8 68.9 L79.2 63.0 L76.3 62.7 L76.8 58.0 L80.3 53.3 L83.9 49.8 L87.4 45.7 L90.3 41.6 L92.0 38.7 L95.0 37.9 L97.9 38.7 L99.3 40.4 L97.3 42.2 L96.1 44.5 L97.9 46.3 L100.8 47.5 L103.2 49.8 L104.9 52.7 L105.8 55.6 L105.1 58.0 L106.1 60.3 L104.9 63.0 L108.4 66.5 L113.1 71.2 L114.9 73.5 L111.9 75.3 L109.0 81.7 L113.1 81.1 L118.9 80.0 L120.7 75.9 L122.5 79.4 L126.0 74.7 L129.5 76.5 L135.3 77.0 L141.2 75.9 L145.8 72.4 L149.4 67.7 L151.7 61.8 L152.9 61.5 L152.6 55.6 L152.3 49.8 L151.1 43.9 L149.4 39.3 L147.0 34.6 L145.3 29.9 L144.7 25.2 L143.5 20.6 L144.7 17.0 L149.4 13.0 L154.5 11.2"/><path d="M39.9 71.2 L40.4 75.9 L42.2 80.6 L44.5 86.4 L46.3 93.4 L47.5 99.3 L49.2 103.9 L51.0 109.8 L51.0 115.6 L52.1 120.3 L53.0 127.7 L54.7 140.6 L57.6 152.2 L61.7 162.8 L66.4 171.0 L71.1 175.6 L72.0 178.0 L72.5 177.5 L76.4 173.5 L78.1 169.8 L81.0 163.9 L78.5 157.5 L76.9 153.5 L77.5 148.7 L76.9 140.6 L74.6 131.2 L72.3 119.5 L69.7 115.6 L66.2 111.5 L63.2 107.5 L60.3 102.8 L58.6 98.1 L56.8 92.2 L55.1 86.4 L52.7 82.3 L48.6 78.2 L43.9 74.1 L39.9 71.2"/><path d="M81.5 149.9 L85.6 148.7 L88.5 151.1 L88.0 154.6 L89.7 158.1 L87.4 159.9 L85.0 156.9 L83.3 154.6 L81.5 153.4 L81.5 149.9"/><path d="M98.5 163.4 L98.2 164.7 L97.2 165.7 L95.9 166.0 L94.6 165.7 L93.6 164.7 L93.3 163.4 L93.6 162.1 L94.6 161.1 L95.9 160.8 L97.2 161.1 L98.2 162.1 L98.5 163.4"/><path d="M154.5 135.3 L149.4 137.6 L144.7 138.8 L140.0 138.2 L135.3 137.0 L133.6 138.2 L131.8 141.1 L128.9 144.6 L126.0 142.3 L122.5 140.0 L120.1 137.0 L117.2 137.6 L114.3 140.0 L112.2 144.1 L112.5 147.6 L110.8 151.1 L111.7 154.6 L113.1 157.5 L112.2 161.6 L111.7 166.3 L110.8 169.8 L114.3 172.1 L118.4 174.5 L120.7 178.0 L124.8 179.1 L128.3 178.0 L130.6 180.3 L134.2 183.2 L137.7 185.6 L136.9 190.0 L146.5 190.0 L149.0 191.9 L147.1 193.8 L149.0 188.7 L152.9 184.9 L155.0 182.3"/><path d="M72.5 179.5 L76.5 180.5 L80.5 185.5 L86.5 189.5 L92.5 194.5 L99.5 198.5 L106.5 202.5 L113.5 206.5 L120.5 210.5 L126.5 213.5 L132.5 216.5 L125.5 216.5 L118.5 213.5 L111.5 210.5 L104.5 206.5 L97.5 202.5 L90.5 198.5 L83.5 193.5 L77.5 188.5 L73.5 183.5 L72.5 179.5"/><path d="M130.6 219.2 L130.0 219.6 L129.0 219.6 L127.9 219.1 L126.9 218.4 L126.4 217.6 L126.4 216.8 L127.0 216.4 L128.0 216.4 L129.1 216.9 L130.1 217.6 L130.6 218.4 L130.6 219.2"/><path d="M138.6 223.9 L137.9 224.4 L136.9 224.4 L135.6 223.9 L134.6 223.1 L134.0 222.2 L134.0 221.5 L134.7 221.0 L135.7 221.0 L137.0 221.5 L138.0 222.3 L138.6 223.2 L138.6 223.9"/><path d="M147.8 227.3 L147.1 227.7 L145.8 227.6 L144.3 227.0 L143.0 226.1 L142.2 225.1 L142.2 224.3 L142.9 223.9 L144.2 224.0 L145.7 224.6 L147.0 225.5 L147.8 226.5 L147.8 227.3"/><path d="M154.4 230.4 L153.9 230.7 L153.0 230.7 L151.9 230.4 L151.0 229.7 L150.5 228.9 L150.6 228.2 L151.1 227.9 L152.0 227.9 L153.1 228.2 L154.0 228.9 L154.5 229.7 L154.4 230.4"/><path d="M37.6 95.4 L37.3 95.4 L36.8 94.9 L36.4 94.3 L36.1 93.5 L36.0 92.9 L36.2 92.6 L36.5 92.6 L37.0 93.1 L37.4 93.7 L37.7 94.5 L37.8 95.1 L37.6 95.4"/><path d="M41.6 111.0 L41.0 110.8 L40.4 110.0 L39.9 108.7 L39.8 107.4 L40.0 106.4 L40.4 106.0 L41.0 106.2 L41.6 107.0 L42.1 108.3 L42.2 109.6 L42.0 110.6 L41.6 111.0"/><path d="M43.4 120.6 L43.0 120.5 L42.6 120.0 L42.2 119.3 L42.0 118.5 L42.0 117.9 L42.2 117.6 L42.6 117.7 L43.0 118.2 L43.4 118.9 L43.6 119.7 L43.6 120.3 L43.4 120.6"/><path d="M43.5 130.6 L43.1 130.5 L42.7 129.9 L42.4 129.1 L42.3 128.2 L42.3 127.5 L42.5 127.2 L42.9 127.3 L43.3 127.9 L43.6 128.7 L43.7 129.6 L43.7 130.3 L43.5 130.6"/><path d="M47.2 142.6 L46.8 142.4 L46.4 141.7 L45.9 140.7 L45.7 139.6 L45.6 138.8 L45.8 138.4 L46.2 138.6 L46.6 139.3 L47.1 140.3 L47.3 141.4 L47.4 142.2 L47.2 142.6"/><path d="M48.0 16.8 L47.9 17.7 L47.0 19.7 L45.6 22.3 L44.0 24.9 L42.7 26.7 L42.0 27.2 L42.1 26.3 L43.0 24.3 L44.4 21.7 L46.0 19.1 L47.3 17.3 L48.0 16.8"/><path d="M37.5 33.8 L37.3 33.9 L36.9 33.7 L36.6 33.3 L36.4 32.8 L36.3 32.4 L36.5 32.2 L36.7 32.1 L37.1 32.3 L37.4 32.7 L37.6 33.2 L37.7 33.6 L37.5 33.8"/><path d="M35.6 43.1 L35.4 43.1 L35.1 43.0 L34.9 42.7 L34.7 42.4 L34.7 42.1 L34.8 41.9 L35.0 41.9 L35.3 42.0 L35.5 42.3 L35.7 42.6 L35.7 42.9 L35.6 43.1"/><path d="M36.1 52.3 L35.8 52.2 L35.5 51.8 L35.2 51.1 L35.1 50.4 L35.1 49.9 L35.3 49.7 L35.6 49.8 L35.9 50.2 L36.2 50.9 L36.3 51.6 L36.3 52.1 L36.1 52.3"/><path d="M35.5 60.8 L35.2 60.6 L34.8 60.0 L34.6 59.1 L34.5 58.2 L34.6 57.5 L34.9 57.2 L35.2 57.4 L35.6 58.0 L35.8 58.9 L35.9 59.8 L35.8 60.5 L35.5 60.8"/><path d="M118.5 120.3 L118.3 121.1 L117.8 121.7 L117.2 121.9 L116.5 121.7 L116.1 121.1 L115.9 120.3 L116.1 119.5 L116.5 118.9 L117.2 118.7 L117.8 118.9 L118.3 119.5 L118.5 120.3"/><path d="M74.0 123.6 L73.5 123.6 L73.0 123.4 L72.4 122.8 L72.0 122.1 L71.8 121.5 L72.0 121.0 L72.5 121.0 L73.0 121.2 L73.6 121.8 L74.0 122.5 L74.2 123.1 L74.0 123.6"/><path d="M75.7 126.3 L75.3 126.4 L74.7 126.2 L74.1 125.7 L73.7 125.0 L73.6 124.4 L73.9 123.9 L74.3 123.8 L74.9 124.0 L75.5 124.5 L75.9 125.2 L76.0 125.8 L75.7 126.3"/><path d="M77.7 128.8 L77.3 128.9 L76.7 128.8 L76.1 128.4 L75.7 127.8 L75.6 127.2 L75.7 126.8 L76.1 126.7 L76.7 126.8 L77.3 127.2 L77.7 127.8 L77.8 128.4 L77.7 128.8"/><path d="M85.4 128.3 L85.1 128.7 L84.4 129.0 L83.4 129.0 L82.5 128.8 L81.8 128.4 L81.6 127.9 L81.9 127.5 L82.6 127.2 L83.6 127.2 L84.5 127.4 L85.2 127.8 L85.4 128.3"/><path d="M83.2 137.2 L82.8 137.6 L82.2 137.7 L81.5 137.5 L80.9 137.0 L80.7 136.4 L80.8 135.8 L81.2 135.4 L81.8 135.3 L82.5 135.5 L83.1 136.0 L83.3 136.6 L83.2 137.2"/><path d="M70.3 115.7 L69.9 115.8 L69.6 115.7 L69.2 115.4 L69.0 115.0 L69.0 114.6 L69.1 114.3 L69.5 114.2 L69.8 114.3 L70.2 114.6 L70.4 115.0 L70.4 115.4 L70.3 115.7"/><path d="M76.8 35.2 L77.0 35.4 L77.0 35.7 L76.9 36.2 L76.7 36.6 L76.4 36.8 L76.2 36.8 L76.0 36.6 L76.0 36.3 L76.1 35.8 L76.3 35.4 L76.6 35.2 L76.8 35.2"/><path d="M78.3 38.1 L78.4 38.2 L78.5 38.6 L78.4 38.9 L78.2 39.3 L77.9 39.5 L77.7 39.5 L77.6 39.4 L77.5 39.0 L77.6 38.7 L77.8 38.3 L78.1 38.1 L78.3 38.1"/><path d="M76.0 40.3 L76.2 40.5 L76.2 40.8 L76.1 41.3 L75.9 41.7 L75.6 41.9 L75.4 41.9 L75.2 41.7 L75.2 41.4 L75.3 40.9 L75.5 40.5 L75.8 40.3 L76.0 40.3"/><path d="M77.4 43.0 L77.5 43.2 L77.5 43.5 L77.5 43.8 L77.3 44.2 L77.1 44.3 L76.8 44.4 L76.7 44.2 L76.7 43.9 L76.7 43.6 L76.9 43.2 L77.1 43.1 L77.4 43.0"/><path d="M79.4 33.1 L79.5 33.3 L79.5 33.6 L79.5 33.9 L79.3 34.3 L79.1 34.4 L78.8 34.5 L78.7 34.3 L78.7 34.0 L78.7 33.7 L78.9 33.3 L79.1 33.2 L79.4 33.1"/><path d="M75.1 45.3 L75.2 45.5 L75.2 45.8 L75.2 46.1 L75.0 46.5 L74.8 46.6 L74.5 46.7 L74.4 46.5 L74.4 46.2 L74.4 45.9 L74.6 45.5 L74.8 45.4 L75.1 45.3"/><path d="M81.3 131.2 L81.1 131.4 L80.8 131.5 L80.4 131.5 L80.0 131.3 L79.8 131.0 L79.7 130.8 L79.9 130.6 L80.2 130.5 L80.6 130.5 L81.0 130.7 L81.2 131.0 L81.3 131.2"/><path d="M80.6 120.5 L80.5 120.8 L80.3 120.9 L80.0 121.0 L79.7 120.9 L79.5 120.8 L79.4 120.5 L79.5 120.2 L79.7 120.1 L80.0 120.0 L80.3 120.1 L80.5 120.2 L80.6 120.5"/></g><g fill="#111"><circle cx="120.7" cy="85.8" r="0.7"/><circle cx="98.5" cy="120.3" r="0.7"/><circle cx="102.5" cy="120.3" r="0.7"/><circle cx="105.8" cy="157.7" r="0.7"/><circle cx="118.7" cy="128.9" r="0.7"/><circle cx="52.5" cy="163.3" r="0.7"/><circle cx="60.0" cy="116.5" r="0.7"/><circle cx="87.5" cy="117.5" r="0.7"/></g><path d="M40.2 60.9 L40.2 64.3 L40.4 67.6 L40.7 70.7 L41.3 73.2 L42.2 75.4 L43.4 77.8 L43.9 80.6 L44.8 83.8 L46.2 87.7 L47.9 92.3 L49.5 97.5 L50.5 102.9 L50.9 108.0 L51.0 112.6 L51.8 116.7 L52.6 120.3 L53.4 123.7 L54.1 127.0 L55.1 130.3 L56.1 133.9 L57.2 137.6 L58.3 141.6 L59.5 145.6 L60.7 149.4 L61.9 153.1 L62.7 156.4 L63.5 159.3 L64.4 162.1 L65.4 164.8 L66.4 167.1 L67.6 169.6 L68.8 171.9 L70.1 174.1 L72.1 176.8 L74.4 180.1 L76.8 183.7 L79.6 187.3 L82.1 190.7 L84.0 193.2 L86.0 195.1 L88.0 196.8 L90.1 198.3 L93.0 200.0 L96.6 202.1 L100.2 204.2 L103.8 206.4 L107.4 208.6 L110.9 210.7 L114.3 212.7 L117.7 214.6 L121.0 216.4 L124.3 218.2 L127.7 219.9 L131.1 221.7 L134.4 223.3 L137.7 224.9 L140.9 226.4 L144.2 227.9 L147.6 229.5 L151.0 231.1 L154.5 232.7 L158.1 234.3 L161.5 235.8 L164.9 237.4 L166.6 238.2 L168.1 238.9" fill="none" stroke="#222" stroke-width="0.7"/><path d="M66.5 -17.0 L69.5 -5.0 L68.0 -3.5 L65.2 -0.7 L62.6 1.9 L59.7 4.2 L56.2 6.6 L52.3 8.7 L48.6 10.7 L45.4 12.7 L42.5 15.0 L40.2 17.7 L38.1 20.5 L36.4 23.5 L34.4 26.8 L32.2 30.5 L30.2 34.6 L28.4 38.7 L27.2 42.8 L26.2 46.9 L25.6 50.8 L25.1 54.5 L24.5 58.2 L23.8 62.2 L23.2 66.5 L22.9 70.6 L23.2 74.9 L23.8 79.4 L25.0 83.9 L26.7 88.1 L28.8 92.0 L31.1 95.8 L33.0 99.3 L34.6 102.8 L35.5 106.5 L36.2 110.4 L36.7 114.5 L37.1 118.6 L37.6 122.5 L38.2 126.3 L38.8 129.9 L39.6 133.6 L40.5 137.4 L41.4 141.3 L42.4 145.3 L43.4 149.5 L44.4 153.8 L45.5 157.8 L46.6 161.6 L47.7 165.1 L49.0 168.5 L50.5 171.7 L52.0 174.9 L53.7 177.9 L55.5 180.7 L57.5 183.5 L59.7 186.3 L62.2 189.2 L64.9 192.5 L67.4 196.0 L69.8 199.7 L72.1 203.3 L74.9 206.5 L78.0 209.1 L81.5 211.2 L85.0 213.3 L88.5 215.4 L92.0 217.5 L95.5 219.7 L99.0 221.9 L102.6 224.2 L106.1 226.4 L109.6 228.5 L113.1 230.5 L116.6 232.4 L120.1 234.2 L123.6 236.1 L127.0 237.9 L130.3 239.6 L133.5 241.2 L136.8 242.8 L140.1 244.5 L143.6 246.2 L147.2 247.9 L150.9 249.7 L154.4 251.3 L157.8 252.9 L161.2 254.4 L162.8 255.2 L174.8 259.1" fill="none" stroke="#9060c8" stroke-width="2.1" stroke-linejoin="round"/></g><path d="M602.5 21.9 L597.3 23.2 L592.0 30.1 L589.7 40.0 L588.8 47.4 L591.2 56.6 L594.7 65.3 L596.9 74.3 L599.0 83.4 L602.5 93.1 L607.9 105.5 L614.3 113.8 L623.3 120.1 L633.8 126.2 L642.6 131.5 L649.6 136.1" fill="none" stroke="#000" stroke-width="0.95" stroke-dasharray="2 0.75"/><path d="M602.5 21.9 L597.8 23.7 L593.4 30.7 L591.2 40.3 L590.3 47.3 L592.6 56.1 L596.1 64.8 L598.4 74.0 L600.4 83.0 L603.9 92.5 L609.2 104.8 L615.3 112.7 L624.1 118.8 L634.6 124.9 L643.4 130.2 L650.4 134.9" fill="none" stroke="#000" stroke-width="0.95" stroke-dasharray="2 0.75"/><path d="M602.5 21.9 L598.3 24.2 L594.8 31.3 L592.7 40.6 L591.8 47.2 L594.0 55.6 L597.5 64.3 L599.9 73.7 L601.8 82.6 L605.3 91.9 L610.5 104.1 L616.3 111.6 L624.9 117.5 L635.4 123.6 L644.2 128.9 L651.2 133.7" fill="none" stroke="#000" stroke-width="0.95" stroke-dasharray="2 0.75"/><circle cx="589.6" cy="13.1" r="1.9" fill="#0a8a0a"/><circle cx="602.5" cy="21.9" r="2.1" fill="#0a8a0a"/><circle cx="650.4" cy="134.9" r="1.9" fill="#ff1010"/><circle cx="646.9" cy="149.1" r="1.9" fill="#ff1010"/><rect x="574.8" y="47.4" width="3.2" height="3.2" fill="#1010ff"/><rect x="588.7" y="45.7" width="3.2" height="3.2" fill="#1010ff"/><rect x="591.8" y="108.1" width="3.2" height="3.2" fill="#1010ff"/><rect x="607.6" y="103.2" width="3.2" height="3.2" fill="#1010ff"/><rect x="-1.5" y="-1.5" width="3" height="3" fill="#fff" stroke="#8a5ccc" stroke-width="0.6" transform="translate(587.3 18.7) rotate(35.0)"/><rect x="-1.5" y="-1.5" width="3" height="3" fill="#fff" stroke="#8a5ccc" stroke-width="0.6" transform="translate(577.3 46.3) rotate(5.0)"/><rect x="-1.5" y="-1.5" width="3" height="3" fill="#fff" stroke="#8a5ccc" stroke-width="0.6" transform="translate(585.2 76.5) rotate(-10.0)"/><rect x="-1.5" y="-1.5" width="3" height="3" fill="#fff" stroke="#8a5ccc" stroke-width="0.6" transform="translate(595.6 109.5) rotate(-30.0)"/><rect x="-1.5" y="-1.5" width="3" height="3" fill="#fff" stroke="#8a5ccc" stroke-width="0.6" transform="translate(617.6 129.8) rotate(-32.0)"/><rect x="-1.5" y="-1.5" width="3" height="3" fill="#fff" stroke="#8a5ccc" stroke-width="0.6" transform="translate(641.7 145.3) rotate(-30.0)"/></g><rect x="559.4" y="1.3" width="94.4" height="155.7" fill="none" stroke="#888" stroke-width="0.9"/><text font-size="6.3" fill="#111" text-anchor="middle" transform="translate(551.0 16.2) rotate(0.0)" y="2.2">10°N</text><text font-size="6.3" fill="#111" text-anchor="middle" transform="translate(551.5 57.5) rotate(-17.0)" y="2.2">90°E</text><text font-size="6.3" fill="#111" text-anchor="middle" transform="translate(551.3 104.0) rotate(0.0)" y="2.2">10°S</text><text font-size="6.3" fill="#111" text-anchor="middle" transform="translate(550.0 148.3) rotate(-17.0)" y="2.2">100°E</text><text font-size="6.3" fill="#111" text-anchor="middle" transform="translate(598.7 161.7) rotate(0.0)" y="2.2">110°E</text><text font-size="6.3" fill="#111" text-anchor="middle" transform="translate(645.5 161.7) rotate(0.0)" y="2.2">120°E</text>
</svg></body></html>
